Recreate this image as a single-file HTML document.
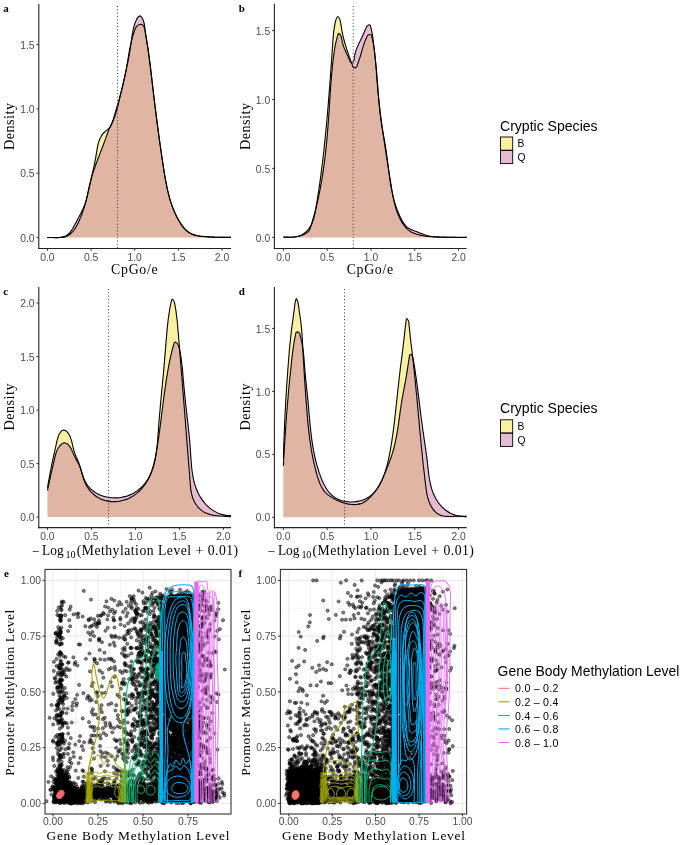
<!DOCTYPE html>
<html><head><meta charset="utf-8"><style>html,body{margin:0;padding:0;background:#fff;width:685px;height:845px;overflow:hidden}</style></head>
<body><div style="position:relative;width:685px;height:845px">
<svg width="685" height="845" viewBox="0 0 685 845" style="position:absolute;left:0;top:0;will-change:transform">
<rect width="685" height="845" fill="#fff"/>
<path d="M47.4 237.6C48.4 237.6 49.5 237.5 50.5 237.5C51.5 237.5 52.6 237.5 53.6 237.5C54.7 237.6 55.8 237.6 56.8 237.6C57.9 237.6 59.0 237.6 60.1 237.5C61.1 237.5 62.1 237.4 63.2 237.2C64.2 237.0 65.3 236.8 66.3 236.4C67.3 236.0 68.2 235.5 69.1 234.9C70.0 234.4 70.8 233.7 71.5 232.9C72.3 232.2 73.0 231.3 73.7 230.5C74.3 229.7 74.8 228.8 75.4 228.0C76.0 227.1 76.5 226.2 77.0 225.2C77.5 224.3 77.9 223.4 78.4 222.4C78.8 221.5 79.3 220.5 79.7 219.5C80.1 218.6 80.5 217.6 80.9 216.7C81.3 215.7 81.7 214.8 82.0 213.8C82.4 212.8 82.7 211.8 83.0 210.9C83.4 209.9 83.7 208.9 84.0 208.0C84.3 207.0 84.6 206.0 84.9 205.0C85.2 204.0 85.4 203.1 85.7 202.1C86.0 201.1 86.2 200.1 86.5 199.1C86.7 198.1 87.0 197.2 87.2 196.2C87.4 195.2 87.7 194.2 87.9 193.2C88.1 192.2 88.4 191.2 88.6 190.2C88.8 189.2 89.0 188.3 89.2 187.3C89.5 186.3 89.7 185.3 89.9 184.3C90.1 183.3 90.3 182.3 90.6 181.3C90.8 180.3 91.0 179.3 91.2 178.3C91.5 177.3 91.7 176.4 91.9 175.4C92.2 174.4 92.4 173.4 92.6 172.4C92.8 171.4 93.1 170.4 93.3 169.4C93.5 168.4 93.7 167.4 94.0 166.4C94.2 165.4 94.4 164.4 94.6 163.4C94.8 162.4 95.0 161.4 95.2 160.4C95.4 159.3 95.6 158.3 95.8 157.3C95.9 156.3 96.1 155.3 96.3 154.2C96.4 153.2 96.6 152.2 96.8 151.1C96.9 150.1 97.1 149.1 97.3 148.1C97.5 147.0 97.6 146.0 97.9 145.0C98.1 144.0 98.4 143.1 98.7 142.1C99.0 141.1 99.3 140.2 99.7 139.3C100.1 138.3 100.6 137.3 101.1 136.4C101.6 135.5 102.2 134.7 102.8 133.9C103.4 133.1 104.1 132.3 104.9 131.7C105.6 131.0 106.6 130.5 107.4 129.8C108.2 129.2 109.0 128.5 109.7 127.7C110.3 126.9 110.8 125.9 111.3 125.0C111.8 124.0 112.1 123.0 112.5 122.0C112.8 121.0 113.1 120.0 113.4 119.0C113.7 118.1 114.0 117.1 114.2 116.1C114.5 115.1 114.8 114.1 115.1 113.2C115.4 112.2 115.7 111.2 116.0 110.2C116.3 109.2 116.6 108.2 116.9 107.2C117.1 106.3 117.4 105.3 117.7 104.3C118.0 103.3 118.3 102.3 118.6 101.3C118.8 100.3 119.1 99.3 119.4 98.3C119.6 97.3 119.9 96.3 120.2 95.3C120.4 94.3 120.7 93.3 121.0 92.3C121.2 91.3 121.5 90.3 121.7 89.3C122.0 88.3 122.2 87.4 122.5 86.4C122.7 85.4 123.0 84.4 123.2 83.4C123.4 82.4 123.7 81.4 123.9 80.4C124.1 79.4 124.3 78.4 124.6 77.4C124.8 76.4 125.0 75.4 125.2 74.4C125.4 73.4 125.6 72.4 125.8 71.4C126.0 70.4 126.2 69.4 126.4 68.4C126.6 67.4 126.7 66.4 126.9 65.5C127.1 64.5 127.2 63.5 127.4 62.5C127.6 61.5 127.7 60.5 127.9 59.5C128.1 58.5 128.2 57.5 128.4 56.5C128.6 55.5 128.7 54.6 128.9 53.6C129.1 52.6 129.3 51.6 129.4 50.6C129.6 49.6 129.8 48.6 130.0 47.6C130.2 46.6 130.4 45.6 130.6 44.6C130.9 43.5 131.1 42.5 131.3 41.5C131.6 40.5 131.8 39.5 132.1 38.5C132.4 37.4 132.7 36.4 133.0 35.4C133.3 34.4 133.6 33.3 134.0 32.3C134.3 31.3 134.6 30.4 135.0 29.4C135.4 28.5 135.8 27.5 136.5 26.7C137.1 25.9 137.9 25.0 138.9 24.7C139.7 24.3 141.0 24.1 141.9 24.4C142.7 24.8 143.5 25.9 144.0 26.8C144.5 27.6 144.5 28.7 144.8 29.7C145.0 30.7 145.2 31.8 145.4 32.8C145.6 33.9 145.7 34.9 145.9 35.9C146.1 37.0 146.3 38.0 146.5 39.0C146.6 40.0 146.8 41.1 147.0 42.1C147.1 43.1 147.3 44.1 147.5 45.2C147.6 46.2 147.8 47.2 147.9 48.2C148.1 49.2 148.2 50.3 148.4 51.3C148.5 52.3 148.7 53.3 148.8 54.3C149.0 55.4 149.1 56.4 149.2 57.4C149.4 58.4 149.5 59.4 149.6 60.4C149.8 61.5 149.9 62.5 150.0 63.5C150.1 64.5 150.3 65.5 150.4 66.5C150.5 67.5 150.6 68.5 150.8 69.6C150.9 70.6 151.0 71.6 151.1 72.6C151.2 73.6 151.3 74.6 151.5 75.6C151.6 76.6 151.7 77.7 151.8 78.7C151.9 79.7 152.0 80.7 152.1 81.7C152.3 82.7 152.4 83.7 152.5 84.7C152.6 85.7 152.7 86.7 152.8 87.8C152.9 88.8 153.1 89.8 153.2 90.8C153.3 91.8 153.4 92.8 153.5 93.8C153.6 94.8 153.8 95.8 153.9 96.8C154.0 97.9 154.1 98.9 154.2 99.9C154.4 100.9 154.5 101.9 154.6 102.9C154.7 103.9 154.9 104.9 155.0 105.9C155.1 107.0 155.2 108.0 155.4 109.0C155.5 110.0 155.6 111.0 155.7 112.0C155.9 113.0 156.0 114.0 156.1 115.1C156.2 116.1 156.4 117.1 156.5 118.1C156.6 119.1 156.8 120.1 156.9 121.1C157.0 122.1 157.2 123.2 157.3 124.2C157.4 125.2 157.6 126.2 157.7 127.2C157.8 128.2 158.0 129.2 158.1 130.2C158.3 131.3 158.4 132.3 158.5 133.3C158.7 134.3 158.8 135.3 158.9 136.3C159.1 137.3 159.2 138.4 159.4 139.4C159.5 140.4 159.7 141.4 159.8 142.4C159.9 143.4 160.1 144.4 160.2 145.4C160.4 146.5 160.5 147.5 160.7 148.5C160.8 149.5 161.0 150.5 161.1 151.5C161.3 152.6 161.4 153.6 161.5 154.6C161.7 155.6 161.8 156.6 162.0 157.6C162.1 158.6 162.3 159.7 162.5 160.7C162.6 161.7 162.8 162.7 162.9 163.7C163.1 164.7 163.2 165.7 163.4 166.8C163.5 167.8 163.7 168.8 163.8 169.8C164.0 170.8 164.2 171.8 164.3 172.8C164.5 173.9 164.6 174.9 164.8 175.9C165.0 176.9 165.2 177.9 165.3 178.9C165.5 179.9 165.7 180.9 165.9 181.9C166.1 183.0 166.3 184.0 166.5 185.0C166.7 186.0 166.9 187.0 167.1 188.0C167.3 189.0 167.5 190.0 167.8 191.0C168.0 191.9 168.2 192.9 168.5 193.9C168.7 194.9 169.0 195.9 169.3 196.9C169.5 197.9 169.8 198.8 170.1 199.8C170.4 200.8 170.7 201.8 171.0 202.7C171.3 203.7 171.7 204.7 172.0 205.6C172.3 206.6 172.7 207.5 173.1 208.5C173.4 209.4 173.8 210.4 174.2 211.3C174.6 212.2 175.0 213.2 175.5 214.1C175.9 215.0 176.3 216.0 176.8 216.9C177.3 217.8 177.8 218.7 178.3 219.6C178.8 220.5 179.3 221.4 179.8 222.3C180.4 223.2 180.9 224.0 181.5 224.9C182.1 225.7 182.7 226.5 183.4 227.3C184.0 228.1 184.7 228.8 185.4 229.5C186.2 230.3 187.0 231.0 187.9 231.7C188.7 232.3 189.6 232.9 190.6 233.4C191.5 233.9 192.4 234.3 193.3 234.7C194.3 235.0 195.3 235.3 196.3 235.5C197.4 235.8 198.4 235.9 199.5 236.1C200.6 236.2 201.6 236.3 202.7 236.4C203.8 236.5 204.8 236.6 205.9 236.7C206.9 236.8 207.9 236.8 208.9 236.9C210.0 237.0 211.1 237.0 212.2 237.1C213.2 237.1 214.3 237.2 215.4 237.2C216.4 237.3 217.5 237.3 218.6 237.3C219.6 237.4 220.7 237.4 221.8 237.4C222.8 237.4 223.8 237.4 224.9 237.4C225.9 237.4 227.0 237.4 228.0 237.4C229.0 237.4 230.0 237.4 231.0 237.4 L231.00 237.60 L47.40 237.60 Z" fill="#F0E442" fill-opacity="0.5" stroke="none"/>
<path d="M47.4 237.6C48.5 237.6 49.5 237.5 50.6 237.5C51.6 237.5 52.7 237.6 53.8 237.6C54.8 237.6 55.8 237.7 56.8 237.6C57.8 237.6 58.8 237.6 59.8 237.5C60.9 237.4 62.0 237.2 63.0 236.9C63.9 236.7 64.9 236.3 65.8 235.9C66.7 235.4 67.6 234.7 68.4 234.0C69.1 233.3 69.8 232.6 70.4 231.8C71.1 231.0 71.7 230.1 72.2 229.2C72.8 228.3 73.4 227.4 73.9 226.4C74.4 225.6 74.8 224.7 75.3 223.8C75.8 222.9 76.3 221.9 76.8 220.9C77.3 220.0 77.8 219.0 78.3 218.1C78.8 217.2 79.3 216.3 79.8 215.3C80.3 214.4 80.8 213.5 81.2 212.6C81.7 211.6 82.1 210.7 82.6 209.8C83.0 208.9 83.4 207.9 83.8 207.0C84.2 206.0 84.6 205.1 85.0 204.1C85.3 203.2 85.6 202.2 85.9 201.2C86.2 200.2 86.5 199.2 86.8 198.2C87.0 197.2 87.2 196.1 87.5 195.1C87.7 194.0 87.9 193.0 88.1 192.0C88.3 190.9 88.5 189.9 88.8 188.8C89.0 187.8 89.2 186.8 89.4 185.7C89.7 184.7 89.9 183.7 90.2 182.7C90.4 181.7 90.7 180.6 91.0 179.6C91.2 178.6 91.5 177.6 91.8 176.6C92.1 175.6 92.4 174.7 92.7 173.7C93.0 172.7 93.4 171.7 93.7 170.7C94.0 169.7 94.4 168.7 94.7 167.8C95.0 166.8 95.4 165.8 95.7 164.8C96.1 163.9 96.5 162.9 96.8 161.9C97.2 160.9 97.6 160.0 97.9 159.0C98.3 158.0 98.7 157.0 99.1 156.0C99.4 155.1 99.8 154.1 100.2 153.1C100.6 152.1 100.9 151.2 101.3 150.2C101.7 149.2 102.1 148.2 102.4 147.2C102.8 146.3 103.2 145.3 103.5 144.3C103.9 143.3 104.3 142.3 104.6 141.3C105.0 140.4 105.3 139.4 105.7 138.4C106.0 137.4 106.4 136.4 106.7 135.4C107.1 134.5 107.4 133.5 107.8 132.5C108.2 131.5 108.5 130.5 108.9 129.6C109.3 128.6 109.7 127.7 110.2 126.7C110.6 125.8 111.1 124.8 111.5 123.9C111.9 122.9 112.4 122.0 112.8 121.0C113.3 120.1 113.7 119.1 114.1 118.1C114.5 117.2 114.8 116.2 115.2 115.2C115.5 114.2 115.8 113.2 116.1 112.2C116.4 111.2 116.7 110.2 117.0 109.2C117.3 108.2 117.5 107.2 117.8 106.2C118.1 105.2 118.3 104.1 118.6 103.1C118.8 102.1 119.0 101.1 119.3 100.1C119.5 99.0 119.8 98.0 120.0 97.0C120.3 96.0 120.5 95.0 120.7 93.9C121.0 92.9 121.2 91.9 121.5 90.9C121.7 89.9 121.9 88.9 122.2 87.8C122.4 86.8 122.7 85.8 122.9 84.8C123.1 83.8 123.4 82.7 123.6 81.7C123.8 80.7 124.1 79.7 124.3 78.7C124.5 77.7 124.8 76.6 125.0 75.6C125.2 74.6 125.4 73.6 125.7 72.6C125.9 71.5 126.1 70.5 126.3 69.5C126.5 68.5 126.7 67.5 127.0 66.4C127.2 65.4 127.4 64.4 127.6 63.4C127.8 62.3 128.0 61.3 128.2 60.3C128.4 59.3 128.6 58.2 128.8 57.2C129.0 56.2 129.1 55.2 129.3 54.1C129.5 53.1 129.7 52.1 129.9 51.0C130.0 50.0 130.2 49.0 130.4 48.0C130.5 46.9 130.7 45.9 130.8 44.9C131.0 43.8 131.1 42.8 131.3 41.8C131.4 40.7 131.5 39.7 131.7 38.6C131.8 37.6 132.0 36.6 132.1 35.5C132.3 34.5 132.5 33.4 132.7 32.4C132.8 31.4 133.0 30.3 133.3 29.3C133.5 28.3 133.8 27.2 134.1 26.2C134.4 25.2 134.7 24.1 135.0 23.1C135.4 22.1 135.7 21.2 136.2 20.3C136.6 19.4 136.9 18.3 137.5 17.6C138.2 16.8 139.2 15.8 140.0 15.9C140.8 16.0 141.6 17.3 142.2 18.2C142.8 19.1 143.1 20.1 143.5 21.0C143.8 22.0 144.0 23.0 144.3 24.0C144.5 25.0 144.6 25.9 144.7 27.0C144.9 28.0 145.0 29.1 145.1 30.2C145.2 31.3 145.4 32.3 145.5 33.4C145.7 34.4 145.8 35.4 146.0 36.5C146.1 37.5 146.3 38.5 146.5 39.5C146.6 40.5 146.8 41.6 146.9 42.6C147.1 43.6 147.3 44.6 147.4 45.6C147.6 46.7 147.7 47.7 147.9 48.7C148.0 49.7 148.2 50.8 148.3 51.8C148.5 52.8 148.6 53.9 148.8 54.9C148.9 55.9 149.0 57.0 149.2 58.0C149.3 59.0 149.5 60.1 149.6 61.1C149.7 62.1 149.9 63.2 150.0 64.2C150.1 65.3 150.3 66.3 150.4 67.3C150.5 68.4 150.6 69.4 150.8 70.5C150.9 71.5 151.0 72.5 151.1 73.6C151.3 74.6 151.4 75.7 151.5 76.7C151.6 77.7 151.8 78.8 151.9 79.8C152.0 80.9 152.1 81.9 152.3 83.0C152.4 84.0 152.5 85.0 152.6 86.1C152.8 87.1 152.9 88.2 153.0 89.2C153.1 90.3 153.3 91.3 153.4 92.3C153.5 93.4 153.6 94.4 153.8 95.5C153.9 96.5 154.0 97.5 154.1 98.6C154.3 99.6 154.4 100.7 154.5 101.7C154.6 102.7 154.8 103.8 154.9 104.8C155.0 105.8 155.1 106.9 155.3 107.9C155.4 109.0 155.5 110.0 155.7 111.0C155.8 112.1 155.9 113.1 156.1 114.1C156.2 115.2 156.3 116.2 156.4 117.2C156.6 118.3 156.7 119.3 156.8 120.3C157.0 121.4 157.1 122.4 157.2 123.4C157.4 124.5 157.5 125.5 157.7 126.5C157.8 127.6 157.9 128.6 158.1 129.6C158.2 130.7 158.3 131.7 158.5 132.8C158.6 133.8 158.8 134.8 158.9 135.9C159.0 136.9 159.2 137.9 159.3 139.0C159.5 140.0 159.6 141.0 159.7 142.1C159.9 143.1 160.0 144.1 160.2 145.2C160.3 146.2 160.5 147.2 160.6 148.3C160.8 149.3 160.9 150.3 161.1 151.4C161.2 152.4 161.4 153.4 161.5 154.5C161.7 155.5 161.8 156.5 162.0 157.6C162.1 158.6 162.3 159.7 162.4 160.7C162.6 161.7 162.7 162.8 162.9 163.8C163.0 164.8 163.2 165.9 163.4 166.9C163.5 168.0 163.7 169.0 163.8 170.0C164.0 171.1 164.2 172.1 164.3 173.1C164.5 174.2 164.7 175.2 164.9 176.3C165.0 177.3 165.2 178.3 165.4 179.4C165.6 180.4 165.8 181.4 166.0 182.5C166.2 183.5 166.4 184.5 166.6 185.6C166.8 186.6 167.0 187.6 167.2 188.6C167.4 189.7 167.7 190.7 167.9 191.7C168.2 192.7 168.4 193.7 168.7 194.7C168.9 195.7 169.2 196.8 169.5 197.8C169.8 198.8 170.1 199.8 170.4 200.8C170.7 201.8 171.0 202.7 171.4 203.7C171.7 204.7 172.0 205.7 172.4 206.7C172.8 207.7 173.1 208.6 173.5 209.6C173.9 210.6 174.3 211.5 174.7 212.5C175.2 213.4 175.6 214.4 176.1 215.3C176.5 216.3 177.0 217.2 177.5 218.2C178.0 219.1 178.5 220.0 179.0 220.9C179.5 221.8 180.1 222.7 180.7 223.6C181.3 224.5 181.9 225.4 182.5 226.2C183.1 227.0 183.8 227.8 184.5 228.6C185.2 229.3 185.9 230.0 186.7 230.7C187.5 231.4 188.3 232.0 189.1 232.5C190.0 233.1 190.9 233.6 191.8 234.0C192.7 234.5 193.7 234.8 194.8 235.1C195.8 235.4 196.9 235.6 197.9 235.8C198.9 236.0 199.9 236.1 200.9 236.3C201.9 236.4 202.9 236.5 203.9 236.6C205.0 236.6 206.1 236.7 207.1 236.8C208.2 236.9 209.2 236.9 210.2 237.0C211.2 237.1 212.3 237.1 213.3 237.1C214.3 237.2 215.3 237.2 216.3 237.3C217.3 237.3 218.3 237.3 219.3 237.3C220.3 237.4 221.3 237.4 222.4 237.4C223.4 237.4 224.4 237.4 225.5 237.4C226.6 237.4 227.8 237.4 228.8 237.4C229.6 237.4 230.3 237.4 231.0 237.4 L231.00 237.60 L47.40 237.60 Z" fill="#CC79A7" fill-opacity="0.5" stroke="none"/>
<path d="M47.4 237.6C48.4 237.6 49.5 237.5 50.5 237.5C51.5 237.5 52.6 237.5 53.6 237.5C54.7 237.6 55.8 237.6 56.8 237.6C57.9 237.6 59.0 237.6 60.1 237.5C61.1 237.5 62.1 237.4 63.2 237.2C64.2 237.0 65.3 236.8 66.3 236.4C67.3 236.0 68.2 235.5 69.1 234.9C70.0 234.4 70.8 233.7 71.5 232.9C72.3 232.2 73.0 231.3 73.7 230.5C74.3 229.7 74.8 228.8 75.4 228.0C76.0 227.1 76.5 226.2 77.0 225.2C77.5 224.3 77.9 223.4 78.4 222.4C78.8 221.5 79.3 220.5 79.7 219.5C80.1 218.6 80.5 217.6 80.9 216.7C81.3 215.7 81.7 214.8 82.0 213.8C82.4 212.8 82.7 211.8 83.0 210.9C83.4 209.9 83.7 208.9 84.0 208.0C84.3 207.0 84.6 206.0 84.9 205.0C85.2 204.0 85.4 203.1 85.7 202.1C86.0 201.1 86.2 200.1 86.5 199.1C86.7 198.1 87.0 197.2 87.2 196.2C87.4 195.2 87.7 194.2 87.9 193.2C88.1 192.2 88.4 191.2 88.6 190.2C88.8 189.2 89.0 188.3 89.2 187.3C89.5 186.3 89.7 185.3 89.9 184.3C90.1 183.3 90.3 182.3 90.6 181.3C90.8 180.3 91.0 179.3 91.2 178.3C91.5 177.3 91.7 176.4 91.9 175.4C92.2 174.4 92.4 173.4 92.6 172.4C92.8 171.4 93.1 170.4 93.3 169.4C93.5 168.4 93.7 167.4 94.0 166.4C94.2 165.4 94.4 164.4 94.6 163.4C94.8 162.4 95.0 161.4 95.2 160.4C95.4 159.3 95.6 158.3 95.8 157.3C95.9 156.3 96.1 155.3 96.3 154.2C96.4 153.2 96.6 152.2 96.8 151.1C96.9 150.1 97.1 149.1 97.3 148.1C97.5 147.0 97.6 146.0 97.9 145.0C98.1 144.0 98.4 143.1 98.7 142.1C99.0 141.1 99.3 140.2 99.7 139.3C100.1 138.3 100.6 137.3 101.1 136.4C101.6 135.5 102.2 134.7 102.8 133.9C103.4 133.1 104.1 132.3 104.9 131.7C105.6 131.0 106.6 130.5 107.4 129.8C108.2 129.2 109.0 128.5 109.7 127.7C110.3 126.9 110.8 125.9 111.3 125.0C111.8 124.0 112.1 123.0 112.5 122.0C112.8 121.0 113.1 120.0 113.4 119.0C113.7 118.1 114.0 117.1 114.2 116.1C114.5 115.1 114.8 114.1 115.1 113.2C115.4 112.2 115.7 111.2 116.0 110.2C116.3 109.2 116.6 108.2 116.9 107.2C117.1 106.3 117.4 105.3 117.7 104.3C118.0 103.3 118.3 102.3 118.6 101.3C118.8 100.3 119.1 99.3 119.4 98.3C119.6 97.3 119.9 96.3 120.2 95.3C120.4 94.3 120.7 93.3 121.0 92.3C121.2 91.3 121.5 90.3 121.7 89.3C122.0 88.3 122.2 87.4 122.5 86.4C122.7 85.4 123.0 84.4 123.2 83.4C123.4 82.4 123.7 81.4 123.9 80.4C124.1 79.4 124.3 78.4 124.6 77.4C124.8 76.4 125.0 75.4 125.2 74.4C125.4 73.4 125.6 72.4 125.8 71.4C126.0 70.4 126.2 69.4 126.4 68.4C126.6 67.4 126.7 66.4 126.9 65.5C127.1 64.5 127.2 63.5 127.4 62.5C127.6 61.5 127.7 60.5 127.9 59.5C128.1 58.5 128.2 57.5 128.4 56.5C128.6 55.5 128.7 54.6 128.9 53.6C129.1 52.6 129.3 51.6 129.4 50.6C129.6 49.6 129.8 48.6 130.0 47.6C130.2 46.6 130.4 45.6 130.6 44.6C130.9 43.5 131.1 42.5 131.3 41.5C131.6 40.5 131.8 39.5 132.1 38.5C132.4 37.4 132.7 36.4 133.0 35.4C133.3 34.4 133.6 33.3 134.0 32.3C134.3 31.3 134.6 30.4 135.0 29.4C135.4 28.5 135.8 27.5 136.5 26.7C137.1 25.9 137.9 25.0 138.9 24.7C139.7 24.3 141.0 24.1 141.9 24.4C142.7 24.8 143.5 25.9 144.0 26.8C144.5 27.6 144.5 28.7 144.8 29.7C145.0 30.7 145.2 31.8 145.4 32.8C145.6 33.9 145.7 34.9 145.9 35.9C146.1 37.0 146.3 38.0 146.5 39.0C146.6 40.0 146.8 41.1 147.0 42.1C147.1 43.1 147.3 44.1 147.5 45.2C147.6 46.2 147.8 47.2 147.9 48.2C148.1 49.2 148.2 50.3 148.4 51.3C148.5 52.3 148.7 53.3 148.8 54.3C149.0 55.4 149.1 56.4 149.2 57.4C149.4 58.4 149.5 59.4 149.6 60.4C149.8 61.5 149.9 62.5 150.0 63.5C150.1 64.5 150.3 65.5 150.4 66.5C150.5 67.5 150.6 68.5 150.8 69.6C150.9 70.6 151.0 71.6 151.1 72.6C151.2 73.6 151.3 74.6 151.5 75.6C151.6 76.6 151.7 77.7 151.8 78.7C151.9 79.7 152.0 80.7 152.1 81.7C152.3 82.7 152.4 83.7 152.5 84.7C152.6 85.7 152.7 86.7 152.8 87.8C152.9 88.8 153.1 89.8 153.2 90.8C153.3 91.8 153.4 92.8 153.5 93.8C153.6 94.8 153.8 95.8 153.9 96.8C154.0 97.9 154.1 98.9 154.2 99.9C154.4 100.9 154.5 101.9 154.6 102.9C154.7 103.9 154.9 104.9 155.0 105.9C155.1 107.0 155.2 108.0 155.4 109.0C155.5 110.0 155.6 111.0 155.7 112.0C155.9 113.0 156.0 114.0 156.1 115.1C156.2 116.1 156.4 117.1 156.5 118.1C156.6 119.1 156.8 120.1 156.9 121.1C157.0 122.1 157.2 123.2 157.3 124.2C157.4 125.2 157.6 126.2 157.7 127.2C157.8 128.2 158.0 129.2 158.1 130.2C158.3 131.3 158.4 132.3 158.5 133.3C158.7 134.3 158.8 135.3 158.9 136.3C159.1 137.3 159.2 138.4 159.4 139.4C159.5 140.4 159.7 141.4 159.8 142.4C159.9 143.4 160.1 144.4 160.2 145.4C160.4 146.5 160.5 147.5 160.7 148.5C160.8 149.5 161.0 150.5 161.1 151.5C161.3 152.6 161.4 153.6 161.5 154.6C161.7 155.6 161.8 156.6 162.0 157.6C162.1 158.6 162.3 159.7 162.5 160.7C162.6 161.7 162.8 162.7 162.9 163.7C163.1 164.7 163.2 165.7 163.4 166.8C163.5 167.8 163.7 168.8 163.8 169.8C164.0 170.8 164.2 171.8 164.3 172.8C164.5 173.9 164.6 174.9 164.8 175.9C165.0 176.9 165.2 177.9 165.3 178.9C165.5 179.9 165.7 180.9 165.9 181.9C166.1 183.0 166.3 184.0 166.5 185.0C166.7 186.0 166.9 187.0 167.1 188.0C167.3 189.0 167.5 190.0 167.8 191.0C168.0 191.9 168.2 192.9 168.5 193.9C168.7 194.9 169.0 195.9 169.3 196.9C169.5 197.9 169.8 198.8 170.1 199.8C170.4 200.8 170.7 201.8 171.0 202.7C171.3 203.7 171.7 204.7 172.0 205.6C172.3 206.6 172.7 207.5 173.1 208.5C173.4 209.4 173.8 210.4 174.2 211.3C174.6 212.2 175.0 213.2 175.5 214.1C175.9 215.0 176.3 216.0 176.8 216.9C177.3 217.8 177.8 218.7 178.3 219.6C178.8 220.5 179.3 221.4 179.8 222.3C180.4 223.2 180.9 224.0 181.5 224.9C182.1 225.7 182.7 226.5 183.4 227.3C184.0 228.1 184.7 228.8 185.4 229.5C186.2 230.3 187.0 231.0 187.9 231.7C188.7 232.3 189.6 232.9 190.6 233.4C191.5 233.9 192.4 234.3 193.3 234.7C194.3 235.0 195.3 235.3 196.3 235.5C197.4 235.8 198.4 235.9 199.5 236.1C200.6 236.2 201.6 236.3 202.7 236.4C203.8 236.5 204.8 236.6 205.9 236.7C206.9 236.8 207.9 236.8 208.9 236.9C210.0 237.0 211.1 237.0 212.2 237.1C213.2 237.1 214.3 237.2 215.4 237.2C216.4 237.3 217.5 237.3 218.6 237.3C219.6 237.4 220.7 237.4 221.8 237.4C222.8 237.4 223.8 237.4 224.9 237.4C225.9 237.4 227.0 237.4 228.0 237.4C229.0 237.4 230.0 237.4 231.0 237.4" fill="none" stroke="#000" stroke-width="1.1"/>
<path d="M47.4 237.6C48.5 237.6 49.5 237.5 50.6 237.5C51.6 237.5 52.7 237.6 53.8 237.6C54.8 237.6 55.8 237.7 56.8 237.6C57.8 237.6 58.8 237.6 59.8 237.5C60.9 237.4 62.0 237.2 63.0 236.9C63.9 236.7 64.9 236.3 65.8 235.9C66.7 235.4 67.6 234.7 68.4 234.0C69.1 233.3 69.8 232.6 70.4 231.8C71.1 231.0 71.7 230.1 72.2 229.2C72.8 228.3 73.4 227.4 73.9 226.4C74.4 225.6 74.8 224.7 75.3 223.8C75.8 222.9 76.3 221.9 76.8 220.9C77.3 220.0 77.8 219.0 78.3 218.1C78.8 217.2 79.3 216.3 79.8 215.3C80.3 214.4 80.8 213.5 81.2 212.6C81.7 211.6 82.1 210.7 82.6 209.8C83.0 208.9 83.4 207.9 83.8 207.0C84.2 206.0 84.6 205.1 85.0 204.1C85.3 203.2 85.6 202.2 85.9 201.2C86.2 200.2 86.5 199.2 86.8 198.2C87.0 197.2 87.2 196.1 87.5 195.1C87.7 194.0 87.9 193.0 88.1 192.0C88.3 190.9 88.5 189.9 88.8 188.8C89.0 187.8 89.2 186.8 89.4 185.7C89.7 184.7 89.9 183.7 90.2 182.7C90.4 181.7 90.7 180.6 91.0 179.6C91.2 178.6 91.5 177.6 91.8 176.6C92.1 175.6 92.4 174.7 92.7 173.7C93.0 172.7 93.4 171.7 93.7 170.7C94.0 169.7 94.4 168.7 94.7 167.8C95.0 166.8 95.4 165.8 95.7 164.8C96.1 163.9 96.5 162.9 96.8 161.9C97.2 160.9 97.6 160.0 97.9 159.0C98.3 158.0 98.7 157.0 99.1 156.0C99.4 155.1 99.8 154.1 100.2 153.1C100.6 152.1 100.9 151.2 101.3 150.2C101.7 149.2 102.1 148.2 102.4 147.2C102.8 146.3 103.2 145.3 103.5 144.3C103.9 143.3 104.3 142.3 104.6 141.3C105.0 140.4 105.3 139.4 105.7 138.4C106.0 137.4 106.4 136.4 106.7 135.4C107.1 134.5 107.4 133.5 107.8 132.5C108.2 131.5 108.5 130.5 108.9 129.6C109.3 128.6 109.7 127.7 110.2 126.7C110.6 125.8 111.1 124.8 111.5 123.9C111.9 122.9 112.4 122.0 112.8 121.0C113.3 120.1 113.7 119.1 114.1 118.1C114.5 117.2 114.8 116.2 115.2 115.2C115.5 114.2 115.8 113.2 116.1 112.2C116.4 111.2 116.7 110.2 117.0 109.2C117.3 108.2 117.5 107.2 117.8 106.2C118.1 105.2 118.3 104.1 118.6 103.1C118.8 102.1 119.0 101.1 119.3 100.1C119.5 99.0 119.8 98.0 120.0 97.0C120.3 96.0 120.5 95.0 120.7 93.9C121.0 92.9 121.2 91.9 121.5 90.9C121.7 89.9 121.9 88.9 122.2 87.8C122.4 86.8 122.7 85.8 122.9 84.8C123.1 83.8 123.4 82.7 123.6 81.7C123.8 80.7 124.1 79.7 124.3 78.7C124.5 77.7 124.8 76.6 125.0 75.6C125.2 74.6 125.4 73.6 125.7 72.6C125.9 71.5 126.1 70.5 126.3 69.5C126.5 68.5 126.7 67.5 127.0 66.4C127.2 65.4 127.4 64.4 127.6 63.4C127.8 62.3 128.0 61.3 128.2 60.3C128.4 59.3 128.6 58.2 128.8 57.2C129.0 56.2 129.1 55.2 129.3 54.1C129.5 53.1 129.7 52.1 129.9 51.0C130.0 50.0 130.2 49.0 130.4 48.0C130.5 46.9 130.7 45.9 130.8 44.9C131.0 43.8 131.1 42.8 131.3 41.8C131.4 40.7 131.5 39.7 131.7 38.6C131.8 37.6 132.0 36.6 132.1 35.5C132.3 34.5 132.5 33.4 132.7 32.4C132.8 31.4 133.0 30.3 133.3 29.3C133.5 28.3 133.8 27.2 134.1 26.2C134.4 25.2 134.7 24.1 135.0 23.1C135.4 22.1 135.7 21.2 136.2 20.3C136.6 19.4 136.9 18.3 137.5 17.6C138.2 16.8 139.2 15.8 140.0 15.9C140.8 16.0 141.6 17.3 142.2 18.2C142.8 19.1 143.1 20.1 143.5 21.0C143.8 22.0 144.0 23.0 144.3 24.0C144.5 25.0 144.6 25.9 144.7 27.0C144.9 28.0 145.0 29.1 145.1 30.2C145.2 31.3 145.4 32.3 145.5 33.4C145.7 34.4 145.8 35.4 146.0 36.5C146.1 37.5 146.3 38.5 146.5 39.5C146.6 40.5 146.8 41.6 146.9 42.6C147.1 43.6 147.3 44.6 147.4 45.6C147.6 46.7 147.7 47.7 147.9 48.7C148.0 49.7 148.2 50.8 148.3 51.8C148.5 52.8 148.6 53.9 148.8 54.9C148.9 55.9 149.0 57.0 149.2 58.0C149.3 59.0 149.5 60.1 149.6 61.1C149.7 62.1 149.9 63.2 150.0 64.2C150.1 65.3 150.3 66.3 150.4 67.3C150.5 68.4 150.6 69.4 150.8 70.5C150.9 71.5 151.0 72.5 151.1 73.6C151.3 74.6 151.4 75.7 151.5 76.7C151.6 77.7 151.8 78.8 151.9 79.8C152.0 80.9 152.1 81.9 152.3 83.0C152.4 84.0 152.5 85.0 152.6 86.1C152.8 87.1 152.9 88.2 153.0 89.2C153.1 90.3 153.3 91.3 153.4 92.3C153.5 93.4 153.6 94.4 153.8 95.5C153.9 96.5 154.0 97.5 154.1 98.6C154.3 99.6 154.4 100.7 154.5 101.7C154.6 102.7 154.8 103.8 154.9 104.8C155.0 105.8 155.1 106.9 155.3 107.9C155.4 109.0 155.5 110.0 155.7 111.0C155.8 112.1 155.9 113.1 156.1 114.1C156.2 115.2 156.3 116.2 156.4 117.2C156.6 118.3 156.7 119.3 156.8 120.3C157.0 121.4 157.1 122.4 157.2 123.4C157.4 124.5 157.5 125.5 157.7 126.5C157.8 127.6 157.9 128.6 158.1 129.6C158.2 130.7 158.3 131.7 158.5 132.8C158.6 133.8 158.8 134.8 158.9 135.9C159.0 136.9 159.2 137.9 159.3 139.0C159.5 140.0 159.6 141.0 159.7 142.1C159.9 143.1 160.0 144.1 160.2 145.2C160.3 146.2 160.5 147.2 160.6 148.3C160.8 149.3 160.9 150.3 161.1 151.4C161.2 152.4 161.4 153.4 161.5 154.5C161.7 155.5 161.8 156.5 162.0 157.6C162.1 158.6 162.3 159.7 162.4 160.7C162.6 161.7 162.7 162.8 162.9 163.8C163.0 164.8 163.2 165.9 163.4 166.9C163.5 168.0 163.7 169.0 163.8 170.0C164.0 171.1 164.2 172.1 164.3 173.1C164.5 174.2 164.7 175.2 164.9 176.3C165.0 177.3 165.2 178.3 165.4 179.4C165.6 180.4 165.8 181.4 166.0 182.5C166.2 183.5 166.4 184.5 166.6 185.6C166.8 186.6 167.0 187.6 167.2 188.6C167.4 189.7 167.7 190.7 167.9 191.7C168.2 192.7 168.4 193.7 168.7 194.7C168.9 195.7 169.2 196.8 169.5 197.8C169.8 198.8 170.1 199.8 170.4 200.8C170.7 201.8 171.0 202.7 171.4 203.7C171.7 204.7 172.0 205.7 172.4 206.7C172.8 207.7 173.1 208.6 173.5 209.6C173.9 210.6 174.3 211.5 174.7 212.5C175.2 213.4 175.6 214.4 176.1 215.3C176.5 216.3 177.0 217.2 177.5 218.2C178.0 219.1 178.5 220.0 179.0 220.9C179.5 221.8 180.1 222.7 180.7 223.6C181.3 224.5 181.9 225.4 182.5 226.2C183.1 227.0 183.8 227.8 184.5 228.6C185.2 229.3 185.9 230.0 186.7 230.7C187.5 231.4 188.3 232.0 189.1 232.5C190.0 233.1 190.9 233.6 191.8 234.0C192.7 234.5 193.7 234.8 194.8 235.1C195.8 235.4 196.9 235.6 197.9 235.8C198.9 236.0 199.9 236.1 200.9 236.3C201.9 236.4 202.9 236.5 203.9 236.6C205.0 236.6 206.1 236.7 207.1 236.8C208.2 236.9 209.2 236.9 210.2 237.0C211.2 237.1 212.3 237.1 213.3 237.1C214.3 237.2 215.3 237.2 216.3 237.3C217.3 237.3 218.3 237.3 219.3 237.3C220.3 237.4 221.3 237.4 222.4 237.4C223.4 237.4 224.4 237.4 225.5 237.4C226.6 237.4 227.8 237.4 228.8 237.4C229.6 237.4 230.3 237.4 231.0 237.4" fill="none" stroke="#000" stroke-width="1.1"/>
<line x1="117.50" y1="6.00" x2="117.50" y2="248.50" stroke="#222" stroke-width="0.9" stroke-dasharray="1 2.35"/>
<line x1="38.80" y1="4.00" x2="38.80" y2="249.05" stroke="#222" stroke-width="1.1"/>
<line x1="38.25" y1="248.50" x2="231.00" y2="248.50" stroke="#222" stroke-width="1.1"/>
<line x1="36.50" y1="237.60" x2="38.80" y2="237.60" stroke="#333333" stroke-width="1"/>
<text x="34.60" y="241.70" font-family="Liberation Sans, sans-serif" font-size="10.3" fill="#4D4D4D" text-anchor="end">0.0</text>
<line x1="36.50" y1="173.25" x2="38.80" y2="173.25" stroke="#333333" stroke-width="1"/>
<text x="34.60" y="177.35" font-family="Liberation Sans, sans-serif" font-size="10.3" fill="#4D4D4D" text-anchor="end">0.5</text>
<line x1="36.50" y1="108.90" x2="38.80" y2="108.90" stroke="#333333" stroke-width="1"/>
<text x="34.60" y="113.00" font-family="Liberation Sans, sans-serif" font-size="10.3" fill="#4D4D4D" text-anchor="end">1.0</text>
<line x1="36.50" y1="44.55" x2="38.80" y2="44.55" stroke="#333333" stroke-width="1"/>
<text x="34.60" y="48.65" font-family="Liberation Sans, sans-serif" font-size="10.3" fill="#4D4D4D" text-anchor="end">1.5</text>
<line x1="47.40" y1="248.50" x2="47.40" y2="250.80" stroke="#333333" stroke-width="1"/>
<text x="47.40" y="260.70" font-family="Liberation Sans, sans-serif" font-size="10.3" fill="#4D4D4D" text-anchor="middle">0.0</text>
<line x1="91.05" y1="248.50" x2="91.05" y2="250.80" stroke="#333333" stroke-width="1"/>
<text x="91.05" y="260.70" font-family="Liberation Sans, sans-serif" font-size="10.3" fill="#4D4D4D" text-anchor="middle">0.5</text>
<line x1="134.70" y1="248.50" x2="134.70" y2="250.80" stroke="#333333" stroke-width="1"/>
<text x="134.70" y="260.70" font-family="Liberation Sans, sans-serif" font-size="10.3" fill="#4D4D4D" text-anchor="middle">1.0</text>
<line x1="178.35" y1="248.50" x2="178.35" y2="250.80" stroke="#333333" stroke-width="1"/>
<text x="178.35" y="260.70" font-family="Liberation Sans, sans-serif" font-size="10.3" fill="#4D4D4D" text-anchor="middle">1.5</text>
<line x1="222.00" y1="248.50" x2="222.00" y2="250.80" stroke="#333333" stroke-width="1"/>
<text x="222.00" y="260.70" font-family="Liberation Sans, sans-serif" font-size="10.3" fill="#4D4D4D" text-anchor="middle">2.0</text>
<text x="3.3" y="11.5" font-family="Liberation Serif, serif" font-size="11" font-weight="bold">a</text>
<path d="M283.4 237.0C284.5 237.0 285.6 237.1 286.6 237.1C287.6 237.1 288.6 237.2 289.7 237.2C290.7 237.2 291.7 237.2 292.7 237.1C293.8 237.0 294.8 237.0 295.8 236.8C296.8 236.6 297.8 236.4 298.8 236.1C299.7 235.9 300.7 235.5 301.6 235.1C302.4 234.6 303.3 234.1 304.1 233.5C304.9 232.9 305.7 232.2 306.4 231.5C307.2 230.8 307.8 230.1 308.5 229.3C309.1 228.4 309.8 227.5 310.3 226.6C310.9 225.7 311.4 224.7 311.8 223.7C312.3 222.7 312.6 221.7 313.0 220.7C313.4 219.7 313.7 218.6 314.0 217.6C314.2 216.6 314.4 215.6 314.7 214.7C314.9 213.7 315.1 212.7 315.3 211.7C315.5 210.7 315.6 209.7 315.8 208.7C316.0 207.7 316.1 206.7 316.3 205.7C316.5 204.7 316.7 203.7 316.8 202.7C317.0 201.7 317.1 200.7 317.3 199.7C317.5 198.7 317.6 197.7 317.8 196.7C317.9 195.7 318.1 194.7 318.2 193.7C318.4 192.7 318.6 191.7 318.7 190.7C318.9 189.7 319.0 188.7 319.1 187.7C319.3 186.7 319.4 185.7 319.6 184.7C319.7 183.6 319.9 182.6 320.0 181.6C320.1 180.6 320.3 179.6 320.4 178.6C320.6 177.6 320.7 176.6 320.8 175.6C321.0 174.6 321.1 173.6 321.2 172.6C321.4 171.6 321.5 170.6 321.6 169.6C321.7 168.6 321.9 167.6 322.0 166.6C322.1 165.6 322.2 164.6 322.4 163.6C322.5 162.6 322.6 161.6 322.7 160.6C322.8 159.6 323.0 158.6 323.1 157.6C323.2 156.6 323.3 155.6 323.4 154.6C323.5 153.6 323.6 152.6 323.8 151.6C323.9 150.6 324.0 149.6 324.1 148.6C324.2 147.6 324.3 146.6 324.4 145.6C324.5 144.6 324.6 143.6 324.7 142.6C324.8 141.6 324.9 140.6 325.0 139.6C325.1 138.6 325.2 137.6 325.3 136.6C325.4 135.6 325.5 134.6 325.6 133.6C325.7 132.6 325.8 131.6 325.9 130.6C326.0 129.6 326.1 128.6 326.2 127.6C326.3 126.6 326.4 125.6 326.5 124.6C326.6 123.6 326.7 122.6 326.8 121.6C326.9 120.6 326.9 119.6 327.0 118.6C327.1 117.6 327.2 116.6 327.3 115.6C327.4 114.6 327.5 113.5 327.6 112.5C327.6 111.5 327.7 110.5 327.8 109.5C327.9 108.5 328.0 107.5 328.1 106.5C328.1 105.5 328.2 104.5 328.3 103.5C328.4 102.5 328.5 101.5 328.5 100.5C328.6 99.5 328.7 98.5 328.8 97.5C328.9 96.5 328.9 95.5 329.0 94.5C329.1 93.5 329.2 92.5 329.2 91.5C329.3 90.5 329.4 89.5 329.5 88.5C329.6 87.5 329.6 86.5 329.7 85.5C329.8 84.5 329.9 83.5 329.9 82.5C330.0 81.5 330.1 80.5 330.2 79.5C330.2 78.5 330.3 77.5 330.4 76.5C330.4 75.5 330.5 74.5 330.6 73.5C330.7 72.5 330.7 71.5 330.8 70.5C330.9 69.5 331.0 68.5 331.0 67.5C331.1 66.5 331.2 65.5 331.2 64.5C331.3 63.5 331.4 62.5 331.5 61.5C331.5 60.5 331.6 59.5 331.7 58.5C331.7 57.5 331.8 56.5 331.9 55.5C331.9 54.5 332.0 53.5 332.1 52.5C332.2 51.5 332.2 50.5 332.3 49.5C332.4 48.5 332.4 47.5 332.5 46.5C332.6 45.4 332.7 44.4 332.7 43.4C332.8 42.4 332.9 41.4 332.9 40.4C333.0 39.4 333.1 38.4 333.2 37.4C333.2 36.4 333.3 35.4 333.4 34.4C333.5 33.4 333.6 32.4 333.7 31.4C333.9 30.4 334.0 29.4 334.2 28.3C334.3 27.3 334.5 26.3 334.7 25.3C334.9 24.2 335.1 23.2 335.3 22.2C335.6 21.1 335.7 20.0 336.2 19.0C336.6 18.1 337.3 16.5 337.9 16.5C338.5 16.5 339.3 18.3 339.7 19.3C340.1 20.2 340.3 21.2 340.5 22.2C340.7 23.3 340.9 24.3 341.1 25.3C341.3 26.4 341.4 27.5 341.6 28.6C341.8 29.6 341.9 30.7 342.1 31.8C342.3 32.8 342.6 33.9 342.8 35.0C343.0 36.0 343.3 37.1 343.5 38.2C343.8 39.2 344.1 40.3 344.4 41.3C344.6 42.3 344.9 43.3 345.2 44.2C345.5 45.2 345.8 46.1 346.1 47.1C346.4 48.1 346.7 49.0 347.0 50.0C347.3 51.0 347.6 51.9 348.0 52.9C348.3 53.8 348.6 54.8 349.0 55.8C349.3 56.7 349.6 57.7 350.0 58.7C350.3 59.6 350.7 60.6 351.0 61.5C351.4 62.5 351.7 63.5 352.1 64.4C352.5 65.3 352.6 66.7 353.3 67.2C354.0 67.7 355.6 67.8 356.3 67.3C357.0 66.9 357.2 65.3 357.6 64.3C358.0 63.3 358.3 62.3 358.7 61.3C359.0 60.3 359.3 59.4 359.6 58.4C359.9 57.4 360.3 56.3 360.6 55.3C360.9 54.3 361.2 53.2 361.5 52.2C361.8 51.2 362.1 50.1 362.4 49.1C362.7 48.1 363.0 47.2 363.3 46.2C363.6 45.3 363.9 44.3 364.2 43.3C364.5 42.3 364.9 41.3 365.3 40.4C365.7 39.4 366.1 38.5 366.6 37.5C367.0 36.6 367.3 35.3 368.1 34.9C368.9 34.5 370.5 34.4 371.2 34.9C371.8 35.4 371.8 36.8 372.1 37.8C372.3 38.8 372.6 39.9 372.8 40.9C373.1 41.9 373.2 42.9 373.4 43.9C373.6 45.0 373.8 46.1 374.0 47.1C374.1 48.2 374.3 49.3 374.4 50.4C374.5 51.5 374.7 52.6 374.8 53.7C374.9 54.7 375.0 55.7 375.1 56.7C375.2 57.7 375.3 58.7 375.4 59.7C375.5 60.7 375.6 61.7 375.7 62.7C375.8 63.7 375.8 64.7 375.9 65.7C376.0 66.7 376.1 67.7 376.1 68.7C376.2 69.7 376.3 70.7 376.4 71.7C376.4 72.7 376.5 73.7 376.6 74.7C376.6 75.7 376.7 76.7 376.8 77.7C376.9 78.7 376.9 79.7 377.0 80.8C377.1 81.8 377.2 82.8 377.3 83.8C377.4 84.8 377.4 85.8 377.5 86.8C377.6 87.8 377.7 88.8 377.8 89.8C377.9 90.8 378.0 91.8 378.1 92.8C378.2 93.8 378.3 94.8 378.4 95.8C378.5 96.8 378.6 97.8 378.7 98.8C378.8 99.8 378.9 100.8 379.0 101.8C379.1 102.8 379.2 103.8 379.4 104.8C379.5 105.8 379.6 106.8 379.7 107.8C379.8 108.8 379.9 109.8 380.1 110.8C380.2 111.8 380.3 112.8 380.4 113.8C380.5 114.8 380.7 115.8 380.8 116.8C380.9 117.8 381.1 118.8 381.2 119.8C381.3 120.8 381.4 121.8 381.6 122.8C381.7 123.8 381.8 124.8 382.0 125.8C382.1 126.8 382.3 127.8 382.4 128.8C382.5 129.8 382.7 130.8 382.8 131.8C383.0 132.7 383.1 133.7 383.2 134.7C383.4 135.7 383.5 136.7 383.7 137.7C383.8 138.7 384.0 139.7 384.1 140.7C384.3 141.7 384.4 142.7 384.6 143.7C384.7 144.7 384.9 145.7 385.0 146.7C385.2 147.7 385.3 148.7 385.5 149.7C385.6 150.7 385.8 151.6 385.9 152.6C386.1 153.6 386.2 154.6 386.4 155.6C386.5 156.6 386.7 157.6 386.8 158.6C387.0 159.6 387.2 160.6 387.3 161.6C387.5 162.6 387.6 163.6 387.8 164.6C388.0 165.6 388.1 166.6 388.3 167.5C388.4 168.5 388.6 169.5 388.7 170.5C388.9 171.5 389.1 172.5 389.2 173.5C389.4 174.5 389.6 175.5 389.7 176.5C389.9 177.5 390.0 178.5 390.2 179.5C390.4 180.5 390.5 181.5 390.7 182.5C390.8 183.5 391.0 184.4 391.2 185.4C391.3 186.4 391.5 187.4 391.6 188.4C391.8 189.4 392.0 190.4 392.1 191.4C392.3 192.4 392.5 193.4 392.7 194.4C392.8 195.4 393.0 196.4 393.2 197.3C393.4 198.3 393.6 199.3 393.8 200.3C394.0 201.3 394.3 202.2 394.5 203.2C394.7 204.2 395.0 205.2 395.3 206.1C395.5 207.1 395.8 208.1 396.1 209.0C396.4 210.0 396.7 210.9 397.1 211.9C397.4 212.8 397.8 213.8 398.2 214.7C398.6 215.6 399.0 216.6 399.4 217.5C399.8 218.4 400.3 219.3 400.8 220.2C401.3 221.1 401.8 222.0 402.3 222.9C402.9 223.8 403.5 224.7 404.1 225.5C404.7 226.3 405.3 227.1 406.0 227.8C406.8 228.6 407.6 229.4 408.4 230.1C409.3 230.7 410.2 231.3 411.1 231.9C412.1 232.4 413.1 232.9 414.1 233.3C415.0 233.7 415.9 234.0 416.9 234.3C417.9 234.6 418.9 234.9 419.9 235.1C420.9 235.3 421.9 235.5 422.9 235.7C423.9 235.9 424.9 236.0 425.9 236.1C426.9 236.3 427.9 236.4 428.9 236.5C429.9 236.6 430.9 236.6 431.9 236.7C433.0 236.8 434.1 236.9 435.2 236.9C436.3 237.0 437.4 237.0 438.5 237.1C439.5 237.1 440.5 237.1 441.5 237.2C442.5 237.2 443.5 237.2 444.5 237.2C445.5 237.3 446.5 237.3 447.6 237.3C448.6 237.3 449.6 237.3 450.6 237.3C451.6 237.4 452.6 237.4 453.6 237.4C454.6 237.4 455.6 237.4 456.7 237.4C457.7 237.4 458.7 237.4 459.7 237.4C460.7 237.4 461.7 237.4 462.7 237.4C463.7 237.4 465.0 237.4 465.7 237.4C466.1 237.4 466.3 237.4 466.6 237.4 L466.60 237.40 L283.40 237.40 Z" fill="#F0E442" fill-opacity="0.5" stroke="none"/>
<path d="M283.4 237.0C284.5 237.1 285.6 237.2 286.7 237.2C287.7 237.3 288.7 237.3 289.8 237.3C290.8 237.3 291.8 237.3 292.8 237.2C293.9 237.1 294.9 237.0 295.9 236.8C296.9 236.6 298.0 236.4 299.0 236.2C300.0 235.9 300.9 235.6 301.9 235.3C302.8 235.0 303.8 234.6 304.7 234.1C305.7 233.6 306.7 233.1 307.5 232.4C308.3 231.7 308.9 230.9 309.4 230.0C310.0 229.1 310.2 228.1 310.6 227.1C310.9 226.1 311.2 225.1 311.5 224.1C311.8 223.1 312.1 222.1 312.4 221.1C312.7 220.1 313.0 219.1 313.3 218.0C313.6 217.0 313.9 216.0 314.2 215.0C314.4 214.0 314.7 213.0 315.0 212.0C315.2 210.9 315.5 209.9 315.8 208.9C316.0 207.9 316.3 206.9 316.5 205.8C316.8 204.8 317.0 203.8 317.2 202.8C317.5 201.7 317.7 200.7 317.9 199.7C318.2 198.7 318.4 197.6 318.6 196.6C318.8 195.6 319.0 194.5 319.2 193.5C319.5 192.5 319.7 191.4 319.9 190.4C320.1 189.4 320.3 188.3 320.5 187.3C320.6 186.3 320.8 185.2 321.0 184.2C321.2 183.2 321.4 182.1 321.6 181.1C321.7 180.0 321.9 179.0 322.1 178.0C322.3 176.9 322.4 175.9 322.6 174.8C322.7 173.8 322.9 172.8 323.1 171.7C323.2 170.7 323.4 169.6 323.5 168.6C323.7 167.5 323.8 166.5 324.0 165.4C324.1 164.4 324.2 163.3 324.4 162.3C324.5 161.3 324.6 160.2 324.8 159.2C324.9 158.1 325.0 157.1 325.2 156.0C325.3 155.0 325.4 153.9 325.5 152.9C325.6 151.8 325.7 150.8 325.9 149.7C326.0 148.6 326.1 147.6 326.2 146.5C326.3 145.5 326.4 144.4 326.5 143.4C326.6 142.3 326.7 141.3 326.8 140.2C326.9 139.2 327.0 138.1 327.1 137.1C327.2 136.0 327.3 135.0 327.4 133.9C327.5 132.8 327.6 131.8 327.6 130.7C327.7 129.7 327.8 128.6 327.9 127.6C328.0 126.5 328.1 125.5 328.1 124.4C328.2 123.3 328.3 122.3 328.4 121.2C328.5 120.2 328.5 119.1 328.6 118.1C328.7 117.0 328.7 116.0 328.8 114.9C328.9 113.9 329.0 112.8 329.0 111.7C329.1 110.7 329.2 109.6 329.2 108.6C329.3 107.5 329.4 106.5 329.4 105.4C329.5 104.4 329.6 103.3 329.6 102.2C329.7 101.2 329.8 100.1 329.8 99.1C329.9 98.0 330.0 97.0 330.1 95.9C330.1 94.9 330.2 93.8 330.3 92.8C330.3 91.7 330.4 90.7 330.5 89.6C330.6 88.6 330.6 87.5 330.7 86.5C330.8 85.4 330.9 84.4 330.9 83.3C331.0 82.3 331.1 81.2 331.2 80.2C331.3 79.1 331.4 78.1 331.4 77.0C331.5 76.0 331.6 74.9 331.7 73.9C331.8 72.8 331.9 71.8 332.0 70.7C332.1 69.7 332.2 68.6 332.3 67.6C332.4 66.6 332.5 65.5 332.6 64.5C332.7 63.4 332.9 62.4 333.0 61.3C333.1 60.3 333.2 59.3 333.3 58.2C333.5 57.2 333.6 56.1 333.7 55.1C333.9 54.1 334.0 53.0 334.2 52.0C334.3 50.9 334.5 49.9 334.7 48.9C334.8 47.8 335.0 46.8 335.2 45.7C335.4 44.7 335.6 43.6 335.9 42.5C336.1 41.5 336.4 40.4 336.6 39.4C336.9 38.3 337.1 37.4 337.4 36.4C337.8 35.5 338.1 33.8 338.6 33.6C339.2 33.5 340.4 34.8 340.9 35.7C341.4 36.5 341.5 37.8 341.7 38.9C342.0 39.9 342.2 40.9 342.4 42.0C342.6 43.0 342.9 44.1 343.2 45.1C343.5 46.1 343.9 47.1 344.2 48.1C344.6 49.0 345.1 50.0 345.5 51.0C345.9 52.0 346.4 52.9 346.8 53.9C347.3 54.9 347.8 55.9 348.2 56.8C348.6 57.8 349.0 58.8 349.4 59.7C349.9 60.6 350.3 62.2 351.0 62.4C351.7 62.6 353.2 61.7 353.8 61.0C354.3 60.3 354.1 59.0 354.3 58.0C354.5 57.0 354.6 56.0 354.8 55.0C355.0 53.9 355.3 52.9 355.6 51.8C355.9 50.8 356.2 49.8 356.6 48.9C356.9 47.9 357.3 47.0 357.8 46.0C358.2 45.1 358.6 44.1 359.0 43.2C359.5 42.3 360.0 41.4 360.4 40.4C360.9 39.5 361.3 38.5 361.8 37.6C362.3 36.6 362.7 35.6 363.2 34.6C363.6 33.7 363.9 32.8 364.4 31.8C364.8 30.9 365.2 29.8 365.7 28.8C366.1 27.9 366.4 26.8 367.1 26.1C367.8 25.5 369.2 24.6 369.9 24.9C370.5 25.2 370.7 27.0 371.0 28.0C371.3 29.0 371.5 30.1 371.7 31.1C371.9 32.1 372.1 33.1 372.3 34.1C372.5 35.1 372.6 36.2 372.8 37.2C372.9 38.3 373.0 39.3 373.2 40.3C373.3 41.3 373.4 42.4 373.5 43.4C373.7 44.4 373.8 45.4 373.9 46.5C374.0 47.5 374.1 48.5 374.2 49.6C374.4 50.6 374.5 51.6 374.6 52.7C374.7 53.7 374.8 54.8 374.9 55.8C375.1 56.9 375.2 57.9 375.3 59.0C375.4 60.0 375.5 61.1 375.6 62.1C375.7 63.2 375.8 64.2 375.9 65.3C376.0 66.4 376.2 67.4 376.3 68.5C376.4 69.5 376.5 70.6 376.6 71.6C376.7 72.7 376.8 73.8 376.8 74.8C376.9 75.9 377.0 76.9 377.1 78.0C377.2 79.1 377.3 80.1 377.4 81.2C377.5 82.2 377.5 83.3 377.6 84.3C377.7 85.4 377.8 86.5 377.9 87.5C377.9 88.6 378.0 89.6 378.1 90.7C378.2 91.7 378.2 92.8 378.3 93.8C378.4 94.9 378.5 95.9 378.6 97.0C378.6 98.0 378.7 99.1 378.8 100.1C378.9 101.2 379.0 102.2 379.1 103.3C379.2 104.3 379.2 105.4 379.3 106.4C379.4 107.5 379.5 108.5 379.7 109.5C379.8 110.6 379.9 111.6 380.0 112.7C380.1 113.7 380.2 114.8 380.4 115.8C380.5 116.8 380.6 117.9 380.8 118.9C380.9 120.0 381.1 121.0 381.2 122.1C381.4 123.1 381.5 124.1 381.7 125.2C381.9 126.2 382.1 127.2 382.2 128.3C382.4 129.3 382.6 130.4 382.8 131.4C383.0 132.4 383.2 133.5 383.4 134.5C383.5 135.6 383.7 136.6 383.9 137.6C384.1 138.7 384.3 139.7 384.5 140.8C384.7 141.8 384.8 142.9 385.0 143.9C385.2 144.9 385.4 146.0 385.6 147.0C385.7 148.1 385.9 149.1 386.1 150.2C386.2 151.2 386.4 152.3 386.5 153.3C386.7 154.4 386.8 155.4 386.9 156.5C387.1 157.5 387.2 158.6 387.4 159.6C387.5 160.7 387.6 161.7 387.7 162.8C387.9 163.8 388.0 164.9 388.1 165.9C388.3 167.0 388.4 168.0 388.5 169.1C388.6 170.1 388.8 171.2 388.9 172.2C389.0 173.3 389.2 174.3 389.3 175.4C389.5 176.4 389.6 177.5 389.7 178.5C389.9 179.6 390.0 180.6 390.2 181.6C390.4 182.7 390.5 183.7 390.7 184.8C390.9 185.8 391.1 186.8 391.3 187.9C391.4 188.9 391.6 189.9 391.9 190.9C392.1 192.0 392.3 193.0 392.5 194.0C392.7 195.0 393.0 196.1 393.2 197.1C393.5 198.1 393.8 199.1 394.0 200.1C394.3 201.1 394.6 202.1 394.9 203.1C395.2 204.1 395.5 205.1 395.9 206.1C396.2 207.1 396.6 208.1 396.9 209.1C397.3 210.1 397.7 211.1 398.1 212.1C398.5 213.1 398.9 214.1 399.4 215.1C399.8 216.0 400.3 217.0 400.8 218.0C401.3 219.0 401.7 220.0 402.3 220.9C402.8 221.8 403.4 222.8 404.0 223.6C404.6 224.5 405.3 225.3 406.0 226.1C406.7 226.8 407.5 227.5 408.3 228.1C409.2 228.6 410.1 229.1 411.0 229.5C412.0 230.0 413.0 230.3 414.0 230.7C415.0 231.0 416.0 231.4 417.0 231.7C418.0 232.1 419.0 232.5 420.0 232.9C421.0 233.3 422.0 233.7 422.9 234.1C423.9 234.5 424.9 234.9 425.9 235.2C426.9 235.5 427.9 235.8 428.9 236.0C430.0 236.2 431.0 236.3 432.0 236.5C433.1 236.6 434.1 236.7 435.2 236.7C436.3 236.8 437.3 236.9 438.4 236.9C439.5 236.9 440.5 237.0 441.6 237.0C442.6 237.1 443.7 237.1 444.8 237.1C445.8 237.2 446.9 237.2 447.9 237.2C449.0 237.3 450.0 237.3 451.1 237.3C452.1 237.4 453.2 237.4 454.2 237.4C455.3 237.4 456.3 237.4 457.4 237.5C458.4 237.5 459.5 237.5 460.5 237.5C461.6 237.5 462.7 237.5 463.7 237.5C464.7 237.4 465.6 237.4 466.6 237.4 L466.60 237.40 L283.40 237.40 Z" fill="#CC79A7" fill-opacity="0.5" stroke="none"/>
<path d="M283.4 237.0C284.5 237.0 285.6 237.1 286.6 237.1C287.6 237.1 288.6 237.2 289.7 237.2C290.7 237.2 291.7 237.2 292.7 237.1C293.8 237.0 294.8 237.0 295.8 236.8C296.8 236.6 297.8 236.4 298.8 236.1C299.7 235.9 300.7 235.5 301.6 235.1C302.4 234.6 303.3 234.1 304.1 233.5C304.9 232.9 305.7 232.2 306.4 231.5C307.2 230.8 307.8 230.1 308.5 229.3C309.1 228.4 309.8 227.5 310.3 226.6C310.9 225.7 311.4 224.7 311.8 223.7C312.3 222.7 312.6 221.7 313.0 220.7C313.4 219.7 313.7 218.6 314.0 217.6C314.2 216.6 314.4 215.6 314.7 214.7C314.9 213.7 315.1 212.7 315.3 211.7C315.5 210.7 315.6 209.7 315.8 208.7C316.0 207.7 316.1 206.7 316.3 205.7C316.5 204.7 316.7 203.7 316.8 202.7C317.0 201.7 317.1 200.7 317.3 199.7C317.5 198.7 317.6 197.7 317.8 196.7C317.9 195.7 318.1 194.7 318.2 193.7C318.4 192.7 318.6 191.7 318.7 190.7C318.9 189.7 319.0 188.7 319.1 187.7C319.3 186.7 319.4 185.7 319.6 184.7C319.7 183.6 319.9 182.6 320.0 181.6C320.1 180.6 320.3 179.6 320.4 178.6C320.6 177.6 320.7 176.6 320.8 175.6C321.0 174.6 321.1 173.6 321.2 172.6C321.4 171.6 321.5 170.6 321.6 169.6C321.7 168.6 321.9 167.6 322.0 166.6C322.1 165.6 322.2 164.6 322.4 163.6C322.5 162.6 322.6 161.6 322.7 160.6C322.8 159.6 323.0 158.6 323.1 157.6C323.2 156.6 323.3 155.6 323.4 154.6C323.5 153.6 323.6 152.6 323.8 151.6C323.9 150.6 324.0 149.6 324.1 148.6C324.2 147.6 324.3 146.6 324.4 145.6C324.5 144.6 324.6 143.6 324.7 142.6C324.8 141.6 324.9 140.6 325.0 139.6C325.1 138.6 325.2 137.6 325.3 136.6C325.4 135.6 325.5 134.6 325.6 133.6C325.7 132.6 325.8 131.6 325.9 130.6C326.0 129.6 326.1 128.6 326.2 127.6C326.3 126.6 326.4 125.6 326.5 124.6C326.6 123.6 326.7 122.6 326.8 121.6C326.9 120.6 326.9 119.6 327.0 118.6C327.1 117.6 327.2 116.6 327.3 115.6C327.4 114.6 327.5 113.5 327.6 112.5C327.6 111.5 327.7 110.5 327.8 109.5C327.9 108.5 328.0 107.5 328.1 106.5C328.1 105.5 328.2 104.5 328.3 103.5C328.4 102.5 328.5 101.5 328.5 100.5C328.6 99.5 328.7 98.5 328.8 97.5C328.9 96.5 328.9 95.5 329.0 94.5C329.1 93.5 329.2 92.5 329.2 91.5C329.3 90.5 329.4 89.5 329.5 88.5C329.6 87.5 329.6 86.5 329.7 85.5C329.8 84.5 329.9 83.5 329.9 82.5C330.0 81.5 330.1 80.5 330.2 79.5C330.2 78.5 330.3 77.5 330.4 76.5C330.4 75.5 330.5 74.5 330.6 73.5C330.7 72.5 330.7 71.5 330.8 70.5C330.9 69.5 331.0 68.5 331.0 67.5C331.1 66.5 331.2 65.5 331.2 64.5C331.3 63.5 331.4 62.5 331.5 61.5C331.5 60.5 331.6 59.5 331.7 58.5C331.7 57.5 331.8 56.5 331.9 55.5C331.9 54.5 332.0 53.5 332.1 52.5C332.2 51.5 332.2 50.5 332.3 49.5C332.4 48.5 332.4 47.5 332.5 46.5C332.6 45.4 332.7 44.4 332.7 43.4C332.8 42.4 332.9 41.4 332.9 40.4C333.0 39.4 333.1 38.4 333.2 37.4C333.2 36.4 333.3 35.4 333.4 34.4C333.5 33.4 333.6 32.4 333.7 31.4C333.9 30.4 334.0 29.4 334.2 28.3C334.3 27.3 334.5 26.3 334.7 25.3C334.9 24.2 335.1 23.2 335.3 22.2C335.6 21.1 335.7 20.0 336.2 19.0C336.6 18.1 337.3 16.5 337.9 16.5C338.5 16.5 339.3 18.3 339.7 19.3C340.1 20.2 340.3 21.2 340.5 22.2C340.7 23.3 340.9 24.3 341.1 25.3C341.3 26.4 341.4 27.5 341.6 28.6C341.8 29.6 341.9 30.7 342.1 31.8C342.3 32.8 342.6 33.9 342.8 35.0C343.0 36.0 343.3 37.1 343.5 38.2C343.8 39.2 344.1 40.3 344.4 41.3C344.6 42.3 344.9 43.3 345.2 44.2C345.5 45.2 345.8 46.1 346.1 47.1C346.4 48.1 346.7 49.0 347.0 50.0C347.3 51.0 347.6 51.9 348.0 52.9C348.3 53.8 348.6 54.8 349.0 55.8C349.3 56.7 349.6 57.7 350.0 58.7C350.3 59.6 350.7 60.6 351.0 61.5C351.4 62.5 351.7 63.5 352.1 64.4C352.5 65.3 352.6 66.7 353.3 67.2C354.0 67.7 355.6 67.8 356.3 67.3C357.0 66.9 357.2 65.3 357.6 64.3C358.0 63.3 358.3 62.3 358.7 61.3C359.0 60.3 359.3 59.4 359.6 58.4C359.9 57.4 360.3 56.3 360.6 55.3C360.9 54.3 361.2 53.2 361.5 52.2C361.8 51.2 362.1 50.1 362.4 49.1C362.7 48.1 363.0 47.2 363.3 46.2C363.6 45.3 363.9 44.3 364.2 43.3C364.5 42.3 364.9 41.3 365.3 40.4C365.7 39.4 366.1 38.5 366.6 37.5C367.0 36.6 367.3 35.3 368.1 34.9C368.9 34.5 370.5 34.4 371.2 34.9C371.8 35.4 371.8 36.8 372.1 37.8C372.3 38.8 372.6 39.9 372.8 40.9C373.1 41.9 373.2 42.9 373.4 43.9C373.6 45.0 373.8 46.1 374.0 47.1C374.1 48.2 374.3 49.3 374.4 50.4C374.5 51.5 374.7 52.6 374.8 53.7C374.9 54.7 375.0 55.7 375.1 56.7C375.2 57.7 375.3 58.7 375.4 59.7C375.5 60.7 375.6 61.7 375.7 62.7C375.8 63.7 375.8 64.7 375.9 65.7C376.0 66.7 376.1 67.7 376.1 68.7C376.2 69.7 376.3 70.7 376.4 71.7C376.4 72.7 376.5 73.7 376.6 74.7C376.6 75.7 376.7 76.7 376.8 77.7C376.9 78.7 376.9 79.7 377.0 80.8C377.1 81.8 377.2 82.8 377.3 83.8C377.4 84.8 377.4 85.8 377.5 86.8C377.6 87.8 377.7 88.8 377.8 89.8C377.9 90.8 378.0 91.8 378.1 92.8C378.2 93.8 378.3 94.8 378.4 95.8C378.5 96.8 378.6 97.8 378.7 98.8C378.8 99.8 378.9 100.8 379.0 101.8C379.1 102.8 379.2 103.8 379.4 104.8C379.5 105.8 379.6 106.8 379.7 107.8C379.8 108.8 379.9 109.8 380.1 110.8C380.2 111.8 380.3 112.8 380.4 113.8C380.5 114.8 380.7 115.8 380.8 116.8C380.9 117.8 381.1 118.8 381.2 119.8C381.3 120.8 381.4 121.8 381.6 122.8C381.7 123.8 381.8 124.8 382.0 125.8C382.1 126.8 382.3 127.8 382.4 128.8C382.5 129.8 382.7 130.8 382.8 131.8C383.0 132.7 383.1 133.7 383.2 134.7C383.4 135.7 383.5 136.7 383.7 137.7C383.8 138.7 384.0 139.7 384.1 140.7C384.3 141.7 384.4 142.7 384.6 143.7C384.7 144.7 384.9 145.7 385.0 146.7C385.2 147.7 385.3 148.7 385.5 149.7C385.6 150.7 385.8 151.6 385.9 152.6C386.1 153.6 386.2 154.6 386.4 155.6C386.5 156.6 386.7 157.6 386.8 158.6C387.0 159.6 387.2 160.6 387.3 161.6C387.5 162.6 387.6 163.6 387.8 164.6C388.0 165.6 388.1 166.6 388.3 167.5C388.4 168.5 388.6 169.5 388.7 170.5C388.9 171.5 389.1 172.5 389.2 173.5C389.4 174.5 389.6 175.5 389.7 176.5C389.9 177.5 390.0 178.5 390.2 179.5C390.4 180.5 390.5 181.5 390.7 182.5C390.8 183.5 391.0 184.4 391.2 185.4C391.3 186.4 391.5 187.4 391.6 188.4C391.8 189.4 392.0 190.4 392.1 191.4C392.3 192.4 392.5 193.4 392.7 194.4C392.8 195.4 393.0 196.4 393.2 197.3C393.4 198.3 393.6 199.3 393.8 200.3C394.0 201.3 394.3 202.2 394.5 203.2C394.7 204.2 395.0 205.2 395.3 206.1C395.5 207.1 395.8 208.1 396.1 209.0C396.4 210.0 396.7 210.9 397.1 211.9C397.4 212.8 397.8 213.8 398.2 214.7C398.6 215.6 399.0 216.6 399.4 217.5C399.8 218.4 400.3 219.3 400.8 220.2C401.3 221.1 401.8 222.0 402.3 222.9C402.9 223.8 403.5 224.7 404.1 225.5C404.7 226.3 405.3 227.1 406.0 227.8C406.8 228.6 407.6 229.4 408.4 230.1C409.3 230.7 410.2 231.3 411.1 231.9C412.1 232.4 413.1 232.9 414.1 233.3C415.0 233.7 415.9 234.0 416.9 234.3C417.9 234.6 418.9 234.9 419.9 235.1C420.9 235.3 421.9 235.5 422.9 235.7C423.9 235.9 424.9 236.0 425.9 236.1C426.9 236.3 427.9 236.4 428.9 236.5C429.9 236.6 430.9 236.6 431.9 236.7C433.0 236.8 434.1 236.9 435.2 236.9C436.3 237.0 437.4 237.0 438.5 237.1C439.5 237.1 440.5 237.1 441.5 237.2C442.5 237.2 443.5 237.2 444.5 237.2C445.5 237.3 446.5 237.3 447.6 237.3C448.6 237.3 449.6 237.3 450.6 237.3C451.6 237.4 452.6 237.4 453.6 237.4C454.6 237.4 455.6 237.4 456.7 237.4C457.7 237.4 458.7 237.4 459.7 237.4C460.7 237.4 461.7 237.4 462.7 237.4C463.7 237.4 465.0 237.4 465.7 237.4C466.1 237.4 466.3 237.4 466.6 237.4" fill="none" stroke="#000" stroke-width="1.1"/>
<path d="M283.4 237.0C284.5 237.1 285.6 237.2 286.7 237.2C287.7 237.3 288.7 237.3 289.8 237.3C290.8 237.3 291.8 237.3 292.8 237.2C293.9 237.1 294.9 237.0 295.9 236.8C296.9 236.6 298.0 236.4 299.0 236.2C300.0 235.9 300.9 235.6 301.9 235.3C302.8 235.0 303.8 234.6 304.7 234.1C305.7 233.6 306.7 233.1 307.5 232.4C308.3 231.7 308.9 230.9 309.4 230.0C310.0 229.1 310.2 228.1 310.6 227.1C310.9 226.1 311.2 225.1 311.5 224.1C311.8 223.1 312.1 222.1 312.4 221.1C312.7 220.1 313.0 219.1 313.3 218.0C313.6 217.0 313.9 216.0 314.2 215.0C314.4 214.0 314.7 213.0 315.0 212.0C315.2 210.9 315.5 209.9 315.8 208.9C316.0 207.9 316.3 206.9 316.5 205.8C316.8 204.8 317.0 203.8 317.2 202.8C317.5 201.7 317.7 200.7 317.9 199.7C318.2 198.7 318.4 197.6 318.6 196.6C318.8 195.6 319.0 194.5 319.2 193.5C319.5 192.5 319.7 191.4 319.9 190.4C320.1 189.4 320.3 188.3 320.5 187.3C320.6 186.3 320.8 185.2 321.0 184.2C321.2 183.2 321.4 182.1 321.6 181.1C321.7 180.0 321.9 179.0 322.1 178.0C322.3 176.9 322.4 175.9 322.6 174.8C322.7 173.8 322.9 172.8 323.1 171.7C323.2 170.7 323.4 169.6 323.5 168.6C323.7 167.5 323.8 166.5 324.0 165.4C324.1 164.4 324.2 163.3 324.4 162.3C324.5 161.3 324.6 160.2 324.8 159.2C324.9 158.1 325.0 157.1 325.2 156.0C325.3 155.0 325.4 153.9 325.5 152.9C325.6 151.8 325.7 150.8 325.9 149.7C326.0 148.6 326.1 147.6 326.2 146.5C326.3 145.5 326.4 144.4 326.5 143.4C326.6 142.3 326.7 141.3 326.8 140.2C326.9 139.2 327.0 138.1 327.1 137.1C327.2 136.0 327.3 135.0 327.4 133.9C327.5 132.8 327.6 131.8 327.6 130.7C327.7 129.7 327.8 128.6 327.9 127.6C328.0 126.5 328.1 125.5 328.1 124.4C328.2 123.3 328.3 122.3 328.4 121.2C328.5 120.2 328.5 119.1 328.6 118.1C328.7 117.0 328.7 116.0 328.8 114.9C328.9 113.9 329.0 112.8 329.0 111.7C329.1 110.7 329.2 109.6 329.2 108.6C329.3 107.5 329.4 106.5 329.4 105.4C329.5 104.4 329.6 103.3 329.6 102.2C329.7 101.2 329.8 100.1 329.8 99.1C329.9 98.0 330.0 97.0 330.1 95.9C330.1 94.9 330.2 93.8 330.3 92.8C330.3 91.7 330.4 90.7 330.5 89.6C330.6 88.6 330.6 87.5 330.7 86.5C330.8 85.4 330.9 84.4 330.9 83.3C331.0 82.3 331.1 81.2 331.2 80.2C331.3 79.1 331.4 78.1 331.4 77.0C331.5 76.0 331.6 74.9 331.7 73.9C331.8 72.8 331.9 71.8 332.0 70.7C332.1 69.7 332.2 68.6 332.3 67.6C332.4 66.6 332.5 65.5 332.6 64.5C332.7 63.4 332.9 62.4 333.0 61.3C333.1 60.3 333.2 59.3 333.3 58.2C333.5 57.2 333.6 56.1 333.7 55.1C333.9 54.1 334.0 53.0 334.2 52.0C334.3 50.9 334.5 49.9 334.7 48.9C334.8 47.8 335.0 46.8 335.2 45.7C335.4 44.7 335.6 43.6 335.9 42.5C336.1 41.5 336.4 40.4 336.6 39.4C336.9 38.3 337.1 37.4 337.4 36.4C337.8 35.5 338.1 33.8 338.6 33.6C339.2 33.5 340.4 34.8 340.9 35.7C341.4 36.5 341.5 37.8 341.7 38.9C342.0 39.9 342.2 40.9 342.4 42.0C342.6 43.0 342.9 44.1 343.2 45.1C343.5 46.1 343.9 47.1 344.2 48.1C344.6 49.0 345.1 50.0 345.5 51.0C345.9 52.0 346.4 52.9 346.8 53.9C347.3 54.9 347.8 55.9 348.2 56.8C348.6 57.8 349.0 58.8 349.4 59.7C349.9 60.6 350.3 62.2 351.0 62.4C351.7 62.6 353.2 61.7 353.8 61.0C354.3 60.3 354.1 59.0 354.3 58.0C354.5 57.0 354.6 56.0 354.8 55.0C355.0 53.9 355.3 52.9 355.6 51.8C355.9 50.8 356.2 49.8 356.6 48.9C356.9 47.9 357.3 47.0 357.8 46.0C358.2 45.1 358.6 44.1 359.0 43.2C359.5 42.3 360.0 41.4 360.4 40.4C360.9 39.5 361.3 38.5 361.8 37.6C362.3 36.6 362.7 35.6 363.2 34.6C363.6 33.7 363.9 32.8 364.4 31.8C364.8 30.9 365.2 29.8 365.7 28.8C366.1 27.9 366.4 26.8 367.1 26.1C367.8 25.5 369.2 24.6 369.9 24.9C370.5 25.2 370.7 27.0 371.0 28.0C371.3 29.0 371.5 30.1 371.7 31.1C371.9 32.1 372.1 33.1 372.3 34.1C372.5 35.1 372.6 36.2 372.8 37.2C372.9 38.3 373.0 39.3 373.2 40.3C373.3 41.3 373.4 42.4 373.5 43.4C373.7 44.4 373.8 45.4 373.9 46.5C374.0 47.5 374.1 48.5 374.2 49.6C374.4 50.6 374.5 51.6 374.6 52.7C374.7 53.7 374.8 54.8 374.9 55.8C375.1 56.9 375.2 57.9 375.3 59.0C375.4 60.0 375.5 61.1 375.6 62.1C375.7 63.2 375.8 64.2 375.9 65.3C376.0 66.4 376.2 67.4 376.3 68.5C376.4 69.5 376.5 70.6 376.6 71.6C376.7 72.7 376.8 73.8 376.8 74.8C376.9 75.9 377.0 76.9 377.1 78.0C377.2 79.1 377.3 80.1 377.4 81.2C377.5 82.2 377.5 83.3 377.6 84.3C377.7 85.4 377.8 86.5 377.9 87.5C377.9 88.6 378.0 89.6 378.1 90.7C378.2 91.7 378.2 92.8 378.3 93.8C378.4 94.9 378.5 95.9 378.6 97.0C378.6 98.0 378.7 99.1 378.8 100.1C378.9 101.2 379.0 102.2 379.1 103.3C379.2 104.3 379.2 105.4 379.3 106.4C379.4 107.5 379.5 108.5 379.7 109.5C379.8 110.6 379.9 111.6 380.0 112.7C380.1 113.7 380.2 114.8 380.4 115.8C380.5 116.8 380.6 117.9 380.8 118.9C380.9 120.0 381.1 121.0 381.2 122.1C381.4 123.1 381.5 124.1 381.7 125.2C381.9 126.2 382.1 127.2 382.2 128.3C382.4 129.3 382.6 130.4 382.8 131.4C383.0 132.4 383.2 133.5 383.4 134.5C383.5 135.6 383.7 136.6 383.9 137.6C384.1 138.7 384.3 139.7 384.5 140.8C384.7 141.8 384.8 142.9 385.0 143.9C385.2 144.9 385.4 146.0 385.6 147.0C385.7 148.1 385.9 149.1 386.1 150.2C386.2 151.2 386.4 152.3 386.5 153.3C386.7 154.4 386.8 155.4 386.9 156.5C387.1 157.5 387.2 158.6 387.4 159.6C387.5 160.7 387.6 161.7 387.7 162.8C387.9 163.8 388.0 164.9 388.1 165.9C388.3 167.0 388.4 168.0 388.5 169.1C388.6 170.1 388.8 171.2 388.9 172.2C389.0 173.3 389.2 174.3 389.3 175.4C389.5 176.4 389.6 177.5 389.7 178.5C389.9 179.6 390.0 180.6 390.2 181.6C390.4 182.7 390.5 183.7 390.7 184.8C390.9 185.8 391.1 186.8 391.3 187.9C391.4 188.9 391.6 189.9 391.9 190.9C392.1 192.0 392.3 193.0 392.5 194.0C392.7 195.0 393.0 196.1 393.2 197.1C393.5 198.1 393.8 199.1 394.0 200.1C394.3 201.1 394.6 202.1 394.9 203.1C395.2 204.1 395.5 205.1 395.9 206.1C396.2 207.1 396.6 208.1 396.9 209.1C397.3 210.1 397.7 211.1 398.1 212.1C398.5 213.1 398.9 214.1 399.4 215.1C399.8 216.0 400.3 217.0 400.8 218.0C401.3 219.0 401.7 220.0 402.3 220.9C402.8 221.8 403.4 222.8 404.0 223.6C404.6 224.5 405.3 225.3 406.0 226.1C406.7 226.8 407.5 227.5 408.3 228.1C409.2 228.6 410.1 229.1 411.0 229.5C412.0 230.0 413.0 230.3 414.0 230.7C415.0 231.0 416.0 231.4 417.0 231.7C418.0 232.1 419.0 232.5 420.0 232.9C421.0 233.3 422.0 233.7 422.9 234.1C423.9 234.5 424.9 234.9 425.9 235.2C426.9 235.5 427.9 235.8 428.9 236.0C430.0 236.2 431.0 236.3 432.0 236.5C433.1 236.6 434.1 236.7 435.2 236.7C436.3 236.8 437.3 236.9 438.4 236.9C439.5 236.9 440.5 237.0 441.6 237.0C442.6 237.1 443.7 237.1 444.8 237.1C445.8 237.2 446.9 237.2 447.9 237.2C449.0 237.3 450.0 237.3 451.1 237.3C452.1 237.4 453.2 237.4 454.2 237.4C455.3 237.4 456.3 237.4 457.4 237.5C458.4 237.5 459.5 237.5 460.5 237.5C461.6 237.5 462.7 237.5 463.7 237.5C464.7 237.4 465.6 237.4 466.6 237.4" fill="none" stroke="#000" stroke-width="1.1"/>
<line x1="353.20" y1="6.00" x2="353.20" y2="248.50" stroke="#222" stroke-width="0.9" stroke-dasharray="1 2.35"/>
<line x1="274.40" y1="4.00" x2="274.40" y2="249.05" stroke="#222" stroke-width="1.1"/>
<line x1="273.85" y1="248.50" x2="466.60" y2="248.50" stroke="#222" stroke-width="1.1"/>
<line x1="272.10" y1="237.40" x2="274.40" y2="237.40" stroke="#333333" stroke-width="1"/>
<text x="270.20" y="241.50" font-family="Liberation Sans, sans-serif" font-size="10.3" fill="#4D4D4D" text-anchor="end">0.0</text>
<line x1="272.10" y1="168.40" x2="274.40" y2="168.40" stroke="#333333" stroke-width="1"/>
<text x="270.20" y="172.50" font-family="Liberation Sans, sans-serif" font-size="10.3" fill="#4D4D4D" text-anchor="end">0.5</text>
<line x1="272.10" y1="99.40" x2="274.40" y2="99.40" stroke="#333333" stroke-width="1"/>
<text x="270.20" y="103.50" font-family="Liberation Sans, sans-serif" font-size="10.3" fill="#4D4D4D" text-anchor="end">1.0</text>
<line x1="272.10" y1="30.40" x2="274.40" y2="30.40" stroke="#333333" stroke-width="1"/>
<text x="270.20" y="34.50" font-family="Liberation Sans, sans-serif" font-size="10.3" fill="#4D4D4D" text-anchor="end">1.5</text>
<line x1="283.40" y1="248.50" x2="283.40" y2="250.80" stroke="#333333" stroke-width="1"/>
<text x="283.40" y="260.70" font-family="Liberation Sans, sans-serif" font-size="10.3" fill="#4D4D4D" text-anchor="middle">0.0</text>
<line x1="327.20" y1="248.50" x2="327.20" y2="250.80" stroke="#333333" stroke-width="1"/>
<text x="327.20" y="260.70" font-family="Liberation Sans, sans-serif" font-size="10.3" fill="#4D4D4D" text-anchor="middle">0.5</text>
<line x1="371.00" y1="248.50" x2="371.00" y2="250.80" stroke="#333333" stroke-width="1"/>
<text x="371.00" y="260.70" font-family="Liberation Sans, sans-serif" font-size="10.3" fill="#4D4D4D" text-anchor="middle">1.0</text>
<line x1="414.80" y1="248.50" x2="414.80" y2="250.80" stroke="#333333" stroke-width="1"/>
<text x="414.80" y="260.70" font-family="Liberation Sans, sans-serif" font-size="10.3" fill="#4D4D4D" text-anchor="middle">1.5</text>
<line x1="458.60" y1="248.50" x2="458.60" y2="250.80" stroke="#333333" stroke-width="1"/>
<text x="458.60" y="260.70" font-family="Liberation Sans, sans-serif" font-size="10.3" fill="#4D4D4D" text-anchor="middle">2.0</text>
<text x="238.8" y="11.5" font-family="Liberation Serif, serif" font-size="11" font-weight="bold">b</text>
<path d="M47.5 487.6C47.7 486.5 47.9 485.5 48.1 484.4C48.2 483.3 48.4 482.3 48.6 481.3C48.8 480.2 49.0 479.2 49.2 478.1C49.4 477.1 49.6 476.1 49.7 475.1C49.9 474.1 50.1 473.0 50.3 472.0C50.5 471.0 50.7 470.0 50.9 469.0C51.1 468.0 51.3 467.0 51.5 466.0C51.7 465.0 51.9 464.0 52.1 463.0C52.4 462.0 52.6 461.0 52.8 459.9C53.0 458.9 53.2 457.9 53.4 456.9C53.6 455.9 53.9 454.9 54.1 453.9C54.3 452.8 54.5 451.8 54.8 450.8C55.0 449.7 55.2 448.7 55.5 447.7C55.7 446.6 56.0 445.5 56.2 444.5C56.4 443.4 56.7 442.3 56.9 441.3C57.2 440.3 57.4 439.3 57.7 438.4C58.0 437.3 58.3 436.2 58.7 435.3C59.1 434.3 59.6 433.3 60.3 432.5C60.9 431.7 61.7 430.6 62.7 430.3C63.6 430.0 64.9 430.3 65.8 430.7C66.7 431.2 67.3 432.1 68.0 432.9C68.6 433.8 69.1 434.7 69.6 435.6C70.1 436.6 70.5 437.6 70.8 438.6C71.2 439.6 71.5 440.6 71.8 441.7C72.0 442.7 72.3 443.8 72.5 444.9C72.8 445.9 73.0 447.0 73.3 448.1C73.5 449.1 73.8 450.2 74.1 451.2C74.4 452.2 74.7 453.2 75.1 454.1C75.4 455.1 75.9 456.0 76.3 457.0C76.7 457.9 77.1 458.8 77.5 459.7C77.9 460.7 78.3 461.6 78.7 462.6C79.0 463.6 79.4 464.5 79.7 465.5C80.0 466.5 80.3 467.6 80.6 468.6C80.9 469.6 81.1 470.7 81.4 471.7C81.7 472.7 82.0 473.8 82.3 474.8C82.6 475.9 82.9 476.9 83.2 477.9C83.5 478.9 83.9 479.9 84.3 480.9C84.7 481.9 85.1 482.9 85.5 483.8C86.0 484.8 86.5 485.7 87.0 486.6C87.6 487.5 88.2 488.4 88.8 489.2C89.4 490.0 90.0 490.8 90.7 491.6C91.4 492.3 92.2 493.1 92.9 493.8C93.7 494.4 94.5 495.1 95.3 495.7C96.1 496.3 97.0 496.9 97.9 497.4C98.7 497.9 99.7 498.4 100.6 498.9C101.5 499.3 102.5 499.7 103.5 500.0C104.4 500.4 105.4 500.7 106.5 500.9C107.5 501.1 108.5 501.3 109.6 501.4C110.6 501.6 111.7 501.6 112.8 501.7C113.9 501.7 114.9 501.7 116.0 501.6C117.1 501.5 118.2 501.4 119.3 501.2C120.3 501.0 121.4 500.8 122.5 500.5C123.5 500.3 124.6 500.0 125.6 499.6C126.6 499.3 127.6 498.9 128.6 498.4C129.5 498.0 130.5 497.5 131.4 497.0C132.3 496.5 133.2 496.0 134.0 495.4C134.9 494.8 135.7 494.2 136.5 493.6C137.4 492.9 138.1 492.2 138.9 491.5C139.6 490.8 140.4 490.1 141.1 489.3C141.8 488.6 142.5 487.8 143.1 487.0C143.8 486.2 144.4 485.3 145.0 484.5C145.6 483.6 146.1 482.8 146.7 481.9C147.2 481.0 147.8 480.1 148.3 479.1C148.8 478.2 149.2 477.3 149.7 476.3C150.1 475.4 150.6 474.4 151.0 473.5C151.4 472.5 151.7 471.5 152.1 470.5C152.5 469.6 152.8 468.6 153.1 467.6C153.4 466.6 153.7 465.6 154.0 464.6C154.2 463.5 154.5 462.5 154.7 461.5C154.9 460.5 155.2 459.5 155.4 458.4C155.6 457.4 155.7 456.4 155.9 455.3C156.1 454.3 156.2 453.3 156.4 452.2C156.5 451.2 156.7 450.1 156.8 449.1C156.9 448.0 157.0 447.0 157.1 445.9C157.2 444.9 157.3 443.8 157.4 442.8C157.5 441.7 157.6 440.7 157.7 439.6C157.8 438.5 157.8 437.5 157.9 436.4C158.0 435.4 158.1 434.3 158.1 433.3C158.2 432.2 158.3 431.2 158.4 430.1C158.4 429.1 158.5 428.0 158.6 426.9C158.7 425.9 158.8 424.9 158.8 423.8C158.9 422.8 159.0 421.7 159.1 420.7C159.2 419.6 159.3 418.6 159.3 417.5C159.4 416.5 159.5 415.5 159.6 414.4C159.7 413.4 159.8 412.3 159.9 411.3C160.0 410.2 160.1 409.2 160.2 408.2C160.3 407.1 160.3 406.1 160.4 405.1C160.5 404.0 160.6 403.0 160.7 401.9C160.8 400.9 160.9 399.9 161.0 398.8C161.1 397.8 161.2 396.8 161.3 395.7C161.4 394.7 161.5 393.6 161.6 392.6C161.7 391.6 161.8 390.5 161.9 389.5C162.0 388.5 162.1 387.4 162.2 386.4C162.3 385.3 162.4 384.3 162.5 383.3C162.6 382.2 162.7 381.2 162.8 380.1C162.9 379.1 163.0 378.0 163.1 377.0C163.2 376.0 163.3 374.9 163.4 373.9C163.5 372.8 163.6 371.8 163.7 370.7C163.8 369.7 163.8 368.6 163.9 367.6C164.0 366.5 164.1 365.5 164.2 364.4C164.3 363.3 164.4 362.3 164.5 361.2C164.6 360.2 164.7 359.1 164.7 358.1C164.8 357.0 164.9 355.9 165.0 354.9C165.1 353.8 165.2 352.8 165.3 351.7C165.3 350.6 165.4 349.6 165.5 348.5C165.6 347.5 165.7 346.4 165.8 345.4C165.9 344.3 165.9 343.3 166.0 342.2C166.1 341.2 166.2 340.1 166.3 339.1C166.4 338.0 166.5 337.0 166.6 336.0C166.6 335.0 166.7 333.9 166.8 332.9C166.9 331.9 167.0 330.9 167.1 329.9C167.2 328.8 167.3 327.9 167.4 326.8C167.5 325.8 167.6 324.7 167.7 323.6C167.9 322.5 168.0 321.4 168.1 320.3C168.2 319.3 168.3 318.4 168.5 317.4C168.6 316.3 168.8 315.3 168.9 314.3C169.1 313.3 169.2 312.3 169.4 311.3C169.6 310.2 169.7 309.1 169.9 308.1C170.1 307.1 170.3 306.0 170.5 305.0C170.8 304.0 171.0 303.0 171.2 302.0C171.5 301.0 171.8 299.2 172.3 299.1C172.7 299.0 173.7 300.6 174.1 301.4C174.6 302.3 174.6 303.4 174.8 304.4C175.0 305.4 175.2 306.4 175.4 307.5C175.6 308.6 175.7 309.7 175.9 310.7C176.1 311.8 176.2 312.7 176.3 313.8C176.5 314.8 176.6 315.9 176.7 316.9C176.8 317.9 176.9 318.9 177.1 319.9C177.2 321.0 177.3 322.1 177.4 323.2C177.5 324.3 177.6 325.4 177.7 326.4C177.8 327.5 177.8 328.4 177.9 329.5C178.0 330.5 178.1 331.5 178.2 332.5C178.3 333.5 178.4 334.5 178.5 335.6C178.6 336.6 178.6 337.6 178.7 338.7C178.8 339.7 178.9 340.7 179.0 341.8C179.1 342.8 179.2 343.9 179.3 344.9C179.3 346.0 179.4 347.0 179.5 348.1C179.6 349.1 179.7 350.2 179.8 351.2C179.9 352.3 179.9 353.3 180.0 354.4C180.1 355.5 180.2 356.5 180.3 357.6C180.4 358.6 180.4 359.7 180.5 360.7C180.6 361.8 180.7 362.9 180.8 363.9C180.9 365.0 181.0 366.0 181.0 367.1C181.1 368.1 181.2 369.2 181.3 370.2C181.4 371.3 181.5 372.3 181.5 373.4C181.6 374.4 181.7 375.5 181.8 376.5C181.9 377.6 182.0 378.6 182.0 379.7C182.1 380.7 182.2 381.8 182.3 382.8C182.4 383.9 182.4 384.9 182.5 386.0C182.6 387.0 182.7 388.1 182.8 389.1C182.9 390.1 182.9 391.2 183.0 392.2C183.1 393.3 183.2 394.3 183.3 395.4C183.4 396.4 183.4 397.5 183.5 398.5C183.6 399.5 183.7 400.6 183.8 401.6C183.9 402.7 183.9 403.7 184.0 404.8C184.1 405.8 184.2 406.9 184.3 407.9C184.3 408.9 184.4 410.0 184.5 411.0C184.6 412.1 184.7 413.1 184.8 414.1C184.8 415.2 184.9 416.2 185.0 417.3C185.1 418.3 185.2 419.4 185.3 420.4C185.3 421.4 185.4 422.5 185.5 423.5C185.6 424.6 185.7 425.6 185.7 426.6C185.8 427.7 185.9 428.7 186.0 429.8C186.1 430.8 186.2 431.8 186.2 432.9C186.3 433.9 186.4 435.0 186.5 436.0C186.6 437.0 186.7 438.1 186.7 439.1C186.8 440.2 186.9 441.2 187.0 442.2C187.1 443.3 187.2 444.3 187.2 445.4C187.3 446.4 187.4 447.5 187.5 448.5C187.6 449.5 187.7 450.6 187.7 451.6C187.8 452.7 187.9 453.7 188.0 454.7C188.1 455.8 188.2 456.8 188.2 457.9C188.3 458.9 188.4 460.0 188.5 461.0C188.6 462.1 188.7 463.1 188.7 464.2C188.8 465.2 188.9 466.3 189.0 467.3C189.1 468.4 189.2 469.4 189.2 470.5C189.3 471.5 189.4 472.6 189.5 473.6C189.6 474.7 189.6 475.7 189.7 476.8C189.8 477.9 189.9 478.9 190.0 480.0C190.0 481.1 190.1 482.1 190.2 483.2C190.3 484.3 190.4 485.4 190.5 486.4C190.6 487.5 190.7 488.5 190.8 489.6C191.0 490.6 191.1 491.7 191.4 492.7C191.6 493.7 191.8 494.8 192.1 495.8C192.3 496.8 192.7 497.8 193.0 498.7C193.4 499.7 193.8 500.7 194.3 501.6C194.7 502.5 195.3 503.4 195.9 504.3C196.4 505.2 197.1 506.0 197.8 506.8C198.5 507.6 199.2 508.4 200.0 509.1C200.8 509.8 201.7 510.5 202.5 511.1C203.4 511.7 204.3 512.2 205.2 512.7C206.2 513.1 207.1 513.5 208.1 513.9C209.1 514.2 210.1 514.5 211.1 514.8C212.2 515.0 213.2 515.2 214.3 515.4C215.3 515.5 216.4 515.7 217.5 515.8C218.5 515.9 219.6 516.0 220.7 516.0C221.7 516.1 222.8 516.2 223.9 516.3C224.9 516.3 226.0 516.4 227.0 516.4C228.1 516.5 229.4 516.6 230.1 516.7C230.5 516.7 230.7 516.8 231.0 516.8 L231.00 517.10 L47.50 517.10 Z" fill="#F0E442" fill-opacity="0.5" stroke="none"/>
<path d="M47.5 490.3C47.7 489.3 47.9 488.3 48.1 487.3C48.3 486.3 48.5 485.4 48.8 484.4C49.0 483.4 49.2 482.4 49.4 481.4C49.6 480.4 49.9 479.4 50.1 478.4C50.3 477.4 50.5 476.4 50.7 475.4C51.0 474.3 51.2 473.3 51.4 472.3C51.6 471.3 51.9 470.3 52.1 469.3C52.3 468.3 52.6 467.3 52.8 466.3C53.0 465.3 53.2 464.3 53.5 463.4C53.7 462.4 53.9 461.4 54.2 460.4C54.4 459.4 54.6 458.4 54.9 457.4C55.1 456.5 55.3 455.5 55.6 454.5C55.9 453.6 56.2 452.6 56.5 451.7C56.9 450.7 57.3 449.7 57.8 448.8C58.3 447.9 58.8 447.1 59.5 446.3C60.1 445.5 60.8 444.5 61.7 444.0C62.6 443.4 63.7 442.7 64.7 442.7C65.6 442.8 66.7 443.4 67.5 444.0C68.3 444.6 68.9 445.5 69.6 446.3C70.2 447.1 70.7 448.0 71.2 448.9C71.7 449.9 72.2 450.9 72.6 451.8C73.1 452.8 73.4 453.7 73.8 454.7C74.3 455.6 74.7 456.6 75.2 457.6C75.6 458.5 76.2 459.4 76.7 460.4C77.2 461.3 77.8 462.2 78.2 463.2C78.7 464.1 79.1 464.9 79.5 465.9C80.0 466.8 80.3 467.8 80.7 468.8C81.0 469.8 81.3 470.8 81.7 471.8C82.0 472.8 82.3 473.8 82.7 474.8C83.0 475.9 83.3 476.9 83.7 477.9C84.1 478.8 84.5 479.8 84.9 480.8C85.4 481.7 85.9 482.6 86.4 483.5C86.9 484.3 87.5 485.2 88.1 486.0C88.8 486.8 89.5 487.6 90.2 488.4C91.0 489.1 91.8 489.9 92.6 490.5C93.5 491.2 94.4 491.9 95.3 492.4C96.1 493.0 97.0 493.5 97.9 493.9C98.8 494.4 99.7 494.8 100.6 495.2C101.6 495.6 102.5 495.9 103.5 496.2C104.5 496.5 105.5 496.8 106.5 497.0C107.5 497.2 108.5 497.4 109.5 497.5C110.5 497.7 111.5 497.8 112.6 497.8C113.6 497.9 114.6 497.9 115.7 497.9C116.7 497.9 117.8 497.8 118.8 497.7C119.8 497.6 120.9 497.5 121.9 497.3C122.9 497.1 123.9 496.9 124.9 496.6C125.9 496.4 126.9 496.1 127.9 495.7C128.8 495.4 129.8 495.0 130.7 494.5C131.7 494.1 132.6 493.7 133.5 493.2C134.4 492.7 135.2 492.1 136.1 491.6C137.0 491.0 137.8 490.4 138.6 489.7C139.4 489.1 140.2 488.4 140.9 487.8C141.7 487.1 142.4 486.3 143.1 485.6C143.7 484.9 144.4 484.1 145.0 483.3C145.7 482.5 146.2 481.7 146.8 480.8C147.4 480.0 147.9 479.1 148.4 478.3C148.9 477.4 149.3 476.5 149.8 475.6C150.2 474.7 150.6 473.7 151.0 472.8C151.4 471.9 151.7 470.9 152.0 470.0C152.4 469.0 152.7 468.0 153.0 467.0C153.3 466.0 153.6 465.0 153.8 464.0C154.1 463.0 154.3 462.0 154.6 461.0C154.8 460.0 155.0 459.0 155.2 458.0C155.4 457.0 155.6 455.9 155.8 454.9C156.0 453.9 156.2 452.9 156.4 451.8C156.5 450.8 156.7 449.8 156.9 448.8C157.1 447.8 157.2 446.8 157.4 445.8C157.6 444.7 157.7 443.7 157.9 442.7C158.0 441.7 158.2 440.7 158.3 439.7C158.5 438.7 158.6 437.7 158.8 436.7C158.9 435.7 159.1 434.7 159.2 433.7C159.3 432.6 159.5 431.6 159.6 430.6C159.7 429.6 159.9 428.6 160.0 427.6C160.1 426.6 160.3 425.6 160.4 424.6C160.5 423.6 160.7 422.6 160.8 421.6C160.9 420.6 161.0 419.6 161.2 418.6C161.3 417.6 161.4 416.6 161.5 415.6C161.7 414.6 161.8 413.6 161.9 412.6C162.0 411.6 162.2 410.6 162.3 409.6C162.4 408.6 162.5 407.5 162.7 406.5C162.8 405.5 162.9 404.5 163.0 403.5C163.2 402.5 163.3 401.5 163.4 400.5C163.6 399.4 163.7 398.4 163.8 397.4C164.0 396.4 164.1 395.4 164.2 394.3C164.4 393.3 164.5 392.3 164.7 391.3C164.8 390.2 165.0 389.2 165.1 388.2C165.3 387.1 165.4 386.1 165.6 385.1C165.7 384.0 165.9 383.0 166.0 382.0C166.2 380.9 166.3 379.9 166.5 378.9C166.7 377.9 166.8 376.8 167.0 375.8C167.2 374.8 167.3 373.8 167.5 372.8C167.7 371.8 167.8 370.8 168.0 369.8C168.2 368.8 168.4 367.7 168.6 366.7C168.8 365.7 169.0 364.7 169.2 363.7C169.4 362.7 169.5 361.7 169.7 360.7C170.0 359.7 170.2 358.6 170.4 357.6C170.6 356.6 170.8 355.7 171.1 354.7C171.3 353.6 171.6 352.6 171.8 351.5C172.1 350.4 172.4 349.3 172.7 348.3C172.9 347.2 173.2 346.2 173.5 345.2C173.9 344.2 174.0 342.5 174.7 342.2C175.4 342.0 176.8 342.8 177.4 343.5C178.1 344.3 178.3 345.5 178.7 346.6C179.0 347.6 179.3 348.6 179.6 349.6C179.8 350.6 180.0 351.6 180.2 352.7C180.4 353.7 180.6 354.7 180.7 355.7C180.9 356.7 181.0 357.7 181.2 358.7C181.3 359.8 181.5 360.8 181.6 361.8C181.7 362.8 181.8 363.8 181.9 364.9C182.1 365.9 182.2 366.9 182.3 367.9C182.4 368.9 182.5 370.0 182.6 371.0C182.7 372.0 182.8 373.0 182.9 374.0C183.0 375.1 183.0 376.1 183.1 377.1C183.2 378.1 183.3 379.1 183.4 380.2C183.5 381.2 183.6 382.2 183.7 383.2C183.7 384.2 183.8 385.3 183.9 386.3C184.0 387.3 184.1 388.3 184.2 389.3C184.3 390.3 184.4 391.4 184.5 392.4C184.6 393.4 184.7 394.4 184.8 395.4C184.9 396.4 185.0 397.4 185.1 398.4C185.2 399.5 185.3 400.5 185.4 401.5C185.5 402.5 185.6 403.5 185.7 404.5C185.8 405.5 186.0 406.5 186.1 407.5C186.2 408.5 186.3 409.5 186.4 410.6C186.5 411.6 186.6 412.6 186.8 413.6C186.9 414.6 187.0 415.6 187.1 416.6C187.2 417.6 187.3 418.6 187.4 419.6C187.6 420.6 187.7 421.7 187.8 422.7C187.9 423.7 188.0 424.7 188.1 425.7C188.2 426.7 188.3 427.7 188.4 428.7C188.6 429.7 188.7 430.8 188.8 431.8C188.9 432.8 189.0 433.8 189.1 434.8C189.2 435.8 189.3 436.9 189.4 437.9C189.5 438.9 189.6 439.9 189.7 440.9C189.7 442.0 189.8 443.0 189.9 444.0C190.0 445.0 190.1 446.1 190.2 447.1C190.2 448.1 190.3 449.2 190.4 450.2C190.5 451.2 190.5 452.2 190.6 453.3C190.7 454.3 190.7 455.4 190.8 456.4C190.9 457.4 191.0 458.5 191.0 459.5C191.1 460.5 191.2 461.6 191.3 462.6C191.3 463.6 191.4 464.7 191.5 465.7C191.6 466.7 191.7 467.7 191.8 468.8C192.0 469.8 192.1 470.8 192.2 471.8C192.4 472.8 192.5 473.8 192.7 474.9C192.8 475.9 193.0 476.9 193.2 477.9C193.4 478.8 193.6 479.8 193.9 480.8C194.1 481.8 194.4 482.8 194.6 483.7C194.9 484.7 195.2 485.7 195.5 486.6C195.9 487.6 196.2 488.5 196.6 489.5C196.9 490.4 197.3 491.3 197.8 492.2C198.2 493.1 198.7 494.1 199.1 494.9C199.6 495.8 200.1 496.7 200.7 497.6C201.2 498.4 201.8 499.3 202.4 500.1C203.0 500.9 203.6 501.8 204.3 502.5C204.9 503.3 205.6 504.1 206.3 504.8C207.0 505.5 207.8 506.3 208.5 506.9C209.3 507.6 210.0 508.3 210.8 508.9C211.6 509.5 212.5 510.1 213.3 510.6C214.2 511.1 215.1 511.7 216.0 512.1C216.8 512.6 217.8 513.0 218.7 513.4C219.7 513.8 220.6 514.1 221.6 514.4C222.6 514.7 223.6 514.9 224.6 515.1C225.6 515.3 226.7 515.4 227.7 515.5C228.8 515.6 229.9 515.6 231.0 515.6 L231.00 517.10 L47.50 517.10 Z" fill="#CC79A7" fill-opacity="0.5" stroke="none"/>
<path d="M47.5 487.6C47.7 486.5 47.9 485.5 48.1 484.4C48.2 483.3 48.4 482.3 48.6 481.3C48.8 480.2 49.0 479.2 49.2 478.1C49.4 477.1 49.6 476.1 49.7 475.1C49.9 474.1 50.1 473.0 50.3 472.0C50.5 471.0 50.7 470.0 50.9 469.0C51.1 468.0 51.3 467.0 51.5 466.0C51.7 465.0 51.9 464.0 52.1 463.0C52.4 462.0 52.6 461.0 52.8 459.9C53.0 458.9 53.2 457.9 53.4 456.9C53.6 455.9 53.9 454.9 54.1 453.9C54.3 452.8 54.5 451.8 54.8 450.8C55.0 449.7 55.2 448.7 55.5 447.7C55.7 446.6 56.0 445.5 56.2 444.5C56.4 443.4 56.7 442.3 56.9 441.3C57.2 440.3 57.4 439.3 57.7 438.4C58.0 437.3 58.3 436.2 58.7 435.3C59.1 434.3 59.6 433.3 60.3 432.5C60.9 431.7 61.7 430.6 62.7 430.3C63.6 430.0 64.9 430.3 65.8 430.7C66.7 431.2 67.3 432.1 68.0 432.9C68.6 433.8 69.1 434.7 69.6 435.6C70.1 436.6 70.5 437.6 70.8 438.6C71.2 439.6 71.5 440.6 71.8 441.7C72.0 442.7 72.3 443.8 72.5 444.9C72.8 445.9 73.0 447.0 73.3 448.1C73.5 449.1 73.8 450.2 74.1 451.2C74.4 452.2 74.7 453.2 75.1 454.1C75.4 455.1 75.9 456.0 76.3 457.0C76.7 457.9 77.1 458.8 77.5 459.7C77.9 460.7 78.3 461.6 78.7 462.6C79.0 463.6 79.4 464.5 79.7 465.5C80.0 466.5 80.3 467.6 80.6 468.6C80.9 469.6 81.1 470.7 81.4 471.7C81.7 472.7 82.0 473.8 82.3 474.8C82.6 475.9 82.9 476.9 83.2 477.9C83.5 478.9 83.9 479.9 84.3 480.9C84.7 481.9 85.1 482.9 85.5 483.8C86.0 484.8 86.5 485.7 87.0 486.6C87.6 487.5 88.2 488.4 88.8 489.2C89.4 490.0 90.0 490.8 90.7 491.6C91.4 492.3 92.2 493.1 92.9 493.8C93.7 494.4 94.5 495.1 95.3 495.7C96.1 496.3 97.0 496.9 97.9 497.4C98.7 497.9 99.7 498.4 100.6 498.9C101.5 499.3 102.5 499.7 103.5 500.0C104.4 500.4 105.4 500.7 106.5 500.9C107.5 501.1 108.5 501.3 109.6 501.4C110.6 501.6 111.7 501.6 112.8 501.7C113.9 501.7 114.9 501.7 116.0 501.6C117.1 501.5 118.2 501.4 119.3 501.2C120.3 501.0 121.4 500.8 122.5 500.5C123.5 500.3 124.6 500.0 125.6 499.6C126.6 499.3 127.6 498.9 128.6 498.4C129.5 498.0 130.5 497.5 131.4 497.0C132.3 496.5 133.2 496.0 134.0 495.4C134.9 494.8 135.7 494.2 136.5 493.6C137.4 492.9 138.1 492.2 138.9 491.5C139.6 490.8 140.4 490.1 141.1 489.3C141.8 488.6 142.5 487.8 143.1 487.0C143.8 486.2 144.4 485.3 145.0 484.5C145.6 483.6 146.1 482.8 146.7 481.9C147.2 481.0 147.8 480.1 148.3 479.1C148.8 478.2 149.2 477.3 149.7 476.3C150.1 475.4 150.6 474.4 151.0 473.5C151.4 472.5 151.7 471.5 152.1 470.5C152.5 469.6 152.8 468.6 153.1 467.6C153.4 466.6 153.7 465.6 154.0 464.6C154.2 463.5 154.5 462.5 154.7 461.5C154.9 460.5 155.2 459.5 155.4 458.4C155.6 457.4 155.7 456.4 155.9 455.3C156.1 454.3 156.2 453.3 156.4 452.2C156.5 451.2 156.7 450.1 156.8 449.1C156.9 448.0 157.0 447.0 157.1 445.9C157.2 444.9 157.3 443.8 157.4 442.8C157.5 441.7 157.6 440.7 157.7 439.6C157.8 438.5 157.8 437.5 157.9 436.4C158.0 435.4 158.1 434.3 158.1 433.3C158.2 432.2 158.3 431.2 158.4 430.1C158.4 429.1 158.5 428.0 158.6 426.9C158.7 425.9 158.8 424.9 158.8 423.8C158.9 422.8 159.0 421.7 159.1 420.7C159.2 419.6 159.3 418.6 159.3 417.5C159.4 416.5 159.5 415.5 159.6 414.4C159.7 413.4 159.8 412.3 159.9 411.3C160.0 410.2 160.1 409.2 160.2 408.2C160.3 407.1 160.3 406.1 160.4 405.1C160.5 404.0 160.6 403.0 160.7 401.9C160.8 400.9 160.9 399.9 161.0 398.8C161.1 397.8 161.2 396.8 161.3 395.7C161.4 394.7 161.5 393.6 161.6 392.6C161.7 391.6 161.8 390.5 161.9 389.5C162.0 388.5 162.1 387.4 162.2 386.4C162.3 385.3 162.4 384.3 162.5 383.3C162.6 382.2 162.7 381.2 162.8 380.1C162.9 379.1 163.0 378.0 163.1 377.0C163.2 376.0 163.3 374.9 163.4 373.9C163.5 372.8 163.6 371.8 163.7 370.7C163.8 369.7 163.8 368.6 163.9 367.6C164.0 366.5 164.1 365.5 164.2 364.4C164.3 363.3 164.4 362.3 164.5 361.2C164.6 360.2 164.7 359.1 164.7 358.1C164.8 357.0 164.9 355.9 165.0 354.9C165.1 353.8 165.2 352.8 165.3 351.7C165.3 350.6 165.4 349.6 165.5 348.5C165.6 347.5 165.7 346.4 165.8 345.4C165.9 344.3 165.9 343.3 166.0 342.2C166.1 341.2 166.2 340.1 166.3 339.1C166.4 338.0 166.5 337.0 166.6 336.0C166.6 335.0 166.7 333.9 166.8 332.9C166.9 331.9 167.0 330.9 167.1 329.9C167.2 328.8 167.3 327.9 167.4 326.8C167.5 325.8 167.6 324.7 167.7 323.6C167.9 322.5 168.0 321.4 168.1 320.3C168.2 319.3 168.3 318.4 168.5 317.4C168.6 316.3 168.8 315.3 168.9 314.3C169.1 313.3 169.2 312.3 169.4 311.3C169.6 310.2 169.7 309.1 169.9 308.1C170.1 307.1 170.3 306.0 170.5 305.0C170.8 304.0 171.0 303.0 171.2 302.0C171.5 301.0 171.8 299.2 172.3 299.1C172.7 299.0 173.7 300.6 174.1 301.4C174.6 302.3 174.6 303.4 174.8 304.4C175.0 305.4 175.2 306.4 175.4 307.5C175.6 308.6 175.7 309.7 175.9 310.7C176.1 311.8 176.2 312.7 176.3 313.8C176.5 314.8 176.6 315.9 176.7 316.9C176.8 317.9 176.9 318.9 177.1 319.9C177.2 321.0 177.3 322.1 177.4 323.2C177.5 324.3 177.6 325.4 177.7 326.4C177.8 327.5 177.8 328.4 177.9 329.5C178.0 330.5 178.1 331.5 178.2 332.5C178.3 333.5 178.4 334.5 178.5 335.6C178.6 336.6 178.6 337.6 178.7 338.7C178.8 339.7 178.9 340.7 179.0 341.8C179.1 342.8 179.2 343.9 179.3 344.9C179.3 346.0 179.4 347.0 179.5 348.1C179.6 349.1 179.7 350.2 179.8 351.2C179.9 352.3 179.9 353.3 180.0 354.4C180.1 355.5 180.2 356.5 180.3 357.6C180.4 358.6 180.4 359.7 180.5 360.7C180.6 361.8 180.7 362.9 180.8 363.9C180.9 365.0 181.0 366.0 181.0 367.1C181.1 368.1 181.2 369.2 181.3 370.2C181.4 371.3 181.5 372.3 181.5 373.4C181.6 374.4 181.7 375.5 181.8 376.5C181.9 377.6 182.0 378.6 182.0 379.7C182.1 380.7 182.2 381.8 182.3 382.8C182.4 383.9 182.4 384.9 182.5 386.0C182.6 387.0 182.7 388.1 182.8 389.1C182.9 390.1 182.9 391.2 183.0 392.2C183.1 393.3 183.2 394.3 183.3 395.4C183.4 396.4 183.4 397.5 183.5 398.5C183.6 399.5 183.7 400.6 183.8 401.6C183.9 402.7 183.9 403.7 184.0 404.8C184.1 405.8 184.2 406.9 184.3 407.9C184.3 408.9 184.4 410.0 184.5 411.0C184.6 412.1 184.7 413.1 184.8 414.1C184.8 415.2 184.9 416.2 185.0 417.3C185.1 418.3 185.2 419.4 185.3 420.4C185.3 421.4 185.4 422.5 185.5 423.5C185.6 424.6 185.7 425.6 185.7 426.6C185.8 427.7 185.9 428.7 186.0 429.8C186.1 430.8 186.2 431.8 186.2 432.9C186.3 433.9 186.4 435.0 186.5 436.0C186.6 437.0 186.7 438.1 186.7 439.1C186.8 440.2 186.9 441.2 187.0 442.2C187.1 443.3 187.2 444.3 187.2 445.4C187.3 446.4 187.4 447.5 187.5 448.5C187.6 449.5 187.7 450.6 187.7 451.6C187.8 452.7 187.9 453.7 188.0 454.7C188.1 455.8 188.2 456.8 188.2 457.9C188.3 458.9 188.4 460.0 188.5 461.0C188.6 462.1 188.7 463.1 188.7 464.2C188.8 465.2 188.9 466.3 189.0 467.3C189.1 468.4 189.2 469.4 189.2 470.5C189.3 471.5 189.4 472.6 189.5 473.6C189.6 474.7 189.6 475.7 189.7 476.8C189.8 477.9 189.9 478.9 190.0 480.0C190.0 481.1 190.1 482.1 190.2 483.2C190.3 484.3 190.4 485.4 190.5 486.4C190.6 487.5 190.7 488.5 190.8 489.6C191.0 490.6 191.1 491.7 191.4 492.7C191.6 493.7 191.8 494.8 192.1 495.8C192.3 496.8 192.7 497.8 193.0 498.7C193.4 499.7 193.8 500.7 194.3 501.6C194.7 502.5 195.3 503.4 195.9 504.3C196.4 505.2 197.1 506.0 197.8 506.8C198.5 507.6 199.2 508.4 200.0 509.1C200.8 509.8 201.7 510.5 202.5 511.1C203.4 511.7 204.3 512.2 205.2 512.7C206.2 513.1 207.1 513.5 208.1 513.9C209.1 514.2 210.1 514.5 211.1 514.8C212.2 515.0 213.2 515.2 214.3 515.4C215.3 515.5 216.4 515.7 217.5 515.8C218.5 515.9 219.6 516.0 220.7 516.0C221.7 516.1 222.8 516.2 223.9 516.3C224.9 516.3 226.0 516.4 227.0 516.4C228.1 516.5 229.4 516.6 230.1 516.7C230.5 516.7 230.7 516.8 231.0 516.8" fill="none" stroke="#000" stroke-width="1.1"/>
<path d="M47.5 490.3C47.7 489.3 47.9 488.3 48.1 487.3C48.3 486.3 48.5 485.4 48.8 484.4C49.0 483.4 49.2 482.4 49.4 481.4C49.6 480.4 49.9 479.4 50.1 478.4C50.3 477.4 50.5 476.4 50.7 475.4C51.0 474.3 51.2 473.3 51.4 472.3C51.6 471.3 51.9 470.3 52.1 469.3C52.3 468.3 52.6 467.3 52.8 466.3C53.0 465.3 53.2 464.3 53.5 463.4C53.7 462.4 53.9 461.4 54.2 460.4C54.4 459.4 54.6 458.4 54.9 457.4C55.1 456.5 55.3 455.5 55.6 454.5C55.9 453.6 56.2 452.6 56.5 451.7C56.9 450.7 57.3 449.7 57.8 448.8C58.3 447.9 58.8 447.1 59.5 446.3C60.1 445.5 60.8 444.5 61.7 444.0C62.6 443.4 63.7 442.7 64.7 442.7C65.6 442.8 66.7 443.4 67.5 444.0C68.3 444.6 68.9 445.5 69.6 446.3C70.2 447.1 70.7 448.0 71.2 448.9C71.7 449.9 72.2 450.9 72.6 451.8C73.1 452.8 73.4 453.7 73.8 454.7C74.3 455.6 74.7 456.6 75.2 457.6C75.6 458.5 76.2 459.4 76.7 460.4C77.2 461.3 77.8 462.2 78.2 463.2C78.7 464.1 79.1 464.9 79.5 465.9C80.0 466.8 80.3 467.8 80.7 468.8C81.0 469.8 81.3 470.8 81.7 471.8C82.0 472.8 82.3 473.8 82.7 474.8C83.0 475.9 83.3 476.9 83.7 477.9C84.1 478.8 84.5 479.8 84.9 480.8C85.4 481.7 85.9 482.6 86.4 483.5C86.9 484.3 87.5 485.2 88.1 486.0C88.8 486.8 89.5 487.6 90.2 488.4C91.0 489.1 91.8 489.9 92.6 490.5C93.5 491.2 94.4 491.9 95.3 492.4C96.1 493.0 97.0 493.5 97.9 493.9C98.8 494.4 99.7 494.8 100.6 495.2C101.6 495.6 102.5 495.9 103.5 496.2C104.5 496.5 105.5 496.8 106.5 497.0C107.5 497.2 108.5 497.4 109.5 497.5C110.5 497.7 111.5 497.8 112.6 497.8C113.6 497.9 114.6 497.9 115.7 497.9C116.7 497.9 117.8 497.8 118.8 497.7C119.8 497.6 120.9 497.5 121.9 497.3C122.9 497.1 123.9 496.9 124.9 496.6C125.9 496.4 126.9 496.1 127.9 495.7C128.8 495.4 129.8 495.0 130.7 494.5C131.7 494.1 132.6 493.7 133.5 493.2C134.4 492.7 135.2 492.1 136.1 491.6C137.0 491.0 137.8 490.4 138.6 489.7C139.4 489.1 140.2 488.4 140.9 487.8C141.7 487.1 142.4 486.3 143.1 485.6C143.7 484.9 144.4 484.1 145.0 483.3C145.7 482.5 146.2 481.7 146.8 480.8C147.4 480.0 147.9 479.1 148.4 478.3C148.9 477.4 149.3 476.5 149.8 475.6C150.2 474.7 150.6 473.7 151.0 472.8C151.4 471.9 151.7 470.9 152.0 470.0C152.4 469.0 152.7 468.0 153.0 467.0C153.3 466.0 153.6 465.0 153.8 464.0C154.1 463.0 154.3 462.0 154.6 461.0C154.8 460.0 155.0 459.0 155.2 458.0C155.4 457.0 155.6 455.9 155.8 454.9C156.0 453.9 156.2 452.9 156.4 451.8C156.5 450.8 156.7 449.8 156.9 448.8C157.1 447.8 157.2 446.8 157.4 445.8C157.6 444.7 157.7 443.7 157.9 442.7C158.0 441.7 158.2 440.7 158.3 439.7C158.5 438.7 158.6 437.7 158.8 436.7C158.9 435.7 159.1 434.7 159.2 433.7C159.3 432.6 159.5 431.6 159.6 430.6C159.7 429.6 159.9 428.6 160.0 427.6C160.1 426.6 160.3 425.6 160.4 424.6C160.5 423.6 160.7 422.6 160.8 421.6C160.9 420.6 161.0 419.6 161.2 418.6C161.3 417.6 161.4 416.6 161.5 415.6C161.7 414.6 161.8 413.6 161.9 412.6C162.0 411.6 162.2 410.6 162.3 409.6C162.4 408.6 162.5 407.5 162.7 406.5C162.8 405.5 162.9 404.5 163.0 403.5C163.2 402.5 163.3 401.5 163.4 400.5C163.6 399.4 163.7 398.4 163.8 397.4C164.0 396.4 164.1 395.4 164.2 394.3C164.4 393.3 164.5 392.3 164.7 391.3C164.8 390.2 165.0 389.2 165.1 388.2C165.3 387.1 165.4 386.1 165.6 385.1C165.7 384.0 165.9 383.0 166.0 382.0C166.2 380.9 166.3 379.9 166.5 378.9C166.7 377.9 166.8 376.8 167.0 375.8C167.2 374.8 167.3 373.8 167.5 372.8C167.7 371.8 167.8 370.8 168.0 369.8C168.2 368.8 168.4 367.7 168.6 366.7C168.8 365.7 169.0 364.7 169.2 363.7C169.4 362.7 169.5 361.7 169.7 360.7C170.0 359.7 170.2 358.6 170.4 357.6C170.6 356.6 170.8 355.7 171.1 354.7C171.3 353.6 171.6 352.6 171.8 351.5C172.1 350.4 172.4 349.3 172.7 348.3C172.9 347.2 173.2 346.2 173.5 345.2C173.9 344.2 174.0 342.5 174.7 342.2C175.4 342.0 176.8 342.8 177.4 343.5C178.1 344.3 178.3 345.5 178.7 346.6C179.0 347.6 179.3 348.6 179.6 349.6C179.8 350.6 180.0 351.6 180.2 352.7C180.4 353.7 180.6 354.7 180.7 355.7C180.9 356.7 181.0 357.7 181.2 358.7C181.3 359.8 181.5 360.8 181.6 361.8C181.7 362.8 181.8 363.8 181.9 364.9C182.1 365.9 182.2 366.9 182.3 367.9C182.4 368.9 182.5 370.0 182.6 371.0C182.7 372.0 182.8 373.0 182.9 374.0C183.0 375.1 183.0 376.1 183.1 377.1C183.2 378.1 183.3 379.1 183.4 380.2C183.5 381.2 183.6 382.2 183.7 383.2C183.7 384.2 183.8 385.3 183.9 386.3C184.0 387.3 184.1 388.3 184.2 389.3C184.3 390.3 184.4 391.4 184.5 392.4C184.6 393.4 184.7 394.4 184.8 395.4C184.9 396.4 185.0 397.4 185.1 398.4C185.2 399.5 185.3 400.5 185.4 401.5C185.5 402.5 185.6 403.5 185.7 404.5C185.8 405.5 186.0 406.5 186.1 407.5C186.2 408.5 186.3 409.5 186.4 410.6C186.5 411.6 186.6 412.6 186.8 413.6C186.9 414.6 187.0 415.6 187.1 416.6C187.2 417.6 187.3 418.6 187.4 419.6C187.6 420.6 187.7 421.7 187.8 422.7C187.9 423.7 188.0 424.7 188.1 425.7C188.2 426.7 188.3 427.7 188.4 428.7C188.6 429.7 188.7 430.8 188.8 431.8C188.9 432.8 189.0 433.8 189.1 434.8C189.2 435.8 189.3 436.9 189.4 437.9C189.5 438.9 189.6 439.9 189.7 440.9C189.7 442.0 189.8 443.0 189.9 444.0C190.0 445.0 190.1 446.1 190.2 447.1C190.2 448.1 190.3 449.2 190.4 450.2C190.5 451.2 190.5 452.2 190.6 453.3C190.7 454.3 190.7 455.4 190.8 456.4C190.9 457.4 191.0 458.5 191.0 459.5C191.1 460.5 191.2 461.6 191.3 462.6C191.3 463.6 191.4 464.7 191.5 465.7C191.6 466.7 191.7 467.7 191.8 468.8C192.0 469.8 192.1 470.8 192.2 471.8C192.4 472.8 192.5 473.8 192.7 474.9C192.8 475.9 193.0 476.9 193.2 477.9C193.4 478.8 193.6 479.8 193.9 480.8C194.1 481.8 194.4 482.8 194.6 483.7C194.9 484.7 195.2 485.7 195.5 486.6C195.9 487.6 196.2 488.5 196.6 489.5C196.9 490.4 197.3 491.3 197.8 492.2C198.2 493.1 198.7 494.1 199.1 494.9C199.6 495.8 200.1 496.7 200.7 497.6C201.2 498.4 201.8 499.3 202.4 500.1C203.0 500.9 203.6 501.8 204.3 502.5C204.9 503.3 205.6 504.1 206.3 504.8C207.0 505.5 207.8 506.3 208.5 506.9C209.3 507.6 210.0 508.3 210.8 508.9C211.6 509.5 212.5 510.1 213.3 510.6C214.2 511.1 215.1 511.7 216.0 512.1C216.8 512.6 217.8 513.0 218.7 513.4C219.7 513.8 220.6 514.1 221.6 514.4C222.6 514.7 223.6 514.9 224.6 515.1C225.6 515.3 226.7 515.4 227.7 515.5C228.8 515.6 229.9 515.6 231.0 515.6" fill="none" stroke="#000" stroke-width="1.1"/>
<line x1="108.60" y1="289.00" x2="108.60" y2="527.60" stroke="#222" stroke-width="0.9" stroke-dasharray="1 2.35"/>
<line x1="38.80" y1="287.00" x2="38.80" y2="528.15" stroke="#222" stroke-width="1.1"/>
<line x1="38.25" y1="527.60" x2="231.00" y2="527.60" stroke="#222" stroke-width="1.1"/>
<line x1="36.50" y1="517.10" x2="38.80" y2="517.10" stroke="#333333" stroke-width="1"/>
<text x="34.60" y="521.20" font-family="Liberation Sans, sans-serif" font-size="10.3" fill="#4D4D4D" text-anchor="end">0.0</text>
<line x1="36.50" y1="463.60" x2="38.80" y2="463.60" stroke="#333333" stroke-width="1"/>
<text x="34.60" y="467.70" font-family="Liberation Sans, sans-serif" font-size="10.3" fill="#4D4D4D" text-anchor="end">0.5</text>
<line x1="36.50" y1="410.10" x2="38.80" y2="410.10" stroke="#333333" stroke-width="1"/>
<text x="34.60" y="414.20" font-family="Liberation Sans, sans-serif" font-size="10.3" fill="#4D4D4D" text-anchor="end">1.0</text>
<line x1="36.50" y1="356.60" x2="38.80" y2="356.60" stroke="#333333" stroke-width="1"/>
<text x="34.60" y="360.70" font-family="Liberation Sans, sans-serif" font-size="10.3" fill="#4D4D4D" text-anchor="end">1.5</text>
<line x1="36.50" y1="303.10" x2="38.80" y2="303.10" stroke="#333333" stroke-width="1"/>
<text x="34.60" y="307.20" font-family="Liberation Sans, sans-serif" font-size="10.3" fill="#4D4D4D" text-anchor="end">2.0</text>
<line x1="47.40" y1="527.60" x2="47.40" y2="529.90" stroke="#333333" stroke-width="1"/>
<text x="47.40" y="539.80" font-family="Liberation Sans, sans-serif" font-size="10.3" fill="#4D4D4D" text-anchor="middle">0.0</text>
<line x1="91.40" y1="527.60" x2="91.40" y2="529.90" stroke="#333333" stroke-width="1"/>
<text x="91.40" y="539.80" font-family="Liberation Sans, sans-serif" font-size="10.3" fill="#4D4D4D" text-anchor="middle">0.5</text>
<line x1="135.40" y1="527.60" x2="135.40" y2="529.90" stroke="#333333" stroke-width="1"/>
<text x="135.40" y="539.80" font-family="Liberation Sans, sans-serif" font-size="10.3" fill="#4D4D4D" text-anchor="middle">1.0</text>
<line x1="179.40" y1="527.60" x2="179.40" y2="529.90" stroke="#333333" stroke-width="1"/>
<text x="179.40" y="539.80" font-family="Liberation Sans, sans-serif" font-size="10.3" fill="#4D4D4D" text-anchor="middle">1.5</text>
<line x1="223.40" y1="527.60" x2="223.40" y2="529.90" stroke="#333333" stroke-width="1"/>
<text x="223.40" y="539.80" font-family="Liberation Sans, sans-serif" font-size="10.3" fill="#4D4D4D" text-anchor="middle">2.0</text>
<text x="3.3" y="294.5" font-family="Liberation Serif, serif" font-size="11" font-weight="bold">c</text>
<path d="M283.4 458.0C283.4 456.9 283.5 455.8 283.5 454.7C283.5 453.6 283.6 452.4 283.6 451.3C283.6 450.2 283.7 449.1 283.7 448.0C283.7 446.9 283.8 445.8 283.8 444.7C283.8 443.6 283.9 442.5 283.9 441.4C284.0 440.3 284.0 439.2 284.0 438.1C284.1 437.0 284.1 435.9 284.2 434.8C284.2 433.7 284.3 432.6 284.3 431.5C284.3 430.4 284.4 429.3 284.4 428.2C284.5 427.1 284.5 426.0 284.6 424.9C284.6 423.8 284.7 422.7 284.7 421.6C284.8 420.6 284.8 419.5 284.9 418.4C284.9 417.3 285.0 416.2 285.0 415.1C285.1 414.0 285.2 412.9 285.2 411.8C285.3 410.7 285.3 409.6 285.4 408.5C285.4 407.4 285.5 406.3 285.6 405.3C285.6 404.2 285.7 403.1 285.7 402.0C285.8 400.9 285.9 399.8 285.9 398.7C286.0 397.6 286.1 396.5 286.1 395.4C286.2 394.3 286.3 393.2 286.3 392.1C286.4 391.0 286.5 389.9 286.5 388.8C286.6 387.7 286.7 386.6 286.7 385.5C286.8 384.4 286.9 383.3 287.0 382.2C287.0 381.1 287.1 380.0 287.2 378.9C287.3 377.8 287.3 376.7 287.4 375.6C287.5 374.4 287.6 373.3 287.7 372.2C287.7 371.1 287.8 370.0 287.9 368.9C288.0 367.8 288.1 366.6 288.2 365.5C288.2 364.4 288.3 363.3 288.4 362.2C288.5 361.0 288.6 359.9 288.7 358.8C288.8 357.7 288.9 356.6 289.0 355.4C289.1 354.3 289.1 353.2 289.2 352.1C289.3 351.0 289.4 349.9 289.5 348.8C289.6 347.7 289.7 346.6 289.8 345.5C289.9 344.4 290.0 343.3 290.2 342.2C290.3 341.1 290.4 340.1 290.5 339.0C290.6 338.0 290.7 336.9 290.8 335.9C290.9 334.9 291.0 333.8 291.2 332.8C291.3 331.8 291.4 330.8 291.5 329.8C291.7 328.8 291.8 327.8 291.9 326.8C292.0 325.8 292.2 324.8 292.3 323.7C292.5 322.7 292.6 321.6 292.8 320.5C292.9 319.5 293.0 318.5 293.2 317.5C293.3 316.4 293.5 315.3 293.6 314.2C293.7 313.2 293.9 312.2 294.0 311.2C294.1 310.1 294.3 309.1 294.4 308.0C294.5 306.9 294.7 305.9 294.8 304.8C295.0 303.7 295.1 302.6 295.4 301.6C295.6 300.6 295.9 298.7 296.3 298.6C296.7 298.6 297.3 300.4 297.7 301.3C298.0 302.3 298.1 303.4 298.3 304.5C298.4 305.5 298.6 306.5 298.8 307.6C298.9 308.6 299.1 309.7 299.2 310.8C299.4 311.8 299.5 312.7 299.6 313.7C299.8 314.8 300.0 315.9 300.1 316.9C300.3 318.1 300.4 319.2 300.6 320.3C300.7 321.4 300.8 322.4 301.0 323.5C301.1 324.5 301.2 325.5 301.3 326.5C301.4 327.6 301.5 328.6 301.6 329.6C301.7 330.7 301.8 331.7 301.9 332.8C302.0 333.8 302.1 334.9 302.1 336.0C302.2 337.1 302.3 338.2 302.3 339.3C302.4 340.4 302.5 341.5 302.5 342.6C302.6 343.7 302.6 344.8 302.7 345.9C302.8 347.0 302.8 348.1 302.9 349.2C302.9 350.3 303.0 351.4 303.0 352.6C303.1 353.7 303.2 354.8 303.2 355.9C303.3 357.0 303.4 358.1 303.4 359.2C303.5 360.3 303.5 361.4 303.6 362.5C303.7 363.6 303.7 364.7 303.8 365.8C303.9 366.9 303.9 368.1 304.0 369.2C304.1 370.3 304.1 371.4 304.2 372.5C304.3 373.6 304.3 374.7 304.4 375.8C304.5 376.9 304.5 378.0 304.6 379.1C304.7 380.2 304.8 381.3 304.8 382.4C304.9 383.5 305.0 384.6 305.0 385.7C305.1 386.8 305.2 387.9 305.3 389.0C305.3 390.1 305.4 391.2 305.5 392.3C305.6 393.4 305.6 394.4 305.7 395.5C305.8 396.6 305.9 397.7 306.0 398.8C306.0 399.9 306.1 401.0 306.2 402.1C306.3 403.2 306.4 404.3 306.5 405.4C306.5 406.5 306.6 407.6 306.7 408.7C306.8 409.8 306.9 410.9 307.0 412.0C307.1 413.1 307.1 414.2 307.2 415.3C307.3 416.3 307.4 417.4 307.5 418.5C307.6 419.6 307.7 420.7 307.8 421.8C307.9 422.9 308.0 424.0 308.1 425.1C308.2 426.2 308.4 427.3 308.5 428.4C308.6 429.5 308.7 430.5 308.8 431.6C309.0 432.7 309.1 433.8 309.2 434.9C309.4 436.0 309.5 437.1 309.6 438.2C309.8 439.3 309.9 440.4 310.1 441.5C310.2 442.5 310.4 443.6 310.6 444.7C310.7 445.8 310.9 446.9 311.1 448.0C311.3 449.1 311.4 450.2 311.6 451.3C311.8 452.3 312.0 453.4 312.2 454.5C312.4 455.6 312.6 456.7 312.9 457.8C313.1 458.9 313.3 460.0 313.5 461.0C313.8 462.1 314.0 463.2 314.3 464.3C314.5 465.4 314.8 466.5 315.0 467.6C315.3 468.6 315.6 469.7 315.9 470.8C316.1 471.9 316.4 473.0 316.7 474.1C317.0 475.1 317.3 476.2 317.7 477.3C318.0 478.4 318.3 479.5 318.7 480.5C319.1 481.6 319.5 482.6 319.9 483.6C320.3 484.6 320.8 485.6 321.3 486.6C321.8 487.5 322.3 488.5 322.9 489.4C323.5 490.2 324.1 491.1 324.8 491.9C325.5 492.6 326.3 493.4 327.1 494.1C327.9 494.8 328.8 495.4 329.6 496.1C330.5 496.7 331.5 497.3 332.4 497.8C333.4 498.4 334.4 499.0 335.4 499.5C336.3 499.9 337.2 500.4 338.1 500.8C339.0 501.2 340.0 501.6 340.9 501.9C341.9 502.3 342.8 502.6 343.8 502.9C344.8 503.2 345.7 503.5 346.7 503.7C347.8 504.0 348.9 504.2 350.0 504.3C351.1 504.5 352.2 504.6 353.3 504.6C354.4 504.6 355.5 504.6 356.6 504.5C357.6 504.4 358.7 504.2 359.7 503.9C360.7 503.7 361.7 503.3 362.7 502.9C363.6 502.4 364.5 501.9 365.4 501.3C366.3 500.7 367.2 500.0 368.0 499.3C368.9 498.6 369.7 497.8 370.4 497.0C371.2 496.2 372.0 495.3 372.7 494.5C373.4 493.6 374.2 492.8 374.8 491.9C375.5 491.0 376.2 490.1 376.8 489.2C377.5 488.2 378.1 487.3 378.6 486.4C379.2 485.4 379.8 484.5 380.3 483.5C380.8 482.5 381.3 481.5 381.8 480.5C382.3 479.5 382.7 478.5 383.1 477.5C383.5 476.5 383.9 475.5 384.3 474.4C384.7 473.4 385.0 472.4 385.4 471.3C385.7 470.3 386.0 469.2 386.3 468.2C386.6 467.1 386.9 466.1 387.2 465.0C387.5 463.9 387.7 462.9 388.0 461.8C388.2 460.7 388.5 459.6 388.7 458.6C388.9 457.5 389.1 456.4 389.3 455.3C389.6 454.2 389.8 453.2 390.0 452.1C390.2 451.0 390.4 449.9 390.5 448.8C390.7 447.8 390.9 446.7 391.1 445.6C391.3 444.5 391.4 443.5 391.6 442.4C391.8 441.3 392.0 440.2 392.1 439.1C392.3 438.1 392.4 437.0 392.6 435.9C392.7 434.8 392.9 433.7 393.0 432.6C393.2 431.6 393.3 430.5 393.5 429.4C393.6 428.3 393.7 427.2 393.9 426.1C394.0 425.0 394.2 423.9 394.3 422.9C394.4 421.8 394.5 420.7 394.7 419.6C394.8 418.5 394.9 417.4 395.0 416.3C395.2 415.2 395.3 414.1 395.4 413.0C395.5 411.9 395.7 410.8 395.8 409.7C395.9 408.6 396.0 407.4 396.1 406.3C396.3 405.2 396.4 404.1 396.5 403.0C396.6 401.9 396.7 400.7 396.9 399.6C397.0 398.5 397.1 397.4 397.2 396.3C397.3 395.1 397.5 394.0 397.6 392.9C397.7 391.8 397.8 390.6 397.9 389.5C398.1 388.4 398.2 387.3 398.3 386.2C398.4 385.0 398.6 383.9 398.7 382.8C398.8 381.7 398.9 380.7 399.0 379.6C399.2 378.5 399.3 377.4 399.4 376.3C399.5 375.3 399.7 374.2 399.8 373.2C399.9 372.2 400.0 371.1 400.1 370.1C400.3 369.1 400.4 368.1 400.5 367.1C400.7 366.0 400.8 364.9 400.9 363.8C401.1 362.7 401.2 361.6 401.4 360.5C401.5 359.4 401.6 358.3 401.8 357.2C401.9 356.1 402.0 355.1 402.2 354.1C402.3 353.1 402.4 352.0 402.6 350.9C402.7 349.8 402.9 348.6 403.0 347.5C403.1 346.5 403.2 345.4 403.4 344.4C403.5 343.3 403.6 342.1 403.8 341.0C403.9 340.0 404.0 339.0 404.1 337.9C404.2 336.9 404.3 335.8 404.5 334.7C404.6 333.6 404.7 332.5 404.8 331.3C404.9 330.2 405.1 329.1 405.2 328.0C405.3 327.0 405.4 325.9 405.6 324.9C405.7 323.8 405.9 322.7 406.0 321.7C406.2 320.6 406.2 318.6 406.6 318.5C407.0 318.4 408.2 320.2 408.6 321.1C408.9 322.1 408.8 323.2 409.0 324.2C409.1 325.3 409.2 326.2 409.3 327.3C409.4 328.3 409.6 329.4 409.7 330.5C409.8 331.6 409.9 332.7 410.0 333.8C410.1 334.8 410.2 335.9 410.3 336.9C410.4 338.0 410.6 339.2 410.7 340.4C410.8 341.4 410.9 342.5 411.0 343.5C411.2 344.5 411.3 345.5 411.4 346.5C411.5 347.6 411.7 348.7 411.8 349.8C411.9 350.8 412.0 351.9 412.2 352.9C412.3 354.0 412.4 355.1 412.5 356.1C412.7 357.2 412.8 358.2 412.9 359.3C413.0 360.4 413.1 361.4 413.3 362.5C413.4 363.6 413.5 364.6 413.6 365.7C413.7 366.8 413.8 367.8 414.0 368.9C414.1 370.0 414.2 371.1 414.3 372.1C414.4 373.2 414.5 374.3 414.6 375.4C414.7 376.4 414.9 377.5 415.0 378.6C415.1 379.7 415.2 380.8 415.3 381.9C415.4 382.9 415.5 384.0 415.6 385.1C415.7 386.2 415.8 387.3 415.9 388.4C416.0 389.5 416.1 390.6 416.2 391.7C416.3 392.8 416.5 393.8 416.6 394.9C416.7 396.0 416.8 397.1 416.9 398.2C417.0 399.3 417.1 400.4 417.2 401.5C417.3 402.6 417.4 403.7 417.5 404.8C417.6 405.9 417.7 407.0 417.8 408.1C417.9 409.2 418.0 410.3 418.1 411.4C418.2 412.5 418.3 413.6 418.4 414.7C418.5 415.8 418.6 416.9 418.7 418.0C418.8 419.1 418.9 420.2 419.0 421.3C419.1 422.4 419.2 423.5 419.3 424.6C419.4 425.8 419.5 426.9 419.6 428.0C419.7 429.1 419.8 430.2 419.9 431.3C420.0 432.4 420.1 433.5 420.2 434.6C420.3 435.7 420.5 436.8 420.6 437.9C420.7 439.0 420.8 440.1 420.9 441.2C421.0 442.3 421.1 443.4 421.2 444.5C421.3 445.6 421.4 446.7 421.5 447.9C421.6 449.0 421.7 450.1 421.9 451.2C422.0 452.3 422.1 453.4 422.2 454.5C422.3 455.6 422.4 456.7 422.5 457.8C422.6 458.9 422.8 460.0 422.9 461.1C423.0 462.2 423.1 463.3 423.2 464.4C423.4 465.5 423.5 466.6 423.6 467.7C423.7 468.8 423.8 469.9 424.0 471.0C424.1 472.1 424.2 473.1 424.3 474.2C424.5 475.3 424.6 476.4 424.7 477.5C424.8 478.6 425.0 479.7 425.1 480.8C425.2 481.9 425.4 483.0 425.5 484.0C425.6 485.1 425.8 486.2 425.9 487.3C426.1 488.4 426.2 489.5 426.4 490.5C426.5 491.6 426.7 492.7 426.9 493.8C427.1 494.8 427.4 495.9 427.6 496.9C427.9 498.0 428.2 499.0 428.5 500.1C428.9 501.1 429.3 502.1 429.7 503.2C430.1 504.2 430.6 505.2 431.1 506.2C431.7 507.2 432.3 508.1 433.0 509.1C433.6 510.0 434.3 510.9 435.1 511.7C435.9 512.4 436.7 513.2 437.7 513.8C438.6 514.3 439.5 514.8 440.6 515.2C441.6 515.6 442.7 515.8 443.7 516.0C444.9 516.2 446.0 516.3 447.1 516.4C448.2 516.5 449.2 516.5 450.2 516.5C451.3 516.5 452.3 516.4 453.3 516.4C454.4 516.3 455.4 516.3 456.4 516.2C457.5 516.2 458.7 516.2 459.8 516.2C460.9 516.2 461.9 516.2 463.0 516.3C464.1 516.4 465.7 516.8 466.3 516.9C466.4 516.9 466.5 517.0 466.6 517.0 L466.60 517.30 L283.40 517.30 Z" fill="#F0E442" fill-opacity="0.5" stroke="none"/>
<path d="M283.4 466.0C283.5 465.0 283.5 463.9 283.6 462.9C283.6 461.8 283.7 460.8 283.7 459.8C283.8 458.7 283.8 457.7 283.9 456.7C283.9 455.6 284.0 454.6 284.1 453.6C284.1 452.6 284.2 451.5 284.2 450.5C284.3 449.5 284.4 448.5 284.4 447.4C284.5 446.4 284.5 445.4 284.6 444.4C284.7 443.3 284.7 442.3 284.8 441.3C284.8 440.3 284.9 439.3 285.0 438.2C285.0 437.2 285.1 436.2 285.2 435.2C285.2 434.2 285.3 433.1 285.4 432.1C285.4 431.1 285.5 430.1 285.6 429.1C285.6 428.1 285.7 427.0 285.8 426.0C285.8 425.0 285.9 424.0 286.0 423.0C286.1 421.9 286.1 420.9 286.2 419.9C286.3 418.9 286.4 417.8 286.4 416.8C286.5 415.8 286.6 414.8 286.7 413.8C286.8 412.7 286.8 411.7 286.9 410.7C287.0 409.6 287.1 408.6 287.2 407.6C287.3 406.6 287.3 405.5 287.4 404.5C287.5 403.5 287.6 402.4 287.7 401.4C287.8 400.4 287.9 399.3 288.0 398.3C288.1 397.2 288.2 396.2 288.2 395.2C288.3 394.1 288.4 393.1 288.5 392.0C288.6 391.0 288.7 389.9 288.8 388.9C288.9 387.8 289.0 386.8 289.1 385.7C289.2 384.7 289.3 383.7 289.4 382.6C289.5 381.6 289.6 380.6 289.7 379.5C289.8 378.5 289.9 377.5 290.0 376.5C290.1 375.4 290.2 374.4 290.3 373.4C290.4 372.4 290.5 371.4 290.7 370.4C290.8 369.4 290.9 368.2 291.0 367.2C291.1 366.1 291.2 365.0 291.3 364.0C291.4 362.9 291.5 361.9 291.6 360.8C291.7 359.8 291.9 358.7 292.0 357.6C292.1 356.6 292.2 355.5 292.4 354.4C292.5 353.3 292.6 352.3 292.8 351.3C292.9 350.2 293.1 349.1 293.2 348.0C293.4 346.9 293.5 345.9 293.7 344.9C293.9 343.7 294.1 342.6 294.2 341.5C294.4 340.4 294.6 339.4 294.8 338.4C295.0 337.3 295.2 336.2 295.5 335.2C295.7 334.2 295.7 332.6 296.3 332.2C297.0 331.8 298.7 332.3 299.3 332.9C300.0 333.5 300.0 334.9 300.3 336.0C300.6 337.1 300.9 338.3 301.1 339.4C301.4 340.4 301.6 341.4 301.8 342.4C302.0 343.5 302.2 344.6 302.4 345.7C302.6 346.8 302.7 347.8 302.9 348.8C303.1 349.9 303.2 351.0 303.3 352.1C303.5 353.2 303.6 354.2 303.7 355.2C303.8 356.3 303.9 357.4 304.0 358.5C304.1 359.6 304.2 360.7 304.2 361.7C304.3 362.8 304.4 363.9 304.5 364.9C304.6 366.0 304.6 367.1 304.7 368.1C304.8 369.2 304.9 370.3 305.0 371.4C305.1 372.5 305.2 373.7 305.3 374.7C305.4 375.8 305.5 376.8 305.6 377.8C305.7 378.8 305.8 379.8 305.9 380.8C306.0 381.8 306.1 382.9 306.2 383.9C306.3 384.9 306.4 385.9 306.5 387.0C306.6 388.0 306.7 389.0 306.8 390.1C307.0 391.1 307.1 392.1 307.2 393.2C307.3 394.2 307.4 395.3 307.5 396.3C307.6 397.3 307.7 398.4 307.8 399.4C307.9 400.5 308.0 401.5 308.1 402.5C308.2 403.6 308.3 404.6 308.4 405.6C308.5 406.7 308.6 407.7 308.7 408.7C308.7 409.8 308.8 410.8 308.9 411.8C309.0 412.9 309.1 413.9 309.2 414.9C309.3 415.9 309.4 417.0 309.5 418.0C309.6 419.0 309.7 420.0 309.8 421.1C309.9 422.1 309.9 423.1 310.0 424.1C310.1 425.1 310.2 426.2 310.4 427.2C310.5 428.2 310.6 429.2 310.7 430.2C310.8 431.2 310.9 432.3 311.0 433.3C311.1 434.3 311.3 435.3 311.4 436.3C311.5 437.3 311.6 438.3 311.8 439.3C311.9 440.3 312.1 441.4 312.2 442.4C312.4 443.4 312.5 444.4 312.7 445.4C312.8 446.4 313.0 447.4 313.2 448.4C313.4 449.4 313.5 450.4 313.7 451.4C313.9 452.4 314.1 453.4 314.3 454.4C314.5 455.4 314.8 456.4 315.0 457.4C315.2 458.4 315.4 459.4 315.7 460.4C315.9 461.4 316.2 462.4 316.5 463.4C316.7 464.4 317.0 465.4 317.3 466.4C317.6 467.4 317.9 468.4 318.2 469.4C318.5 470.4 318.8 471.4 319.1 472.4C319.5 473.4 319.8 474.4 320.2 475.4C320.6 476.4 320.9 477.4 321.3 478.4C321.7 479.4 322.1 480.4 322.5 481.3C323.0 482.3 323.4 483.3 323.9 484.2C324.4 485.1 324.8 486.1 325.4 486.9C325.9 487.8 326.4 488.7 327.0 489.6C327.6 490.4 328.2 491.2 328.8 492.0C329.5 492.8 330.2 493.7 331.0 494.4C331.8 495.2 332.6 495.9 333.5 496.6C334.4 497.2 335.4 497.8 336.3 498.4C337.2 498.9 338.1 499.3 339.0 499.7C339.9 500.1 340.9 500.4 341.9 500.7C342.8 501.0 343.9 501.2 344.9 501.4C345.9 501.6 346.9 501.7 348.0 501.8C349.0 501.9 350.1 502.0 351.1 502.0C352.2 502.0 353.2 501.9 354.3 501.8C355.3 501.7 356.4 501.6 357.4 501.4C358.5 501.2 359.5 501.0 360.5 500.7C361.5 500.4 362.5 500.1 363.5 499.7C364.4 499.3 365.4 498.9 366.3 498.4C367.2 498.0 368.1 497.4 369.0 496.9C369.8 496.3 370.7 495.7 371.4 495.1C372.2 494.4 372.9 493.7 373.6 493.0C374.3 492.3 375.0 491.5 375.6 490.7C376.3 489.9 376.9 489.1 377.5 488.2C378.0 487.4 378.6 486.5 379.1 485.6C379.6 484.7 380.1 483.8 380.6 482.8C381.1 481.9 381.5 480.9 382.0 480.0C382.4 479.0 382.9 478.0 383.3 477.1C383.7 476.1 384.1 475.1 384.5 474.1C384.9 473.2 385.3 472.2 385.7 471.2C386.1 470.3 386.4 469.3 386.8 468.3C387.2 467.4 387.6 466.5 388.0 465.5C388.3 464.6 388.7 463.7 389.1 462.7C389.5 461.7 389.9 460.7 390.2 459.6C390.6 458.6 391.0 457.5 391.4 456.5C391.7 455.5 392.0 454.6 392.3 453.7C392.6 452.7 392.9 451.7 393.2 450.7C393.5 449.7 393.7 448.8 394.0 447.8C394.2 446.7 394.5 445.7 394.7 444.7C395.0 443.7 395.2 442.7 395.4 441.7C395.6 440.6 395.8 439.6 396.0 438.6C396.2 437.5 396.4 436.5 396.6 435.4C396.8 434.4 397.0 433.3 397.2 432.3C397.4 431.2 397.5 430.2 397.7 429.1C397.9 428.1 398.0 427.0 398.2 426.0C398.3 424.9 398.5 423.9 398.6 422.8C398.8 421.8 398.9 420.8 399.1 419.7C399.2 418.7 399.4 417.7 399.5 416.6C399.7 415.6 399.8 414.6 399.9 413.6C400.1 412.6 400.2 411.6 400.3 410.5C400.5 409.5 400.7 408.3 400.8 407.3C401.0 406.2 401.1 405.1 401.3 404.0C401.5 403.0 401.6 401.9 401.8 400.9C402.0 399.9 402.1 398.9 402.3 397.9C402.5 396.8 402.7 395.9 402.9 394.9C403.0 393.9 403.2 392.9 403.4 391.8C403.6 390.8 403.8 389.8 404.0 388.8C404.2 387.7 404.4 386.7 404.6 385.6C404.8 384.6 405.0 383.6 405.2 382.6C405.4 381.6 405.6 380.5 405.8 379.5C405.9 378.5 406.1 377.5 406.3 376.5C406.5 375.4 406.6 374.4 406.8 373.3C407.0 372.2 407.2 371.0 407.3 369.9C407.5 368.9 407.6 367.8 407.8 366.8C408.0 365.7 408.1 364.6 408.3 363.6C408.4 362.5 408.6 361.5 408.8 360.5C408.9 359.4 409.1 358.4 409.3 357.3C409.5 356.3 409.5 354.6 410.1 354.4C410.6 354.2 412.0 355.5 412.5 356.3C413.0 357.1 412.9 358.3 413.2 359.3C413.4 360.3 413.5 361.2 413.7 362.3C413.9 363.3 414.1 364.4 414.3 365.4C414.4 366.5 414.6 367.6 414.8 368.6C414.9 369.7 415.1 370.6 415.3 371.7C415.4 372.7 415.6 373.9 415.7 374.9C415.9 376.0 416.0 377.0 416.2 378.0C416.3 379.1 416.5 380.2 416.6 381.3C416.8 382.3 416.9 383.3 417.1 384.3C417.2 385.4 417.3 386.5 417.5 387.6C417.6 388.6 417.7 389.6 417.9 390.7C418.0 391.7 418.1 392.7 418.2 393.7C418.4 394.7 418.5 395.7 418.6 396.8C418.7 397.8 418.8 398.8 419.0 399.8C419.1 400.9 419.2 401.9 419.4 403.0C419.5 404.0 419.6 405.1 419.8 406.2C419.9 407.2 420.0 408.2 420.1 409.2C420.3 410.2 420.4 411.2 420.5 412.2C420.6 413.2 420.8 414.2 420.9 415.3C421.0 416.3 421.2 417.3 421.3 418.4C421.5 419.4 421.6 420.5 421.7 421.5C421.9 422.6 422.0 423.6 422.2 424.7C422.3 425.7 422.4 426.7 422.6 427.8C422.7 428.8 422.9 429.9 423.0 430.9C423.2 432.0 423.3 433.0 423.5 434.0C423.6 435.1 423.8 436.1 423.9 437.1C424.0 438.2 424.2 439.2 424.3 440.2C424.5 441.2 424.6 442.2 424.8 443.3C424.9 444.3 425.1 445.3 425.2 446.3C425.4 447.3 425.5 448.3 425.7 449.3C425.8 450.3 425.9 451.3 426.1 452.4C426.2 453.4 426.4 454.4 426.5 455.4C426.6 456.4 426.8 457.4 426.9 458.4C427.0 459.4 427.2 460.5 427.3 461.5C427.4 462.5 427.5 463.5 427.6 464.5C427.8 465.6 427.9 466.6 428.0 467.6C428.1 468.6 428.2 469.7 428.3 470.7C428.5 471.7 428.6 472.8 428.7 473.8C428.9 474.8 429.0 475.9 429.1 476.9C429.3 477.9 429.5 478.9 429.6 479.9C429.8 481.0 430.0 482.0 430.2 483.0C430.4 484.0 430.7 485.0 430.9 486.0C431.2 487.0 431.4 488.0 431.7 489.0C432.0 489.9 432.4 490.9 432.7 491.9C433.1 492.8 433.5 493.8 433.9 494.7C434.3 495.7 434.7 496.6 435.2 497.5C435.7 498.4 436.2 499.3 436.8 500.2C437.3 501.1 437.9 501.9 438.5 502.8C439.1 503.6 439.8 504.4 440.4 505.2C441.1 506.0 441.8 506.7 442.5 507.5C443.3 508.2 444.0 508.9 444.8 509.5C445.6 510.2 446.4 510.8 447.2 511.3C448.1 511.9 448.9 512.4 449.8 512.9C450.7 513.4 451.6 513.8 452.5 514.2C453.5 514.6 454.4 515.0 455.4 515.2C456.4 515.5 457.4 515.8 458.4 515.9C459.4 516.1 460.5 516.2 461.5 516.3C462.6 516.3 463.8 516.3 464.8 516.2C465.5 516.2 466.0 516.1 466.6 516.0 L466.60 517.30 L283.40 517.30 Z" fill="#CC79A7" fill-opacity="0.5" stroke="none"/>
<path d="M283.4 458.0C283.4 456.9 283.5 455.8 283.5 454.7C283.5 453.6 283.6 452.4 283.6 451.3C283.6 450.2 283.7 449.1 283.7 448.0C283.7 446.9 283.8 445.8 283.8 444.7C283.8 443.6 283.9 442.5 283.9 441.4C284.0 440.3 284.0 439.2 284.0 438.1C284.1 437.0 284.1 435.9 284.2 434.8C284.2 433.7 284.3 432.6 284.3 431.5C284.3 430.4 284.4 429.3 284.4 428.2C284.5 427.1 284.5 426.0 284.6 424.9C284.6 423.8 284.7 422.7 284.7 421.6C284.8 420.6 284.8 419.5 284.9 418.4C284.9 417.3 285.0 416.2 285.0 415.1C285.1 414.0 285.2 412.9 285.2 411.8C285.3 410.7 285.3 409.6 285.4 408.5C285.4 407.4 285.5 406.3 285.6 405.3C285.6 404.2 285.7 403.1 285.7 402.0C285.8 400.9 285.9 399.8 285.9 398.7C286.0 397.6 286.1 396.5 286.1 395.4C286.2 394.3 286.3 393.2 286.3 392.1C286.4 391.0 286.5 389.9 286.5 388.8C286.6 387.7 286.7 386.6 286.7 385.5C286.8 384.4 286.9 383.3 287.0 382.2C287.0 381.1 287.1 380.0 287.2 378.9C287.3 377.8 287.3 376.7 287.4 375.6C287.5 374.4 287.6 373.3 287.7 372.2C287.7 371.1 287.8 370.0 287.9 368.9C288.0 367.8 288.1 366.6 288.2 365.5C288.2 364.4 288.3 363.3 288.4 362.2C288.5 361.0 288.6 359.9 288.7 358.8C288.8 357.7 288.9 356.6 289.0 355.4C289.1 354.3 289.1 353.2 289.2 352.1C289.3 351.0 289.4 349.9 289.5 348.8C289.6 347.7 289.7 346.6 289.8 345.5C289.9 344.4 290.0 343.3 290.2 342.2C290.3 341.1 290.4 340.1 290.5 339.0C290.6 338.0 290.7 336.9 290.8 335.9C290.9 334.9 291.0 333.8 291.2 332.8C291.3 331.8 291.4 330.8 291.5 329.8C291.7 328.8 291.8 327.8 291.9 326.8C292.0 325.8 292.2 324.8 292.3 323.7C292.5 322.7 292.6 321.6 292.8 320.5C292.9 319.5 293.0 318.5 293.2 317.5C293.3 316.4 293.5 315.3 293.6 314.2C293.7 313.2 293.9 312.2 294.0 311.2C294.1 310.1 294.3 309.1 294.4 308.0C294.5 306.9 294.7 305.9 294.8 304.8C295.0 303.7 295.1 302.6 295.4 301.6C295.6 300.6 295.9 298.7 296.3 298.6C296.7 298.6 297.3 300.4 297.7 301.3C298.0 302.3 298.1 303.4 298.3 304.5C298.4 305.5 298.6 306.5 298.8 307.6C298.9 308.6 299.1 309.7 299.2 310.8C299.4 311.8 299.5 312.7 299.6 313.7C299.8 314.8 300.0 315.9 300.1 316.9C300.3 318.1 300.4 319.2 300.6 320.3C300.7 321.4 300.8 322.4 301.0 323.5C301.1 324.5 301.2 325.5 301.3 326.5C301.4 327.6 301.5 328.6 301.6 329.6C301.7 330.7 301.8 331.7 301.9 332.8C302.0 333.8 302.1 334.9 302.1 336.0C302.2 337.1 302.3 338.2 302.3 339.3C302.4 340.4 302.5 341.5 302.5 342.6C302.6 343.7 302.6 344.8 302.7 345.9C302.8 347.0 302.8 348.1 302.9 349.2C302.9 350.3 303.0 351.4 303.0 352.6C303.1 353.7 303.2 354.8 303.2 355.9C303.3 357.0 303.4 358.1 303.4 359.2C303.5 360.3 303.5 361.4 303.6 362.5C303.7 363.6 303.7 364.7 303.8 365.8C303.9 366.9 303.9 368.1 304.0 369.2C304.1 370.3 304.1 371.4 304.2 372.5C304.3 373.6 304.3 374.7 304.4 375.8C304.5 376.9 304.5 378.0 304.6 379.1C304.7 380.2 304.8 381.3 304.8 382.4C304.9 383.5 305.0 384.6 305.0 385.7C305.1 386.8 305.2 387.9 305.3 389.0C305.3 390.1 305.4 391.2 305.5 392.3C305.6 393.4 305.6 394.4 305.7 395.5C305.8 396.6 305.9 397.7 306.0 398.8C306.0 399.9 306.1 401.0 306.2 402.1C306.3 403.2 306.4 404.3 306.5 405.4C306.5 406.5 306.6 407.6 306.7 408.7C306.8 409.8 306.9 410.9 307.0 412.0C307.1 413.1 307.1 414.2 307.2 415.3C307.3 416.3 307.4 417.4 307.5 418.5C307.6 419.6 307.7 420.7 307.8 421.8C307.9 422.9 308.0 424.0 308.1 425.1C308.2 426.2 308.4 427.3 308.5 428.4C308.6 429.5 308.7 430.5 308.8 431.6C309.0 432.7 309.1 433.8 309.2 434.9C309.4 436.0 309.5 437.1 309.6 438.2C309.8 439.3 309.9 440.4 310.1 441.5C310.2 442.5 310.4 443.6 310.6 444.7C310.7 445.8 310.9 446.9 311.1 448.0C311.3 449.1 311.4 450.2 311.6 451.3C311.8 452.3 312.0 453.4 312.2 454.5C312.4 455.6 312.6 456.7 312.9 457.8C313.1 458.9 313.3 460.0 313.5 461.0C313.8 462.1 314.0 463.2 314.3 464.3C314.5 465.4 314.8 466.5 315.0 467.6C315.3 468.6 315.6 469.7 315.9 470.8C316.1 471.9 316.4 473.0 316.7 474.1C317.0 475.1 317.3 476.2 317.7 477.3C318.0 478.4 318.3 479.5 318.7 480.5C319.1 481.6 319.5 482.6 319.9 483.6C320.3 484.6 320.8 485.6 321.3 486.6C321.8 487.5 322.3 488.5 322.9 489.4C323.5 490.2 324.1 491.1 324.8 491.9C325.5 492.6 326.3 493.4 327.1 494.1C327.9 494.8 328.8 495.4 329.6 496.1C330.5 496.7 331.5 497.3 332.4 497.8C333.4 498.4 334.4 499.0 335.4 499.5C336.3 499.9 337.2 500.4 338.1 500.8C339.0 501.2 340.0 501.6 340.9 501.9C341.9 502.3 342.8 502.6 343.8 502.9C344.8 503.2 345.7 503.5 346.7 503.7C347.8 504.0 348.9 504.2 350.0 504.3C351.1 504.5 352.2 504.6 353.3 504.6C354.4 504.6 355.5 504.6 356.6 504.5C357.6 504.4 358.7 504.2 359.7 503.9C360.7 503.7 361.7 503.3 362.7 502.9C363.6 502.4 364.5 501.9 365.4 501.3C366.3 500.7 367.2 500.0 368.0 499.3C368.9 498.6 369.7 497.8 370.4 497.0C371.2 496.2 372.0 495.3 372.7 494.5C373.4 493.6 374.2 492.8 374.8 491.9C375.5 491.0 376.2 490.1 376.8 489.2C377.5 488.2 378.1 487.3 378.6 486.4C379.2 485.4 379.8 484.5 380.3 483.5C380.8 482.5 381.3 481.5 381.8 480.5C382.3 479.5 382.7 478.5 383.1 477.5C383.5 476.5 383.9 475.5 384.3 474.4C384.7 473.4 385.0 472.4 385.4 471.3C385.7 470.3 386.0 469.2 386.3 468.2C386.6 467.1 386.9 466.1 387.2 465.0C387.5 463.9 387.7 462.9 388.0 461.8C388.2 460.7 388.5 459.6 388.7 458.6C388.9 457.5 389.1 456.4 389.3 455.3C389.6 454.2 389.8 453.2 390.0 452.1C390.2 451.0 390.4 449.9 390.5 448.8C390.7 447.8 390.9 446.7 391.1 445.6C391.3 444.5 391.4 443.5 391.6 442.4C391.8 441.3 392.0 440.2 392.1 439.1C392.3 438.1 392.4 437.0 392.6 435.9C392.7 434.8 392.9 433.7 393.0 432.6C393.2 431.6 393.3 430.5 393.5 429.4C393.6 428.3 393.7 427.2 393.9 426.1C394.0 425.0 394.2 423.9 394.3 422.9C394.4 421.8 394.5 420.7 394.7 419.6C394.8 418.5 394.9 417.4 395.0 416.3C395.2 415.2 395.3 414.1 395.4 413.0C395.5 411.9 395.7 410.8 395.8 409.7C395.9 408.6 396.0 407.4 396.1 406.3C396.3 405.2 396.4 404.1 396.5 403.0C396.6 401.9 396.7 400.7 396.9 399.6C397.0 398.5 397.1 397.4 397.2 396.3C397.3 395.1 397.5 394.0 397.6 392.9C397.7 391.8 397.8 390.6 397.9 389.5C398.1 388.4 398.2 387.3 398.3 386.2C398.4 385.0 398.6 383.9 398.7 382.8C398.8 381.7 398.9 380.7 399.0 379.6C399.2 378.5 399.3 377.4 399.4 376.3C399.5 375.3 399.7 374.2 399.8 373.2C399.9 372.2 400.0 371.1 400.1 370.1C400.3 369.1 400.4 368.1 400.5 367.1C400.7 366.0 400.8 364.9 400.9 363.8C401.1 362.7 401.2 361.6 401.4 360.5C401.5 359.4 401.6 358.3 401.8 357.2C401.9 356.1 402.0 355.1 402.2 354.1C402.3 353.1 402.4 352.0 402.6 350.9C402.7 349.8 402.9 348.6 403.0 347.5C403.1 346.5 403.2 345.4 403.4 344.4C403.5 343.3 403.6 342.1 403.8 341.0C403.9 340.0 404.0 339.0 404.1 337.9C404.2 336.9 404.3 335.8 404.5 334.7C404.6 333.6 404.7 332.5 404.8 331.3C404.9 330.2 405.1 329.1 405.2 328.0C405.3 327.0 405.4 325.9 405.6 324.9C405.7 323.8 405.9 322.7 406.0 321.7C406.2 320.6 406.2 318.6 406.6 318.5C407.0 318.4 408.2 320.2 408.6 321.1C408.9 322.1 408.8 323.2 409.0 324.2C409.1 325.3 409.2 326.2 409.3 327.3C409.4 328.3 409.6 329.4 409.7 330.5C409.8 331.6 409.9 332.7 410.0 333.8C410.1 334.8 410.2 335.9 410.3 336.9C410.4 338.0 410.6 339.2 410.7 340.4C410.8 341.4 410.9 342.5 411.0 343.5C411.2 344.5 411.3 345.5 411.4 346.5C411.5 347.6 411.7 348.7 411.8 349.8C411.9 350.8 412.0 351.9 412.2 352.9C412.3 354.0 412.4 355.1 412.5 356.1C412.7 357.2 412.8 358.2 412.9 359.3C413.0 360.4 413.1 361.4 413.3 362.5C413.4 363.6 413.5 364.6 413.6 365.7C413.7 366.8 413.8 367.8 414.0 368.9C414.1 370.0 414.2 371.1 414.3 372.1C414.4 373.2 414.5 374.3 414.6 375.4C414.7 376.4 414.9 377.5 415.0 378.6C415.1 379.7 415.2 380.8 415.3 381.9C415.4 382.9 415.5 384.0 415.6 385.1C415.7 386.2 415.8 387.3 415.9 388.4C416.0 389.5 416.1 390.6 416.2 391.7C416.3 392.8 416.5 393.8 416.6 394.9C416.7 396.0 416.8 397.1 416.9 398.2C417.0 399.3 417.1 400.4 417.2 401.5C417.3 402.6 417.4 403.7 417.5 404.8C417.6 405.9 417.7 407.0 417.8 408.1C417.9 409.2 418.0 410.3 418.1 411.4C418.2 412.5 418.3 413.6 418.4 414.7C418.5 415.8 418.6 416.9 418.7 418.0C418.8 419.1 418.9 420.2 419.0 421.3C419.1 422.4 419.2 423.5 419.3 424.6C419.4 425.8 419.5 426.9 419.6 428.0C419.7 429.1 419.8 430.2 419.9 431.3C420.0 432.4 420.1 433.5 420.2 434.6C420.3 435.7 420.5 436.8 420.6 437.9C420.7 439.0 420.8 440.1 420.9 441.2C421.0 442.3 421.1 443.4 421.2 444.5C421.3 445.6 421.4 446.7 421.5 447.9C421.6 449.0 421.7 450.1 421.9 451.2C422.0 452.3 422.1 453.4 422.2 454.5C422.3 455.6 422.4 456.7 422.5 457.8C422.6 458.9 422.8 460.0 422.9 461.1C423.0 462.2 423.1 463.3 423.2 464.4C423.4 465.5 423.5 466.6 423.6 467.7C423.7 468.8 423.8 469.9 424.0 471.0C424.1 472.1 424.2 473.1 424.3 474.2C424.5 475.3 424.6 476.4 424.7 477.5C424.8 478.6 425.0 479.7 425.1 480.8C425.2 481.9 425.4 483.0 425.5 484.0C425.6 485.1 425.8 486.2 425.9 487.3C426.1 488.4 426.2 489.5 426.4 490.5C426.5 491.6 426.7 492.7 426.9 493.8C427.1 494.8 427.4 495.9 427.6 496.9C427.9 498.0 428.2 499.0 428.5 500.1C428.9 501.1 429.3 502.1 429.7 503.2C430.1 504.2 430.6 505.2 431.1 506.2C431.7 507.2 432.3 508.1 433.0 509.1C433.6 510.0 434.3 510.9 435.1 511.7C435.9 512.4 436.7 513.2 437.7 513.8C438.6 514.3 439.5 514.8 440.6 515.2C441.6 515.6 442.7 515.8 443.7 516.0C444.9 516.2 446.0 516.3 447.1 516.4C448.2 516.5 449.2 516.5 450.2 516.5C451.3 516.5 452.3 516.4 453.3 516.4C454.4 516.3 455.4 516.3 456.4 516.2C457.5 516.2 458.7 516.2 459.8 516.2C460.9 516.2 461.9 516.2 463.0 516.3C464.1 516.4 465.7 516.8 466.3 516.9C466.4 516.9 466.5 517.0 466.6 517.0" fill="none" stroke="#000" stroke-width="1.1"/>
<path d="M283.4 466.0C283.5 465.0 283.5 463.9 283.6 462.9C283.6 461.8 283.7 460.8 283.7 459.8C283.8 458.7 283.8 457.7 283.9 456.7C283.9 455.6 284.0 454.6 284.1 453.6C284.1 452.6 284.2 451.5 284.2 450.5C284.3 449.5 284.4 448.5 284.4 447.4C284.5 446.4 284.5 445.4 284.6 444.4C284.7 443.3 284.7 442.3 284.8 441.3C284.8 440.3 284.9 439.3 285.0 438.2C285.0 437.2 285.1 436.2 285.2 435.2C285.2 434.2 285.3 433.1 285.4 432.1C285.4 431.1 285.5 430.1 285.6 429.1C285.6 428.1 285.7 427.0 285.8 426.0C285.8 425.0 285.9 424.0 286.0 423.0C286.1 421.9 286.1 420.9 286.2 419.9C286.3 418.9 286.4 417.8 286.4 416.8C286.5 415.8 286.6 414.8 286.7 413.8C286.8 412.7 286.8 411.7 286.9 410.7C287.0 409.6 287.1 408.6 287.2 407.6C287.3 406.6 287.3 405.5 287.4 404.5C287.5 403.5 287.6 402.4 287.7 401.4C287.8 400.4 287.9 399.3 288.0 398.3C288.1 397.2 288.2 396.2 288.2 395.2C288.3 394.1 288.4 393.1 288.5 392.0C288.6 391.0 288.7 389.9 288.8 388.9C288.9 387.8 289.0 386.8 289.1 385.7C289.2 384.7 289.3 383.7 289.4 382.6C289.5 381.6 289.6 380.6 289.7 379.5C289.8 378.5 289.9 377.5 290.0 376.5C290.1 375.4 290.2 374.4 290.3 373.4C290.4 372.4 290.5 371.4 290.7 370.4C290.8 369.4 290.9 368.2 291.0 367.2C291.1 366.1 291.2 365.0 291.3 364.0C291.4 362.9 291.5 361.9 291.6 360.8C291.7 359.8 291.9 358.7 292.0 357.6C292.1 356.6 292.2 355.5 292.4 354.4C292.5 353.3 292.6 352.3 292.8 351.3C292.9 350.2 293.1 349.1 293.2 348.0C293.4 346.9 293.5 345.9 293.7 344.9C293.9 343.7 294.1 342.6 294.2 341.5C294.4 340.4 294.6 339.4 294.8 338.4C295.0 337.3 295.2 336.2 295.5 335.2C295.7 334.2 295.7 332.6 296.3 332.2C297.0 331.8 298.7 332.3 299.3 332.9C300.0 333.5 300.0 334.9 300.3 336.0C300.6 337.1 300.9 338.3 301.1 339.4C301.4 340.4 301.6 341.4 301.8 342.4C302.0 343.5 302.2 344.6 302.4 345.7C302.6 346.8 302.7 347.8 302.9 348.8C303.1 349.9 303.2 351.0 303.3 352.1C303.5 353.2 303.6 354.2 303.7 355.2C303.8 356.3 303.9 357.4 304.0 358.5C304.1 359.6 304.2 360.7 304.2 361.7C304.3 362.8 304.4 363.9 304.5 364.9C304.6 366.0 304.6 367.1 304.7 368.1C304.8 369.2 304.9 370.3 305.0 371.4C305.1 372.5 305.2 373.7 305.3 374.7C305.4 375.8 305.5 376.8 305.6 377.8C305.7 378.8 305.8 379.8 305.9 380.8C306.0 381.8 306.1 382.9 306.2 383.9C306.3 384.9 306.4 385.9 306.5 387.0C306.6 388.0 306.7 389.0 306.8 390.1C307.0 391.1 307.1 392.1 307.2 393.2C307.3 394.2 307.4 395.3 307.5 396.3C307.6 397.3 307.7 398.4 307.8 399.4C307.9 400.5 308.0 401.5 308.1 402.5C308.2 403.6 308.3 404.6 308.4 405.6C308.5 406.7 308.6 407.7 308.7 408.7C308.7 409.8 308.8 410.8 308.9 411.8C309.0 412.9 309.1 413.9 309.2 414.9C309.3 415.9 309.4 417.0 309.5 418.0C309.6 419.0 309.7 420.0 309.8 421.1C309.9 422.1 309.9 423.1 310.0 424.1C310.1 425.1 310.2 426.2 310.4 427.2C310.5 428.2 310.6 429.2 310.7 430.2C310.8 431.2 310.9 432.3 311.0 433.3C311.1 434.3 311.3 435.3 311.4 436.3C311.5 437.3 311.6 438.3 311.8 439.3C311.9 440.3 312.1 441.4 312.2 442.4C312.4 443.4 312.5 444.4 312.7 445.4C312.8 446.4 313.0 447.4 313.2 448.4C313.4 449.4 313.5 450.4 313.7 451.4C313.9 452.4 314.1 453.4 314.3 454.4C314.5 455.4 314.8 456.4 315.0 457.4C315.2 458.4 315.4 459.4 315.7 460.4C315.9 461.4 316.2 462.4 316.5 463.4C316.7 464.4 317.0 465.4 317.3 466.4C317.6 467.4 317.9 468.4 318.2 469.4C318.5 470.4 318.8 471.4 319.1 472.4C319.5 473.4 319.8 474.4 320.2 475.4C320.6 476.4 320.9 477.4 321.3 478.4C321.7 479.4 322.1 480.4 322.5 481.3C323.0 482.3 323.4 483.3 323.9 484.2C324.4 485.1 324.8 486.1 325.4 486.9C325.9 487.8 326.4 488.7 327.0 489.6C327.6 490.4 328.2 491.2 328.8 492.0C329.5 492.8 330.2 493.7 331.0 494.4C331.8 495.2 332.6 495.9 333.5 496.6C334.4 497.2 335.4 497.8 336.3 498.4C337.2 498.9 338.1 499.3 339.0 499.7C339.9 500.1 340.9 500.4 341.9 500.7C342.8 501.0 343.9 501.2 344.9 501.4C345.9 501.6 346.9 501.7 348.0 501.8C349.0 501.9 350.1 502.0 351.1 502.0C352.2 502.0 353.2 501.9 354.3 501.8C355.3 501.7 356.4 501.6 357.4 501.4C358.5 501.2 359.5 501.0 360.5 500.7C361.5 500.4 362.5 500.1 363.5 499.7C364.4 499.3 365.4 498.9 366.3 498.4C367.2 498.0 368.1 497.4 369.0 496.9C369.8 496.3 370.7 495.7 371.4 495.1C372.2 494.4 372.9 493.7 373.6 493.0C374.3 492.3 375.0 491.5 375.6 490.7C376.3 489.9 376.9 489.1 377.5 488.2C378.0 487.4 378.6 486.5 379.1 485.6C379.6 484.7 380.1 483.8 380.6 482.8C381.1 481.9 381.5 480.9 382.0 480.0C382.4 479.0 382.9 478.0 383.3 477.1C383.7 476.1 384.1 475.1 384.5 474.1C384.9 473.2 385.3 472.2 385.7 471.2C386.1 470.3 386.4 469.3 386.8 468.3C387.2 467.4 387.6 466.5 388.0 465.5C388.3 464.6 388.7 463.7 389.1 462.7C389.5 461.7 389.9 460.7 390.2 459.6C390.6 458.6 391.0 457.5 391.4 456.5C391.7 455.5 392.0 454.6 392.3 453.7C392.6 452.7 392.9 451.7 393.2 450.7C393.5 449.7 393.7 448.8 394.0 447.8C394.2 446.7 394.5 445.7 394.7 444.7C395.0 443.7 395.2 442.7 395.4 441.7C395.6 440.6 395.8 439.6 396.0 438.6C396.2 437.5 396.4 436.5 396.6 435.4C396.8 434.4 397.0 433.3 397.2 432.3C397.4 431.2 397.5 430.2 397.7 429.1C397.9 428.1 398.0 427.0 398.2 426.0C398.3 424.9 398.5 423.9 398.6 422.8C398.8 421.8 398.9 420.8 399.1 419.7C399.2 418.7 399.4 417.7 399.5 416.6C399.7 415.6 399.8 414.6 399.9 413.6C400.1 412.6 400.2 411.6 400.3 410.5C400.5 409.5 400.7 408.3 400.8 407.3C401.0 406.2 401.1 405.1 401.3 404.0C401.5 403.0 401.6 401.9 401.8 400.9C402.0 399.9 402.1 398.9 402.3 397.9C402.5 396.8 402.7 395.9 402.9 394.9C403.0 393.9 403.2 392.9 403.4 391.8C403.6 390.8 403.8 389.8 404.0 388.8C404.2 387.7 404.4 386.7 404.6 385.6C404.8 384.6 405.0 383.6 405.2 382.6C405.4 381.6 405.6 380.5 405.8 379.5C405.9 378.5 406.1 377.5 406.3 376.5C406.5 375.4 406.6 374.4 406.8 373.3C407.0 372.2 407.2 371.0 407.3 369.9C407.5 368.9 407.6 367.8 407.8 366.8C408.0 365.7 408.1 364.6 408.3 363.6C408.4 362.5 408.6 361.5 408.8 360.5C408.9 359.4 409.1 358.4 409.3 357.3C409.5 356.3 409.5 354.6 410.1 354.4C410.6 354.2 412.0 355.5 412.5 356.3C413.0 357.1 412.9 358.3 413.2 359.3C413.4 360.3 413.5 361.2 413.7 362.3C413.9 363.3 414.1 364.4 414.3 365.4C414.4 366.5 414.6 367.6 414.8 368.6C414.9 369.7 415.1 370.6 415.3 371.7C415.4 372.7 415.6 373.9 415.7 374.9C415.9 376.0 416.0 377.0 416.2 378.0C416.3 379.1 416.5 380.2 416.6 381.3C416.8 382.3 416.9 383.3 417.1 384.3C417.2 385.4 417.3 386.5 417.5 387.6C417.6 388.6 417.7 389.6 417.9 390.7C418.0 391.7 418.1 392.7 418.2 393.7C418.4 394.7 418.5 395.7 418.6 396.8C418.7 397.8 418.8 398.8 419.0 399.8C419.1 400.9 419.2 401.9 419.4 403.0C419.5 404.0 419.6 405.1 419.8 406.2C419.9 407.2 420.0 408.2 420.1 409.2C420.3 410.2 420.4 411.2 420.5 412.2C420.6 413.2 420.8 414.2 420.9 415.3C421.0 416.3 421.2 417.3 421.3 418.4C421.5 419.4 421.6 420.5 421.7 421.5C421.9 422.6 422.0 423.6 422.2 424.7C422.3 425.7 422.4 426.7 422.6 427.8C422.7 428.8 422.9 429.9 423.0 430.9C423.2 432.0 423.3 433.0 423.5 434.0C423.6 435.1 423.8 436.1 423.9 437.1C424.0 438.2 424.2 439.2 424.3 440.2C424.5 441.2 424.6 442.2 424.8 443.3C424.9 444.3 425.1 445.3 425.2 446.3C425.4 447.3 425.5 448.3 425.7 449.3C425.8 450.3 425.9 451.3 426.1 452.4C426.2 453.4 426.4 454.4 426.5 455.4C426.6 456.4 426.8 457.4 426.9 458.4C427.0 459.4 427.2 460.5 427.3 461.5C427.4 462.5 427.5 463.5 427.6 464.5C427.8 465.6 427.9 466.6 428.0 467.6C428.1 468.6 428.2 469.7 428.3 470.7C428.5 471.7 428.6 472.8 428.7 473.8C428.9 474.8 429.0 475.9 429.1 476.9C429.3 477.9 429.5 478.9 429.6 479.9C429.8 481.0 430.0 482.0 430.2 483.0C430.4 484.0 430.7 485.0 430.9 486.0C431.2 487.0 431.4 488.0 431.7 489.0C432.0 489.9 432.4 490.9 432.7 491.9C433.1 492.8 433.5 493.8 433.9 494.7C434.3 495.7 434.7 496.6 435.2 497.5C435.7 498.4 436.2 499.3 436.8 500.2C437.3 501.1 437.9 501.9 438.5 502.8C439.1 503.6 439.8 504.4 440.4 505.2C441.1 506.0 441.8 506.7 442.5 507.5C443.3 508.2 444.0 508.9 444.8 509.5C445.6 510.2 446.4 510.8 447.2 511.3C448.1 511.9 448.9 512.4 449.8 512.9C450.7 513.4 451.6 513.8 452.5 514.2C453.5 514.6 454.4 515.0 455.4 515.2C456.4 515.5 457.4 515.8 458.4 515.9C459.4 516.1 460.5 516.2 461.5 516.3C462.6 516.3 463.8 516.3 464.8 516.2C465.5 516.2 466.0 516.1 466.6 516.0" fill="none" stroke="#000" stroke-width="1.1"/>
<line x1="344.50" y1="289.00" x2="344.50" y2="527.60" stroke="#222" stroke-width="0.9" stroke-dasharray="1 2.35"/>
<line x1="274.40" y1="287.00" x2="274.40" y2="528.15" stroke="#222" stroke-width="1.1"/>
<line x1="273.85" y1="527.60" x2="466.60" y2="527.60" stroke="#222" stroke-width="1.1"/>
<line x1="272.10" y1="517.30" x2="274.40" y2="517.30" stroke="#333333" stroke-width="1"/>
<text x="270.20" y="521.40" font-family="Liberation Sans, sans-serif" font-size="10.3" fill="#4D4D4D" text-anchor="end">0.0</text>
<line x1="272.10" y1="454.35" x2="274.40" y2="454.35" stroke="#333333" stroke-width="1"/>
<text x="270.20" y="458.45" font-family="Liberation Sans, sans-serif" font-size="10.3" fill="#4D4D4D" text-anchor="end">0.5</text>
<line x1="272.10" y1="391.40" x2="274.40" y2="391.40" stroke="#333333" stroke-width="1"/>
<text x="270.20" y="395.50" font-family="Liberation Sans, sans-serif" font-size="10.3" fill="#4D4D4D" text-anchor="end">1.0</text>
<line x1="272.10" y1="328.45" x2="274.40" y2="328.45" stroke="#333333" stroke-width="1"/>
<text x="270.20" y="332.55" font-family="Liberation Sans, sans-serif" font-size="10.3" fill="#4D4D4D" text-anchor="end">1.5</text>
<line x1="283.40" y1="527.60" x2="283.40" y2="529.90" stroke="#333333" stroke-width="1"/>
<text x="283.40" y="539.80" font-family="Liberation Sans, sans-serif" font-size="10.3" fill="#4D4D4D" text-anchor="middle">0.0</text>
<line x1="327.20" y1="527.60" x2="327.20" y2="529.90" stroke="#333333" stroke-width="1"/>
<text x="327.20" y="539.80" font-family="Liberation Sans, sans-serif" font-size="10.3" fill="#4D4D4D" text-anchor="middle">0.5</text>
<line x1="371.00" y1="527.60" x2="371.00" y2="529.90" stroke="#333333" stroke-width="1"/>
<text x="371.00" y="539.80" font-family="Liberation Sans, sans-serif" font-size="10.3" fill="#4D4D4D" text-anchor="middle">1.0</text>
<line x1="414.80" y1="527.60" x2="414.80" y2="529.90" stroke="#333333" stroke-width="1"/>
<text x="414.80" y="539.80" font-family="Liberation Sans, sans-serif" font-size="10.3" fill="#4D4D4D" text-anchor="middle">1.5</text>
<line x1="458.60" y1="527.60" x2="458.60" y2="529.90" stroke="#333333" stroke-width="1"/>
<text x="458.60" y="539.80" font-family="Liberation Sans, sans-serif" font-size="10.3" fill="#4D4D4D" text-anchor="middle">2.0</text>
<text x="238.8" y="294.5" font-family="Liberation Serif, serif" font-size="11" font-weight="bold">d</text>
<text transform="translate(14.30 126.50) rotate(-90)" font-family="Liberation Serif, serif" font-size="14.2" text-anchor="middle" textLength="47.0" lengthAdjust="spacing">Density</text>
<text transform="translate(249.90 126.50) rotate(-90)" font-family="Liberation Serif, serif" font-size="14.2" text-anchor="middle" textLength="47.0" lengthAdjust="spacing">Density</text>
<text transform="translate(14.30 407.00) rotate(-90)" font-family="Liberation Serif, serif" font-size="14.2" text-anchor="middle" textLength="47.0" lengthAdjust="spacing">Density</text>
<text transform="translate(249.90 407.00) rotate(-90)" font-family="Liberation Serif, serif" font-size="14.2" text-anchor="middle" textLength="47.0" lengthAdjust="spacing">Density</text>
<text x="134.35" y="274.30" font-family="Liberation Serif, serif" font-size="13.8" text-anchor="middle" textLength="46.5" lengthAdjust="spacing">CpGo/e</text>
<text x="369.90" y="274.30" font-family="Liberation Serif, serif" font-size="13.8" text-anchor="middle" textLength="46.5" lengthAdjust="spacing">CpGo/e</text>
<g font-family="Liberation Serif, serif" font-size="13.7"><text x="32.00" y="555.50" textLength="7.4" lengthAdjust="spacingAndGlyphs">−</text><text x="42.10" y="554.90" textLength="21.6" lengthAdjust="spacingAndGlyphs">Log</text><text x="65.60" y="557.50" font-size="10.2" textLength="9.9" lengthAdjust="spacing">10</text><text x="76.70" y="554.90" textLength="161.4" lengthAdjust="spacing">(Methylation Level + 0.01)</text></g>
<g font-family="Liberation Serif, serif" font-size="13.7"><text x="267.80" y="555.50" textLength="7.4" lengthAdjust="spacingAndGlyphs">−</text><text x="277.90" y="554.90" textLength="21.6" lengthAdjust="spacingAndGlyphs">Log</text><text x="301.40" y="557.50" font-size="10.2" textLength="9.9" lengthAdjust="spacing">10</text><text x="312.50" y="554.90" textLength="161.4" lengthAdjust="spacing">(Methylation Level + 0.01)</text></g>
<text x="500" y="130.60" font-family="Liberation Sans, sans-serif" font-size="13.9" textLength="97.6" lengthAdjust="spacingAndGlyphs">Cryptic Species</text>
<rect x="500.5" y="137.00" width="12.2" height="13.2" fill="#F0E442" fill-opacity="0.5" stroke="#000" stroke-width="0.9"/>
<rect x="500.5" y="150.40" width="12.2" height="13.2" fill="#CC79A7" fill-opacity="0.5" stroke="#000" stroke-width="0.9"/>
<text x="517.6" y="147.20" font-family="Liberation Sans, sans-serif" font-size="10.3">B</text>
<text x="517.6" y="160.80" font-family="Liberation Sans, sans-serif" font-size="10.3">Q</text>
<text x="500" y="413.40" font-family="Liberation Sans, sans-serif" font-size="13.9" textLength="97.6" lengthAdjust="spacingAndGlyphs">Cryptic Species</text>
<rect x="500.5" y="419.80" width="12.2" height="13.2" fill="#F0E442" fill-opacity="0.5" stroke="#000" stroke-width="0.9"/>
<rect x="500.5" y="433.20" width="12.2" height="13.2" fill="#CC79A7" fill-opacity="0.5" stroke="#000" stroke-width="0.9"/>
<text x="517.6" y="430.00" font-family="Liberation Sans, sans-serif" font-size="10.3">B</text>
<text x="517.6" y="443.60" font-family="Liberation Sans, sans-serif" font-size="10.3">Q</text>
<text x="497.6" y="676" font-family="Liberation Sans, sans-serif" font-size="13.9" textLength="181.8" lengthAdjust="spacingAndGlyphs">Gene Body Methylation Level</text>
<line x1="498.3" y1="688.30" x2="509.6" y2="688.30" stroke="#F8766D" stroke-width="1.1"/>
<text x="515.1" y="692.40" font-family="Liberation Sans, sans-serif" font-size="10.6" textLength="43.2" lengthAdjust="spacing">0.0 – 0.2</text>
<line x1="498.3" y1="701.85" x2="509.6" y2="701.85" stroke="#A3A500" stroke-width="1.1"/>
<text x="515.1" y="705.95" font-family="Liberation Sans, sans-serif" font-size="10.6" textLength="43.2" lengthAdjust="spacing">0.2 – 0.4</text>
<line x1="498.3" y1="715.40" x2="509.6" y2="715.40" stroke="#00BF7D" stroke-width="1.1"/>
<text x="515.1" y="719.50" font-family="Liberation Sans, sans-serif" font-size="10.6" textLength="43.2" lengthAdjust="spacing">0.4 – 0.6</text>
<line x1="498.3" y1="728.95" x2="509.6" y2="728.95" stroke="#00B0F6" stroke-width="1.1"/>
<text x="515.1" y="733.05" font-family="Liberation Sans, sans-serif" font-size="10.6" textLength="43.2" lengthAdjust="spacing">0.6 – 0.8</text>
<line x1="498.3" y1="742.50" x2="509.6" y2="742.50" stroke="#E76BF3" stroke-width="1.1"/>
<text x="515.1" y="746.60" font-family="Liberation Sans, sans-serif" font-size="10.6" textLength="43.2" lengthAdjust="spacing">0.8 – 1.0</text>
<line x1="45.00" y1="775.52" x2="231.00" y2="775.52" stroke="#EBEBEB" stroke-width="0.55"/>
<line x1="45.00" y1="719.77" x2="231.00" y2="719.77" stroke="#EBEBEB" stroke-width="0.55"/>
<line x1="45.00" y1="664.02" x2="231.00" y2="664.02" stroke="#EBEBEB" stroke-width="0.55"/>
<line x1="45.00" y1="608.27" x2="231.00" y2="608.27" stroke="#EBEBEB" stroke-width="0.55"/>
<line x1="75.50" y1="569.40" x2="75.50" y2="814.00" stroke="#EBEBEB" stroke-width="0.55"/>
<line x1="120.50" y1="569.40" x2="120.50" y2="814.00" stroke="#EBEBEB" stroke-width="0.55"/>
<line x1="165.50" y1="569.40" x2="165.50" y2="814.00" stroke="#EBEBEB" stroke-width="0.55"/>
<line x1="210.50" y1="569.40" x2="210.50" y2="814.00" stroke="#EBEBEB" stroke-width="0.55"/>
<line x1="45.00" y1="803.40" x2="231.00" y2="803.40" stroke="#EBEBEB" stroke-width="1.1"/>
<line x1="45.00" y1="747.65" x2="231.00" y2="747.65" stroke="#EBEBEB" stroke-width="1.1"/>
<line x1="45.00" y1="691.90" x2="231.00" y2="691.90" stroke="#EBEBEB" stroke-width="1.1"/>
<line x1="45.00" y1="636.15" x2="231.00" y2="636.15" stroke="#EBEBEB" stroke-width="1.1"/>
<line x1="45.00" y1="580.40" x2="231.00" y2="580.40" stroke="#EBEBEB" stroke-width="1.1"/>
<line x1="53.00" y1="569.40" x2="53.00" y2="814.00" stroke="#EBEBEB" stroke-width="1.1"/>
<line x1="98.00" y1="569.40" x2="98.00" y2="814.00" stroke="#EBEBEB" stroke-width="1.1"/>
<line x1="143.00" y1="569.40" x2="143.00" y2="814.00" stroke="#EBEBEB" stroke-width="1.1"/>
<line x1="188.00" y1="569.40" x2="188.00" y2="814.00" stroke="#EBEBEB" stroke-width="1.1"/>
<line x1="280.40" y1="775.52" x2="466.60" y2="775.52" stroke="#EBEBEB" stroke-width="0.55"/>
<line x1="280.40" y1="719.77" x2="466.60" y2="719.77" stroke="#EBEBEB" stroke-width="0.55"/>
<line x1="280.40" y1="664.02" x2="466.60" y2="664.02" stroke="#EBEBEB" stroke-width="0.55"/>
<line x1="280.40" y1="608.27" x2="466.60" y2="608.27" stroke="#EBEBEB" stroke-width="0.55"/>
<line x1="310.50" y1="569.40" x2="310.50" y2="814.00" stroke="#EBEBEB" stroke-width="0.55"/>
<line x1="353.90" y1="569.40" x2="353.90" y2="814.00" stroke="#EBEBEB" stroke-width="0.55"/>
<line x1="397.30" y1="569.40" x2="397.30" y2="814.00" stroke="#EBEBEB" stroke-width="0.55"/>
<line x1="440.70" y1="569.40" x2="440.70" y2="814.00" stroke="#EBEBEB" stroke-width="0.55"/>
<line x1="280.40" y1="803.40" x2="466.60" y2="803.40" stroke="#EBEBEB" stroke-width="1.1"/>
<line x1="280.40" y1="747.65" x2="466.60" y2="747.65" stroke="#EBEBEB" stroke-width="1.1"/>
<line x1="280.40" y1="691.90" x2="466.60" y2="691.90" stroke="#EBEBEB" stroke-width="1.1"/>
<line x1="280.40" y1="636.15" x2="466.60" y2="636.15" stroke="#EBEBEB" stroke-width="1.1"/>
<line x1="280.40" y1="580.40" x2="466.60" y2="580.40" stroke="#EBEBEB" stroke-width="1.1"/>
<line x1="288.80" y1="569.40" x2="288.80" y2="814.00" stroke="#EBEBEB" stroke-width="1.1"/>
<line x1="332.20" y1="569.40" x2="332.20" y2="814.00" stroke="#EBEBEB" stroke-width="1.1"/>
<line x1="375.60" y1="569.40" x2="375.60" y2="814.00" stroke="#EBEBEB" stroke-width="1.1"/>
<line x1="419.00" y1="569.40" x2="419.00" y2="814.00" stroke="#EBEBEB" stroke-width="1.1"/>
<line x1="462.40" y1="569.40" x2="462.40" y2="814.00" stroke="#EBEBEB" stroke-width="1.1"/>
<clipPath id="ce"><rect x="45" y="569.4" width="186" height="244.6"/></clipPath><clipPath id="cf"><rect x="280.4" y="569.4" width="186.2" height="244.6"/></clipPath>
<g clip-path="url(#ce)">
<path d="M160.8 712 L160.8 625 C161 608 164 597 171 594.5 L190 594 C194 595 196 598 196 605 L196 712 C190 716 186 722 180 722 C174 722 168 716 160.8 712 Z M160.8 803 L160.8 772 C168 768 174 762 180 762 C186 762 190 768 196 772 L196 803 Z" fill="#000"/>
<defs><marker id="pt" markerUnits="userSpaceOnUse" markerWidth="5" markerHeight="5" refX="2.5" refY="2.5" overflow="visible"><circle cx="2.5" cy="2.5" r="1.62" fill="#000" fill-opacity="0.5" stroke="#000" stroke-opacity="0.55" stroke-width="0.75"/></marker></defs>
<path d="M142.3 790.7L193.4 777.3L172.2 784.1L102.3 785.5L192.7 741.6L105.0 787.5L171.7 779.9L210.6 788.1L170.3 752.9L163.5 761.1L132.4 741.8L181.0 763.7L63.7 778.0L112.0 789.6L151.6 731.0L166.4 742.2L188.6 773.3L151.2 634.4L97.8 790.9L87.9 791.3L164.8 741.8L58.7 607.4L73.2 793.0L187.4 796.7L178.4 757.4L59.2 615.5L130.9 788.1L195.3 718.5L173.7 635.5L68.7 799.3L145.5 790.0L157.0 702.1L98.7 792.8L182.9 732.2L180.7 788.0L202.5 637.1L193.5 717.2L200.4 710.5L147.7 650.6L60.4 797.6L189.6 777.4L198.2 787.1L94.6 659.5L60.7 631.5L204.4 779.2L192.2 778.7L191.3 724.8L200.7 610.1L175.5 773.6L75.4 793.2L169.6 755.1L195.6 765.0L169.8 656.0L185.8 616.7L184.8 723.8L191.1 613.6L175.3 610.2L128.3 791.4L133.1 791.6L158.6 714.7L155.9 645.5L160.3 790.9L155.1 658.7L161.7 740.2L82.9 794.8L99.5 796.1L58.7 703.1L60.7 715.7L171.7 710.2L56.4 800.3L137.2 794.9L185.3 765.9L89.0 722.1L172.8 605.1L98.8 639.1L180.2 766.9L194.8 792.6L149.0 802.8L183.1 683.0L147.3 644.3L157.1 642.9L77.9 799.0L64.2 782.2L192.1 743.0L188.7 750.7L201.9 783.9L95.7 796.5L149.2 598.4L158.2 658.5L54.9 779.7L195.4 710.2L178.7 747.7L148.9 637.7L190.4 666.9L142.3 729.7L171.0 802.1L66.6 784.3L58.6 790.6L215.6 785.1L72.0 796.6L171.3 739.0L161.1 780.6L149.7 791.4L172.0 613.1L167.6 789.8L62.5 778.1L156.3 630.1L169.6 591.2L157.9 782.7L60.2 775.3L156.4 686.4L146.5 746.4L69.5 799.8L92.0 794.4L139.8 793.3L141.8 643.6L133.6 793.6L193.0 696.4L82.7 616.5L155.2 764.1L178.6 759.4L128.9 775.9L176.3 729.1L78.7 796.7L120.9 743.9L140.4 733.6L100.7 738.4L188.3 767.4L147.4 659.5L162.9 793.8L177.0 686.3L150.7 789.2L103.5 796.7L179.0 799.3L159.1 625.5L56.8 795.7L165.4 765.7L136.3 688.9L211.7 795.3L153.1 729.8L166.8 801.6L156.7 635.7L147.0 769.6L153.4 760.0L122.9 648.9L178.2 796.2L99.1 789.5L73.2 800.4L154.0 709.7L171.8 741.7L205.6 778.9L108.7 793.8L163.1 731.7L182.1 799.0L116.2 768.8L193.9 737.8L192.6 758.4L145.3 791.4L172.0 724.9L182.8 727.7L66.5 787.7L98.1 728.5L102.8 787.7L84.7 792.6L169.9 645.5L61.8 777.3L185.8 729.3L159.4 743.1L135.7 610.3L140.2 720.6L172.9 603.6L58.7 783.7L177.4 796.2L152.2 602.3L178.9 793.8L143.0 740.8L177.4 724.6L64.0 799.0L208.9 753.6L193.4 620.2L149.9 710.6L150.8 757.8L121.6 789.6L145.3 798.5L166.2 798.6L65.3 784.6L104.9 795.3L137.5 777.3L169.5 782.6L187.5 792.6L165.3 769.5L100.2 782.3L194.0 614.7L164.7 766.5L197.2 798.6L56.8 801.4L145.8 619.5L57.3 687.5L59.2 789.6L190.4 718.2L139.5 753.0L59.5 774.3L184.5 777.6L59.0 780.2L153.7 665.4L160.6 724.5L161.7 740.5L92.8 709.3L61.9 788.6L151.6 605.3L92.0 771.5L213.3 799.4L164.6 762.5L157.1 700.5L171.3 775.4L61.0 606.7L146.9 794.0L60.5 621.0L165.3 738.4L113.9 786.8L145.9 642.2L188.3 758.7L131.3 796.9L157.0 787.9L158.5 785.3L58.9 800.6L87.1 797.0L180.2 777.1L180.9 635.2L190.6 617.0L162.5 795.9L178.3 743.7L167.1 724.2L194.1 773.9L192.8 601.5L204.5 692.9L135.5 785.8L119.5 696.9L160.6 795.6L67.9 727.6L199.9 596.3L170.6 604.7L149.8 614.0L161.3 792.1L115.0 793.6L216.2 652.0L171.9 675.3L187.1 713.4L102.5 779.7L185.7 592.5L70.4 784.7L151.7 652.7L154.4 797.6L153.6 794.5L208.3 637.8L122.1 790.3L109.6 789.2L193.1 793.9L177.3 731.1L190.4 790.3L77.8 795.8L186.9 733.0L105.8 752.5L162.3 656.4L140.3 622.4L178.2 762.2L63.9 795.5L59.2 791.1L125.2 797.9L173.7 674.5L148.8 658.2L111.3 703.3L60.0 789.7L112.0 793.1L168.7 604.5L178.8 765.2L205.0 659.9L80.1 801.2L112.4 732.3L190.1 624.4L181.7 752.3L138.7 738.2L159.7 669.6L142.1 789.5L61.3 799.6L127.4 793.1L56.4 801.4L186.1 755.0L181.9 750.5L139.1 792.4L178.1 662.1L157.9 685.3L137.7 791.5L178.5 784.7L170.6 675.7L176.7 713.4L161.3 727.9L97.7 792.7L145.1 708.1L156.3 664.4L152.1 711.3L164.8 734.7L164.6 681.0L171.8 771.1L174.0 713.9L66.4 676.6L160.2 661.3L174.9 599.4L176.6 727.9L198.4 676.2L80.8 794.8L102.2 795.5L185.6 766.1L62.0 776.3L58.1 793.2L166.0 623.9L196.5 797.7L169.4 696.3L154.1 792.0L176.7 755.7L143.3 723.6L202.0 798.8L139.4 652.4L195.3 786.0L162.3 709.2L176.7 742.0L69.6 761.7L96.0 793.8L137.6 722.7L59.5 644.6L124.6 732.0L197.1 716.2L175.0 729.9L153.8 726.5L182.2 760.9L86.0 792.2L194.2 717.4L159.2 790.9L101.2 781.2L124.9 792.1L198.6 652.3L112.1 609.7L202.8 623.6L67.4 796.8L174.7 728.7L207.6 740.5L145.1 783.8L167.9 673.6L69.1 789.9L197.0 642.2L157.8 760.0L63.0 723.3L169.8 710.8L60.4 636.7L184.2 711.7L136.3 613.2L65.3 793.6L171.9 721.9L161.7 685.3L143.4 628.3L177.3 752.7L81.3 801.9L168.0 752.7L180.8 676.2L60.3 781.6L58.1 772.1L62.5 794.4L64.6 778.7L60.5 644.4L156.0 793.6L137.3 697.5L185.9 751.3L60.2 796.9L88.8 796.8L142.1 785.5L143.3 686.0L143.7 794.1L65.4 788.8L57.0 705.7L170.7 793.8L172.5 656.1L108.7 798.8L58.2 723.7L124.8 647.7L141.9 732.5L171.3 796.5L204.2 594.0L142.7 653.7L63.6 786.2L219.3 789.0L185.6 736.6L160.2 695.4L164.7 743.1L171.4 637.2L176.6 771.7L202.3 792.6L74.3 796.3L194.1 780.0L130.1 799.8L159.1 698.0L188.5 633.6L148.7 646.9L105.9 795.8L153.8 689.6L189.0 769.2L162.3 779.4L175.1 753.2L155.0 602.2L197.8 686.3L135.8 792.9L67.8 794.4L58.1 701.0L119.2 792.9L99.4 623.3L67.2 779.8L63.9 775.5L190.6 711.9L189.3 773.7L106.7 793.6L207.0 658.6L79.1 684.9L58.0 796.1L199.9 755.8L174.6 795.0L150.7 754.4L189.6 689.8L56.4 794.0L169.3 674.1L189.5 751.6L60.0 774.7L58.8 775.6L64.1 670.0L167.4 621.3L180.1 721.9L195.5 702.4L116.3 793.6L168.7 663.0L190.9 669.2L73.9 802.1L206.4 673.6L155.4 669.4L65.0 783.9L164.3 785.2L171.0 701.4L206.1 779.4L160.6 749.2L163.7 725.5L149.3 757.5L151.4 723.2L163.9 698.5L59.6 633.8L62.1 605.2L191.8 759.4L162.7 729.4L173.3 743.3L141.4 677.2L172.5 740.9L56.8 794.6L175.2 693.5L169.9 748.1L152.4 792.1L84.4 797.5L147.2 801.9L173.9 703.2L139.9 791.7L160.6 781.1L165.1 776.1L137.3 631.5L142.6 795.4L159.7 752.4L57.8 797.9L127.6 787.8L161.4 610.9L183.8 630.2L62.5 738.2L185.2 737.0L174.5 631.5L154.1 788.3L70.5 798.2L90.1 793.1L154.1 660.6L153.3 787.2L186.1 732.0L151.1 664.6L181.4 648.4L183.6 640.6L127.2 784.8L60.7 787.8L157.3 675.6L140.1 714.8L60.8 784.5L188.6 752.9L108.7 795.4L163.0 604.1L136.5 793.2L201.1 731.5L168.5 770.4L193.4 797.1L163.0 702.3L61.9 787.6L157.6 628.3L184.4 724.8L95.4 792.7L209.9 758.6L122.9 723.3L161.7 758.0L175.3 644.5L145.7 608.3L177.0 618.7L99.1 789.5L61.4 778.3L169.8 772.7L114.4 782.3L188.9 746.3L144.7 744.0L188.7 688.2L95.9 796.5L154.5 763.1L183.5 624.4L60.5 766.3L177.8 723.6L198.9 782.9L195.2 792.9L115.4 710.5L153.8 768.3L79.3 800.0L190.1 698.0L53.4 781.8L166.3 715.9L201.4 656.7L182.6 673.7L170.9 700.5L181.4 745.4L145.1 669.8L161.0 778.7L201.3 796.1L62.1 789.3L60.8 769.3L159.6 627.9L134.3 782.9L122.8 791.2L162.3 737.1L73.0 789.6L66.7 789.8L145.1 659.9L128.3 785.9L166.5 619.9L180.8 776.4L149.5 794.0L97.0 663.3L164.2 758.3L205.0 606.2L165.8 772.1L167.9 727.0L61.4 686.5L163.2 660.1L167.8 773.1L103.7 792.2L157.9 632.6L65.7 779.6L160.8 706.0L178.1 749.7L188.0 612.4L147.2 796.4L163.8 689.3L194.5 796.8L179.4 658.3L150.1 690.8L152.5 777.3L141.8 791.5L170.7 701.7L162.6 746.8L175.6 777.0L172.7 795.2L180.7 713.7L146.1 771.9L100.2 791.5L76.7 795.7L200.2 743.8L206.0 747.4L142.3 667.8L185.5 708.6L74.2 795.9L127.2 787.3L194.8 710.8L219.9 629.1L171.5 651.1L140.4 751.0L182.7 761.0L175.7 774.6L132.6 724.7L195.3 769.1L171.6 626.2L59.2 795.8L155.6 801.6L164.6 722.9L79.3 795.4L195.6 771.0L81.9 746.2L203.6 617.5L183.1 615.7L192.4 644.2L174.8 749.5L75.4 800.6L160.5 676.0L183.6 728.8L69.5 786.7L131.9 799.9L191.0 736.6L145.0 767.7L133.6 596.2L178.2 725.9L65.7 789.7L137.7 662.5L156.1 643.0L194.7 715.5L127.3 743.7L163.3 766.8L187.5 705.1L192.2 729.8L57.4 785.7L90.9 801.5L107.9 793.3L172.7 642.8L133.8 797.5L167.5 719.8L71.1 792.7L166.7 676.2L176.2 760.6L159.8 751.3L174.2 632.7L197.1 796.3L184.0 720.2L170.6 696.0L139.8 615.1L198.8 799.9L189.7 617.9L175.1 740.4L62.3 800.0L136.6 612.6L158.5 748.8L200.0 796.6L62.8 787.7L171.0 632.3L129.5 792.7L191.5 791.3L65.9 791.4L186.3 708.9L164.6 692.7L165.5 797.9L160.3 739.5L181.3 672.5L150.9 800.1L170.6 723.6L117.4 694.8L50.4 790.0L167.3 763.9L154.6 785.1L198.6 665.7L194.6 740.0L164.4 676.7L70.6 782.9L161.4 754.2L67.2 772.1L71.7 722.5L90.9 793.2L210.2 737.9L70.9 798.0L75.5 801.9L151.5 633.8L57.8 705.6L163.3 727.3L208.2 790.5L55.4 790.0L58.2 797.6L160.4 680.9L213.8 781.0L185.5 710.9L202.3 690.8L175.4 660.0L168.2 616.5L53.8 670.9L189.4 710.1L62.7 754.5L69.3 620.2L184.6 798.3L146.3 630.3L114.2 620.3L198.3 774.4L147.0 745.0L181.9 754.6L90.5 634.6L64.6 774.2L176.2 738.3L186.6 712.3L152.8 693.6L170.2 800.1L165.5 760.4L130.8 790.8L107.7 794.7L102.3 791.8L89.5 793.6L144.3 627.5L76.2 800.3L176.1 771.1L125.3 639.7L178.1 765.6L175.1 745.6L173.0 688.4L59.9 801.9L88.9 793.7L163.6 796.6L175.8 678.5L64.8 687.9L177.0 707.7L178.4 726.6L199.9 649.7L83.5 798.0L162.1 744.0L191.9 746.1L60.9 794.6L117.0 794.2L213.7 799.1L181.3 608.1L188.8 717.0L195.8 723.5L193.2 755.1L58.5 666.1L88.3 792.5L179.9 768.6L196.4 790.6L182.4 735.6L137.3 721.7L181.8 730.9L70.6 796.9L59.2 734.9L154.4 772.4L185.2 751.6L191.3 802.7L199.9 702.4L120.7 792.4L131.5 803.0L181.3 732.3L128.1 623.4L208.9 630.0L211.3 793.8L146.2 791.2L99.6 788.6L60.5 741.6L66.1 787.8L61.3 799.8L149.8 728.4L212.3 793.9L157.8 781.3L193.9 757.8L140.6 629.3L157.9 788.5L187.3 776.2L101.7 793.0L112.2 792.9L135.1 802.5L123.3 755.4L154.5 784.1L66.0 792.6L184.6 733.0L139.0 791.6L164.5 686.1L193.4 603.1L64.0 789.2L147.8 679.8L53.8 778.2L179.9 758.2L64.1 797.7L107.9 792.4L191.0 741.5L193.4 755.1L163.2 673.0L163.2 729.0L154.9 663.4L124.4 739.0L187.4 647.2L145.3 623.6L58.6 630.5L175.3 714.1L224.8 669.5L188.9 761.4L64.1 786.4L190.4 773.2L103.7 794.2L166.5 709.5L204.7 681.5L159.7 793.9L141.7 664.0L98.5 780.8L160.0 768.7L79.7 794.7L62.8 638.2L190.8 736.3L58.3 704.7L207.4 727.5L192.0 621.2L179.2 688.4L179.5 592.9L167.5 755.5L117.0 791.1L112.0 792.7L116.5 795.3L151.9 795.7L185.2 714.7L125.2 771.7L155.9 658.7L196.1 626.0L212.0 770.4L162.4 765.1L147.0 795.1L215.9 616.4L168.7 663.2L192.0 679.2L172.8 729.7L188.3 771.3L123.2 798.9L58.6 798.6L158.2 793.8L141.2 793.0L155.9 794.3L192.0 685.2L166.4 764.9L164.4 696.3L117.2 774.8L158.8 795.5L145.7 786.9L73.8 784.0L155.1 628.9L65.3 775.5L193.8 756.6L65.0 779.9L98.1 792.0L195.9 734.3L63.1 704.1L184.9 721.1L197.4 779.0L166.8 610.3L202.4 591.7L194.7 600.4L182.6 722.0L161.8 773.1L123.1 789.4L183.0 744.2L129.7 791.3L183.5 779.4L173.5 800.8L68.0 753.9L85.0 798.1L153.3 625.1L178.6 784.4L182.1 738.2L144.9 692.5L156.5 653.7L190.8 598.9L141.4 791.1L122.0 793.2L158.9 801.2L204.5 798.4L194.9 765.8L204.0 717.6L59.2 799.3L153.2 746.2L194.9 664.8L210.9 793.8L213.5 801.0L198.6 661.9L161.3 610.6L135.0 611.0L174.0 691.7L151.0 760.4L175.3 761.1L152.2 676.2L81.2 798.7L189.8 725.7L165.9 711.6L195.4 743.7L73.4 657.3L57.2 637.6L173.7 746.3L199.3 716.7L150.4 633.3L193.0 753.3L59.9 755.2L166.0 691.2L59.5 802.1L207.2 686.5L161.1 722.7L159.7 622.9L191.3 775.9L181.1 770.5L125.4 781.5L116.1 798.7L127.6 714.7L161.9 738.8L60.1 788.6L66.8 778.5L94.7 786.5L203.4 681.3L151.0 747.6L117.2 786.4L182.3 669.7L57.7 785.2L186.8 652.5L173.2 727.8L194.3 729.1L101.5 799.6L175.2 766.5L56.4 787.8L69.3 793.2L160.1 792.6L144.1 708.4L82.7 718.4L204.6 780.3L140.4 668.1L122.8 682.6L202.6 699.1L162.7 722.2L136.5 796.4L194.6 788.8L83.2 790.9L72.5 794.2L166.4 711.7L50.8 789.3L61.6 685.2L97.0 796.5L198.5 781.9L140.1 644.5L156.2 633.9L184.0 783.9L58.2 742.3L60.7 639.5L157.9 694.9L138.4 790.4L210.4 664.5L140.9 744.9L60.8 632.7L166.0 752.0L167.8 733.4L180.8 761.5L164.2 795.4L135.9 757.8L166.7 742.9L165.9 721.5L194.9 637.6L58.3 790.5L163.6 725.8L170.1 723.1L148.0 608.1L60.8 777.0L199.7 738.6L149.1 798.7L158.9 704.1L100.4 659.3L163.0 638.4L151.4 788.3L201.1 681.1L157.9 784.5L158.2 664.6L172.8 730.5L140.7 794.2L193.7 785.2L202.4 745.2L138.9 653.5L166.0 705.6L163.6 722.3L156.4 688.4L155.1 711.5L135.9 685.8L58.4 787.3L70.5 800.7L145.8 656.3L67.8 793.9L174.9 778.7L65.6 801.9L71.8 793.8L114.0 661.3L72.8 793.4L191.9 734.9L209.8 790.0L91.9 769.3L160.1 780.8L194.5 775.3L95.7 796.7L200.4 671.4L110.4 792.3L206.3 692.2L184.8 706.1L195.2 631.1L163.7 648.9L218.2 783.8L120.1 793.2L198.7 790.4L161.2 621.3L101.0 784.2L121.3 790.7L59.8 722.0L105.6 798.5L149.6 761.4L193.5 714.5L146.4 762.1L133.6 796.7L98.8 622.6L174.0 765.6L107.2 789.3L126.0 731.8L97.1 796.1L152.1 708.8L167.2 732.3L144.8 796.9L195.4 757.4L121.1 795.9L121.6 711.0L73.2 800.8L156.0 600.5L175.6 739.6L157.4 629.0L125.6 608.9L171.8 711.9L161.7 795.8L212.8 699.3L181.7 749.2L152.5 658.5L163.8 758.7L59.6 715.4L182.3 746.7L160.7 792.4L60.2 756.8L60.3 699.3L169.4 743.3L189.0 766.0L64.8 776.8L80.7 801.9L61.3 790.1L181.9 794.2L78.2 802.3L64.4 799.7L65.0 775.2L124.2 794.5L208.1 791.7L116.7 793.4L158.5 725.8L95.3 797.8L145.4 607.9L115.6 793.1L167.6 799.4L149.7 788.6L202.2 768.1L193.8 650.1L59.6 796.5L68.2 793.6L185.0 678.5L147.7 796.3L176.1 744.5L200.7 707.6L123.7 679.1L193.0 721.0L178.0 732.2L167.1 785.6L175.1 776.4L156.0 795.6L176.8 779.6L178.9 781.5L94.1 619.3L169.4 681.9L123.4 771.4L169.0 690.5L189.5 736.3L81.5 787.8L61.0 765.5L138.6 590.6L60.5 672.8L156.5 793.2L200.3 647.1L187.5 722.9L152.7 734.9L208.5 802.1L128.7 630.3L202.2 725.9L139.0 775.7L168.9 747.0L90.1 799.9L117.9 794.9L173.3 730.2L132.1 679.2L140.6 790.9L59.9 668.5L112.5 787.2L136.8 632.0L185.1 616.4L183.6 797.5L185.2 779.9L178.4 725.4L161.5 717.2L75.5 801.5L159.7 745.2L178.5 639.0L161.2 686.0L160.7 791.2L64.0 801.0L184.1 737.3L171.1 742.3L148.7 717.4L75.2 796.7L185.6 746.6L174.8 670.2L129.1 793.2L188.8 777.8L72.9 795.8L147.9 793.5L161.1 724.2L165.7 743.4L63.8 722.3L183.3 725.0L111.0 793.4L160.2 801.1L49.6 717.8L60.5 803.0L184.6 657.9L204.3 644.1L157.2 675.2L126.9 776.9L196.8 714.5L160.4 769.4L95.9 799.3L134.1 795.1L168.5 728.6L183.9 760.4L135.5 753.7L60.8 620.7L131.3 791.7L143.5 793.1L200.1 731.8L62.1 673.0L59.6 771.6L177.0 716.5L162.8 726.9L60.9 772.1L187.0 713.7L208.9 652.7L130.2 797.1L140.8 632.7L138.5 748.9L186.6 652.6L134.3 622.2L57.2 800.9L91.2 798.1L155.7 765.8L58.4 779.9L61.2 783.0L173.8 724.7L57.1 735.0L174.6 794.3L197.4 764.4L181.9 685.9L218.5 694.5L136.0 689.5L67.4 778.2L176.4 787.1L153.5 673.1L192.4 739.4L177.3 784.5L78.5 803.3L58.1 654.3L170.3 709.8L116.0 797.9L56.5 666.1L157.6 699.5L124.6 797.0L198.3 725.4L191.9 597.3L59.7 728.7L156.1 707.4L147.8 668.2L197.7 616.4L149.5 704.0L129.3 795.1L57.4 614.9L142.9 764.2L178.6 627.6L135.1 674.6L162.1 688.8L116.3 741.0L177.9 779.6L194.1 772.3L170.9 762.4L199.7 802.6L127.5 703.0L80.3 791.5L60.7 637.7L60.5 660.4L155.0 791.4L196.0 793.6L61.5 654.0L189.8 746.5L140.4 797.6L126.9 798.9L103.2 792.4L151.5 771.4L96.0 789.8L148.6 600.4L143.2 785.1L184.0 723.0L112.6 792.2L166.5 658.6L167.2 725.1L154.1 681.8L97.7 789.6L141.8 784.5L188.2 763.5L161.2 791.8L69.7 786.4L165.5 719.9L153.0 795.2L140.9 636.5L167.7 611.9L129.1 793.8L169.7 775.3L114.3 600.5L183.6 758.9L195.0 729.9L59.3 702.6L176.2 751.6L63.9 783.1L101.3 786.1L182.3 794.6L114.5 739.4L184.1 727.1L60.5 802.3L60.1 795.7L152.8 684.2L124.6 759.5L74.5 793.0L75.4 796.0L181.5 743.4L184.7 669.2L190.0 779.6L144.6 799.4L119.0 791.2L161.8 740.4L60.0 773.2L198.7 605.2L181.1 799.8L194.2 709.4L154.0 614.6L173.0 645.8L170.9 764.6L107.6 792.7L67.6 793.4L157.0 791.4L127.7 772.9L210.2 793.5L79.9 799.9L122.2 800.1L130.6 647.9L158.2 670.9L190.0 728.6L181.2 677.1L194.3 724.3L76.9 796.9L167.2 626.4L176.7 785.0L155.5 597.5L193.0 700.5L151.5 747.7L81.0 802.9L83.4 796.2L57.1 779.0L103.4 789.7L71.5 789.0L201.3 767.6L194.4 714.8L59.5 679.7L174.4 648.0L114.7 645.7L141.7 787.2L142.4 793.9L179.0 726.4L211.9 792.9L196.4 741.6L190.7 731.0L197.0 735.7L153.2 636.9L62.3 798.9L194.5 748.1L176.6 626.7L206.1 676.8L170.8 775.5L134.9 726.9L182.2 802.9L155.5 729.2L153.2 621.9L159.7 787.5L181.2 740.6L166.0 725.3L129.5 666.9L59.4 772.9L147.3 801.3L72.0 795.5L207.1 769.5L184.8 744.0L158.2 800.3L126.5 703.7L163.6 718.8L74.6 796.6L179.4 607.5L72.8 787.9L193.0 721.0L75.8 770.6L69.3 798.4L153.2 706.7L199.6 631.0L194.2 753.1L174.1 747.6L201.6 766.6L178.4 780.1L204.2 797.3L158.6 666.9L199.9 715.7L96.6 795.3L131.6 790.0L179.2 794.3L128.5 733.7L104.1 797.3L94.5 791.6L140.8 735.5L189.8 693.3L80.3 793.3L167.1 611.6L186.1 676.5L107.4 795.0L62.1 794.3L158.3 720.7L183.0 676.1L172.0 751.5L160.3 623.4L187.0 764.5L164.9 798.2L155.6 793.5L200.7 767.9L184.4 793.1L166.6 740.9L62.4 713.1L163.5 753.3L68.7 787.4L113.7 642.6L195.6 760.8L68.2 797.6L104.4 652.6L141.7 781.2L194.9 710.0L155.6 631.6L195.9 728.0L198.2 784.4L61.6 602.4L194.7 746.5L169.8 743.6L186.7 678.4L109.9 644.7L159.7 782.1L162.2 741.7L191.9 619.1L66.4 693.2L146.5 773.2L65.7 795.6L213.1 769.7L181.0 738.5L156.5 776.1L115.4 637.0L94.8 794.3L107.6 796.9L143.4 761.4L152.4 592.8L146.9 599.0L184.4 719.8L57.3 705.2L62.6 800.0L175.7 769.4L195.4 701.7L68.0 795.8L105.2 793.3L132.4 796.8L69.1 792.2L212.5 713.0L172.9 704.0L89.3 796.6L193.7 790.5L147.0 673.1L197.0 613.5L205.6 767.8L189.6 757.6L116.2 747.8L151.7 780.3L66.5 791.8L109.1 789.7L207.4 792.4L138.4 694.3L154.9 787.6L136.7 780.8L181.5 743.3L193.1 735.5L193.5 656.5L183.3 777.4L63.3 777.2L172.0 661.7L195.5 758.0L183.9 681.5L202.1 798.2L170.6 759.4L63.5 778.2L81.1 801.0L179.8 690.3L164.7 790.2L185.5 768.3L173.2 604.9L197.6 780.8L177.9 682.6L193.9 773.8L146.3 661.9L144.3 719.7L222.6 792.4L70.6 784.0L159.7 683.4L170.9 710.1L164.0 666.1L167.0 721.1L87.7 793.9L76.9 794.7L186.0 711.5L172.2 760.0L183.7 701.5L163.5 646.8L170.8 694.1L88.2 632.5L129.2 695.9L161.3 754.6L190.9 595.7L141.5 797.8L216.5 800.9L177.8 776.7L105.1 796.2L155.4 641.3L134.9 709.4L98.0 789.5L177.3 784.6L182.4 743.4L216.5 796.4L87.0 784.6L175.1 742.9L73.0 798.4L203.5 690.0L151.8 599.0L172.9 741.0L153.5 730.0L71.9 797.7L166.8 731.8L133.3 725.0L174.7 724.7L158.7 728.3L58.6 789.4L180.9 788.6L82.2 792.1L174.0 745.9L158.0 642.4L185.9 737.1L153.8 704.4L162.5 599.3L87.0 698.4L152.9 718.7L173.0 622.7L196.6 779.9L188.7 656.8L161.1 727.8L204.4 591.6L164.3 720.2L154.4 732.0L152.2 670.1L177.1 782.2L178.5 747.8L183.8 718.9L66.1 779.8L140.8 700.2L188.4 735.1L135.5 781.6L194.4 705.0L178.6 735.6L203.3 598.4L192.5 732.3L150.6 718.1L80.2 790.2L64.9 800.9L136.3 798.0L150.7 652.6L157.7 787.0L176.2 606.5L188.0 800.0L170.0 742.3L173.7 757.6L188.3 711.3L113.2 797.3L122.4 803.3L160.3 722.0L186.0 710.2L60.6 715.2L60.6 782.1L181.5 733.5L179.8 712.4L114.1 613.3L74.7 787.5L96.9 788.5L160.0 665.4L140.3 788.7L142.3 788.6L118.5 792.3L64.0 776.6L191.0 758.2L165.1 638.5L87.1 795.6L139.4 779.6L63.3 787.7L154.9 696.4L103.6 733.1L63.0 796.2L149.4 792.0L206.4 693.7L141.6 733.0L159.5 792.8L157.8 673.7L129.1 679.0L184.7 744.5L154.2 783.6L179.6 736.5L154.4 718.6L126.4 709.9L76.3 705.6L106.9 793.3L61.8 788.4L136.5 795.5L189.4 685.1L60.3 734.8L72.9 803.2L58.0 691.8L164.6 792.9L117.3 793.4L165.9 719.9L92.9 743.2L94.9 793.8L141.5 754.0L203.5 605.6L60.9 794.0L136.4 744.9L182.1 603.3L93.4 794.0L182.7 725.9L118.6 770.5L176.7 685.2L72.2 801.0L154.0 793.0L121.6 791.5L136.4 790.5L161.5 697.2L70.8 738.0L128.7 794.9L185.4 762.8L163.1 781.6L173.6 689.8L206.2 770.2L183.2 783.0L164.7 778.6L160.8 759.6L147.7 793.8L156.5 796.4L55.8 797.7L143.3 764.8L65.5 657.2L134.7 746.2L66.3 794.2L60.6 734.6L90.6 792.6L61.3 692.4L189.3 795.6L193.4 736.5L157.4 597.2L149.7 587.7L180.4 749.9L204.0 663.0L183.7 611.2L158.5 723.6L99.7 670.6L184.2 693.6L166.9 711.9L128.8 786.4L179.8 667.7L155.5 632.3L82.6 781.7L145.7 684.5L190.2 740.6L144.2 700.0L149.1 796.9L77.6 788.9L131.4 795.6L135.7 721.5L194.0 752.6L127.6 631.2L145.6 796.7L114.1 799.3L154.0 790.5L61.1 786.2L126.9 792.2L168.9 793.4L195.4 753.1L141.9 797.8L149.3 790.6L145.6 655.6L164.0 794.6L178.3 597.2L75.4 788.5L123.1 611.9L144.3 792.0L162.4 759.8L78.7 793.8L68.3 786.5L62.2 726.8L161.9 789.1L144.8 800.2L168.2 672.9L151.5 772.0L59.6 803.0L73.3 794.0L158.6 793.9L152.4 771.3L177.3 615.9L67.5 767.2L165.6 616.7L96.6 735.4L100.3 791.6L132.4 598.2L170.7 738.8L171.4 709.7L131.2 797.1L159.3 776.9L139.3 739.7L155.2 655.5L180.5 746.4L69.0 797.1L170.6 793.6L160.5 746.5L187.9 599.8L183.8 740.2L133.4 796.4L147.2 761.0L195.7 607.9L185.7 768.8L173.0 620.8L148.3 676.1L77.1 797.2L177.5 731.6L160.8 672.1L163.1 718.9L146.6 763.8L139.6 773.9L56.9 719.4L158.5 685.5L150.0 774.6L182.9 712.6L213.9 791.0L210.1 790.9L162.4 795.4L181.3 720.4L94.3 727.1L167.8 745.2L192.3 702.6L153.7 734.4L139.0 786.7L161.9 797.4L159.9 788.0L62.7 723.5L186.0 764.1L65.3 789.0L169.5 653.1L153.7 789.7L159.3 789.4L60.9 653.0L176.2 703.4L152.2 661.8L57.4 790.6L136.1 604.2L188.7 761.6L185.8 759.3L192.6 782.4L161.1 761.7L205.5 600.2L172.7 767.4L196.5 610.5L59.2 721.3L186.2 703.9L93.9 796.8L69.3 784.9L176.1 727.5L107.3 794.9L184.7 648.6L60.3 799.3L165.7 790.2L119.5 797.7L152.3 706.8L67.5 793.2L168.6 716.1L153.9 786.2L109.5 795.3L174.5 623.5L190.8 732.5L163.3 692.1L165.2 613.0L140.3 795.0L136.3 677.7L75.8 790.8L125.1 665.2L61.8 794.2L106.5 601.4L102.2 672.8L125.5 793.4L60.4 785.1L193.8 643.3L184.7 749.0L165.2 644.2L171.9 776.4L191.0 766.8L143.0 787.3L67.9 788.4L170.1 715.7L116.8 797.5L185.6 597.9L56.2 641.1L153.0 751.9L189.8 734.4L172.6 726.2L193.6 768.1L87.4 793.8L150.0 694.3L164.5 754.2L162.8 791.5L162.5 802.7L62.0 719.2L132.9 677.6L164.9 799.8L169.1 748.6L66.1 780.5L152.2 774.0L188.1 770.2L133.5 709.7L184.2 754.3L154.2 795.7L66.7 793.0L126.7 711.3L140.4 794.9L177.8 798.3L185.5 770.4L62.7 734.1L123.1 781.9L160.4 794.8L166.4 684.3L111.2 794.3L132.5 794.4L172.0 769.9L94.4 730.5L166.0 737.3L166.8 705.0L163.9 780.2L102.1 788.3L127.8 757.7L172.5 754.8L182.5 758.4L198.2 663.5L129.1 703.2L148.3 790.1L107.8 760.8L156.1 742.1L166.2 752.1L67.5 793.1L59.4 721.2L190.9 602.5L156.2 785.5L168.8 670.4L131.2 670.0L182.1 627.1L143.5 797.2L56.3 778.5L148.7 755.7L99.8 796.8L172.5 773.3L60.8 697.1L162.4 772.7L188.4 733.6L70.4 794.7L205.3 763.3L161.4 652.5L111.8 788.2L133.5 758.0L196.6 798.7L58.4 788.1L164.0 757.5L164.3 797.3L55.3 798.6L150.3 751.6L176.8 778.1L177.7 739.8L182.2 770.8L58.8 759.2L140.1 802.8L201.1 802.7L59.6 779.6L54.8 788.9L57.7 771.4L70.7 793.8L154.1 757.1L165.0 597.3L176.1 781.2L124.6 626.0L131.8 795.9L57.1 793.9L183.0 727.3L204.3 800.6L154.2 790.0L141.3 715.4L145.2 690.7L180.2 750.8L152.6 743.3L198.0 786.1L142.6 719.9L73.7 787.5L206.7 794.5L113.1 789.9L66.6 788.3L104.0 613.9L207.0 707.7L169.4 711.9L166.5 764.0L97.6 796.5L100.9 794.8L125.9 656.8L60.9 799.1L161.1 793.4L172.9 636.4L163.6 675.9L161.1 718.4L188.8 633.7L167.5 781.0L159.4 788.2L200.2 774.6L149.3 764.3L169.2 787.7L171.1 671.1L161.9 772.8L175.1 732.7L150.4 800.5L160.3 718.4L127.5 775.4L170.7 726.8L154.7 784.3L110.8 793.9L58.3 704.6L159.1 749.3L200.2 643.9L202.0 746.5L168.0 697.7L83.9 776.6L112.1 787.4L117.1 785.6L173.3 718.6L81.3 793.0L74.3 793.8L61.0 679.6L162.3 597.6L185.3 604.3L59.9 790.9L111.4 790.0L160.1 625.0L59.4 635.9L107.8 765.3L190.7 780.6L107.7 786.8L155.0 753.7L186.6 614.9L221.6 788.4L160.1 673.3L66.9 793.0L169.5 687.3L101.5 705.2L156.9 669.9L178.8 786.8L115.3 635.8L156.8 664.0L64.0 776.3L167.7 789.9L160.2 646.3L198.0 634.7L83.4 693.2L190.8 701.3L157.7 617.0L206.8 699.9L190.5 767.8L125.2 683.1L57.3 800.8L186.4 764.7L63.0 798.3L111.8 792.2L193.4 693.7L71.9 792.0L157.5 794.3L120.1 671.1L130.6 678.9L98.4 786.6L159.9 721.3L174.6 739.7L189.0 713.1L188.8 706.3L72.6 792.4L161.3 702.0L158.2 603.8L149.3 675.6L109.7 723.2L97.9 615.9L165.0 758.2L65.8 780.8L187.0 747.6L161.5 603.0L204.2 768.3L168.4 793.5L201.1 632.6L198.9 788.2L154.8 666.9L188.9 732.3L91.7 712.0L141.2 787.5L76.8 792.7L174.0 612.8L163.0 737.2L211.4 779.0L204.5 705.1L147.0 740.4L193.5 711.9L53.0 786.8L172.1 647.0L200.2 764.0L173.4 613.5L170.8 770.9L203.4 665.8L171.8 786.6L158.8 684.4L87.9 793.0L197.6 625.0L155.4 748.6L136.9 797.0L120.3 619.5L115.5 790.3L177.1 715.2L114.1 790.9L140.3 787.1L60.8 698.3L202.9 795.9L80.9 802.8L165.9 747.0L163.0 735.0L190.8 671.8L192.3 634.1L171.1 771.6L181.8 790.5L69.2 791.5L174.4 721.1L144.4 669.6L161.5 613.8L196.0 728.1L186.8 743.8L190.7 657.3L156.7 779.0L162.0 788.3L138.5 788.9L117.1 792.5L151.1 656.9L185.8 705.8L136.9 608.1L65.0 778.1L151.1 797.3L165.5 650.2L191.6 728.6L60.6 720.9L160.4 626.5L137.6 713.0L191.2 761.6L53.1 741.7L124.5 670.7L149.2 765.3L221.8 781.9L60.2 680.6L68.7 800.1L178.1 676.8L91.7 790.2L88.9 620.2L63.8 779.3L91.6 793.5L178.7 792.2L151.1 673.6L182.6 791.2L198.0 735.7L141.5 783.8L181.9 717.5L167.5 714.1L111.7 659.7L172.3 681.4L150.2 750.8L197.5 711.9L165.6 612.0L175.5 767.4L218.8 639.3L69.8 781.7L173.2 735.7L196.9 641.2L179.9 631.6L164.9 798.7L60.8 643.4L162.7 795.4L91.5 794.6L167.5 734.7L215.5 798.0L73.9 799.9L150.7 708.5L193.8 636.9L208.6 792.7L133.8 678.4L56.2 797.5L99.9 735.3L142.8 744.5L120.4 617.9L176.9 769.1L145.4 757.4L190.2 720.5L142.4 654.1L80.2 796.9L179.7 713.8L147.1 740.7L193.8 626.2L125.3 792.5L162.7 654.2L165.1 712.1L200.8 664.5L126.4 750.0L163.8 741.1L163.7 791.7L59.2 708.8L184.0 741.6L186.4 711.8L134.3 800.7L147.2 799.5L178.8 722.7L114.4 798.4L162.3 647.9L58.0 744.2L175.2 783.2L179.6 731.9L157.3 662.0L121.0 786.9L156.3 621.1L65.4 776.1L184.3 733.9L160.7 651.3L153.1 794.6L141.7 615.2L92.0 794.9L163.5 768.1L83.3 771.1L201.0 729.4L180.6 733.0L193.2 648.4L60.3 800.3L155.8 792.8L159.9 677.9L86.3 787.9L174.1 722.4L110.6 682.0L63.8 708.5L175.7 789.4L147.8 686.0L174.0 631.8L157.5 718.5L148.9 795.1L92.5 784.8L184.1 605.8L197.7 792.3L148.3 789.6L151.6 795.0L174.5 764.2L165.1 680.1L157.2 622.8L62.5 725.2L157.3 631.5L168.0 797.0L211.6 799.2L152.1 693.5L155.2 659.6L188.3 714.3L87.6 792.2L182.4 779.1L151.3 757.1L121.7 791.9L186.2 681.1L195.0 735.4L141.3 646.8L214.6 792.3L217.5 749.7L120.1 794.0L190.5 756.2L84.9 802.2L157.4 783.6L58.3 741.8L178.7 779.2L87.1 793.2L182.8 600.2L188.5 749.9L69.2 784.0L134.0 775.4L189.9 725.6L174.3 733.8L79.5 798.9L184.0 772.5L106.3 735.1L107.7 793.3L211.9 610.0L175.7 647.2L170.8 701.2L165.3 727.9L168.3 630.0L166.4 646.0L169.4 639.5L62.8 778.2L183.9 604.2L86.8 787.8L171.7 725.8L184.1 605.7L172.7 632.8L59.0 798.2L121.3 797.9L190.3 777.7L88.3 792.4L166.5 715.9L189.7 793.4L182.0 623.7L148.5 708.9L187.3 733.4L180.1 799.0L199.1 659.9L200.1 626.1L151.7 627.3L145.0 680.8L131.8 648.0L167.9 799.0L144.4 794.4L88.5 799.1L165.9 765.1L59.6 797.2L164.2 734.1L215.4 785.6L206.7 725.7L190.8 796.8L57.2 774.6L173.0 717.3L65.5 793.2L176.3 734.2L186.6 726.4L158.6 755.9L60.6 772.6L142.1 724.5L149.8 801.1L170.3 799.8L190.7 729.0L89.9 793.0L171.7 595.0L165.8 699.0L153.6 610.9L61.8 776.6L60.4 653.8L88.4 794.1L149.3 760.8L127.6 789.7L156.9 712.9L60.9 799.5L172.4 681.7L159.4 617.7L157.4 784.0L120.7 794.1L57.4 800.9L153.0 793.4L161.5 607.8L83.7 789.9L82.3 793.1L188.4 711.9L186.0 744.9L119.1 795.7L185.8 718.3L140.5 721.3L204.9 679.8L159.4 609.1L55.5 633.6L133.9 793.3L150.2 791.5L62.5 779.3L146.1 671.1L203.3 718.5L129.2 796.9L161.1 796.9L162.2 617.2L162.2 802.4L192.2 630.0L156.6 768.4L185.2 612.8L148.5 790.5L176.3 782.1L60.7 795.0L154.9 680.8L140.7 773.6L167.9 793.7L163.6 679.6L186.8 740.5L171.1 683.6L140.4 725.3L55.8 790.9L60.0 652.0L134.5 799.2L51.5 705.0L138.4 784.1L195.1 730.6L201.0 789.1L100.6 708.9L73.5 793.6L155.2 694.5L71.0 791.1L73.7 800.2L174.4 622.4L216.5 693.4L179.4 681.3L156.8 774.6L68.7 790.3L195.0 778.6L103.4 798.3L145.3 673.2L93.9 794.5L180.8 762.4L112.4 791.4L78.5 613.6L179.1 780.2L123.4 794.3L71.7 803.2L171.5 802.1L57.0 714.9L58.7 796.5L143.7 726.5L156.4 792.8L177.6 665.0L184.1 723.9L162.1 718.1L192.7 708.7L196.4 764.6L62.9 674.3L109.3 789.4L127.2 791.6L199.5 645.2L170.2 750.1L191.1 722.8L160.4 790.7L180.8 715.8L60.0 789.7L121.9 753.4L127.2 745.3L158.0 764.6L59.6 781.0L164.4 729.5L153.2 721.8L81.1 791.8L187.2 744.4L62.6 784.8L156.5 793.5L180.4 671.8L181.7 683.8L65.1 740.7L78.1 617.1L170.4 662.9L166.5 767.3L68.3 769.5L158.8 644.4L72.4 792.1L133.0 782.9L156.1 678.5L154.0 793.6L59.2 790.0L96.0 785.0L172.0 691.6L197.6 731.9L65.2 615.2L103.6 796.9L61.4 668.2L173.5 639.5L148.4 799.2L133.8 795.6L132.5 683.6L63.3 787.2L101.8 712.2L184.6 751.0L208.2 787.7L161.4 598.3L157.7 743.6L101.5 756.8L214.7 636.5L57.4 790.4L182.8 760.4L147.8 734.5L126.9 793.4L173.1 794.1L181.4 651.5L79.4 801.9L205.1 794.1L102.1 793.4L188.2 700.7L191.6 608.0L58.9 776.0L191.7 723.2L194.6 795.9L148.5 793.6L164.5 599.6L202.7 655.6L111.0 658.7L185.7 792.0L216.2 789.6L153.0 795.4L136.6 797.7L200.0 798.8L123.0 637.8L143.9 643.1L173.0 665.8L158.2 782.9L166.4 717.2L163.6 765.1L212.9 791.1L162.7 764.5L212.7 795.5L190.8 696.8L56.2 802.2L180.4 619.8L199.8 771.7L63.6 796.2L196.8 648.6L122.0 653.4L147.6 650.2L138.6 654.4L54.7 794.0L99.0 620.4L184.3 785.9L222.3 784.1L146.4 751.2L62.1 793.3L167.9 609.9L181.9 686.2L134.0 719.1L168.1 737.2L182.9 746.3L114.7 795.7L207.0 618.4L132.1 618.7L66.3 793.4L202.5 757.8L137.4 755.7L106.3 794.6L185.0 769.2L125.7 793.3L134.6 786.6L218.3 602.9L147.6 651.7L195.2 706.7L193.8 773.3L169.5 714.1L155.8 648.6L64.0 797.0L139.2 788.0L162.0 763.9L126.9 792.3L144.8 740.3L185.2 690.2L174.1 742.2L149.7 742.4L136.9 661.2L64.1 802.8L53.3 693.9L134.8 619.1L187.3 751.6L199.6 721.6L145.8 608.1L191.6 694.3L187.7 685.3L127.8 792.8L85.9 792.8L191.5 760.7L124.3 684.6L69.8 791.5L178.5 720.2L178.4 701.0L118.4 803.3L58.0 768.2L188.7 777.9L154.4 682.2L103.0 782.8L196.0 793.4L141.0 793.5L152.2 701.5L97.7 785.0L201.9 788.0L176.0 769.0L161.4 727.8L103.7 778.3L65.9 797.7L166.4 737.0L198.0 711.2L73.1 702.5L197.5 705.3L174.6 783.3L61.1 617.6L69.9 794.3L159.2 794.5L143.8 603.3L82.1 795.0L179.8 779.2L156.8 598.6L158.4 620.0L175.8 679.6L88.5 619.5L197.8 621.7L68.3 799.9L168.7 602.7L156.1 798.3L87.8 786.0L151.5 755.5L183.2 739.0L179.9 708.0L179.5 734.6L57.1 770.2L178.2 712.0L59.8 699.6L121.7 777.2L61.5 783.3L61.1 802.3L152.0 763.1L95.4 789.3L177.9 608.1L184.3 771.5L59.5 636.4L167.8 699.6L198.8 615.7L211.5 801.0L146.4 682.5L183.7 702.6L188.2 729.4L212.2 697.5L127.2 783.9L165.3 788.8L139.6 798.4L96.9 627.0L192.5 712.9L192.4 746.1L168.6 735.9L177.4 722.0L149.9 793.3L114.5 627.5L99.0 640.6L165.5 633.0L57.4 674.8L60.2 758.4L91.4 626.1L171.9 633.3L127.1 792.0L71.5 763.3L72.1 706.1L61.0 786.2L103.7 792.8L176.6 755.5L162.3 802.2L177.0 666.6L184.6 800.9L167.4 749.5L173.8 721.1L157.3 711.2L141.1 738.3L201.2 603.6L159.2 745.5L174.2 634.1L203.8 783.5L171.5 702.1L208.2 665.3L140.3 652.3L133.0 694.7L197.0 760.4L196.2 718.6L177.9 763.8L175.5 680.6L187.1 787.1L70.6 606.7L143.2 731.8L75.2 800.0L158.5 758.3L127.0 787.8L175.9 641.1L96.2 702.0L154.7 744.3L124.2 792.0L155.2 794.7L101.3 615.4L57.5 788.5L75.1 797.4L153.9 760.4L189.9 731.3L167.0 743.7L181.4 684.8L163.8 760.0L68.2 801.4L59.2 788.8L195.1 722.7L177.0 722.1L176.0 789.4L161.7 682.7L78.7 800.6L67.5 792.5L147.0 703.5L181.8 715.5L207.1 791.9L151.3 779.2L173.1 751.3L171.7 784.2L80.2 801.3L206.4 787.7L187.6 756.3L202.9 782.7L175.8 728.4L157.8 642.8L69.5 793.1L67.4 797.7L69.1 798.2L135.0 792.2L164.7 792.0L162.1 701.2L149.7 698.3L156.0 660.3L150.3 776.2L159.8 740.9L92.9 792.1L208.8 796.4L191.7 725.5L60.2 713.5L163.6 751.3L185.7 715.1L76.7 802.3L154.8 756.8L155.8 628.3L188.8 616.8L99.7 785.9L98.9 786.1L164.4 763.6L172.9 746.5L170.9 713.5L139.4 647.5L84.7 794.7L190.0 726.5L189.3 617.5L120.0 721.9L203.6 791.8L67.1 783.5L130.9 796.5L184.6 698.5L144.0 801.3L160.0 601.1L157.4 776.0L163.7 683.2L177.1 756.0L136.7 779.0L158.2 794.2L175.1 742.9L157.7 760.0L70.9 788.3L126.0 790.2L168.8 788.5L53.7 788.6L196.1 615.4L176.8 622.5L160.2 697.8L152.3 646.4L130.2 793.1L190.2 803.2L181.1 738.6L134.8 730.1L166.3 627.7L70.8 803.3L159.5 635.9L130.7 735.0L165.5 769.7L169.5 772.7L94.0 797.1L195.9 623.4L144.4 797.1L86.2 792.5L94.5 794.5L179.4 737.3L151.1 736.3L158.4 792.9L179.6 781.3L131.0 734.1L168.9 739.8L148.7 631.8L61.5 798.2L149.0 794.5L58.4 801.9L183.6 802.7L164.7 640.3L129.5 794.0L100.8 791.8L164.7 785.2L185.4 716.1L191.4 721.4L203.8 746.2L105.3 778.3L131.2 672.3L161.5 656.2L178.1 793.3L166.4 773.0L174.9 732.2L176.0 740.9L171.2 728.7L128.1 655.3L167.3 603.6L200.3 650.9L188.4 771.5L80.1 801.9L186.5 737.7L141.1 743.6L95.4 793.7L188.3 789.7L150.0 795.2L126.7 601.8L165.1 671.8L172.4 666.3L111.2 790.6L185.7 750.2L135.5 797.6L119.4 794.2L207.4 707.9L115.0 669.7L157.7 659.1L95.8 787.8L65.4 800.8L143.7 788.0L176.7 736.9L205.4 761.0L77.0 799.7L120.0 792.8L171.2 749.9L73.3 752.3L155.3 780.7L210.8 721.3L68.5 786.9L75.3 790.6L142.8 782.5L185.9 736.1L104.3 789.7L178.6 607.1L56.0 710.5L198.7 675.1L151.3 792.6L194.9 784.4L155.2 775.4L61.2 794.6L197.8 801.4L210.4 796.0L186.5 715.3L59.5 777.0L194.6 794.5L185.3 613.2L189.9 709.5L170.0 633.2L194.4 597.7L203.1 616.8L191.0 794.8L158.0 727.0L120.7 802.1L164.6 720.9L159.0 794.1L159.2 732.4L161.4 764.7L202.9 789.6L105.5 630.8L181.5 756.9L192.7 764.7L190.6 748.4L155.5 788.4L55.5 783.3L124.6 663.0L184.4 736.4L62.4 734.4L173.4 716.6L153.4 660.3L195.9 613.2L93.2 625.1L97.8 623.8L185.9 737.5L114.4 780.9L124.5 760.7L165.5 768.0L140.4 789.9L76.2 800.4L57.1 742.5L179.6 731.1L186.5 739.7L218.0 795.0L200.4 792.6L188.5 780.2L141.7 778.3L171.8 616.4L147.3 692.0L166.0 800.9L138.7 636.9L195.2 776.3L203.2 793.1L64.4 696.0L136.6 799.4L194.0 774.6L54.5 718.2L150.8 784.4L138.8 674.6L149.8 646.7L178.4 729.3L79.3 801.1L157.6 750.0L191.2 802.7L190.9 634.5L129.8 596.1L178.1 795.9L163.3 795.5L84.2 794.2L159.3 708.7L153.7 704.0L165.5 647.5L130.8 790.9L139.0 761.3L162.4 729.4L131.3 600.1L206.8 741.0L132.5 676.1L187.0 728.0L59.8 656.0L144.3 701.5L186.7 755.1L202.4 623.9L209.6 629.0L57.8 753.7L142.4 592.6L187.1 683.8L176.8 686.0L189.5 661.7L164.7 754.5L157.7 694.8L118.0 795.6L159.7 648.8L61.4 782.8L100.5 751.1L68.7 801.5L144.4 795.4L163.7 749.6L148.9 744.5L92.8 682.8L203.6 623.7L149.2 767.6L172.5 722.5L136.7 800.0L173.0 741.0L60.5 770.6L156.2 801.1L70.8 798.3L198.6 790.7L180.6 678.5L184.5 618.9L181.8 763.7L103.1 795.4L190.3 764.1L121.1 771.4L191.2 791.5L113.6 620.2L59.7 795.9L194.0 595.5L121.2 775.0L185.4 661.8L206.7 790.9L147.9 792.2L189.0 701.1L140.5 649.5L181.9 798.4L158.4 635.6L167.0 737.8L58.6 779.3L123.0 758.2L156.9 682.9L160.9 711.0L59.6 634.2L161.0 634.9L182.3 699.7L120.6 786.0L183.7 695.8L117.3 793.0L212.9 798.9L154.1 708.6L182.0 742.9L162.0 772.1L204.2 622.4L163.3 686.7L152.7 666.8L157.5 797.1L59.0 791.7L186.3 631.8L168.6 605.6L160.8 719.4L111.0 789.9L60.4 797.3L142.4 695.8L202.1 786.5L196.0 714.7L153.6 617.6L187.7 753.9L151.0 715.6L132.8 723.8L179.7 741.5L78.1 798.6L160.8 755.9L74.0 789.0L174.1 662.4L96.9 795.5L166.4 780.2L146.3 793.7L179.7 596.3L60.6 786.2L95.1 777.9L101.6 793.5L143.5 611.0L191.1 729.5L64.8 799.3L60.2 798.8L157.5 646.4L182.4 651.9L67.7 791.3L171.7 653.8L62.7 801.8L162.0 749.8L71.8 794.5L185.5 791.1L140.2 662.2L173.3 703.8L189.9 742.3L144.1 784.6L151.2 682.4L189.7 708.2L173.0 649.4L146.9 734.7L167.2 768.6L95.5 622.7L150.6 686.4L69.3 798.3L142.4 779.8L62.2 741.1L191.5 698.3L152.0 702.7L148.4 796.1L145.7 707.6L161.5 795.2L126.4 616.2L75.7 795.2L59.9 791.3L80.1 793.2L181.3 710.8L71.8 797.8L155.1 752.7L152.5 795.8L79.4 798.1L128.4 802.7L167.4 786.5L102.2 779.5L170.1 728.1L128.2 711.0L178.9 803.1L159.5 634.3L188.9 715.0L148.1 765.8L180.6 610.3L124.3 656.0L156.5 747.5L165.7 783.4L148.0 725.0L150.1 684.1L136.8 707.6L167.5 735.9L180.7 784.9L67.8 799.4L144.2 772.6L187.9 659.0L197.6 755.1L174.9 692.5L170.4 604.2L139.9 792.7L205.2 789.4L165.6 790.9L53.9 802.4L66.9 799.6L61.7 764.7L141.2 778.6L57.4 793.6L197.5 636.9L200.5 796.8L83.3 793.4L196.8 753.1L78.3 777.9L171.3 780.1L84.6 791.4L157.0 758.8L137.0 749.8L109.3 793.9L76.7 795.2L207.6 609.5L57.8 796.3L75.5 793.8L152.8 763.9L162.3 606.9L210.8 665.3L137.5 764.0L190.9 697.2L165.4 745.1L104.8 717.7L216.5 793.1L182.9 711.1L131.4 791.6L192.3 766.4L126.0 794.2L207.6 689.2L197.0 665.9L162.4 758.0L109.0 789.3L165.3 714.7L134.5 787.3L178.4 752.3L195.8 745.4L161.4 718.7L142.2 638.9L184.1 669.9L141.1 782.2L158.4 792.4L158.2 598.3L72.4 798.7L53.2 724.4L107.3 619.5L102.0 642.2L133.2 791.9L208.5 660.4L184.7 737.1L174.8 723.5L124.8 741.8L64.2 794.1L58.2 795.1L108.0 753.7L60.4 787.2L167.6 683.3L94.9 792.4L69.6 609.6L196.2 631.0L133.3 792.7L160.8 798.1L179.3 714.9L117.8 715.2L120.3 793.5L184.2 786.8L187.9 696.5L212.4 777.1L164.5 701.4L184.9 795.0L195.4 760.5L152.6 716.1L185.3 766.1L72.5 792.8L76.9 794.6L85.3 626.2L193.0 744.0L189.1 780.4L144.4 795.8L91.3 792.7L167.0 730.8L102.9 728.2L197.8 640.6L130.4 793.1L190.5 786.6L164.8 768.5L163.9 751.2L87.5 790.9L154.7 661.0L189.5 606.8L58.3 776.1L194.7 727.5L60.6 774.6L188.3 710.8L150.7 696.6L161.0 784.1L163.3 774.8L182.9 689.2L105.1 757.2L157.9 604.9L68.0 801.0L131.2 637.4L71.4 800.5L58.7 686.8L192.6 699.7L193.5 693.9L61.7 761.7L201.6 649.2L98.5 794.0L164.4 764.0L107.0 797.6L119.1 637.7L103.1 613.0L162.8 758.3L122.5 798.5L147.6 802.0L156.6 727.0L178.0 638.8L173.6 796.8L124.7 694.4L143.1 769.1L165.5 642.5L147.4 722.1L187.0 771.5L178.8 779.3L66.4 789.9L172.4 738.0L62.1 701.0L93.7 735.5L62.3 799.9L61.5 609.9L55.4 802.2L178.7 712.5L92.3 787.8L166.6 631.4L156.0 791.5L169.6 729.0L180.1 589.8L177.2 795.2L159.8 701.2L105.9 794.8L173.6 767.3L142.3 777.3L186.4 719.4L114.2 795.3L120.6 624.5L192.4 712.6L173.5 737.8L130.6 803.1L180.1 743.2L144.0 799.0L198.6 782.7L217.2 630.9L76.4 800.3L103.3 795.0L181.3 762.5L169.9 754.2L137.5 792.4L141.6 670.5L158.1 626.3L151.6 746.6L53.5 801.4L153.3 784.0L200.5 645.3L160.7 766.6L207.0 636.0L183.1 711.1L73.2 793.3L128.1 753.3L185.5 712.7L156.6 710.1L194.2 797.4L214.9 779.0L60.8 797.2L179.2 797.8L172.7 787.1L64.8 792.8L169.0 760.3L131.1 792.1L154.7 695.1L188.3 715.5L183.9 762.6L152.5 654.7L175.0 615.2L157.5 603.0L131.3 793.7L161.8 746.8L116.4 778.7L165.6 793.7L101.5 786.2L176.2 706.3L164.9 798.0L160.9 710.5L63.8 696.0L95.5 793.1L179.5 711.1L149.4 791.1L172.1 747.2L98.0 718.1L170.3 799.8L169.2 771.2L145.1 693.3L139.3 682.7L151.4 799.3L183.0 771.5L161.4 782.7L176.9 747.9L178.2 758.5L177.0 779.3L169.5 648.5L170.4 594.0L132.9 791.8L132.4 682.1L134.5 789.7L67.9 794.9L154.6 696.7L189.0 645.3L138.5 796.4L126.0 793.7L53.9 661.8L148.6 723.2L108.6 786.9L177.5 767.6L199.5 679.1L198.3 735.7L157.4 627.1L70.3 787.2L147.8 795.0L61.9 789.0L187.4 676.7L113.0 794.4L169.6 788.4L200.2 772.1L62.1 791.1L205.9 800.8L160.2 792.1L62.1 734.9L193.7 763.7L73.6 797.7L185.1 646.6L190.2 781.9L116.5 799.5L173.2 719.5L204.2 688.9L174.9 788.4L61.9 777.0L148.5 636.8L193.7 688.7L188.4 725.8L58.3 750.8L146.1 730.5L166.9 756.0L195.8 759.5L182.1 684.0L58.8 788.0L128.9 633.2L152.5 763.7L177.9 760.6L162.3 707.9L196.3 686.1L89.5 653.5L144.9 680.2L166.8 708.0L64.0 798.6L188.3 750.6L109.0 788.2L193.2 733.9L153.6 790.6L146.3 791.7L201.6 639.3L59.9 793.1L170.0 704.4L55.8 798.5L158.2 723.2L179.5 722.3L170.4 630.0L56.8 747.9L162.1 658.7L165.7 743.0L116.2 705.2L216.3 614.3L110.2 792.8L69.3 743.8L160.1 593.7L130.6 620.8L118.9 750.8L117.4 793.6L212.3 794.8L157.7 765.1L91.6 768.4L59.8 767.9L61.4 742.1L184.1 754.2L176.9 723.0L200.5 779.8L193.9 752.7L166.9 757.5L97.4 794.8L69.7 791.8L203.4 799.1L137.5 692.5L119.2 784.9L64.4 788.5L148.8 709.8L108.9 793.7L198.6 771.4L123.8 753.6L146.7 660.4L62.2 784.2L114.4 676.9L59.5 787.3L175.9 738.2L164.5 736.8L195.5 748.4L62.6 797.7L175.8 653.5L160.4 752.7L195.6 705.4L151.7 762.2L205.7 769.8L195.3 657.0L158.1 794.2L212.5 785.3L152.9 774.0L156.2 743.9L147.1 794.6L146.7 791.0L174.6 726.0L58.6 797.2L90.8 741.1L166.5 589.1L200.0 790.0L158.3 793.4L64.8 779.0L78.1 792.5L162.4 793.0L183.6 742.4L186.4 631.1L142.7 697.0L96.2 798.2L164.7 644.4L91.7 798.3L155.3 792.4L69.4 796.7L157.8 791.8L61.5 748.0L110.3 790.3L174.6 774.9L166.1 793.7L82.2 800.6L174.8 757.1L179.9 769.5L172.0 655.1L192.6 678.4L95.0 795.1L160.7 782.1L194.5 746.8L151.1 793.5L52.9 740.5L92.2 797.1L194.7 695.9L185.7 800.4L56.9 791.2L157.4 727.4L161.9 723.3L150.7 737.6L186.7 747.4L142.7 792.7L210.4 702.5L90.4 726.5L110.4 725.5L191.7 671.6L184.0 774.9L195.7 734.6L175.8 707.6L175.7 774.1L70.0 793.7L159.9 739.2L171.6 655.7L174.3 792.7L186.7 687.8L178.1 706.8L167.7 656.1L129.6 792.7L158.0 695.7L86.3 790.3L182.1 735.4L176.9 733.2L147.8 793.2L164.0 705.6L133.7 786.1L117.8 801.6L160.5 718.4L182.5 792.0L142.3 795.6L119.3 793.8L201.5 676.1L117.0 794.0L162.3 767.9L143.3 793.2L151.7 798.1L188.3 702.5L94.9 795.2L191.2 733.3L199.1 635.9L202.0 626.8L162.9 718.7L163.4 796.0L161.4 625.7L58.0 800.6L214.6 651.2L78.6 791.3L73.7 794.9L157.6 795.6L184.1 652.9L162.3 739.8L197.6 668.1L70.9 800.2L205.4 660.5L151.6 770.5L156.1 754.0L165.4 798.2L165.2 793.4L173.2 745.5L205.6 609.6L199.5 647.7L161.0 729.5L120.9 792.8L192.4 734.7L200.7 774.6L161.9 643.7L208.2 718.1L148.5 768.3L63.2 692.4L62.1 601.5L190.8 745.4L143.9 704.9L143.6 735.1L155.1 788.3L99.7 795.2L138.3 782.8L74.1 802.8L67.7 786.9L182.0 712.3L157.8 674.4L178.0 743.8L144.5 680.9L140.1 685.5L213.0 793.4L174.5 797.9L208.4 773.7L68.0 662.8L85.5 797.1L152.0 802.0L174.0 733.2L56.4 783.4L126.8 665.5L174.1 750.1L149.1 698.3L146.5 715.3L188.5 609.8L151.0 791.8L197.5 609.8L176.6 661.5L124.9 756.7L155.1 598.8L177.2 643.3L113.6 767.0L128.9 793.8L184.8 737.7L156.0 640.7L105.4 794.1L167.1 765.9L181.0 717.1L173.9 733.2L180.0 756.4L145.4 770.6L200.4 669.4L178.9 717.9L62.1 664.6L182.7 769.7L89.5 697.3L184.5 754.8L163.8 719.1L124.1 794.0L177.4 769.7L175.1 703.3L59.6 784.1L51.4 794.5L206.1 606.3L146.4 639.1L116.8 790.1L57.6 635.3L179.0 752.5L169.7 759.6L213.7 775.4L55.1 677.8L154.3 773.1L57.4 720.9L194.3 720.9L190.5 776.7L198.9 751.3L93.1 714.6L59.0 668.1L93.1 789.0L62.2 736.8L82.5 785.4L153.0 770.2L84.9 796.4L122.3 682.4L82.3 794.7L190.4 749.7L66.7 792.4L174.3 701.5L182.2 678.8L68.7 662.3L175.5 634.7L144.2 779.0L61.8 799.0L60.0 797.0L160.9 778.8L155.8 794.0L198.6 600.2L121.0 790.2L90.8 618.4L120.8 791.9L178.6 760.3L175.4 616.7L145.3 607.6L200.2 783.6L176.4 770.2L109.1 794.9L69.7 788.7L59.6 796.3L183.4 758.0L180.9 738.9L191.9 722.8L146.0 640.0L162.2 721.1L171.2 662.5L174.1 691.5L163.7 741.3L188.3 795.8L61.6 711.8L79.7 792.3L176.8 721.6L101.6 792.1L188.5 676.8L66.7 798.2L150.9 783.4L194.8 755.6L159.3 688.3L60.8 684.9L181.7 780.4L130.9 603.2L65.5 778.4L155.9 780.7L87.8 802.5L177.0 794.5L132.2 679.5L170.4 718.4L178.9 761.2L148.7 783.9L140.4 794.0L184.7 693.1L212.9 801.9L166.9 743.7L62.6 671.8L175.5 665.1L143.6 677.5L124.7 728.8L179.2 752.8L139.8 790.3L97.6 796.3L157.9 644.5L186.7 757.3L90.9 798.9L97.7 696.1L189.9 785.5L205.5 793.8L175.0 629.0L186.4 768.5L175.4 760.7L59.2 779.5L67.6 670.0L166.6 645.6L192.3 781.0L83.7 590.9L158.0 663.9L150.8 727.0L61.6 781.4L155.5 714.2L174.0 774.8L77.5 802.4L60.1 801.0L161.3 792.0L65.2 791.1L165.9 769.6L123.3 788.8L64.4 773.2L191.7 709.6L125.9 699.3L69.6 794.4L137.0 789.4L58.6 785.5L102.9 790.9L173.8 615.9L165.6 727.8L184.0 649.3L176.5 599.3L182.1 790.2L157.4 635.4L162.5 686.9L131.7 606.7L163.5 727.1L166.0 737.4L69.5 790.1L175.2 757.7L151.7 653.9L71.1 790.2L161.9 767.0L159.1 767.9L160.2 741.1L60.9 740.2L123.1 711.4L133.9 599.9L170.5 761.4L179.8 771.5L188.6 720.8L135.8 756.0L138.3 696.9L192.3 737.6L133.8 696.9L158.1 718.8L162.2 662.8L186.3 596.6L184.6 716.1L76.0 797.4L212.5 777.8L83.2 750.0L168.0 597.0L178.6 662.1L177.2 762.0L172.4 771.0L177.1 727.3L71.6 793.6L167.6 749.4L71.6 798.6L63.7 656.3L65.3 797.2L175.4 747.4L185.9 791.9L65.8 776.4L136.1 700.3L132.9 757.2L180.7 615.3L60.1 792.6L159.7 739.8L122.7 795.1L181.5 771.2L165.6 734.3L177.2 716.0L161.6 708.9L60.2 629.2L162.6 682.2L186.0 625.5L100.7 615.6L126.1 775.7L119.8 792.7L67.7 708.5L145.0 796.2L90.1 794.3L194.8 712.6L169.1 678.4L185.4 710.0L162.6 777.2L180.5 801.1L90.5 739.6L104.2 792.8L190.5 605.4L93.7 792.5L133.3 669.4L159.8 700.6L159.4 710.9L183.7 787.6L195.7 734.6L128.4 745.1L161.6 759.7L182.1 662.3L72.4 795.9L60.9 775.8L172.1 761.9L133.7 790.6L146.5 747.7L65.0 774.9L207.3 636.3L163.8 658.5L177.4 752.4L69.7 797.9L92.0 786.4L143.8 746.1L106.7 801.5L165.2 740.0L166.3 791.1L150.7 690.4L181.9 779.8L59.3 796.5L143.4 601.2L200.6 754.5L68.3 788.6L137.9 792.4L121.6 793.2L152.2 774.9L168.5 797.2L134.9 681.9L137.6 788.4L59.9 682.8L123.2 795.9L197.6 664.7L189.7 692.3L59.0 780.4L125.2 663.7L151.8 734.3L137.5 676.6L197.0 687.5L146.6 793.9L81.4 801.4L167.3 780.5L70.9 803.3L85.3 793.0L120.9 791.0L214.5 620.5L179.6 725.4L147.0 669.4L52.5 786.4L87.0 796.4L121.8 790.4L186.8 713.9L140.7 662.3L151.9 647.4L71.1 784.4L141.1 655.7L193.8 746.0L60.5 801.0L146.0 638.6L194.4 601.0L58.2 761.0L69.4 777.1L130.3 711.3L158.5 786.8L150.0 788.5L181.6 789.5L157.7 757.5L201.9 619.1L99.0 791.5L184.4 786.1L176.0 788.5L186.2 769.8L134.1 759.2L142.5 621.9L58.6 779.3L95.7 714.4L167.9 793.0L178.7 760.1L199.5 726.6L152.4 738.8L185.7 736.4L160.6 595.5L152.4 684.2L127.6 797.4L91.0 599.6L195.7 723.0L68.6 794.7L179.2 739.4L191.3 739.8L166.3 749.3L199.0 605.7L56.5 658.9L160.4 680.1L58.2 786.3L143.5 792.1L148.2 755.7L197.7 680.7L150.9 793.7L177.3 731.6L124.6 799.0L202.7 624.3L205.9 748.4L83.4 781.7L185.4 742.9L162.3 724.6L200.6 716.4L167.5 739.9L159.5 795.2L178.8 750.3L63.7 601.9L64.6 674.6L191.1 636.9L179.4 637.3L148.0 625.6L167.7 709.8L180.7 758.6L69.1 784.3L148.7 716.0L155.2 684.4L158.2 794.6L66.5 785.9L179.9 605.6L180.9 801.2L63.6 774.7L69.4 790.0L158.1 715.3L119.8 794.0L71.6 788.4L64.1 777.6L195.7 732.2L64.4 780.1L169.8 751.1L173.5 755.1L152.8 636.8L169.3 801.1L74.7 795.1L184.6 745.5L60.0 664.3L169.6 745.1L113.4 791.0L195.6 738.9L161.9 793.1L172.3 633.1L141.7 720.5L212.6 778.0L132.2 790.7L156.4 620.8L178.3 658.6L101.8 686.4L171.5 617.4L131.2 731.4L160.3 621.4L169.1 640.8L174.4 745.2L195.2 753.0L206.9 601.7L78.1 794.7L161.1 713.4L157.7 689.3L168.1 617.0L206.0 775.7L191.7 761.5L70.2 767.0L93.3 779.2L71.8 797.2L87.3 782.5L71.8 794.8L200.9 744.2L209.3 789.0L114.0 786.8L188.8 784.3L108.4 791.1L66.3 787.1L192.0 737.8L145.1 636.0L58.3 770.0L148.3 793.2L60.6 722.1L187.0 770.5L59.7 795.7L57.9 796.3L148.2 792.2L63.6 794.5L157.8 681.3L166.3 686.8L183.7 762.9L135.3 708.5L153.9 799.6L110.0 611.4L71.6 800.7L193.4 608.5L78.3 792.1L60.0 716.1L194.2 793.0L163.7 756.6L176.9 716.0L172.1 679.0L186.6 674.7L58.1 672.7L163.3 741.4L203.8 657.1L195.4 762.6L105.3 795.6L131.5 661.5L94.5 795.4L184.9 692.0L173.7 703.6L196.1 658.4L55.6 795.6L171.2 796.9L182.3 752.8L69.6 791.0L69.4 795.8L63.4 782.2L165.8 716.2L186.8 698.8L202.7 788.5L170.1 705.3L192.6 743.5L121.3 604.3L152.1 691.3L180.1 664.2L97.8 794.7L113.9 797.4L123.1 793.5L91.9 792.8L119.8 739.9L194.0 706.3L182.2 746.7L61.6 787.9L205.7 766.8L165.8 783.9L162.5 791.2L178.2 716.6L100.3 799.4L134.8 795.9L188.5 788.1L66.5 777.8L169.7 609.3L62.8 801.1L167.3 755.3L176.1 686.6L72.3 792.5L193.5 615.4L187.7 796.2L112.0 795.3L169.5 701.6L185.0 658.2L192.5 728.3L160.3 640.1L174.0 606.4L196.6 622.0L157.3 770.9L187.1 765.1L140.3 716.0L145.1 687.5L210.0 787.1L187.8 627.3L111.3 635.6L112.9 791.8L135.5 619.9L60.8 800.6L139.9 792.7L184.9 794.2L143.3 722.2L178.7 759.9L104.5 794.8L176.4 773.2L62.8 774.6L66.5 787.4L61.0 770.2L161.8 609.5L119.3 786.9L82.6 787.4L108.4 658.9L150.1 623.0L191.4 597.7L147.3 794.5L169.2 715.9L163.6 788.2L64.4 785.6L82.9 803.4L188.5 775.2L189.7 780.8L131.8 694.1L78.8 644.4L87.7 792.7L179.6 781.3L182.1 802.1L163.1 754.1L162.9 741.4L157.9 794.3L186.4 789.8L202.4 764.3L150.7 778.0L138.8 788.5L136.7 640.4L153.0 767.0L189.7 747.1L102.4 753.2L71.0 793.0L72.6 792.0L180.6 794.1L176.8 620.7L171.3 774.0L75.0 791.8L152.6 793.5L200.5 795.5L160.0 658.1L147.4 790.6L153.1 603.6L197.4 712.5L188.3 746.8L160.6 713.3L62.3 790.6L65.4 776.1L134.0 685.0L103.4 677.7L189.7 592.9L184.9 779.9L168.0 742.4L169.5 758.2L77.2 796.4L209.9 662.0L176.3 730.5L116.0 800.1L190.4 766.5L59.3 755.1L151.6 794.3L127.9 791.2L76.8 793.9L80.4 757.9L150.5 697.0L194.9 610.7L71.3 786.0L78.6 763.1L118.6 794.8L201.8 748.1L91.9 783.8L191.3 727.2L96.8 797.8L89.0 795.2L150.5 643.7L56.8 792.6L74.1 788.2L170.9 744.7L141.1 653.3L80.5 792.9L184.6 641.1L117.2 789.2L168.1 783.2L60.5 798.4L155.1 755.2L140.2 755.7L209.7 729.6L192.5 720.4L171.1 730.5L190.7 716.2L150.3 731.4L179.3 716.6L136.5 617.6L60.9 788.0L145.8 598.0L195.5 729.1L165.0 740.1L63.2 802.0L136.6 791.5L60.2 744.2L100.7 765.9L151.9 794.6L188.5 738.5L166.5 641.2L62.7 690.0L188.5 779.6L176.7 795.1L188.1 658.1L201.9 655.3L152.4 801.2L190.6 790.3L152.5 695.5L159.9 794.6L90.2 790.0L66.2 782.3L183.5 759.6L139.5 661.2L155.9 709.1L114.3 801.6L178.1 656.9L161.8 653.0L201.7 793.7L137.4 659.4L91.5 796.2L192.7 795.4L167.8 799.7L93.6 752.4L64.7 781.8L176.8 707.1L155.9 652.2L163.3 760.1L111.0 668.0L209.5 792.1L208.2 724.7L62.2 784.0L189.8 791.9L176.2 744.0L159.8 780.4L167.0 777.9L89.8 700.5L159.7 616.6L194.3 787.2L77.8 789.0L189.6 779.2L186.4 756.8L161.1 793.8L94.5 793.1L195.0 597.5L190.9 792.8L60.2 669.0L131.6 608.3L92.8 793.8L152.0 690.1L163.1 679.6L127.1 792.4L178.6 719.2L126.1 793.7L157.6 792.8L167.7 725.3L165.0 734.8L67.3 795.0L65.2 781.0L54.9 678.6L152.8 767.4L157.9 689.7L146.3 699.7L192.7 734.5L159.3 794.9L179.2 740.6L210.3 796.6L129.6 771.5L116.7 740.7L182.4 734.5L141.7 755.0L61.2 790.3L169.7 683.5L187.4 760.6L171.3 788.6L194.7 676.7L179.2 733.5L198.1 787.9L111.5 796.2L135.9 784.0L115.2 795.6L99.5 639.0L142.4 785.7L202.8 793.6L126.7 762.0L186.2 730.5L73.8 801.8L192.5 745.9L199.5 793.2L161.4 782.9L163.5 796.0L93.7 797.7L164.9 708.3L196.6 787.9L73.5 788.9L164.2 731.3L210.3 762.3L171.4 591.7L158.7 635.9L160.6 699.2L139.5 751.1L59.7 616.3L186.1 791.1L111.7 787.9L173.9 611.7L159.7 709.6L193.9 786.8L156.3 764.2L76.9 703.3L64.3 797.3L100.7 780.8L162.3 769.4L105.3 722.7L183.5 750.6L178.5 735.8L165.9 643.8L173.1 695.4L64.5 775.4L74.9 798.9L131.8 792.6L111.5 756.2L72.8 790.3L132.2 739.8L169.0 762.8L193.7 707.0L104.9 771.3L198.2 652.0L194.5 748.1L73.2 787.1L178.4 761.6L177.5 799.0L54.0 799.0L195.6 751.8L70.4 798.2L194.0 777.6L56.4 715.9L185.5 745.7L59.4 775.7L164.6 789.1L142.2 635.7L210.2 784.3L165.2 618.3L137.6 681.2L143.3 779.3L92.7 748.2L154.2 615.9L68.0 782.3L206.3 793.2L75.5 793.2L69.1 790.1L179.7 650.8L175.7 611.6L210.1 696.3L141.8 743.4L195.3 735.1L139.9 641.4L135.8 792.3L80.0 736.1L170.6 735.2L148.1 776.0L163.4 719.9L60.8 664.4L169.9 642.4L191.1 688.8L164.7 727.3L203.1 733.3L149.2 754.9L121.6 781.4L186.6 623.3L188.3 685.6L108.8 669.3L93.6 796.8L176.5 733.3L55.7 787.3L183.6 772.8L166.3 737.1L157.0 752.1L149.2 676.6L193.2 791.5L64.8 780.6L63.9 743.6L174.4 787.4L152.1 796.4L196.8 706.9L184.5 696.3L112.5 793.7L178.8 706.1L183.1 755.7L178.5 711.9L182.5 802.6L73.6 789.5L107.0 792.9L174.4 660.3L132.0 695.5L162.2 771.0L195.2 743.6L153.1 694.1L176.4 766.8L94.7 661.5L61.9 775.8L126.6 789.6L135.1 792.4L206.7 605.9L161.9 734.8L169.5 675.2L111.4 598.8L196.1 751.4L130.7 802.1L156.9 796.6L197.9 665.0L69.5 800.3L188.7 697.3L210.2 798.0L160.8 662.1L180.7 787.1L140.3 789.7L114.8 666.9L124.1 720.4L193.3 734.7L164.1 803.3L69.2 803.2L124.7 636.1L165.2 794.3L180.8 719.7L189.0 786.3L185.2 727.5L207.5 779.5L224.1 795.7L158.8 678.7L57.2 794.8L169.4 628.9L56.3 681.5L202.2 600.3L213.8 792.4L188.3 790.8L185.4 662.9L207.2 791.5L89.6 794.9L197.5 800.2L163.7 610.6L177.1 718.2L144.0 785.3L162.9 691.4L58.9 772.4L194.7 609.1L152.0 737.8L175.5 711.3L132.4 769.7L210.1 676.4L97.2 797.8L173.8 612.5L70.4 791.5L165.9 741.5L185.4 777.0L208.1 790.9L133.4 792.2L180.1 758.4L181.3 733.1L60.7 673.6L126.9 750.8L136.7 613.4L148.4 698.1L182.3 769.5L149.0 794.0L134.6 785.8L60.1 755.7L94.1 789.4L176.5 671.1L177.5 700.2L57.8 800.1L155.0 795.6L73.7 788.9L146.3 733.3L206.9 781.7L119.3 789.8L206.9 725.1L96.7 793.3L128.4 740.2L169.2 763.3L187.3 714.3L192.7 594.6L105.8 725.8L142.0 784.5L64.6 796.5L128.6 793.2L199.9 793.9L85.9 658.8L161.5 730.6L138.1 798.7L62.7 781.2L148.6 718.5L195.0 778.1L151.2 659.4L160.5 628.8L166.5 794.8L205.2 678.2L159.4 597.6L138.6 634.3L178.5 643.4L182.9 766.2L79.0 799.8L154.8 638.6L157.6 770.6L177.2 711.0L203.7 786.5L102.9 719.2L224.2 793.6L102.2 791.1L163.1 716.6L171.4 624.7L179.1 600.8L109.5 789.3L141.0 706.4L74.7 791.1L108.4 704.5L140.7 711.4L65.4 789.6L155.4 696.9L174.3 800.5L148.3 669.1L140.4 653.8L185.0 765.5L52.9 757.4L183.8 786.9L128.9 787.8L66.8 698.0L151.5 748.1L166.5 723.7L64.4 795.7L179.6 759.1L58.0 794.2L182.2 775.4L166.7 778.1L177.8 778.3L152.6 796.6L174.6 663.6L143.1 640.0L110.9 790.0L184.4 735.6L103.6 790.0L60.3 633.0L121.0 795.6L163.1 637.7L81.4 798.1L61.9 789.2L153.6 782.6L213.9 791.6L160.6 674.3L161.1 755.8L171.0 750.1L207.7 642.6L160.8 792.0L97.1 785.4L137.8 634.3L152.1 749.2L62.1 702.4L84.1 742.2L183.1 644.7L189.2 698.0L197.0 792.0L153.0 764.3L167.3 608.2L164.9 758.4L178.6 696.5L178.4 716.0L145.4 723.2L166.1 725.4L61.4 687.1L75.4 662.2L193.9 720.6L95.3 792.1L164.8 793.1L168.4 724.7L115.2 759.5L183.5 792.8L178.3 795.0L67.7 783.8L61.4 790.8L153.0 651.2L211.1 606.3L175.2 771.0L138.4 794.6L122.9 788.5L70.0 792.5L160.6 794.5L135.5 628.9L127.3 643.8L154.6 616.9L149.7 688.1L156.8 720.3L146.0 738.2L146.8 678.2L195.4 676.2L156.4 703.9L90.0 671.4L84.1 794.0L166.1 682.8L167.9 742.2L177.3 767.1L183.8 617.0L214.5 733.4L137.1 725.4L69.8 784.1L66.0 782.2L133.9 669.1L180.0 707.5L54.2 796.6L188.9 731.7L54.8 792.4L105.6 801.2L56.2 642.9L77.5 792.3L170.9 654.3L53.9 797.2L182.9 796.2L74.7 794.2L79.2 741.1L135.0 798.9L74.3 794.1L192.5 669.9L194.9 681.8L163.1 667.5L72.5 796.5L168.5 722.0L171.7 746.3L144.4 784.4L168.9 713.4L191.6 749.1L180.7 739.4L170.9 750.0L60.6 631.5L160.1 762.5L140.7 693.5L167.1 786.9L193.6 662.3L195.8 795.4L176.8 661.4L122.3 672.9L72.6 802.2L77.4 797.9L161.8 790.0L77.0 786.9L190.4 771.7L91.2 792.4L154.6 696.5L71.9 799.6L187.0 741.0L195.8 756.9L148.9 796.4L138.2 693.4L178.9 668.9L178.6 734.6L155.5 769.9L81.5 787.3L177.5 761.5L60.2 619.5L68.3 802.0L164.0 791.3L120.7 802.6L169.5 799.6L65.7 780.4L179.0 699.4L125.8 802.0L165.9 799.4L113.3 617.6L188.3 703.1L64.5 790.8L174.1 689.9L122.2 802.1L191.8 737.7L189.7 739.9L70.4 789.3L183.9 772.2L170.9 741.6L61.9 771.0L172.7 779.0L132.6 794.4L169.9 754.7L151.7 802.1L67.1 786.3L193.3 676.1L166.7 797.6L92.7 797.6L173.7 742.7L180.6 728.1L190.8 742.6L174.7 657.4L179.3 723.1L120.9 688.6L192.0 732.8L187.4 678.3L71.9 797.5L139.2 793.4L142.3 792.0L175.2 796.7L198.0 677.6L156.5 661.8L216.8 702.0L74.2 798.3L55.5 736.9L180.0 752.1L190.7 803.0L142.1 721.8L158.4 644.2L58.6 790.3L185.0 755.4L137.0 763.9L92.6 790.6L66.1 786.7L186.9 735.5L176.7 642.7L154.7 671.1L175.5 726.9L93.6 792.0L184.3 757.1L188.2 749.0L191.1 668.2L59.5 796.8L97.8 793.9L161.5 766.0L157.4 621.0L163.0 723.6L198.4 800.6L62.3 796.4L108.8 778.5L59.2 796.6L159.8 777.6L64.4 785.6L162.3 754.0L153.4 795.6L146.3 791.4L162.4 626.3L59.5 635.6L83.7 786.1L172.9 774.9L54.3 787.0L59.2 739.3L181.1 732.0L158.2 699.9L96.0 793.6L137.2 789.7L121.6 794.4L166.5 752.6L176.8 715.3L139.7 745.6L177.3 732.1L97.0 692.3L201.5 785.1L209.2 611.0L92.0 773.1L185.4 784.2L183.5 751.4L55.6 783.0L146.5 672.7L193.3 636.4L59.4 788.3L178.1 670.6L185.9 714.2L150.6 625.2L102.0 693.3L143.9 652.7L143.2 738.0L182.5 799.3L177.4 649.4L199.7 784.9L160.3 744.0L199.8 607.2L195.9 711.4L68.1 631.0L194.3 666.4L80.9 801.4L175.4 726.1L174.7 670.9L163.8 730.9L205.1 610.9L188.8 715.8L135.5 610.4L181.4 611.7L58.1 801.6L210.4 666.4L174.3 737.3L87.3 786.5L175.5 795.3L95.0 796.0L55.4 795.4L166.2 710.6L75.3 744.6L208.4 674.5L60.0 687.9L150.5 786.3L158.1 795.5L64.8 793.4L117.1 792.1L158.8 781.7L181.0 641.7L75.7 793.9L197.4 735.2L165.2 614.2L159.6 635.0L163.9 785.8L184.9 669.3L137.9 656.3L193.0 801.9L183.1 797.2L76.0 784.1L176.7 760.6L181.6 660.6L162.8 798.4L143.3 780.7L136.2 703.7L157.1 669.7L187.3 744.4L182.8 646.8L193.4 695.2L156.3 767.0L130.7 780.4L89.4 742.4L136.3 751.8L135.9 792.9L133.0 787.8L84.2 787.8L78.9 796.7L111.1 786.9L165.1 734.5L142.9 783.5L131.9 705.7L184.8 752.1L190.2 746.1L163.0 755.5L134.3 602.2L155.5 783.0L187.9 619.9L58.4 772.9L189.1 765.3L149.9 629.7L81.1 790.9L59.2 692.3L195.3 691.8L177.4 723.9L137.4 791.6L192.0 666.1L166.3 616.9L181.8 765.6L175.8 783.1L153.4 785.8L193.7 662.6L170.1 712.3L56.1 793.5L122.1 791.7L202.9 793.4L176.7 683.1L194.0 782.2L187.5 692.0L117.6 791.6L68.3 774.7L185.2 706.1L151.3 789.6L66.8 723.5L149.3 793.4L189.3 767.0L173.9 634.7L177.6 787.0L208.4 665.6L184.3 714.2L102.6 792.5L195.2 714.7L187.1 745.5L153.8 784.1L153.3 627.4L164.3 779.6L70.3 803.0L166.4 716.9L123.8 789.7L132.5 796.5L54.0 788.1L170.5 789.4L151.0 795.0L211.2 674.2L127.3 794.0L114.7 791.6L72.5 793.5L110.9 727.3L141.6 670.3L203.5 674.3L172.1 589.5L68.2 733.6L194.8 600.6L160.1 758.9L187.1 758.2L83.5 790.2L126.9 786.2L182.4 609.3L126.3 792.6L178.5 780.8L152.5 757.5L54.4 797.2L115.2 611.5L192.5 765.9L167.1 740.2L159.4 734.6L60.1 767.1L177.4 669.8L188.8 668.5L192.0 617.4L89.6 791.0L166.2 709.2L127.4 791.0L64.8 799.8L56.6 640.7L127.3 800.0L178.1 602.0L124.3 793.5L188.7 797.0L174.1 791.0L194.0 632.1L169.6 737.6L162.6 718.0L161.6 615.9L183.4 602.0L62.4 781.1L179.4 705.1L162.8 756.8L131.1 788.1L178.5 758.0L208.6 608.2L163.1 650.8L130.9 735.7L161.9 697.4L127.6 734.3L150.4 798.0L151.4 595.3L193.5 730.5L189.8 600.4L66.4 802.8L187.8 728.2L130.4 782.6L58.3 791.5L149.0 793.3L54.3 796.2L63.8 769.8L184.3 746.4L188.4 736.3L170.4 800.8L176.0 705.7L76.5 793.0L76.3 792.3L66.5 713.1L59.4 781.1L161.7 761.1L66.4 770.9L80.5 795.4L64.6 781.3L127.7 789.4L177.3 783.9L168.8 791.3L142.6 684.2L58.6 771.6L105.7 792.5L184.3 798.3L150.3 743.5L194.5 801.9L170.8 631.6L143.4 735.6L65.9 774.0L193.9 774.5L208.7 631.5L185.5 763.0L155.4 768.5L137.7 613.6L173.0 743.3L173.7 730.0L198.1 702.4L65.1 792.8L99.7 650.0L101.3 791.5L198.2 644.0L59.4 775.3L60.9 777.8L148.3 759.2L59.5 781.5L197.6 746.4L61.4 627.6L58.8 682.3L118.5 790.5L60.6 691.0L140.0 717.2L162.4 629.1L178.3 749.3L102.0 789.7L106.4 788.4L53.2 789.8L173.9 727.3L160.7 624.7L169.6 726.4L182.5 730.3L198.9 791.5L56.3 743.2L180.6 618.9L160.8 793.0L177.2 682.6L92.9 800.0L122.0 683.8L182.5 753.8L145.9 794.1L163.2 773.1L99.0 794.1L157.2 702.6L200.1 674.2L202.7 781.2L155.5 656.8L190.3 773.0L162.0 649.9L166.7 688.0L178.7 701.8L75.8 791.4L192.4 763.4L108.2 790.9L65.4 722.7L186.8 726.1L86.1 793.4L88.8 773.8L160.3 662.1L156.1 754.6L196.0 731.7L58.2 789.3L181.3 752.2L166.1 715.6L56.0 771.5L180.8 793.0L101.0 794.1L95.5 795.0L62.3 680.2L194.3 626.7L84.1 797.7L208.0 775.5L57.3 688.8L146.0 763.3L46.5 801.2L182.7 796.0L198.6 791.9L70.2 626.3L140.0 656.3L103.5 792.8L70.4 784.5L91.3 795.2L201.1 627.5L154.4 728.7L114.8 791.2L96.7 795.2L195.3 718.8L170.0 718.4L185.3 687.0L139.3 685.6L196.7 680.1L66.4 801.2L154.8 795.3L189.9 753.3L68.0 785.0L140.8 630.3L153.1 785.1L74.9 796.5L58.3 627.2L141.2 629.8L185.4 741.2L145.5 731.6L69.2 786.6L189.6 621.0L64.3 775.4L172.7 644.3L141.8 799.2L157.7 720.4L63.4 781.7L133.6 791.5L162.0 757.6L162.1 732.3L60.0 793.5L116.6 770.1L180.8 744.7L162.6 606.1L166.0 759.5L171.9 752.3L61.7 775.4L60.2 749.9L61.1 609.7L125.0 801.9L64.4 795.5L56.1 633.2L77.6 793.9L132.1 751.1L183.0 796.1L135.5 747.1L105.1 793.8L138.5 801.7L194.0 755.4L161.0 749.9L142.2 723.5L149.7 747.3L109.4 784.7L199.6 662.2L120.4 796.7L164.1 765.6L145.9 761.7L75.0 789.5L89.7 785.0L185.1 752.4L147.8 628.8L187.1 765.7L167.3 751.9L151.0 730.9L175.2 732.7L161.3 769.0L148.7 784.9L140.5 742.7L69.1 777.1L59.2 764.7L61.2 757.2L150.9 692.9L66.9 800.2L150.0 791.4L100.1 746.0L168.1 687.6L58.5 785.0L167.5 639.4L172.6 799.3L143.5 624.9L196.4 711.2L142.1 791.4L193.2 729.4L183.6 626.2L80.2 644.6L191.3 740.5L75.7 797.2L155.4 755.7L132.3 741.7L157.7 652.6L193.7 775.5L71.5 791.0L177.9 707.7L144.3 687.0L64.3 696.0L130.9 665.8L159.4 774.0L195.9 600.3L191.6 774.5L186.1 751.6L57.6 715.9L193.7 762.8L149.7 767.8L200.2 782.9L134.2 709.8L70.6 794.2L204.4 689.6L59.4 695.7L81.1 795.3L148.1 754.4L142.0 795.5L100.2 787.1L85.1 784.0L166.8 715.5L167.4 715.0L95.0 802.1L61.5 785.3L155.9 798.7L99.0 793.7L135.4 790.0L169.5 752.1L111.4 790.4L189.4 716.0L144.4 762.1L163.4 783.9L151.2 800.5L189.3 759.6L188.4 684.7L183.7 592.7L90.1 794.4L197.7 765.8L89.8 627.0L133.0 789.8L63.9 802.7L146.0 626.2L148.3 678.6L142.3 691.4L189.1 739.3L150.5 794.2L156.2 705.1L66.6 773.9L60.8 792.8L193.9 711.9L138.0 726.0L58.8 799.7L174.5 718.7L186.0 641.0L173.7 636.4L194.4 769.8L179.4 766.1L153.9 791.2L60.6 680.9L124.3 786.8L167.0 703.4L191.4 700.1L178.7 745.2L181.9 603.3L191.5 607.8L173.0 758.9L201.7 617.8L201.3 675.8L124.1 792.3L203.4 722.6L61.2 719.7L193.7 700.7L169.0 615.5L103.0 790.2L156.6 783.9L67.9 799.1L133.8 673.4L199.3 721.9L159.0 786.7L66.1 780.3L56.1 795.3L68.4 783.6L159.8 769.3L190.6 721.8L165.9 725.4L165.5 788.4L110.4 794.3L179.4 679.3L206.5 769.0L56.9 783.8L62.3 737.5L180.4 730.6L171.5 753.0L162.7 791.3L199.3 738.0L182.0 763.0L203.5 594.0L160.6 672.3L192.2 670.4L189.0 698.2L162.3 768.3L146.0 659.8L198.9 594.6L84.4 796.4L74.7 793.9L156.4 779.1L193.7 795.3L74.9 795.5L151.8 660.2L144.4 732.9L108.6 790.5L155.8 770.8L73.4 800.1L153.5 640.3L198.1 687.3L176.8 756.0L189.0 754.0L163.6 746.1L121.7 792.4L181.9 786.7L161.3 793.1L158.4 798.8L206.8 787.6L127.2 633.8L78.7 801.2L194.9 706.7L195.5 796.7L94.6 793.0L185.2 724.1L187.7 757.8L81.8 794.2L145.6 724.7L142.5 650.2L155.0 723.7L190.6 711.3L60.5 774.8L73.7 794.7L161.8 634.7L159.9 751.9L176.9 773.8L94.5 791.5L167.7 744.0L148.4 718.5L94.0 636.0L180.1 643.1L173.8 691.8L55.5 788.0L147.5 779.2L79.4 799.9L177.3 734.3L131.1 800.3L170.1 760.0L182.2 792.4L67.3 797.5L56.9 642.3L174.7 799.0L149.3 700.2L84.1 801.0L55.5 682.8L167.1 692.3L136.8 614.7L63.3 793.3L179.7 795.8L149.4 661.5L167.6 741.5L136.4 648.1L56.4 787.8L192.6 750.4L180.7 759.8L143.8 693.2L210.3 677.7L172.2 657.0L160.1 659.8L207.1 659.1L132.6 794.5L183.0 615.5L164.4 676.5L186.1 748.8L113.6 783.7L177.8 792.7L169.7 776.2L173.8 654.4L184.1 710.0L168.2 774.8L174.1 727.8L185.0 798.2L154.4 791.5L150.0 661.6L163.6 796.0L194.0 749.7L185.2 741.3L174.5 713.0L161.7 769.0L195.8 614.7L157.1 776.1L190.9 649.4L160.9 694.2L131.3 796.9L57.9 778.9L141.1 795.5L181.4 770.9L73.6 782.5L162.7 596.6L189.5 746.3L136.3 764.4L180.4 608.5L206.8 794.1L161.5 718.7L148.5 641.6L83.1 802.0L184.6 767.4L169.4 793.2L64.0 753.7L59.2 796.5L146.8 675.5L66.5 781.0L117.4 756.1L207.1 751.6L182.2 754.3L166.0 764.6L183.2 762.0L153.7 729.8L112.0 686.4L124.4 639.2L91.9 700.0L177.4 795.0L204.4 798.7L85.8 792.4L114.1 728.1L142.9 802.4L173.8 673.1L184.6 667.1L140.9 709.4L197.6 791.7L172.7 649.6L175.6 749.3L183.9 762.2L91.1 798.3L91.4 735.6L74.1 799.1L117.8 605.2L62.9 795.3L184.7 725.3L173.5 723.9L154.8 718.7L170.2 762.8L165.3 745.3L128.2 712.6L148.1 749.4L78.6 794.1L145.0 796.8L166.1 771.3L62.3 712.3L160.0 783.7L180.9 776.4L178.5 774.1L153.7 797.0L177.2 707.4L188.4 618.3L186.5 794.8L56.0 789.6L58.3 634.5L156.8 625.4L60.3 765.7L63.2 796.6L176.0 746.4L212.7 794.5L159.1 618.0L190.7 659.7L216.6 612.8L113.2 786.9L127.7 722.6L61.4 771.3L159.2 798.3L55.9 780.1L130.7 793.9L58.2 798.2L180.0 726.4L139.6 673.2L180.8 708.6L142.6 671.8L193.4 604.6L75.1 797.4L136.4 796.8L137.3 791.1L169.6 691.1L61.8 675.0L109.4 800.6L169.0 769.9L155.4 591.4L210.7 792.6L161.5 746.7L62.3 738.6L132.5 668.7L157.4 771.1L60.3 796.6L146.2 755.9L135.1 784.2L213.0 653.4L105.6 793.2L130.4 799.2L177.8 677.9L172.4 651.6L64.4 785.8L194.4 713.8L105.1 606.5L170.2 737.5L113.6 791.6L56.5 704.9L177.6 781.8L59.0 788.5L185.0 763.3L154.9 723.9L76.0 797.0L186.3 766.0L159.9 792.9L167.5 747.0L165.2 733.8L194.4 801.5L158.4 684.6L194.2 759.1L177.0 683.1L63.5 757.1L189.0 766.4L155.4 681.6L61.9 643.7L189.2 687.7L61.0 775.9L83.8 794.0L68.9 748.5L168.1 723.5L139.7 716.5L208.7 799.1L87.2 795.6L158.7 776.9L177.3 595.1L186.2 761.0L147.2 793.8L129.8 794.9L60.6 675.7L84.0 788.0L60.4 783.6L182.4 622.3L126.1 742.7L141.0 693.4L160.9 678.9L89.5 792.6L119.4 602.0L88.1 695.9L151.8 787.8L113.2 800.2L160.6 673.1L163.9 619.3L150.8 634.1L182.5 792.3L92.9 791.2L161.2 788.4L175.4 645.9L180.6 729.5L60.0 652.7L179.8 717.6L177.2 650.6L57.7 786.3L152.2 792.3L140.6 668.6L77.2 694.8L57.2 800.0L174.5 749.3L143.8 792.1L175.3 715.7L63.2 741.9L161.1 793.6L195.3 735.1L162.5 620.3L174.9 607.3L70.9 790.3L212.6 778.9L150.4 799.8L182.5 800.2L196.8 782.8L122.6 789.2L193.9 607.3L152.0 629.6L57.2 610.8L171.7 676.4L143.2 610.8L162.2 688.0L159.5 713.0L189.6 650.9L161.5 630.1L147.1 611.9L174.8 774.6L55.1 799.9L179.9 732.5L159.1 789.5L154.5 764.5L167.9 773.6L128.1 748.5L160.3 794.3L134.0 749.0L96.5 624.6L192.8 777.8L203.8 611.7L167.5 696.2L143.4 660.8L185.9 778.1L160.6 789.1L134.5 621.7L182.2 794.0L86.7 793.2L146.1 792.7L148.2 651.2L138.0 800.5L202.1 727.1L124.6 655.0L152.9 598.3L162.8 664.1L218.6 778.4L75.8 798.5L174.2 755.0L91.7 794.2L62.5 699.7L102.9 793.8L196.5 705.6L70.1 785.5L132.3 775.2L168.5 704.3L164.8 760.6L174.3 737.0L172.6 647.8L167.3 751.5L160.0 687.4L131.4 629.9L73.8 756.7L195.9 770.8L109.1 793.7L182.3 729.7L194.9 734.1L150.2 762.6L76.9 613.9L164.8 798.3L142.8 785.6L170.2 642.6L65.4 749.4L152.1 796.3L100.3 793.4L71.1 795.7L139.6 761.9L134.5 618.0L175.6 648.5L180.7 607.3L72.3 710.1L163.8 790.6L169.1 737.7L141.2 631.1L157.0 720.8L131.9 698.2L67.1 783.1L182.5 798.4L157.1 698.8L74.7 798.9L187.9 756.3L136.6 647.9L167.0 740.7L195.0 766.4L48.4 781.9L159.0 747.6L188.3 764.7L190.5 797.0L168.6 665.7L185.7 741.1L164.3 747.2L158.6 785.0L157.4 792.7L182.1 673.3L207.3 789.4L147.1 707.9L130.2 795.4L141.7 647.1L140.5 798.4L105.8 791.3L154.4 793.4L188.3 737.7L165.7 733.3L179.0 605.0L131.8 794.1L181.6 737.9L170.1 778.8L132.5 780.0L61.2 615.2L161.9 682.4L160.0 660.8L51.1 776.3L161.6 689.3L143.0 724.5L166.8 668.8L69.8 669.9L194.4 769.2L202.9 596.3L128.7 605.8L196.1 696.3L62.0 698.0L169.8 711.1L76.9 797.3L171.9 798.3L92.9 792.6L193.6 798.4L165.9 733.3L203.4 794.2L137.0 797.9L215.0 798.2L157.5 738.6L186.3 771.2L124.7 650.2L194.9 646.7L181.8 782.6L66.5 668.0L78.3 791.4L178.9 711.4L205.3 616.8L160.4 658.3L128.1 796.2L61.1 789.5L190.1 761.8L60.9 790.4L117.6 726.4L166.0 716.8L147.7 788.2L148.7 786.1L195.1 727.5L175.1 692.9L156.8 634.9L200.2 785.5L194.6 740.6L118.8 794.8L155.5 696.6L218.0 788.9L71.0 799.9L196.3 720.5L137.3 648.5L214.5 796.5L154.7 644.6L189.3 787.5L206.5 733.4L184.4 781.7L62.2 781.5L94.3 788.2L155.0 753.3L114.1 773.1L208.0 794.9L56.5 797.6L80.5 802.8L94.5 658.9L161.2 703.7L173.2 662.1L151.7 791.8L96.2 692.8L205.0 731.6L117.1 787.8L123.9 792.5L158.7 791.1L77.1 796.5L105.7 795.2L66.3 776.9L102.8 797.4L62.2 794.2L64.0 671.5L192.0 780.4L173.2 760.5L126.4 714.8L128.3 793.0L64.7 783.3L61.6 679.5L127.0 797.7L196.9 704.6L97.4 794.7L164.2 802.6L159.7 608.2L61.0 765.0L105.4 692.8L79.9 791.1L153.1 626.3L107.4 794.8L72.4 796.9L170.3 617.5L187.7 755.1L145.4 755.2L183.8 674.4L187.0 703.1L172.5 755.2L71.6 802.9L156.8 626.9L165.3 653.2L169.7 714.2L56.9 780.9L217.6 791.5L134.5 628.3L61.0 776.6L170.0 721.3L57.7 744.7L162.5 632.7L165.8 741.2L190.2 708.3L59.1 745.1L91.2 790.1L162.4 772.2L198.0 798.3L163.5 598.0L152.1 677.7L118.0 718.9L69.3 783.4L146.2 693.9L163.2 595.3L183.3 774.9L219.7 797.6L171.9 663.0L178.7 765.3L139.5 765.4L173.3 719.9L187.6 706.0L201.6 791.3L180.5 754.4L187.2 591.1L61.4 776.0L147.9 721.8L196.7 729.4L149.3 742.9L150.0 632.5L198.2 748.1L78.1 796.3L180.1 794.2L85.9 792.6L59.5 799.3L186.2 795.2L163.7 695.8L184.6 796.7L75.4 699.0L139.1 796.6L193.9 723.0L193.3 761.6L177.5 709.0L126.7 791.8L175.8 727.5L67.0 798.4L175.3 709.6L127.4 792.4L104.7 659.8L68.6 797.3L165.6 764.6L179.9 761.6L191.4 705.1L125.8 700.8L89.8 797.2L210.2 624.2L79.5 802.2L97.0 793.0L176.9 677.7L57.3 785.8L158.6 758.8L185.3 719.1L81.6 800.8L199.2 725.7L70.2 758.7L111.6 791.6L206.8 753.1L130.7 647.7L183.4 618.3L169.8 758.1L92.1 792.0L110.2 802.0L163.6 786.5L191.3 713.6L208.8 797.8L58.5 800.6L70.3 802.7L171.5 723.1L202.6 795.2L179.7 730.4L155.0 795.7L68.5 791.3L152.8 639.6L90.2 639.9L112.6 795.8L69.3 793.1L167.7 757.1L163.6 759.5L157.4 692.7L122.0 796.1L191.0 604.8L68.1 747.7L181.1 790.3L155.1 744.3L191.8 609.1L177.2 611.4L186.0 602.1L132.3 725.9L64.6 784.8L186.3 752.8L112.2 637.1L127.6 790.7L143.4 790.4L210.8 608.0L80.4 795.9L162.4 723.7L76.3 798.6L199.2 720.0L180.1 727.7L84.4 793.5L177.4 791.7L176.9 796.4L63.6 699.6L74.6 664.1L130.3 794.3L184.9 738.3L178.4 709.9L206.7 751.8L72.9 793.2L139.8 702.7L157.9 756.8L60.9 661.9L81.0 798.4L66.0 796.2L60.0 667.3L192.2 740.3L142.3 710.2L170.0 619.5L177.6 712.7L154.8 794.6L151.2 716.2L60.5 793.8L154.3 705.3L117.0 790.1L153.5 626.5L195.4 714.9L155.4 765.6L178.5 776.8L180.9 762.0L113.2 792.0L199.3 647.8L64.9 785.0L177.5 737.7L176.8 788.2L153.1 648.4L181.8 762.2L92.5 727.2L172.3 735.0L170.7 598.1L65.3 792.4L170.9 799.3L181.9 593.8L68.5 784.5L173.2 790.4L159.6 733.7L181.5 749.0L122.4 789.4L92.6 794.1L209.7 795.5L120.1 727.4L138.4 609.0L153.8 665.9L146.0 731.8L118.3 771.4L177.1 719.0L180.1 734.3L177.5 752.4L65.0 781.7L151.9 789.6L165.6 660.2L62.2 770.7L112.0 790.1L58.2 782.3L76.5 797.0L61.5 785.1L169.2 715.0L64.8 782.9L82.3 792.0L203.7 599.8L192.2 777.2L169.5 766.7L187.7 640.5L60.5 781.6L146.0 603.0L171.9 754.5L193.1 759.5L196.6 609.6L180.5 720.0L82.5 770.3L134.2 737.0L217.3 793.0L186.5 616.7L154.6 607.5L131.9 739.8L192.9 739.1L185.1 789.5L62.3 664.3L183.8 717.9L162.9 764.9L156.1 759.8L167.5 756.4L126.7 671.3L71.1 800.5L182.8 744.9L154.4 797.2L214.7 784.3L184.9 721.1L215.6 796.6L146.4 678.7L138.2 791.8L152.2 674.6L94.2 794.2L188.7 626.8L123.6 699.1L194.5 732.3L153.8 716.1L57.6 708.7L206.0 633.3L223.0 620.2L182.1 633.0L157.6 792.7L165.8 754.9L107.2 795.2L166.1 656.8L192.2 688.0L150.9 713.2L166.1 712.9L62.7 798.2L182.5 766.0L191.1 739.2L165.1 710.9L176.7 724.7L53.1 760.0L187.1 756.3L55.8 798.1L76.1 803.2L79.6 792.8L167.4 612.9L57.5 687.1L194.2 766.0L72.7 797.8L160.7 703.8L167.2 734.2L180.8 678.1L190.8 747.5L176.7 611.4L140.3 696.8L63.3 801.7L193.8 745.7L60.4 781.1L160.1 737.9L163.3 645.0L179.0 621.4L76.3 792.0L107.8 627.8L75.0 795.7L183.2 797.5L193.1 682.9L54.2 801.1L182.8 756.5L63.5 777.8L188.7 762.0L92.3 631.9L81.7 789.2L173.6 607.3L218.2 609.2L187.8 775.6L160.4 692.5L62.3 775.1L163.5 721.5L77.4 665.5L149.7 675.4L142.0 767.7L180.5 781.6L160.7 789.3L147.9 775.6L209.7 802.5L189.1 799.0L172.0 700.3L176.4 803.1L173.6 776.6L194.7 765.8L182.7 639.4L71.2 803.1L201.9 641.5L54.3 765.9L188.7 751.2L181.5 769.8L173.7 714.1L60.1 774.3L186.3 768.9L77.5 791.0L59.1 781.4L202.4 751.4L59.6 722.5L170.4 758.4L93.6 792.9L112.3 787.7L92.5 794.4L182.7 771.2L193.8 729.9L161.8 616.5L182.3 602.9L168.4 796.1L151.2 791.5L161.0 797.7L189.4 744.5L160.2 724.0L77.9 792.3L180.3 751.8L198.9 670.6L118.5 802.0L71.6 787.0L105.9 795.7L166.9 729.6L185.8 673.0L144.7 786.4L80.7 797.9L95.6 793.8L108.1 615.4L163.8 687.2L146.2 708.8L204.7 788.7L196.6 671.3L68.4 790.7L129.6 781.3L177.8 773.8L192.3 674.5L162.3 794.4L179.1 694.7L197.1 600.2L115.1 788.3L188.7 714.1L120.5 749.5L174.8 794.0L188.5 709.5L118.4 751.8L116.2 800.6L58.5 737.9L158.6 674.7L168.0 712.7L133.5 793.2L217.6 797.2L60.4 683.7L194.5 626.8L150.8 728.0L107.3 783.1L69.0 790.4L107.5 794.1L131.6 598.7L167.8 794.8L168.7 740.9L61.4 615.9L173.6 667.1L94.0 758.6L147.5 788.4L73.6 614.4L71.0 792.4L97.4 792.6L132.1 774.0L182.4 708.0L131.5 653.4L195.5 736.0L176.6 777.0L184.8 717.1L180.1 723.1L162.0 785.7L170.2 764.8L59.5 799.5L208.9 614.7L59.5 798.3L105.4 794.2L127.6 613.0L169.7 596.7L203.4 646.1L147.5 797.7L128.5 791.1L187.4 739.8L91.9 685.9L69.8 798.2L147.8 678.0L161.0 604.0L169.3 754.1L155.0 798.3L152.8 756.1L181.6 792.3L165.4 774.6L167.9 733.4L170.3 715.0L144.2 747.5L185.9 715.5L70.9 798.2L171.5 674.1L187.7 758.7L167.2 768.9L163.1 689.9L168.7 796.7L108.2 607.6L177.1 703.5L55.9 633.0L64.1 797.7L178.3 760.8L146.2 711.6L201.2 722.1L158.0 791.6L201.6 773.6L199.3 727.8L129.7 797.0L63.5 799.6L61.0 794.2L162.9 767.7L65.6 780.1L161.5 747.0L152.1 799.8L196.0 744.5L128.9 708.3L195.4 652.2L149.4 705.1L208.7 749.9L60.4 619.7L195.1 725.2L150.4 611.2L194.6 759.8L110.7 796.1L163.2 787.0L184.4 743.4L183.7 712.2L153.4 746.8L171.0 785.3L206.3 789.9L65.1 784.6" fill="none" stroke="none" marker-start="url(#pt)" marker-mid="url(#pt)" marker-end="url(#pt)"/>
<ellipse cx="60.4" cy="794.4" rx="3.2" ry="4.7" transform="rotate(32 60.4 794.4)" fill="#F8766D"/>
<ellipse cx="60.4" cy="794.4" rx="3.2" ry="4.7" transform="rotate(32 60.4 794.4)" fill="none" stroke="#E0605A" stroke-width="0.8"/>
<ellipse cx="60.7" cy="794.0" rx="1.7" ry="2.7" transform="rotate(32 60.7 794)" fill="none" stroke="#E0605A" stroke-width="0.7"/>
<path d="M86.7 802.5C86.9 797.7 87.1 792.7 87.4 788.0C87.7 783.5 88.1 779.2 88.5 775.0C88.9 771.2 88.9 767.9 89.6 764.0C90.4 759.4 92.1 754.0 93.3 749.0C94.5 744.0 96.0 739.0 97.0 734.0C98.0 729.2 99.0 724.4 99.2 719.6C99.4 714.7 99.0 709.1 98.4 704.8C97.9 701.5 97.1 699.1 96.3 696.0C95.4 692.6 93.8 689.1 93.1 685.4C92.3 681.4 91.8 676.4 92.0 672.6C92.2 669.5 93.1 664.1 93.7 664.1C94.5 664.1 95.3 672.3 96.3 676.9C97.5 682.2 98.8 690.2 100.6 693.9C101.6 695.9 102.8 698.3 103.8 698.2C105.3 698.0 106.6 691.1 108.0 687.5C109.4 684.0 110.6 679.0 112.3 676.9C113.3 675.7 114.6 674.4 115.5 674.7C117.0 675.2 117.9 681.3 118.7 685.4C119.8 690.8 120.2 697.4 120.8 704.6C121.6 713.9 122.3 725.9 122.9 736.5C123.5 747.2 124.1 757.7 124.4 768.5C124.8 779.7 124.8 791.2 125.0 802.5" fill="none" stroke="#A3A500" stroke-width="1.10" stroke-opacity="1.00" stroke-linejoin="round"/>
<path d="M87.5 802.5C87.7 796.7 87.8 790.9 88.0 785.0C88.2 779.0 87.5 771.7 88.8 767.0C89.7 763.7 91.1 761.0 93.0 759.0C94.7 757.2 97.5 754.5 99.2 755.0C101.2 755.5 102.2 764.0 103.6 764.0C104.8 764.0 105.7 759.8 107.0 758.0C108.2 756.3 109.8 753.5 111.0 753.6C112.1 753.7 113.1 756.3 114.0 758.0C115.1 760.1 115.5 763.8 116.9 765.5C118.0 766.8 120.0 766.7 121.0 768.0C122.2 769.6 122.4 771.9 122.8 775.0C123.6 781.1 123.1 793.3 123.2 802.5" fill="none" stroke="#A3A500" stroke-width="1.00" stroke-opacity="1.00" stroke-linejoin="round"/>
<path d="M88.8 802.5C88.7 800.0 88.5 798.1 88.5 795.0C88.6 790.0 87.9 779.2 89.7 775.5C90.6 773.6 92.0 772.4 93.5 772.0C95.2 771.5 97.5 773.4 99.5 773.3C101.5 773.2 103.5 771.5 105.5 771.5C107.5 771.5 109.3 772.8 111.5 773.0C114.1 773.2 118.5 771.3 120.3 772.3C121.6 773.0 121.8 774.4 122.3 776.5C123.4 781.4 122.4 793.8 122.5 802.5" fill="none" stroke="#A3A500" stroke-width="0.90" stroke-opacity="1.00" stroke-linejoin="round"/>
<path d="M89.4 802.5C89.3 800.0 89.0 798.0 89.1 795.0C89.2 790.7 88.7 782.2 90.3 779.0C91.2 777.2 92.6 775.9 94.1 775.5C95.8 775.0 98.1 776.9 100.1 776.8C102.1 776.7 104.1 775.0 106.1 775.0C108.1 775.0 110.0 776.3 112.1 776.5C114.4 776.7 117.9 774.9 119.4 775.8C120.6 776.5 120.9 778.0 121.4 780.0C122.4 784.5 121.5 795.0 121.6 802.5" fill="none" stroke="#A3A500" stroke-width="0.90" stroke-opacity="1.00" stroke-linejoin="round"/>
<path d="M90.0 802.5C89.9 800.0 89.6 797.8 89.7 795.0C89.8 791.4 89.5 785.2 90.9 782.5C91.8 780.7 93.2 779.4 94.7 779.0C96.4 778.5 98.7 780.4 100.7 780.3C102.7 780.2 104.7 778.5 106.7 778.5C108.7 778.5 110.7 779.9 112.7 780.0C114.6 780.1 117.2 778.6 118.5 779.3C119.7 779.9 120.0 781.5 120.5 783.5C121.4 787.5 120.6 796.2 120.7 802.5" fill="none" stroke="#A3A500" stroke-width="0.90" stroke-opacity="1.00" stroke-linejoin="round"/>
<path d="M90.6 802.5C90.5 800.0 90.2 797.6 90.3 795.0C90.4 792.1 90.4 788.2 91.5 786.0C92.4 784.4 93.8 782.9 95.3 782.5C97.0 782.0 99.3 783.9 101.3 783.8C103.3 783.7 105.3 782.0 107.3 782.0C109.3 782.0 111.5 783.4 113.3 783.5C114.8 783.6 116.6 782.3 117.6 782.8C118.7 783.4 119.2 785.1 119.6 787.0C120.4 790.5 119.7 797.3 119.8 802.5" fill="none" stroke="#A3A500" stroke-width="0.90" stroke-opacity="1.00" stroke-linejoin="round"/>
<path d="M91.2 802.5C91.1 800.0 90.7 797.3 90.9 795.0C91.1 793.0 91.2 791.0 92.1 789.5C92.9 788.0 94.4 786.4 95.9 786.0C97.6 785.5 99.9 787.4 101.9 787.3C103.9 787.2 105.9 785.5 107.9 785.5C109.9 785.5 112.3 787.0 113.9 787.0C115.0 787.0 115.9 785.9 116.7 786.3C117.7 786.8 118.3 788.7 118.7 790.5C119.4 793.4 118.8 798.5 118.9 802.5" fill="none" stroke="#A3A500" stroke-width="0.90" stroke-opacity="1.00" stroke-linejoin="round"/>
<path d="M90.0 799.5C92.7 799.8 95.2 800.4 98.0 800.5C101.1 800.6 104.7 800.2 108.0 800.2C111.3 800.2 115.5 801.0 118.0 800.8C119.5 800.7 120.3 800.3 121.5 800.0" fill="none" stroke="#A3A500" stroke-width="0.90" stroke-opacity="1.00" stroke-linejoin="round"/>
<path d="M117.8 786.5C118.5 786.5 119.3 787.2 119.8 787.8C120.3 788.6 120.6 789.8 120.8 790.9C121.0 792.0 121.0 793.2 120.8 794.2C120.6 795.1 120.2 796.1 119.6 796.6C119.1 797.1 118.4 797.5 117.8 797.5C117.2 797.5 116.5 797.1 116.0 796.6C115.4 796.1 115.0 795.1 114.8 794.2C114.6 793.2 114.6 792.0 114.8 790.9C115.0 789.8 115.3 788.6 115.8 787.8C116.3 787.2 117.2 786.5 117.8 786.5Z" fill="none" stroke="#A3A500" stroke-width="0.90" stroke-opacity="1.00" stroke-linejoin="round"/>
<rect x="86.4" y="777.0" width="6.2" height="25.6" fill="#A3A500" fill-opacity="0.38"/>
<path d="M85.9 772.0C85.9 773.3 85.9 774.5 86.0 775.8C86.2 777.1 86.5 778.4 86.6 779.6C86.7 780.9 86.5 782.2 86.4 783.4C86.3 784.7 85.9 786.0 85.9 787.2C85.9 788.5 86.2 789.8 86.2 791.1C86.3 792.3 86.3 793.6 86.3 794.9C86.2 796.1 85.9 797.4 86.0 798.7C86.0 800.0 86.3 801.2 86.5 802.5" fill="none" stroke="#A3A500" stroke-width="0.70" stroke-opacity="1.00" stroke-linejoin="round"/>
<path d="M87.1 772.0C87.2 773.3 87.3 774.5 87.4 775.8C87.5 777.1 87.5 778.4 87.5 779.6C87.5 780.9 87.4 782.2 87.4 783.4C87.4 784.7 87.5 786.0 87.6 787.2C87.6 788.5 87.7 789.8 87.7 791.1C87.8 792.3 88.0 793.6 88.0 794.9C87.9 796.2 87.3 797.4 87.3 798.7C87.2 800.0 87.5 801.2 87.6 802.5" fill="none" stroke="#A3A500" stroke-width="0.70" stroke-opacity="1.00" stroke-linejoin="round"/>
<path d="M88.9 772.0C88.8 773.3 88.6 774.5 88.5 775.8C88.4 777.1 88.1 778.4 88.2 779.6C88.3 780.9 89.1 782.2 89.2 783.4C89.2 784.7 88.6 786.0 88.5 787.2C88.4 788.5 88.4 789.8 88.5 791.1C88.6 792.3 89.0 793.6 89.1 794.9C89.1 796.1 88.9 797.4 88.8 798.7C88.7 800.0 88.7 801.2 88.7 802.5" fill="none" stroke="#A3A500" stroke-width="0.70" stroke-opacity="1.00" stroke-linejoin="round"/>
<path d="M90.2 772.0C89.9 773.3 89.4 774.5 89.4 775.8C89.4 777.1 90.1 778.4 90.1 779.6C90.2 780.9 89.9 782.2 89.8 783.4C89.7 784.7 89.4 786.0 89.5 787.2C89.5 788.5 89.9 789.8 90.1 791.1C90.2 792.3 90.4 793.6 90.3 794.9C90.3 796.2 89.7 797.4 89.6 798.7C89.6 800.0 89.9 801.2 90.0 802.5" fill="none" stroke="#A3A500" stroke-width="0.70" stroke-opacity="1.00" stroke-linejoin="round"/>
<path d="M90.9 772.0C91.0 773.3 91.3 774.5 91.3 775.8C91.4 777.1 91.4 778.4 91.3 779.6C91.2 780.9 90.8 782.2 90.8 783.4C90.8 784.7 91.4 786.0 91.4 787.2C91.5 788.5 91.3 789.8 91.3 791.1C91.2 792.3 91.3 793.6 91.3 794.9C91.3 796.1 91.5 797.4 91.4 798.7C91.4 800.0 91.2 801.2 91.0 802.5" fill="none" stroke="#A3A500" stroke-width="0.70" stroke-opacity="1.00" stroke-linejoin="round"/>
<path d="M92.6 772.0C92.6 773.3 92.8 774.5 92.7 775.8C92.6 777.1 91.9 778.4 91.9 779.6C91.9 780.9 92.6 782.2 92.6 783.4C92.7 784.7 92.3 786.0 92.2 787.2C92.1 788.5 92.3 789.8 92.3 791.1C92.2 792.3 91.9 793.6 91.9 794.9C92.0 796.1 92.5 797.4 92.5 798.7C92.5 800.0 92.2 801.2 92.1 802.5" fill="none" stroke="#A3A500" stroke-width="0.70" stroke-opacity="1.00" stroke-linejoin="round"/>
<path d="M125.3 802.5C125.3 791.7 125.3 781.4 125.3 770.0C125.3 757.4 125.3 741.5 125.3 730.0C125.3 721.3 124.9 714.7 125.3 707.2C125.7 700.0 126.3 692.3 127.5 685.9C128.5 680.4 130.4 675.6 131.7 671.0C132.8 667.1 133.4 662.4 134.9 660.3C135.8 659.1 137.0 658.5 138.1 658.2C139.1 658.0 140.1 658.9 141.0 658.5C142.3 657.9 143.6 656.2 144.5 653.9C146.2 649.5 145.9 640.0 146.6 632.6C147.4 624.5 147.7 613.1 148.8 607.0C149.4 603.5 149.8 600.5 151.0 599.0C151.8 598.0 152.9 597.6 154.0 597.5C155.1 597.4 156.6 597.6 157.5 598.5C158.7 599.7 159.0 601.9 159.5 605.0C160.6 612.0 160.1 626.8 160.3 640.0C160.5 657.3 160.4 680.0 160.5 700.0" fill="none" stroke="#00BF7D" stroke-width="1.10" stroke-opacity="1.00" stroke-linejoin="round"/>
<path d="M128.8 802.5C129.0 798.3 129.0 794.3 129.5 790.0C130.0 785.2 130.8 779.9 132.0 775.0C133.3 770.0 135.8 765.8 137.0 760.4C138.4 754.0 138.7 746.2 139.2 739.1C139.7 732.0 139.9 724.9 140.2 717.8C140.6 710.7 140.6 703.6 141.3 696.5C142.0 689.4 143.4 682.3 144.5 675.2C145.6 668.1 146.8 661.0 147.7 653.9C148.6 646.8 148.5 638.1 149.8 632.6C150.6 629.0 151.5 624.9 153.0 624.0C153.9 623.5 155.4 623.8 156.2 624.5C157.5 625.6 157.9 628.7 158.5 632.0C159.6 638.3 159.3 648.9 159.6 660.0C160.0 676.2 159.9 700.0 160.0 720.0" fill="none" stroke="#00BF7D" stroke-width="1.00" stroke-opacity="1.00" stroke-linejoin="round"/>
<path d="M132.0 802.5C132.3 798.3 132.1 794.1 133.0 790.0C133.9 785.9 135.9 781.5 137.5 778.0C138.9 775.0 140.7 772.8 142.0 770.0C143.4 767.0 144.8 764.6 145.6 760.4C147.1 752.9 146.3 739.1 146.6 728.5C147.0 717.8 147.1 706.1 147.7 696.5C148.2 688.7 148.9 682.3 149.8 675.2C150.7 668.1 151.6 659.3 153.0 653.9C153.9 650.4 155.2 645.5 156.2 645.4C157.0 645.4 157.9 647.7 158.5 650.0C159.9 655.5 159.1 668.3 159.3 680.0C159.6 696.6 159.5 720.0 159.6 740.0" fill="none" stroke="#00BF7D" stroke-width="1.00" stroke-opacity="1.00" stroke-linejoin="round"/>
<path d="M155.2 675 C154.8 666 156.5 662 158 662.5 C159.5 664 159.6 672 159.2 679.5 C157.5 680.5 155.6 679 155.2 675Z" fill="#00BF7D" fill-opacity="0.8"/>
<path d="M130.0 802.5C130.1 789.0 128.8 769.9 130.3 762.0C130.9 758.6 131.6 756.5 133.0 755.0C134.1 753.8 135.7 752.8 137.0 753.0C138.7 753.3 140.4 758.0 142.0 758.0C143.6 758.0 145.0 753.0 146.5 753.0C147.9 753.0 149.2 757.0 150.5 757.0C151.9 757.0 153.1 752.6 154.5 752.5C155.8 752.4 157.3 753.8 158.3 756.0C161.2 762.5 158.6 787.0 158.8 802.5" fill="none" stroke="#00BF7D" stroke-width="0.90" stroke-opacity="1.00" stroke-linejoin="round"/>
<path d="M131.8 802.5C131.9 791.0 130.8 775.1 132.1 768.0C132.7 764.7 133.4 762.5 134.8 761.0C135.9 759.8 137.7 758.7 138.8 759.0C140.1 759.4 140.8 763.9 142.0 764.0C143.3 764.1 145.0 759.0 146.5 759.0C147.9 759.0 149.2 763.0 150.5 763.0C151.9 763.0 153.1 758.6 154.5 758.5C155.8 758.4 157.4 759.9 158.3 762.0C161.0 768.0 158.6 789.0 158.8 802.5" fill="none" stroke="#00BF7D" stroke-width="0.90" stroke-opacity="1.00" stroke-linejoin="round"/>
<path d="M133.6 802.5C133.7 793.0 132.7 780.2 133.9 774.0C134.5 770.8 135.2 768.5 136.6 767.0C137.7 765.8 139.7 764.6 140.6 765.0C141.6 765.4 141.1 769.8 142.0 770.0C143.0 770.2 145.0 765.0 146.5 765.0C147.9 765.0 149.2 769.0 150.5 769.0C151.9 769.0 153.1 764.6 154.5 764.5C155.8 764.4 157.4 765.9 158.3 768.0C160.7 773.4 158.6 791.0 158.8 802.5" fill="none" stroke="#00BF7D" stroke-width="0.90" stroke-opacity="1.00" stroke-linejoin="round"/>
<path d="M135.4 802.5C135.5 795.0 134.7 785.3 135.7 780.0C136.3 776.9 137.0 774.5 138.4 773.0C139.5 771.8 141.8 770.6 142.4 771.0C143.1 771.4 141.5 775.8 142.0 776.0C142.6 776.3 145.0 771.0 146.5 771.0C147.9 771.0 149.2 775.0 150.5 775.0C151.9 775.0 153.1 770.6 154.5 770.5C155.8 770.4 157.4 772.0 158.3 774.0C160.4 778.8 158.6 793.0 158.8 802.5" fill="none" stroke="#00BF7D" stroke-width="0.90" stroke-opacity="1.00" stroke-linejoin="round"/>
<path d="M137.2 802.5C137.3 797.0 136.7 790.3 137.5 786.0C138.1 783.1 138.8 780.5 140.2 779.0C141.3 777.8 143.8 776.6 144.2 777.0C144.6 777.4 141.7 781.8 142.0 782.0C142.3 782.2 145.0 777.0 146.5 777.0C147.9 777.0 149.2 781.0 150.5 781.0C151.9 781.0 153.1 776.6 154.5 776.5C155.8 776.4 157.4 778.0 158.3 780.0C160.1 784.1 158.6 795.0 158.8 802.5" fill="none" stroke="#00BF7D" stroke-width="0.90" stroke-opacity="1.00" stroke-linejoin="round"/>
<path d="M141.1 785.2C141.8 785.2 142.7 785.7 143.2 786.2C143.7 786.8 144.1 787.8 144.3 788.6C144.5 789.4 144.5 790.4 144.3 791.2C144.1 791.9 143.6 792.6 143.0 793.0C142.5 793.4 141.7 793.7 141.1 793.7C140.5 793.7 139.7 793.4 139.2 793.0C138.6 792.6 138.1 791.9 137.9 791.2C137.7 790.4 137.7 789.4 137.9 788.6C138.1 787.8 138.5 786.8 139.0 786.2C139.5 785.7 140.4 785.2 141.1 785.2Z" fill="none" stroke="#00BF7D" stroke-width="0.90" stroke-opacity="1.00" stroke-linejoin="round"/>
<path d="M150.6 785.2C151.5 785.2 152.7 785.7 153.4 786.4C154.1 787.0 154.7 788.2 154.9 789.2C155.1 790.1 155.2 791.3 154.9 792.1C154.6 793.0 153.9 793.8 153.2 794.3C152.5 794.8 151.5 795.1 150.6 795.1C149.8 795.1 148.8 794.8 148.1 794.3C147.4 793.8 146.7 793.0 146.4 792.1C146.1 791.3 146.2 790.1 146.4 789.2C146.6 788.2 147.2 787.0 147.9 786.4C148.6 785.7 149.7 785.2 150.6 785.2Z" fill="none" stroke="#00BF7D" stroke-width="0.90" stroke-opacity="1.00" stroke-linejoin="round"/>
<rect x="121.8" y="770.5" width="6.7" height="31.9" fill="#3DB04A" fill-opacity="0.60"/>
<path d="M122.7 768.0C122.6 769.4 122.3 770.9 122.3 772.3C122.3 773.8 122.8 775.2 122.8 776.6C122.7 778.1 121.9 779.5 121.9 780.9C121.8 782.4 122.4 783.8 122.4 785.2C122.5 786.7 122.1 788.1 122.2 789.6C122.2 791.0 122.6 792.4 122.6 793.9C122.6 795.3 122.0 796.8 122.0 798.2C122.0 799.6 122.4 801.1 122.7 802.5" fill="none" stroke="#8BC34A" stroke-width="0.60" stroke-opacity="1.00" stroke-linejoin="round"/>
<path d="M124.1 768.0C124.3 769.4 124.5 770.9 124.5 772.3C124.5 773.8 124.2 775.2 124.1 776.6C124.0 778.1 124.0 779.5 124.0 780.9C124.1 782.4 124.3 783.8 124.4 785.2C124.5 786.7 124.7 788.1 124.6 789.6C124.5 791.0 124.0 792.4 124.0 793.9C124.0 795.3 124.5 796.7 124.6 798.2C124.7 799.6 124.5 801.1 124.5 802.5" fill="none" stroke="#8BC34A" stroke-width="0.60" stroke-opacity="1.00" stroke-linejoin="round"/>
<path d="M125.6 768.0C125.7 769.4 125.9 770.9 126.0 772.3C126.1 773.7 126.0 775.2 126.1 776.6C126.2 778.1 126.3 779.5 126.3 780.9C126.3 782.4 126.2 783.8 126.1 785.2C125.9 786.7 125.6 788.1 125.5 789.6C125.5 791.0 125.8 792.4 125.9 793.9C126.0 795.3 125.9 796.8 125.9 798.2C125.9 799.6 125.9 801.1 125.9 802.5" fill="none" stroke="#8BC34A" stroke-width="0.60" stroke-opacity="1.00" stroke-linejoin="round"/>
<path d="M128.2 768.0C128.0 769.4 127.7 770.9 127.5 772.3C127.4 773.7 127.4 775.2 127.4 776.6C127.5 778.1 127.7 779.5 127.7 780.9C127.8 782.4 127.8 783.8 127.8 785.2C127.9 786.7 128.1 788.1 128.1 789.6C128.1 791.0 127.9 792.4 127.8 793.9C127.7 795.3 127.4 796.8 127.5 798.2C127.5 799.6 127.9 801.1 128.1 802.5" fill="none" stroke="#8BC34A" stroke-width="0.60" stroke-opacity="1.00" stroke-linejoin="round"/>
<path d="M160.7 802.5C160.7 768.3 160.6 729.6 160.6 700.0C160.6 677.3 160.6 655.2 160.8 640.0C160.9 630.7 160.9 624.7 161.4 617.6C161.9 611.1 162.1 604.2 163.5 599.1C164.5 595.2 165.7 591.5 167.8 589.2C169.5 587.3 171.8 586.5 174.1 585.7C176.7 584.9 179.8 584.7 182.7 584.7C185.5 584.7 189.4 584.6 191.2 585.7C192.4 586.5 192.8 587.6 193.3 589.2C194.1 591.7 193.8 594.6 194.0 600.0C194.6 616.5 194.2 666.5 194.2 700.0C194.2 734.0 194.2 768.3 194.2 802.5" fill="none" stroke="#00B0F6" stroke-width="1.10" stroke-opacity="1.00" stroke-linejoin="round"/>
<path d="M162.3 802.5C162.3 768.3 162.3 730.7 162.4 700.0C162.4 675.0 162.1 649.6 162.6 631.8C162.9 620.3 162.6 610.5 164.2 603.4C165.2 598.9 166.5 594.4 168.5 592.8C169.7 591.8 171.1 592.2 172.7 592.0C174.8 591.7 177.4 591.2 179.8 591.3C182.2 591.4 184.7 592.4 186.9 592.8C188.7 593.1 190.8 592.4 191.9 593.5C193.5 595.1 192.9 598.4 193.3 603.4C194.4 619.0 193.5 667.3 193.5 700.0C193.5 733.7 193.5 768.3 193.5 802.5" fill="none" stroke="#00B0F6" stroke-width="1.00" stroke-opacity="1.00" stroke-linejoin="round"/>
<path d="M164.6 802.5C164.7 788.3 164.7 771.5 164.9 760.0C165.1 752.1 165.5 747.8 165.6 740.0C165.7 729.0 165.1 714.7 165.0 700.0C164.9 682.0 164.8 657.3 164.9 640.0C165.0 626.8 164.2 612.3 165.5 605.0C166.1 601.5 166.3 598.8 168.0 597.5C169.6 596.2 172.6 597.0 175.0 596.8C177.6 596.6 180.4 596.3 183.0 596.3C185.4 596.3 188.4 595.7 190.0 597.0C191.7 598.4 191.9 600.8 192.6 605.0C194.9 619.2 192.8 667.7 192.8 700.0C192.8 733.5 192.6 768.3 192.5 802.5" fill="none" stroke="#00B0F6" stroke-width="1.00" stroke-opacity="1.00" stroke-linejoin="round"/>
<path d="M183.2 597.0C184.8 597.2 186.2 598.6 187.1 600.1C188.5 602.1 188.8 605.7 189.4 609.0C190.2 613.1 190.7 618.0 191.3 622.9C191.9 628.4 192.7 634.4 193.0 640.4C193.4 646.7 193.4 653.4 193.4 659.9C193.3 666.3 193.0 673.0 192.7 679.3C192.4 685.3 192.3 691.3 191.7 696.8C191.2 701.7 190.7 706.6 189.5 710.7C188.6 714.1 187.7 717.6 186.0 719.6C184.6 721.2 182.8 722.6 181.0 722.7C178.9 722.8 175.8 721.4 174.0 719.6C172.0 717.6 171.1 714.1 170.0 710.7C168.6 706.6 167.3 701.7 166.5 696.8C165.6 691.3 165.3 685.3 165.0 679.3C164.6 673.0 164.5 666.3 164.5 659.9C164.5 653.4 164.6 646.7 165.0 640.4C165.5 634.4 166.1 628.4 167.1 622.9C167.9 618.0 168.9 613.0 170.5 609.0C171.7 605.6 172.9 602.1 175.1 600.1C177.2 598.2 181.1 596.7 183.2 597.0Z" fill="none" stroke="#00B0F6" stroke-width="1.00" stroke-opacity="1.00" stroke-linejoin="round"/>
<path d="M183.2 600.8C184.7 601.0 185.9 602.3 186.9 603.7C188.2 605.6 188.8 608.9 189.5 612.0C190.3 615.9 190.7 620.4 191.1 625.0C191.6 630.2 192.0 635.8 192.2 641.4C192.4 647.3 192.3 653.5 192.4 659.6C192.4 665.7 192.6 671.9 192.4 677.8C192.1 683.4 191.7 689.0 191.1 694.2C190.6 698.8 190.1 703.4 189.0 707.2C188.1 710.3 187.2 713.6 185.5 715.5C184.3 717.0 182.6 718.3 181.0 718.4C179.3 718.5 176.9 717.1 175.4 715.5C173.7 713.6 172.9 710.3 171.9 707.2C170.8 703.4 170.0 698.8 169.4 694.2C168.6 689.0 168.1 683.4 167.8 677.8C167.4 671.9 167.3 665.7 167.3 659.6C167.3 653.5 167.2 647.3 167.6 641.4C167.9 635.8 168.6 630.2 169.5 625.0C170.2 620.4 170.7 615.8 172.1 612.0C173.3 608.8 174.7 605.6 176.8 603.7C178.5 602.1 181.4 600.6 183.2 600.8Z" fill="none" stroke="#00B0F6" stroke-width="1.00" stroke-opacity="1.00" stroke-linejoin="round"/>
<path d="M183.2 604.5C184.6 604.6 185.8 605.8 186.8 607.0C188.0 608.7 188.4 611.7 189.0 614.4C189.8 617.8 190.2 621.9 190.6 625.9C191.0 630.5 191.0 635.5 191.2 640.4C191.4 645.6 191.8 651.1 191.8 656.5C191.9 661.9 191.9 667.4 191.6 672.6C191.4 677.5 190.8 682.5 190.2 687.1C189.7 691.1 189.4 695.2 188.5 698.6C187.8 701.3 187.2 704.3 185.7 706.0C184.5 707.3 182.6 708.5 181.0 708.5C179.5 708.5 177.5 707.3 176.4 706.0C175.0 704.3 174.8 701.3 174.0 698.6C173.1 695.2 172.1 691.1 171.5 687.1C170.9 682.5 170.7 677.5 170.4 672.6C170.2 667.4 170.1 661.9 170.1 656.5C170.1 651.1 170.0 645.6 170.4 640.4C170.7 635.5 171.3 630.5 172.0 625.9C172.7 621.9 173.4 617.8 174.5 614.4C175.4 611.6 176.1 608.7 177.7 607.0C179.1 605.6 181.6 604.4 183.2 604.5Z" fill="none" stroke="#00B0F6" stroke-width="1.00" stroke-opacity="1.00" stroke-linejoin="round"/>
<path d="M183.2 611.9C184.4 612.0 185.6 613.0 186.4 614.1C187.5 615.6 188.1 618.1 188.6 620.5C189.3 623.4 189.2 627.0 189.5 630.5C189.8 634.4 190.4 638.7 190.6 643.0C190.8 647.5 190.7 652.3 190.7 656.9C190.6 661.6 190.6 666.4 190.3 670.9C190.1 675.2 189.9 679.5 189.4 683.4C189.0 687.0 188.4 690.5 187.6 693.4C186.9 695.8 186.4 698.3 185.1 699.8C184.0 701.0 182.2 702.1 181.0 702.0C179.9 701.9 178.9 700.9 178.1 699.8C177.1 698.3 176.4 695.8 175.8 693.4C175.1 690.5 174.8 686.9 174.4 683.4C173.9 679.5 173.5 675.2 173.3 670.9C173.1 666.4 173.1 661.6 173.1 657.0C173.1 652.3 173.2 647.5 173.4 643.0C173.7 638.7 173.9 634.4 174.5 630.5C175.0 626.9 175.6 623.4 176.4 620.5C177.1 618.1 177.4 615.6 178.7 614.1C179.8 612.9 181.9 611.8 183.2 611.9Z" fill="none" stroke="#00B0F6" stroke-width="1.00" stroke-opacity="1.00" stroke-linejoin="round"/>
<path d="M183.2 620.8C184.1 620.8 185.4 621.7 186.0 622.7C186.9 623.9 187.0 626.0 187.3 628.0C187.7 630.5 187.8 633.4 188.1 636.4C188.4 639.7 188.8 643.3 189.0 646.9C189.3 650.7 189.7 654.7 189.7 658.6C189.6 662.5 189.0 666.5 188.8 670.3C188.7 673.9 189.0 677.5 188.6 680.8C188.2 683.8 187.6 686.7 186.8 689.2C186.1 691.2 185.4 693.3 184.3 694.5C183.4 695.5 182.0 696.5 181.0 696.4C180.1 696.3 179.2 695.5 178.7 694.5C177.9 693.3 178.0 691.2 177.7 689.2C177.4 686.7 177.1 683.8 176.9 680.8C176.7 677.5 176.6 673.9 176.4 670.3C176.3 666.5 175.7 662.5 175.8 658.6C175.8 654.7 176.4 650.7 176.7 646.9C176.9 643.3 176.8 639.7 177.1 636.4C177.4 633.4 177.7 630.5 178.4 628.0C178.9 626.0 179.4 623.9 180.4 622.7C181.2 621.7 182.3 620.8 183.2 620.8Z" fill="none" stroke="#00B0F6" stroke-width="1.00" stroke-opacity="1.00" stroke-linejoin="round"/>
<path d="M183.2 637.0C183.8 637.0 184.4 637.7 184.8 638.4C185.5 639.3 186.0 640.8 186.4 642.3C186.8 644.1 186.9 646.3 187.1 648.5C187.4 650.9 187.4 653.6 187.6 656.3C187.8 659.1 188.3 662.0 188.3 664.9C188.3 667.8 188.1 670.7 187.8 673.5C187.6 676.2 187.3 678.9 186.9 681.3C186.5 683.5 186.1 685.7 185.4 687.5C184.9 689.0 184.5 690.5 183.7 691.4C183.0 692.2 181.7 692.9 181.0 692.8C180.5 692.7 180.1 692.1 179.9 691.4C179.5 690.5 179.8 688.9 179.7 687.5C179.5 685.6 179.2 683.5 179.1 681.3C179.1 678.9 179.5 676.2 179.5 673.5C179.5 670.7 179.2 667.8 179.1 664.9C179.0 662.0 179.0 659.1 179.1 656.3C179.3 653.6 179.7 650.9 179.9 648.5C180.1 646.3 180.2 644.1 180.5 642.3C180.7 640.9 180.9 639.3 181.5 638.4C181.9 637.7 182.6 637.0 183.2 637.0Z" fill="none" stroke="#00B0F6" stroke-width="1.00" stroke-opacity="1.00" stroke-linejoin="round"/>
<path d="M183.2 652.0C183.6 651.9 184.5 652.4 184.9 652.9C185.3 653.5 185.4 654.5 185.5 655.4C185.7 656.6 185.6 658.0 185.7 659.4C185.9 661.0 186.4 662.7 186.5 664.4C186.7 666.2 186.6 668.1 186.6 670.0C186.6 671.9 186.8 673.8 186.7 675.6C186.5 677.3 185.9 679.0 185.6 680.6C185.3 682.0 185.2 683.4 184.8 684.6C184.4 685.5 184.0 686.5 183.3 687.1C182.7 687.6 181.1 688.1 181.0 688.0C180.9 687.9 181.5 687.5 181.6 687.1C181.9 686.5 181.8 685.5 181.8 684.6C181.8 683.4 181.8 682.0 181.8 680.6C181.7 679.0 181.5 677.3 181.5 675.6C181.6 673.8 181.9 671.9 182.0 670.0C182.0 668.1 181.7 666.2 181.6 664.4C181.6 662.7 181.8 661.0 181.8 659.4C181.9 658.0 181.8 656.6 181.9 655.4C182.0 654.5 182.1 653.5 182.4 652.9C182.6 652.5 182.9 652.1 183.2 652.0Z" fill="none" stroke="#00B0F6" stroke-width="1.00" stroke-opacity="1.00" stroke-linejoin="round"/>
<path d="M167.5 802.5C167.3 791.7 166.8 779.5 167.0 770.0C167.1 762.5 168.0 756.7 168.0 750.0C168.0 743.3 166.9 735.1 167.3 730.0C167.6 726.7 168.3 724.5 169.0 722.0C169.6 719.8 170.3 718.0 171.0 716.0" fill="none" stroke="#00B0F6" stroke-width="1.00" stroke-opacity="1.00" stroke-linejoin="round"/>
<path d="M191.5 802.5C191.4 791.7 192.2 779.2 191.3 770.0C190.7 763.1 189.3 757.4 188.0 752.0C186.9 747.6 185.3 744.0 184.5 740.0C183.7 736.0 182.7 731.8 183.0 728.0C183.3 724.5 184.7 720.8 186.0 718.0C187.1 715.7 188.7 714.0 190.0 712.0" fill="none" stroke="#00B0F6" stroke-width="1.00" stroke-opacity="1.00" stroke-linejoin="round"/>
<path d="M165.5 801.0C165.4 795.7 165.0 790.0 165.3 785.0C165.6 780.4 166.1 775.8 167.0 772.0C167.8 769.0 168.8 764.3 170.0 764.0C170.9 763.8 172.1 767.2 173.0 767.0C174.2 766.8 174.8 760.2 176.0 760.0C177.1 759.8 178.9 765.2 180.0 765.0C181.2 764.8 182.0 758.0 183.0 758.0C184.0 758.0 184.9 763.9 186.0 764.0C186.9 764.1 188.2 759.8 189.0 760.0C190.1 760.3 190.6 766.3 191.0 770.0C191.5 774.5 191.4 779.9 191.5 785.0C191.6 790.2 191.4 795.7 191.3 801.0" fill="none" stroke="#00B0F6" stroke-width="1.00" stroke-opacity="1.00" stroke-linejoin="round"/>
<path d="M164.2 799.4C162.0 796.8 164.3 789.6 165.0 785.0C165.6 780.5 166.2 774.3 168.0 772.0C169.1 770.7 170.7 770.9 172.0 770.0C173.4 769.0 174.7 766.0 176.0 766.0C177.3 766.0 178.7 770.0 180.0 770.0C181.4 770.0 182.6 765.5 184.0 765.5C185.3 765.5 186.9 767.9 188.0 769.5C189.2 771.3 189.9 773.4 190.5 776.0C191.3 779.7 191.3 785.8 191.2 790.0C191.2 793.4 192.3 797.6 190.5 799.4C188.4 801.5 182.3 800.5 178.0 800.5C173.5 800.5 166.4 801.9 164.2 799.4Z" fill="none" stroke="#00B0F6" stroke-width="1.00" stroke-opacity="1.00" stroke-linejoin="round"/>
<path d="M178.0 776.0C180.6 776.0 183.7 777.1 185.7 778.5C187.6 780.0 189.1 782.4 189.8 784.5C190.4 786.5 190.6 789.0 189.8 790.8C189.0 792.7 187.0 794.4 185.1 795.5C183.1 796.6 180.4 797.2 178.0 797.2C175.7 797.2 173.0 796.6 171.0 795.5C169.1 794.4 167.1 792.7 166.3 790.8C165.5 789.0 165.7 786.5 166.3 784.5C167.0 782.4 168.5 780.0 170.4 778.5C172.4 777.1 175.5 776.0 178.0 776.0Z" fill="none" stroke="#00B0F6" stroke-width="1.00" stroke-opacity="1.00" stroke-linejoin="round"/>
<path d="M179.0 782.3C180.8 782.3 183.1 782.8 184.6 783.7C185.9 784.4 187.1 785.7 187.6 786.9C188.0 787.9 188.1 789.3 187.6 790.3C187.1 791.3 185.6 792.2 184.4 792.8C183.0 793.4 181.1 793.7 179.5 793.7C178.0 793.7 176.3 793.4 175.0 792.8C173.8 792.2 172.5 791.3 172.0 790.3C171.5 789.3 171.6 787.9 172.0 786.9C172.4 785.7 173.4 784.4 174.4 783.7C175.6 782.8 177.4 782.3 179.0 782.3Z" fill="none" stroke="#00B0F6" stroke-width="1.00" stroke-opacity="1.00" stroke-linejoin="round"/>
<path d="M163.0 802.7C173.0 802.7 183.0 802.7 193.0 802.7" fill="none" stroke="#00B0F6" stroke-width="1.00" stroke-opacity="1.00" stroke-linejoin="round"/>
<path d="M161.3 651.0C161.3 667.3 161.3 683.7 161.3 700.0" fill="none" stroke="#00B0F6" stroke-width="3.40" stroke-opacity="1.00" stroke-linejoin="round"/>
<rect x="159.5" y="662.0" width="3.6" height="140.6" fill="#00B0F6" fill-opacity="1.00"/>
<rect x="194.2" y="581.5" width="4.5" height="221.1" fill="#E76BF3" fill-opacity="1.00"/>
<path d="M195.8 590.0C196.0 587.7 195.7 584.5 196.5 583.0C197.1 582.0 198.0 581.2 199.0 581.0C200.1 580.8 201.7 582.0 203.0 582.0C204.2 582.0 205.7 580.6 206.5 581.2C207.8 582.1 206.8 588.2 208.0 590.0C208.7 591.1 210.0 591.9 211.0 592.0C211.9 592.1 212.9 590.7 213.6 591.0C214.6 591.4 215.4 593.8 216.0 596.0C217.0 599.4 217.5 604.1 217.8 610.0C218.3 619.9 216.9 635.9 217.0 650.0C217.1 665.7 218.4 682.6 218.5 700.0C218.6 719.1 217.4 741.7 217.5 760.0C217.6 775.4 218.2 788.3 218.5 802.5" fill="none" stroke="#E76BF3" stroke-width="1.00" stroke-opacity="1.00" stroke-linejoin="round"/>
<path d="M198.5 600.0C199.0 595.3 198.7 587.9 200.0 586.0C200.5 585.2 201.4 584.8 202.0 585.0C202.8 585.2 203.5 586.7 204.0 588.0C204.7 590.0 204.1 594.7 205.0 596.0C205.5 596.7 206.3 596.9 207.0 597.0C207.9 597.1 209.1 595.7 210.0 596.0C211.1 596.4 212.3 598.1 213.0 600.0C214.3 603.3 214.2 608.7 214.5 615.0C215.0 626.0 213.9 643.9 214.0 660.0C214.1 678.6 215.4 698.4 215.5 720.0C215.7 745.3 214.8 775.0 214.5 802.5" fill="none" stroke="#E76BF3" stroke-width="0.90" stroke-opacity="1.00" stroke-linejoin="round"/>
<path d="M200.0 592.0C200.2 600.8 200.5 609.5 200.5 618.3C200.6 627.1 200.5 635.9 200.3 644.6C200.1 653.4 199.4 662.2 199.3 670.9C199.2 679.7 199.2 688.5 199.4 697.2C199.6 706.0 200.6 714.8 200.5 723.6C200.4 732.3 198.9 741.1 198.9 749.9C198.9 758.6 200.1 767.4 200.4 776.2C200.6 785.0 200.3 793.7 200.3 802.5" fill="none" stroke="#E76BF3" stroke-width="0.90" stroke-opacity="1.00" stroke-linejoin="round"/>
<path d="M201.1 592.0C201.0 600.8 200.9 609.5 200.8 618.3C200.8 627.1 200.8 635.9 200.8 644.6C200.8 653.4 200.7 662.2 200.8 670.9C200.8 679.7 201.0 688.5 201.1 697.2C201.2 706.0 201.2 714.8 201.2 723.6C201.2 732.3 201.1 741.1 201.3 749.9C201.4 758.6 202.0 767.4 202.1 776.2C202.2 785.0 201.8 793.7 201.7 802.5" fill="none" stroke="#E76BF3" stroke-width="0.90" stroke-opacity="1.00" stroke-linejoin="round"/>
<path d="M202.8 592.0C203.0 600.8 203.6 609.5 203.5 618.3C203.4 627.1 202.3 635.9 202.1 644.6C201.8 653.4 201.9 662.2 202.0 670.9C202.1 679.7 202.8 688.5 202.8 697.2C202.8 706.0 202.0 714.8 201.8 723.6C201.6 732.3 201.6 741.1 201.8 749.9C201.9 758.6 202.5 767.4 202.6 776.2C202.8 785.0 202.6 793.7 202.5 802.5" fill="none" stroke="#E76BF3" stroke-width="0.90" stroke-opacity="1.00" stroke-linejoin="round"/>
<path d="M204.8 592.0C204.6 600.8 204.4 609.5 204.2 618.3C204.1 627.1 204.1 635.9 204.0 644.6C204.0 653.4 204.1 662.2 204.0 670.9C203.9 679.7 203.7 688.5 203.5 697.2C203.4 706.0 203.1 714.8 203.1 723.6C203.1 732.3 203.2 741.1 203.4 749.9C203.7 758.6 204.3 767.4 204.3 776.2C204.3 785.0 203.8 793.7 203.5 802.5" fill="none" stroke="#E76BF3" stroke-width="0.90" stroke-opacity="1.00" stroke-linejoin="round"/>
<path d="M205.2 592.0C204.9 600.8 204.4 609.5 204.5 618.3C204.6 627.1 205.9 635.9 206.0 644.6C206.0 653.4 204.9 662.2 204.8 670.9C204.6 679.7 204.8 688.5 205.0 697.2C205.2 706.0 206.0 714.8 206.1 723.6C206.2 732.3 205.4 741.1 205.4 749.9C205.4 758.6 206.0 767.4 206.0 776.2C206.1 785.0 205.8 793.7 205.7 802.5" fill="none" stroke="#E76BF3" stroke-width="0.90" stroke-opacity="1.00" stroke-linejoin="round"/>
<path d="M207.3 592.0C206.9 600.8 206.2 609.5 206.2 618.3C206.1 627.1 206.8 635.9 207.0 644.6C207.1 653.4 206.8 662.2 206.9 670.9C207.0 679.7 207.6 688.5 207.6 697.2C207.5 706.0 206.7 714.8 206.7 723.6C206.6 732.3 207.2 741.1 207.1 749.9C207.0 758.6 206.2 767.4 206.1 776.2C206.0 785.0 206.5 793.7 206.7 802.5" fill="none" stroke="#E76BF3" stroke-width="0.90" stroke-opacity="1.00" stroke-linejoin="round"/>
<path d="M208.1 592.0C208.0 600.8 207.6 609.5 207.8 618.3C207.9 627.1 208.9 635.9 209.0 644.6C209.0 653.4 208.1 662.2 208.2 670.9C208.2 679.7 209.2 688.5 209.3 697.2C209.3 706.0 208.7 714.8 208.6 723.6C208.4 732.3 208.6 741.1 208.6 749.9C208.6 758.6 208.6 767.4 208.6 776.2C208.7 785.0 208.7 793.7 208.7 802.5" fill="none" stroke="#E76BF3" stroke-width="0.90" stroke-opacity="1.00" stroke-linejoin="round"/>
<path d="M209.4 592.0C209.5 600.8 209.9 609.5 209.9 618.3C209.9 627.1 209.5 635.9 209.5 644.6C209.5 653.4 209.9 662.2 209.8 670.9C209.8 679.7 209.1 688.5 209.3 697.2C209.4 706.0 210.8 714.8 210.8 723.6C210.9 732.3 209.6 741.1 209.5 749.9C209.4 758.6 210.3 767.4 210.3 776.2C210.3 785.0 209.9 793.7 209.6 802.5" fill="none" stroke="#E76BF3" stroke-width="0.90" stroke-opacity="1.00" stroke-linejoin="round"/>
<path d="M212.4 592.0C212.2 600.8 212.2 609.5 212.0 618.3C211.8 627.1 211.0 635.9 211.0 644.6C211.1 653.4 212.1 662.2 212.3 670.9C212.6 679.7 212.5 688.5 212.5 697.2C212.5 706.0 212.5 714.8 212.4 723.6C212.3 732.3 212.1 741.1 211.8 749.9C211.6 758.6 211.2 767.4 211.1 776.2C210.9 785.0 211.1 793.7 211.1 802.5" fill="none" stroke="#E76BF3" stroke-width="0.90" stroke-opacity="1.00" stroke-linejoin="round"/>
<path d="M214.3 592.0C214.0 600.8 213.8 609.5 213.6 618.3C213.4 627.1 212.8 635.9 212.9 644.6C213.0 653.4 214.1 662.2 214.2 670.9C214.3 679.7 213.8 688.5 213.8 697.2C213.7 706.0 213.7 714.8 213.6 723.6C213.5 732.3 213.3 741.1 213.3 749.9C213.2 758.6 213.4 767.4 213.3 776.2C213.3 785.0 213.1 793.7 213.0 802.5" fill="none" stroke="#E76BF3" stroke-width="0.90" stroke-opacity="1.00" stroke-linejoin="round"/>
</g><g clip-path="url(#cf)">
<path d="M393.0 705 L393.0 620 C393.5 600 396.0 590 403.0 588 L421.2 587 C425.2 587 427.2 590 427.2 598 L427.2 705 C421.2 710 416.1 716 410.1 716 C404.1 716 399.0 710 393.0 705 Z M393.0 803 L393.0 772 C399.0 768 404.1 762 410.1 762 C416.1 762 421.2 768 427.2 772 L427.2 803 Z" fill="#000"/>

<path d="M424.0 726.4L311.5 786.5L395.3 635.3L391.1 771.4L389.4 667.0L411.0 791.6L403.5 615.1L404.8 779.9L408.0 758.6L422.6 633.4L352.0 787.1L312.2 799.2L314.6 749.8L326.1 793.8L415.3 666.3L291.7 773.4L343.2 748.7L356.8 597.0L382.7 791.0L393.8 713.7L384.8 775.5L353.5 775.7L289.5 763.9L300.6 798.9L395.3 782.8L413.4 767.9L395.8 752.5L394.1 736.5L317.8 795.4L337.1 801.2L313.0 754.7L410.2 717.8L409.8 721.3L384.3 794.7L369.3 659.4L425.2 713.6L436.0 670.8L348.5 791.3L386.5 793.4L309.1 793.2L335.8 801.0L400.9 661.7L424.2 752.5L396.3 731.4L381.6 730.1L298.0 792.2L373.5 701.4L398.2 689.1L393.8 786.3L420.4 606.5L407.3 637.9L315.6 789.0L321.2 786.8L387.4 712.8L423.0 734.5L418.3 662.0L301.5 789.7L392.9 799.0L397.8 768.3L372.6 657.4L430.6 644.2L297.6 774.9L336.3 776.0L395.0 775.6L303.2 784.3L382.1 683.2L393.3 725.6L420.3 796.1L422.2 787.7L381.5 582.4L394.8 756.0L393.5 754.1L408.1 645.4L305.2 775.3L392.6 787.1L403.2 591.9L408.8 702.7L377.8 676.0L424.4 720.5L389.4 798.2L409.5 704.7L418.3 761.8L443.6 799.4L426.9 769.9L297.2 762.6L397.1 635.6L432.3 688.7L426.7 626.3L339.0 755.1L418.6 728.1L447.1 799.4L334.7 784.8L303.3 797.9L417.3 716.0L383.0 797.4L358.2 683.5L291.9 797.4L376.2 650.6L302.4 770.0L395.1 731.7L438.1 794.3L313.8 797.0L305.0 778.1L413.8 799.6L347.6 752.8L351.0 798.8L317.3 745.6L382.7 669.2L306.7 783.0L298.6 772.8L388.6 784.5L364.7 793.8L317.8 796.8L390.0 678.3L395.3 763.5L416.1 711.5L303.1 773.2L392.5 755.5L411.6 730.0L373.5 732.8L294.4 790.0L370.7 802.7L414.7 759.4L417.7 685.0L371.0 796.2L429.3 704.9L377.1 779.3L389.8 698.8L298.4 794.7L343.1 784.9L421.1 752.1L379.4 644.9L421.3 744.8L392.8 794.3L439.4 786.8L289.0 802.6L324.9 798.6L313.2 735.2L410.8 726.1L383.5 679.1L373.5 702.1L342.3 792.9L400.6 645.1L388.2 678.4L404.0 747.5L410.3 600.9L379.0 688.9L293.9 783.5L306.3 774.6L398.8 759.0L413.0 714.5L425.6 795.6L343.4 797.4L412.2 708.4L425.0 691.3L302.9 794.8L435.0 666.1L402.5 720.2L302.6 770.6L345.6 797.7L387.4 790.8L385.6 682.2L288.3 798.0L313.7 800.2L292.6 795.6L376.1 800.6L359.9 650.1L324.7 787.3L417.6 800.9L311.1 778.3L397.8 746.6L316.7 789.3L363.6 669.7L327.2 800.2L313.9 771.9L419.4 729.8L367.0 800.2L416.0 787.0L395.2 652.8L409.9 714.2L291.8 783.4L319.1 771.0L394.3 798.3L349.4 742.1L374.5 793.8L427.9 725.2L413.5 733.0L361.3 740.4L415.5 777.8L403.2 785.1L363.9 756.7L399.1 786.7L295.3 756.8L355.1 791.9L320.5 772.8L356.7 787.3L422.4 733.3L293.3 790.4L298.0 788.5L399.8 793.5L343.2 797.5L420.4 729.4L347.2 746.8L368.7 595.4L398.3 718.5L290.6 801.6L323.3 771.7L389.1 683.4L309.1 790.4L382.8 681.9L319.6 791.7L388.4 636.5L355.5 796.1L332.1 752.9L313.4 796.2L410.7 701.7L422.8 763.9L395.4 792.9L405.1 738.3L311.0 798.8L377.9 627.4L440.0 794.7L325.8 724.1L363.6 626.8L317.3 776.9L382.8 792.5L402.1 793.2L392.3 698.1L396.7 688.3L383.3 648.5L308.9 785.2L364.4 726.8L407.7 717.9L358.3 766.4L396.6 785.1L324.9 723.3L395.6 727.1L384.7 756.2L331.2 729.0L323.5 790.8L408.8 590.7L388.1 765.3L297.4 779.5L377.2 627.1L351.9 751.4L308.8 798.1L403.3 744.5L401.0 739.9L398.6 721.4L380.8 613.2L312.6 786.2L426.8 721.9L384.3 773.8L405.5 700.2L394.1 771.4L388.0 622.3L308.3 760.5L379.3 795.8L300.9 793.3L396.1 646.1L412.2 756.5L349.6 604.9L424.7 618.8L405.0 788.1L355.9 689.6L409.7 771.3L360.2 798.2L302.6 769.2L293.3 781.6L403.6 638.4L427.1 730.5L431.9 778.2L390.9 769.7L393.3 661.1L411.4 625.1L302.1 775.6L407.8 762.8L296.0 800.3L295.4 797.9L415.9 766.6L398.7 749.3L394.6 607.2L315.7 792.2L361.8 793.1L310.0 615.0L393.4 655.7L294.6 790.4L437.9 647.7L402.9 740.8L388.3 645.9L430.2 659.8L391.1 635.9L376.0 763.5L308.1 793.4L350.2 784.5L437.4 669.3L357.3 684.1L365.9 695.1L423.3 659.0L385.6 797.3L315.3 752.7L382.1 609.9L356.3 802.8L404.5 733.0L289.8 803.3L357.8 776.9L413.1 760.1L317.6 792.6L425.4 791.3L389.1 684.5L424.3 737.7L312.7 797.4L315.3 793.6L387.9 789.3L299.6 791.4L424.2 799.8L391.8 728.4L337.2 792.8L320.0 781.9L301.7 796.8L373.5 766.0L416.6 800.6L306.9 772.9L357.7 702.0L307.7 784.1L288.2 786.3L294.1 788.8L316.2 796.8L402.4 581.5L413.9 784.1L430.7 784.3L355.3 796.7L429.2 704.5L291.4 771.6L362.9 775.1L414.7 769.9L341.8 791.7L346.0 782.0L390.1 753.9L403.4 737.4L331.6 796.4L301.7 786.7L411.4 786.5L407.3 606.0L417.0 739.1L406.8 727.4L359.7 791.5L349.4 769.4L396.1 803.0L384.4 670.7L300.5 783.0L291.3 787.7L406.8 793.1L396.6 708.8L374.1 709.7L409.8 699.2L331.0 791.3L425.9 580.4L292.0 797.8L294.2 774.4L325.3 768.2L434.8 720.1L386.3 776.1L412.0 648.2L350.0 792.2L291.2 778.7L369.3 796.2L410.7 781.7L391.0 652.3L379.9 796.1L379.8 729.1L427.7 797.4L405.4 692.1L417.1 748.3L300.3 775.5L391.3 756.1L412.6 800.5L434.8 607.6L378.0 803.2L302.9 787.9L340.4 802.6L361.4 787.0L444.4 710.7L405.9 792.9L379.7 782.2L394.7 634.7L337.6 770.8L306.1 772.3L356.2 750.8L290.7 774.4L343.2 795.3L396.7 613.9L308.6 788.6L373.8 791.7L318.8 780.1L366.9 800.7L407.1 729.8L395.1 761.8L373.6 592.0L393.5 747.0L413.9 733.5L394.4 793.2L423.9 722.4L403.7 698.6L334.0 792.9L413.4 725.2L417.6 740.7L406.8 746.5L400.3 778.3L317.9 775.2L304.9 774.7L354.6 776.3L336.7 790.8L392.6 791.9L348.1 782.0L308.8 779.7L413.7 686.5L401.1 771.6L375.4 655.3L338.0 794.0L293.2 740.5L375.6 791.4L368.2 666.5L389.0 737.3L348.7 795.2L309.5 783.5L317.5 773.0L414.6 768.1L374.3 787.1L434.4 593.5L417.6 757.7L310.5 685.3L394.1 645.8L370.5 629.0L340.8 582.7L382.7 781.9L323.9 733.7L441.3 787.4L297.2 789.2L413.9 785.3L419.6 741.3L429.2 784.9L407.7 701.9L439.2 729.4L375.4 802.4L399.9 587.7L390.5 699.8L432.3 797.9L310.8 766.8L290.2 771.1L292.5 791.3L344.7 796.8L434.2 743.2L382.8 784.0L312.4 775.0L309.9 768.4L399.3 730.1L394.4 712.4L393.7 778.2L294.9 786.6L410.3 777.0L375.6 776.8L419.0 612.2L333.0 797.8L312.5 774.9L308.2 795.0L388.7 785.1L343.9 784.8L356.3 793.3L354.6 786.8L371.0 774.5L386.9 788.7L368.2 779.5L416.7 747.6L426.3 754.7L343.2 759.6L309.9 796.1L326.8 790.6L397.7 778.3L409.0 754.8L352.1 786.7L388.6 763.3L303.4 767.4L290.7 781.3L385.0 713.4L316.6 788.6L314.8 800.9L355.9 796.0L386.7 683.7L299.2 781.4L388.7 719.2L389.7 784.3L380.8 796.7L309.2 766.4L299.6 783.8L302.7 800.4L411.1 657.6L333.1 794.7L390.1 695.3L413.0 755.1L313.4 786.7L412.7 756.8L392.2 770.6L414.9 749.4L337.5 783.1L384.6 721.1L356.3 648.9L294.8 738.6L358.5 794.4L381.6 765.8L421.0 750.9L386.1 790.9L354.2 799.9L372.4 800.2L413.5 749.5L419.9 738.4L359.9 601.2L344.0 631.8L297.1 794.5L403.4 587.3L351.7 786.3L422.3 728.7L375.2 634.5L303.8 772.5L370.1 792.2L289.4 796.6L405.8 788.2L290.2 777.6L383.8 654.4L319.1 797.8L406.5 775.5L412.0 769.6L404.4 731.2L393.4 643.1L392.3 657.2L392.9 711.6L414.4 698.2L401.8 583.4L307.6 796.3L407.6 800.9L310.6 796.5L361.5 787.3L409.6 630.0L415.3 728.9L430.1 793.6L342.7 792.0L379.0 638.1L382.1 710.1L434.9 728.0L373.2 774.6L293.9 789.6L383.6 749.5L304.7 793.9L392.6 795.7L294.2 798.3L421.8 722.7L399.3 733.9L431.0 792.1L387.0 628.3L379.7 799.7L371.4 697.1L432.3 793.6L416.9 660.1L355.7 797.1L385.1 669.0L395.7 802.3L361.4 790.1L393.4 644.8L430.6 609.2L346.6 795.1L302.6 777.8L399.8 708.3L305.3 797.1L408.2 787.4L406.4 616.8L372.1 788.5L416.6 764.4L319.0 803.2L399.7 669.9L297.3 773.2L298.8 786.0L423.5 720.8L420.9 680.6L421.1 749.2L410.1 601.4L290.1 781.4L298.7 632.0L372.8 749.5L297.0 787.8L378.7 619.7L369.1 790.4L380.5 688.5L320.6 750.5L352.5 658.3L396.1 648.9L371.7 793.0L393.5 718.8L415.4 654.4L397.5 624.9L395.4 604.8L377.9 801.4L308.8 758.8L396.0 632.3L391.9 724.2L420.3 796.7L309.3 800.1L395.4 731.1L410.4 784.9L391.2 697.8L309.6 790.3L396.0 797.5L396.1 707.9L397.9 724.5L398.0 629.6L373.6 770.1L451.2 667.9L354.8 786.6L306.8 796.4L295.1 772.3L346.4 793.8L307.2 794.1L402.3 764.5L378.8 666.6L349.7 797.1L392.7 647.0L452.3 780.1L299.2 772.7L387.0 656.3L389.8 735.4L376.0 694.9L385.4 661.5L316.7 780.6L292.4 775.3L409.6 752.6L395.1 637.4L370.1 609.9L426.8 689.3L422.4 768.1L387.6 610.8L367.3 733.0L420.9 764.5L397.5 719.7L419.4 803.1L395.5 754.8L317.4 802.0L299.5 769.0L440.7 646.0L380.0 646.3L424.6 614.6L366.0 652.6L424.2 771.7L292.7 786.9L295.1 793.8L397.3 750.3L417.2 708.5L397.9 721.8L431.4 735.8L398.2 738.2L402.7 770.6L311.6 798.2L369.6 702.6L314.4 801.7L429.4 627.1L314.5 790.7L304.6 779.0L345.3 717.3L368.1 645.2L379.6 669.0L385.1 704.9L374.3 723.8L415.9 773.0L307.4 775.6L380.8 793.3L305.3 793.8L309.1 795.2L442.9 792.9L393.1 639.5L403.6 752.6L299.6 800.9L423.2 619.6L316.4 765.4L403.7 716.9L442.3 651.5L422.2 777.6L387.6 692.7L407.6 684.9L354.7 584.9L371.2 669.6L389.5 657.5L393.8 727.9L381.6 785.8L409.4 772.5L379.3 695.0L331.4 794.1L292.4 773.0L342.3 792.2L353.9 728.7L378.5 723.3L373.3 643.0L308.9 793.9L421.1 790.6L304.8 779.1L408.5 721.0L339.7 784.7L387.8 754.3L390.1 741.0L345.4 787.2L344.5 766.3L394.0 642.8L389.0 730.6L305.2 798.8L298.0 788.5L386.3 693.1L399.7 588.2L310.4 782.4L365.6 676.2L403.3 736.4L395.3 795.7L414.1 728.8L425.9 692.0L377.7 772.7L385.8 722.0L314.0 773.0L325.3 801.6L314.2 794.4L314.3 779.5L359.1 782.5L381.4 785.9L382.6 665.6L314.8 783.0L393.3 630.3L450.1 651.5L361.1 799.0L382.1 800.2L425.2 728.2L383.4 733.0L395.8 795.5L323.2 792.5L405.8 669.5L294.8 788.0L316.2 788.5L302.6 778.7L391.7 790.4L396.4 709.3L421.2 742.7L323.1 783.6L395.4 633.9L329.7 786.6L399.6 797.1L440.0 654.8L313.7 789.3L380.3 781.2L319.2 775.7L397.8 746.5L299.5 721.5L381.2 790.6L419.8 709.4L287.2 785.4L405.3 675.6L429.8 781.9L310.6 783.8L390.7 757.1L374.7 717.4L387.2 594.5L393.5 716.6L314.6 788.2L395.0 656.8L391.3 800.6L321.9 759.8L420.7 652.8L421.9 739.9L410.3 725.7L399.7 768.3L376.1 800.9L324.5 771.0L429.4 716.7L356.9 788.0L397.6 706.5L350.0 784.1L402.9 781.6L306.1 777.3L416.2 739.6L403.2 726.3L376.6 667.4L391.0 768.7L390.5 795.8L394.2 775.2L367.4 783.0L446.3 791.0L398.5 795.2L424.7 728.5L308.3 791.2L395.4 791.6L432.8 606.8L371.4 799.8L318.7 789.3L418.9 714.6L423.9 706.5L407.2 714.1L378.2 787.9L397.4 706.2L291.0 792.9L354.0 748.8L400.5 733.6L316.0 802.9L382.1 765.8L415.0 768.3L392.2 639.6L389.5 799.6L318.2 778.4L371.2 706.5L374.2 629.8L403.6 733.1L289.5 793.3L317.1 787.3L401.0 616.4L297.7 770.2L396.1 775.4L395.3 794.1L414.3 776.6L392.9 598.0L311.7 778.2L334.2 787.6L355.2 780.6L316.8 790.3L304.8 776.2L393.2 754.1L394.6 757.2L415.8 644.2L441.3 605.9L404.6 708.1L378.7 787.1L421.3 782.4L384.5 798.9L386.8 750.5L312.9 782.9L314.8 777.3L400.2 749.5L394.8 791.5L452.0 720.3L310.4 774.2L416.1 594.6L404.6 643.7L395.1 583.9L408.9 757.4L361.1 683.3L416.2 748.6L384.7 791.2L394.4 759.8L352.3 790.2L389.4 632.3L307.0 773.3L417.2 729.1L425.1 786.5L305.9 764.5L422.3 626.0L297.2 773.5L341.0 787.6L339.8 757.3L392.4 774.3L393.8 671.4L303.6 801.4L387.9 693.5L295.2 771.8L352.8 740.5L309.1 795.7L390.0 791.4L447.7 643.8L410.2 705.3L319.5 788.6L414.5 790.3L380.3 665.7L345.3 796.0L416.8 723.3L335.2 726.8L390.5 786.5L309.1 774.5L303.9 787.5L289.1 801.0L415.6 606.4L329.8 791.7L369.5 787.7L419.0 739.8L318.5 800.6L350.0 730.9L288.7 781.4L303.6 782.2L391.5 790.9L367.7 630.2L372.0 774.6L406.1 799.0L381.5 615.6L370.8 781.9L418.4 708.9L410.7 712.3L294.3 796.4L376.4 646.9L421.9 767.8L299.1 790.1L425.7 784.2L413.3 802.2L376.1 778.2L437.1 644.9L353.2 776.5L417.5 653.9L372.8 628.2L370.3 664.6L377.5 705.3L419.8 712.4L419.7 706.9L407.5 706.9L310.5 776.3L420.7 792.1L400.3 762.0L426.4 777.2L419.7 800.8L314.1 777.6L379.9 655.4L385.5 801.2L320.8 797.4L420.1 765.4L350.5 793.9L414.9 610.5L376.5 636.3L421.8 775.3L290.7 795.9L378.4 714.5L331.8 781.9L377.6 747.6L317.7 795.9L377.5 765.7L424.5 753.1L427.5 633.6L398.9 757.8L420.8 742.5L314.7 797.0L413.0 710.1L287.5 783.9L407.6 608.9L379.7 709.2L356.0 787.7L307.9 785.3L434.0 611.1L424.4 783.1L382.3 751.9L420.0 724.3L371.3 648.6L311.5 802.8L297.9 802.7L395.4 724.1L419.3 738.8L323.8 799.5L425.1 716.6L332.7 779.6L378.6 797.4L287.3 789.3L430.5 688.5L417.6 712.7L420.2 589.2L403.1 669.0L388.3 707.7L407.4 739.5L356.9 706.6L376.4 784.5L381.4 667.2L402.3 711.3L323.2 638.2L388.6 782.5L383.0 580.5L412.3 666.7L354.6 786.9L370.0 752.6L292.1 660.8L430.4 774.5L384.5 653.9L363.0 799.0L405.3 748.7L432.6 777.5L421.9 633.7L343.2 778.2L359.2 788.5L411.6 693.5L412.7 782.2L371.7 792.1L354.5 772.5L411.0 603.4L296.5 737.7L299.7 788.2L408.7 771.7L420.8 747.2L420.0 756.5L426.5 706.5L398.9 607.6L424.8 793.8L365.2 695.2L415.2 782.4L305.9 792.1L430.4 684.4L400.1 710.0L378.1 746.0L444.1 798.2L385.6 635.6L301.0 769.4L390.6 629.4L318.8 782.8L413.8 786.2L414.4 734.8L383.4 613.2L401.5 792.4L425.2 796.7L292.3 779.0L314.2 773.5L414.5 735.3L384.0 731.0L404.1 685.2L312.6 777.6L394.7 722.7L340.2 784.4L398.4 792.1L308.4 772.3L379.7 731.4L294.3 781.1L304.9 801.3L398.3 665.6L411.3 777.1L317.1 796.9L311.9 773.3L381.5 663.7L376.9 790.7L366.0 793.0L408.3 782.1L314.9 712.6L295.0 778.3L301.2 772.7L390.4 732.6L293.7 782.7L384.1 702.7L422.4 770.4L349.0 743.1L320.0 789.5L383.2 778.7L418.3 785.6L381.3 640.3L372.7 616.6L381.4 796.2L352.5 752.5L349.4 788.8L387.0 803.1L410.1 657.4L418.7 758.1L404.7 707.4L422.9 775.5L398.9 776.4L412.2 787.6L299.1 799.2L421.3 673.8L403.7 706.4L385.1 788.1L427.5 769.2L321.9 711.0L288.8 773.1L311.5 777.5L395.5 709.5L332.2 738.3L388.6 790.4L409.1 793.6L314.4 800.8L365.2 795.9L384.4 659.5L391.2 789.0L395.8 795.9L319.4 781.6L361.5 606.4L316.2 800.5L408.2 744.0L302.5 772.9L362.6 782.4L302.2 771.3L434.8 612.7L368.5 676.8L385.7 800.6L383.8 665.6L399.3 735.4L416.7 735.0L299.0 794.8L387.8 781.2L407.0 785.9L408.2 703.8L386.3 801.9L420.1 749.7L320.4 802.0L307.1 725.3L303.3 771.5L394.5 707.4L413.1 735.3L358.8 606.8L441.0 786.7L395.6 701.3L385.5 642.3L367.0 760.1L299.3 772.1L355.6 671.6L401.9 747.3L310.8 792.6L405.2 740.9L348.2 792.8L411.2 695.8L398.4 794.9L395.9 699.2L312.7 797.4L312.0 800.7L305.6 793.6L434.5 738.3L381.7 772.2L436.2 750.3L307.1 801.0L413.8 580.4L290.2 790.3L293.0 801.6L321.7 786.3L412.9 769.7L418.8 739.1L408.8 740.9L367.4 797.7L398.1 694.5L427.9 605.9L452.8 770.9L315.4 777.7L289.8 796.0L404.7 716.4L311.5 765.1L392.1 594.4L386.7 657.1L394.1 796.0L393.3 739.7L402.2 717.0L324.2 781.0L394.4 723.5L423.0 740.8L298.5 762.5L389.0 770.6L380.8 580.4L413.0 661.1L360.0 707.6L411.6 782.4L372.2 780.4L407.0 763.5L320.7 778.3L293.1 781.5L323.3 790.0L347.3 665.3L394.1 778.1L357.8 681.4L400.4 708.0L428.0 702.2L396.2 639.2L406.0 716.4L362.0 769.1L424.2 714.9L318.7 802.0L354.2 795.5L399.0 725.8L454.7 608.2L407.5 794.1L311.9 793.4L311.7 761.7L391.2 580.4L310.4 795.3L419.2 702.1L379.6 756.8L432.2 659.8L408.9 740.5L319.8 774.8L441.4 738.3L299.9 720.6L399.0 580.4L398.9 686.7L375.3 795.2L391.1 800.7L339.5 715.1L424.4 703.3L413.6 775.4L419.5 586.7L399.6 771.4L306.6 773.7L301.7 767.4L403.7 727.7L442.7 795.1L411.0 766.2L314.8 780.8L383.8 694.0L312.1 787.2L314.1 787.1L417.0 758.9L351.9 790.5L372.0 690.6L398.3 723.9L352.3 654.9L315.9 729.4L318.8 776.8L401.2 801.9L314.1 801.1L403.3 730.9L446.4 789.8L405.1 653.7L384.0 788.7L427.7 663.1L433.3 718.1L418.9 739.2L447.8 799.3L434.2 704.4L355.5 676.9L370.8 794.4L424.9 596.1L314.4 721.4L305.6 781.6L304.0 787.9L393.0 677.5L407.8 775.3L391.9 631.0L414.7 624.9L425.5 743.6L302.4 783.7L381.8 802.3L385.8 723.8L365.8 674.9L291.1 768.0L401.0 728.7L372.5 701.8L328.2 784.7L375.9 651.6L401.7 662.6L424.2 772.6L420.6 719.7L324.7 795.4L398.4 640.7L409.3 625.0L314.0 797.4L400.4 741.1L398.1 592.1L311.7 788.3L355.2 608.1L375.2 666.8L290.8 788.8L387.4 736.5L413.0 703.2L389.0 653.8L401.9 779.8L420.8 772.9L405.1 642.8L387.7 796.0L412.5 715.2L318.1 794.9L431.1 803.0L384.0 694.4L425.2 742.5L361.0 795.2L290.7 794.1L393.6 723.4L431.4 676.8L313.9 779.4L348.5 780.6L398.7 594.3L367.6 789.4L396.3 722.2L405.6 685.4L318.1 785.2L305.3 788.0L319.2 768.5L402.0 663.9L383.0 603.2L297.6 775.8L289.6 799.4L396.8 781.5L363.1 690.7L398.1 603.3L359.1 668.4L379.9 789.9L361.4 797.9L424.9 768.5L416.2 639.3L306.0 762.2L419.0 698.5L354.5 756.0L437.8 747.0L345.4 790.4L307.7 789.6L424.7 785.2L402.3 629.9L394.6 753.3L365.5 793.1L405.0 766.4L422.7 634.0L425.3 597.7L406.6 752.8L322.6 777.0L318.3 787.2L290.5 784.4L389.3 708.4L448.0 655.5L406.6 666.5L374.7 793.5L297.3 798.4L398.0 649.4L340.5 798.3L291.6 794.6L315.4 802.8L318.7 779.9L425.1 635.7L410.6 738.9L292.0 773.7L353.8 785.7L390.5 589.5L303.9 780.9L311.7 773.5L417.5 611.9L425.1 793.4L393.6 713.9L327.2 785.2L322.3 730.5L334.8 762.6L427.5 653.2L408.7 759.3L419.0 784.8L393.7 740.4L383.0 693.6L292.0 792.1L325.1 793.9L382.9 603.2L382.5 796.2L374.1 795.3L298.8 794.3L409.9 734.8L418.5 777.6L380.9 796.3L296.2 776.4L421.1 715.4L425.5 752.8L366.4 750.0L321.8 767.2L308.3 785.5L321.4 784.8L392.7 678.1L386.7 802.5L393.7 760.3L382.9 762.9L422.5 603.7L312.6 799.2L417.4 713.8L424.0 769.5L349.2 790.3L405.1 757.1L427.3 705.4L392.5 767.6L395.9 785.3L375.2 685.7L420.8 704.7L313.9 789.3L435.1 649.3L400.5 643.8L420.5 767.4L314.8 784.9L315.3 759.7L305.8 772.0L332.1 798.8L401.0 603.0L377.9 752.1L425.5 707.4L329.3 792.3L424.6 726.9L400.8 752.2L432.0 790.7L386.2 798.1L314.9 792.0L291.3 792.8L375.8 791.1L397.0 764.5L297.0 785.0L393.5 706.3L395.8 772.0L317.1 790.7L340.6 789.5L389.9 736.5L436.5 784.8L313.6 787.8L410.8 712.3L289.8 783.3L416.0 624.0L389.6 654.8L297.4 778.1L371.9 775.2L385.4 715.7L390.6 626.6L409.2 694.8L298.7 773.1L306.4 794.9L428.2 793.4L290.7 797.3L323.1 668.9L386.2 794.3L399.5 699.8L352.5 757.8L416.2 789.6L401.0 755.7L400.4 716.6L377.3 635.1L304.2 749.0L297.2 800.6L416.2 732.9L415.6 733.1L363.5 642.2L391.2 718.9L418.8 713.7L423.1 589.9L373.3 786.9L307.2 775.0L417.7 711.0L363.4 724.7L383.9 620.3L406.5 674.9L392.5 767.8L423.4 696.4L309.4 792.4L343.5 787.5L393.3 598.7L328.4 778.9L369.9 762.4L320.8 790.7L307.5 782.5L289.3 788.1L293.1 798.2L403.0 786.5L393.4 760.5L318.4 795.2L430.3 603.0L366.2 686.3L301.5 775.9L418.0 727.7L408.9 783.0L437.4 698.8L370.5 784.6L423.5 714.3L393.2 770.7L398.6 801.1L333.3 770.9L299.8 785.4L405.5 693.2L415.5 729.8L317.4 770.4L316.0 776.8L390.1 678.0L327.8 779.4L412.8 745.3L351.0 596.1L412.7 721.9L393.3 630.9L412.7 714.5L389.1 737.7L320.6 782.8L394.2 730.1L398.9 769.8L423.5 655.1L394.9 793.3L351.1 670.8L418.8 694.1L289.0 800.6L387.9 671.4L391.5 696.2L357.0 641.7L380.1 626.3L408.0 689.2L417.4 755.4L421.4 775.6L317.9 803.2L391.6 676.9L368.0 673.7L406.7 710.4L406.3 597.2L408.3 779.7L404.0 610.7L401.5 764.6L316.9 799.0L396.5 792.7L410.7 703.3L389.1 692.6L392.8 783.6L387.9 775.1L300.8 799.1L342.5 783.8L419.6 650.1L337.1 791.3L321.9 785.9L395.4 763.6L394.1 761.6L316.8 685.4L298.0 798.2L378.3 661.1L371.1 647.7L317.3 800.9L403.0 585.7L430.4 789.3L401.3 791.4L387.0 740.9L417.7 801.8L356.1 788.2L370.4 681.2L378.6 786.3L396.5 738.4L418.1 659.2L294.9 781.9L302.9 798.5L398.5 795.6L410.8 765.4L305.7 799.7L395.8 709.8L407.7 729.3L385.2 637.3L319.1 796.9L423.8 589.0L395.1 595.0L397.6 790.8L373.4 753.4L435.9 774.5L363.9 737.0L308.3 781.4L296.2 785.4L408.2 734.1L409.3 754.1L432.4 797.4L420.9 762.2L335.8 614.9L407.9 740.4L362.4 777.3L393.6 758.4L387.8 794.1L367.6 624.4L366.8 781.8L418.8 726.6L423.1 789.6L420.9 766.9L301.4 780.5L415.9 783.3L311.5 801.0L386.1 695.8L399.6 744.0L405.5 713.7L315.8 796.0L304.0 780.7L408.0 751.4L369.5 630.2L423.2 692.5L348.1 792.9L404.5 705.1L389.7 742.6L421.0 766.1L400.4 729.1L306.2 791.8L306.1 782.1L325.1 796.0L367.8 789.1L353.3 791.5L359.8 693.6L415.3 776.3L321.2 778.2L319.8 790.8L383.7 777.1L448.0 800.0L411.2 713.4L298.0 769.2L378.1 670.5L380.3 627.5L402.3 723.7L299.9 688.1L386.0 793.7L426.5 758.7L384.4 687.1L333.1 795.2L422.0 629.9L390.4 659.9L414.8 792.8L398.2 765.6L427.5 728.6L398.0 640.2L421.1 728.1L397.7 614.4L289.5 760.9L435.6 611.0L387.3 771.2L308.0 783.7L415.2 731.6L311.5 786.5L353.7 615.1L410.5 709.4L336.4 792.8L314.2 765.5L390.7 762.4L414.6 790.3L370.6 666.4L412.1 740.4L373.9 646.4L379.5 692.2L405.4 761.1L304.9 803.0L337.3 729.7L307.4 786.8L378.5 694.3L384.7 600.8L400.7 638.5L407.3 592.1L402.1 721.9L331.7 788.7L354.8 796.2L432.7 658.4L359.6 797.1L421.3 636.1L297.4 800.0L403.5 800.2L394.7 756.8L391.0 794.5L423.5 747.0L382.0 798.1L296.7 682.4L339.4 757.7L313.5 799.8L336.7 789.8L405.1 747.8L401.7 764.7L391.9 803.1L415.6 756.1L290.9 791.0L398.2 591.2L413.7 735.2L406.5 752.9L372.6 799.8L406.5 759.6L301.1 766.9L386.0 655.3L347.4 790.0L294.3 772.8L356.0 663.3L393.2 689.9L420.8 790.0L394.7 637.3L293.2 782.2L401.5 751.3L401.5 733.5L354.4 792.8L394.6 702.1L377.8 684.6L414.3 634.1L322.0 757.2L390.7 743.5L387.4 765.5L407.8 710.2L360.5 765.0L397.7 746.2L413.6 725.4L403.3 782.1L353.3 792.1L301.5 798.9L420.8 631.6L384.6 792.6L367.9 593.3L335.7 717.7L395.0 722.2L381.4 726.6L416.4 628.0L305.3 779.9L366.8 782.1L352.6 738.5L388.6 796.5L341.0 791.3L317.2 790.8L413.6 789.9L378.2 586.9L393.5 773.2L436.9 797.8L406.7 770.5L416.4 794.2L346.7 796.5L403.7 768.9L323.9 791.2L308.0 802.8L363.3 778.8L404.6 645.5L410.8 751.3L424.3 592.3L307.8 802.9L412.6 601.5L390.9 766.8L384.1 675.4L374.8 600.8L315.7 799.2L412.3 724.5L393.5 628.6L414.6 661.9L356.2 790.5L412.8 734.9L370.4 787.2L382.8 645.3L310.2 775.5L362.3 796.8L354.7 792.5L298.8 783.8L407.6 738.2L379.4 773.5L405.7 706.7L332.3 785.3L319.1 795.5L387.4 751.6L295.8 796.7L408.3 766.2L400.4 623.8L305.0 796.3L422.1 762.9L400.2 716.8L418.9 588.6L422.4 794.8L398.2 622.9L310.5 791.9L365.8 770.4L316.7 784.6L409.5 766.6L289.7 775.2L398.6 738.2L432.7 784.5L376.9 724.5L413.8 735.6L410.3 580.4L421.2 689.6L423.4 747.9L288.9 778.6L295.4 778.8L325.7 798.1L392.1 705.7L392.3 784.4L408.9 764.3L403.1 756.9L395.4 767.7L372.6 768.8L341.0 722.8L292.3 775.7L302.0 771.9L429.2 668.4L318.9 792.9L407.2 634.0L411.9 709.1L421.1 768.7L435.6 687.8L397.4 737.8L413.3 641.7L371.1 794.1L384.1 696.8L334.7 795.3L328.5 683.1L336.2 791.1L389.5 785.5L312.5 787.8L426.2 699.3L429.5 595.1L387.5 766.6L370.5 756.1L297.1 792.0L424.8 613.3L326.3 793.1L302.4 689.3L337.3 799.4L358.6 796.0L366.6 793.8L420.9 626.2L382.1 799.8L425.4 736.7L360.2 800.6L315.2 786.5L390.6 610.3L408.2 723.9L432.0 793.8L312.2 795.5L406.1 738.8L346.3 766.9L389.7 776.8L298.5 774.9L310.0 794.8L410.7 731.3L385.5 689.4L418.9 706.0L317.4 776.7L348.0 722.4L408.2 802.6L423.1 736.8L302.7 784.2L374.8 798.4L407.7 719.6L414.6 759.0L442.8 784.5L392.8 721.5L357.6 705.7L298.3 721.8L333.7 790.2L340.5 787.7L408.0 778.4L406.7 784.1L408.7 757.8L291.3 777.2L373.1 735.8L294.3 787.2L418.5 733.4L411.8 747.9L396.9 789.6L366.0 791.2L340.0 795.4L380.4 786.2L377.1 797.5L409.1 723.7L371.0 669.5L374.5 802.4L395.9 623.6L421.6 788.2L386.4 700.8L404.3 722.6L366.8 637.7L294.0 798.1L391.9 721.5L297.4 716.1L299.5 780.4L289.0 771.0L382.4 786.8L369.2 653.2L374.6 770.8L419.6 722.6L364.8 708.3L388.9 791.6L429.9 693.0L409.3 776.1L423.3 641.4L333.4 797.6L410.6 628.0L363.3 788.9L423.3 722.0L374.7 798.6L424.9 774.3L422.1 775.0L341.2 787.0L388.3 652.4L336.1 783.5L415.4 730.4L367.4 629.1L410.3 718.8L304.7 788.8L295.6 741.1L368.4 799.6L315.4 800.6L372.3 797.1L295.6 715.1L429.7 649.5L395.6 700.0L334.5 780.8L407.5 752.8L316.2 787.9L308.1 769.6L307.8 782.6L394.4 654.3L293.1 783.0L398.4 619.8L411.4 588.7L320.7 797.9L306.8 770.3L411.2 758.0L448.6 740.4L384.3 793.7L339.0 770.9L343.0 792.0L291.0 781.3L402.3 766.6L387.6 753.3L398.7 663.7L311.9 789.5L382.8 655.8L412.1 772.7L390.4 795.4L299.0 787.3L406.3 717.7L412.2 758.6L335.6 742.0L405.1 599.9L420.0 797.2L401.4 759.3L408.5 740.1L362.6 761.1L305.1 771.8L365.1 719.2L312.2 773.2L400.2 761.1L411.6 765.5L395.2 733.8L392.7 732.2L376.4 802.4L361.4 737.6L402.0 653.3L403.2 798.7L371.1 792.7L316.5 802.9L389.3 788.2L411.6 716.6L421.8 724.1L380.0 722.3L352.9 790.6L412.2 794.5L412.8 678.8L401.3 738.8L371.7 798.4L437.1 799.2L357.4 796.6L444.5 770.7L291.1 775.4L409.2 711.0L295.0 787.2L369.2 802.2L418.1 723.9L412.8 765.8L416.1 789.0L419.9 802.0L389.6 651.1L407.1 766.1L391.7 756.2L383.3 798.6L410.5 681.6L387.2 618.8L434.6 671.5L314.3 759.1L345.1 791.7L390.6 756.2L409.3 704.2L416.8 630.3L402.5 658.9L305.6 792.6L382.2 748.8L354.0 785.9L413.9 747.3L333.9 794.7L294.1 776.4L305.2 724.4L432.8 616.7L352.3 790.1L340.6 635.9L295.9 774.0L404.4 650.0L396.1 773.7L383.9 716.7L409.2 662.6L412.8 743.1L403.8 637.3L417.0 756.5L315.4 792.1L387.1 598.0L384.1 762.3L299.3 782.3L330.7 794.6L383.7 666.6L361.6 764.7L375.9 777.7L379.6 763.4L354.1 782.6L376.0 786.7L364.9 744.4L324.1 792.1L394.8 596.8L312.8 781.3L318.2 784.5L372.9 783.2L398.9 690.2L403.3 707.8L399.7 610.0L306.1 768.9L404.6 641.3L296.9 794.3L305.4 802.4L389.7 802.2L415.1 698.2L396.6 646.1L404.0 765.2L388.6 676.6L405.8 607.1L422.0 634.9L401.2 748.0L367.0 783.5L400.8 745.4L387.3 662.9L301.4 796.1L403.0 764.5L413.8 729.4L382.0 676.9L386.4 688.7L302.2 784.1L394.6 734.2L362.8 694.8L443.0 591.6L414.5 788.3L372.4 693.9L293.7 798.1L390.4 678.3L384.3 753.0L443.4 650.6L440.9 800.0L439.2 778.7L365.8 791.0L333.8 739.4L332.8 787.3L385.3 597.2L338.6 794.3L425.4 594.9L399.6 732.0L421.2 711.8L408.3 648.3L373.6 738.2L405.6 786.0L393.4 615.2L327.6 748.3L310.3 793.0L387.4 757.4L410.1 780.8L399.1 634.5L300.0 777.8L337.7 785.4L362.8 797.4L392.7 776.0L419.6 718.5L402.4 747.8L322.3 755.1L323.2 600.5L315.7 792.9L300.1 791.4L408.5 646.3L377.1 640.9L302.0 769.2L304.2 768.8L297.8 793.1L314.0 754.5L423.6 750.7L398.4 764.9L385.8 689.0L360.1 722.5L306.2 786.8L305.8 769.5L301.5 802.2L357.5 791.8L390.8 786.3L319.6 768.0L323.8 802.6L407.8 661.1L426.4 611.8L415.6 662.7L384.4 694.0L302.8 797.6L346.1 786.5L403.7 631.7L307.1 794.9L293.0 784.9L300.3 791.2L394.8 755.8L388.4 651.9L402.2 742.4L394.8 795.2L390.6 674.6L409.4 780.4L375.1 792.4L426.5 708.0L396.4 580.4L378.8 711.5L300.0 774.9L415.0 768.1L308.0 778.6L384.1 790.6L379.5 693.1L430.4 790.0L319.1 765.5L431.2 622.7L319.8 800.5L310.9 784.9L305.7 778.5L327.8 797.9L298.7 783.2L301.1 802.0L416.0 722.6L358.3 736.9L435.4 772.8L420.4 790.3L395.8 786.3L292.8 776.0L291.5 797.9L331.7 787.6L292.6 795.4L417.3 732.3L312.6 714.6L292.3 785.7L295.6 769.4L409.6 613.5L297.4 793.4L404.4 635.6L369.3 788.8L317.3 767.2L395.8 796.8L318.2 770.8L449.2 729.0L306.6 791.8L298.5 691.2L295.6 785.7L322.2 767.2L434.5 745.5L382.9 742.8L398.7 787.9L302.0 795.2L381.4 762.1L347.0 787.9L421.3 771.0L320.5 787.5L350.5 709.1L384.0 617.6L367.3 640.8L430.0 782.2L381.2 795.5L391.6 627.9L384.1 781.3L357.1 788.8L423.2 711.8L420.5 768.3L450.1 633.9L371.3 759.2L401.1 637.5L293.0 787.3L426.3 746.1L400.6 605.2L303.9 781.5L393.3 596.6L321.2 764.9L424.9 656.3L370.6 765.3L403.9 734.2L412.0 715.0L413.0 758.5L401.1 773.6L373.6 793.2L382.0 659.6L395.6 779.9L336.8 766.8L425.0 637.5L317.8 796.0L395.4 724.2L311.3 797.2L389.6 796.8L394.4 768.0L289.1 800.8L379.0 627.7L416.1 720.5L311.4 792.7L386.7 776.2L395.8 790.0L304.0 796.0L388.3 611.9L402.0 775.2L320.0 785.8L297.6 775.3L381.2 753.5L302.5 795.6L291.8 774.9L312.2 784.0L320.4 787.2L388.6 784.3L393.8 757.3L314.1 792.9L373.9 633.9L376.8 727.6L390.2 641.5L408.5 735.4L418.6 748.2L379.5 619.3L310.2 779.3L406.3 778.4L405.1 742.9L410.8 735.6L389.5 651.6L316.3 763.5L408.3 741.3L316.9 771.3L427.8 706.4L361.4 642.1L350.2 802.5L349.5 797.2L404.1 639.2L356.4 801.4L369.8 652.7L398.7 761.6L299.9 708.4L402.0 750.4L419.0 634.3L389.8 659.4L296.9 780.5L299.7 772.0L315.6 800.6L326.0 716.8L298.0 770.4L393.5 634.0L382.3 639.8L398.9 740.4L402.1 772.5L366.5 711.0L387.0 688.4L382.9 763.8L294.9 799.3L320.0 782.6L308.4 769.2L315.7 790.6L400.1 779.2L316.9 765.1L401.6 623.0L351.7 643.8L387.0 787.1L287.3 777.9L325.7 801.8L404.4 735.8L393.1 761.2L383.4 799.8L407.2 800.4L393.6 786.3L413.8 709.9L292.9 796.2L349.0 711.7L292.2 765.9L373.3 796.6L333.1 749.2L370.1 644.3L394.7 800.1L410.5 725.2L305.8 793.8L390.7 666.0L426.2 749.7L405.5 742.0L301.1 790.6L302.3 780.6L359.6 691.5L304.7 777.8L438.7 696.6L408.8 761.6L291.3 793.0L381.0 799.4L422.2 723.1L395.5 777.2L375.5 773.1L386.4 778.8L393.8 597.1L347.9 742.8L427.3 593.9L337.8 784.7L391.1 786.3L388.4 787.9L416.5 787.1L304.9 787.4L355.6 796.6L295.2 781.3L401.4 757.4L393.6 703.7L292.6 793.6L394.9 762.9L411.9 768.8L318.1 777.8L319.1 802.5L438.7 704.7L293.1 770.2L340.3 776.4L386.3 797.3L446.7 743.0L398.7 622.2L393.6 758.4L420.3 662.0L359.6 762.4L384.2 796.1L335.2 718.6L394.4 669.4L323.1 782.4L445.8 662.2L384.7 745.4L310.2 781.9L288.8 788.7L294.6 756.1L358.9 657.2L392.5 798.6L385.0 599.5L401.4 793.9L425.7 744.7L294.8 783.8L395.2 764.2L392.2 712.3L357.0 788.6L380.5 759.9L401.1 793.4L401.4 727.5L410.6 611.1L392.1 798.8L299.5 779.9L367.6 796.9L375.5 702.5L303.8 775.6L322.3 737.9L311.3 747.6L353.3 800.0L311.7 796.6L392.2 741.7L301.9 782.5L418.7 736.7L404.6 769.1L319.9 791.1L309.6 785.2L297.9 797.8L381.4 795.0L395.7 797.0L399.1 734.8L319.1 791.2L345.2 669.3L382.0 792.3L357.0 801.5L354.8 798.3L395.1 784.5L428.9 724.9L317.4 800.0L406.2 726.4L361.3 727.0L419.0 580.4L366.9 783.1L329.3 711.8L406.5 772.7L396.6 707.3L407.9 736.2L290.3 712.1L289.1 774.0L426.6 712.1L413.4 756.5L349.2 800.9L363.3 713.2L292.0 780.1L386.8 793.7L393.7 666.2L374.3 787.0L351.5 732.5L314.1 778.9L315.0 793.1L396.0 745.4L421.7 763.9L406.6 730.3L374.2 709.0L390.8 791.2L376.8 645.1L332.2 799.7L438.3 796.5L413.6 640.9L409.4 762.4L292.5 776.5L380.8 733.4L302.9 776.9L314.0 771.4L423.5 789.9L308.7 785.9L388.9 780.6L317.2 712.5L379.5 629.4L393.7 727.2L418.4 660.6L380.2 775.8L428.8 631.1L406.0 780.8L400.7 770.1L427.3 594.9L375.9 677.5L410.9 743.6L309.1 779.6L302.7 775.7L419.5 741.3L425.6 775.4L406.3 644.2L315.9 779.0L293.9 802.4L313.8 792.5L317.7 784.0L340.3 799.1L419.6 623.0L309.5 798.3L320.0 780.8L426.6 722.1L389.4 633.9L317.4 779.7L364.9 726.6L370.9 801.9L326.7 762.7L417.3 762.6L312.1 773.1L359.5 793.3L438.0 776.5L323.3 781.9L341.2 775.7L388.8 772.0L417.1 623.3L395.8 685.3L314.4 797.8L303.8 776.1L370.5 794.7L397.2 743.5L304.2 661.4L441.2 771.7L397.9 711.1L300.4 798.3L382.8 787.4L410.4 726.0L316.3 782.2L392.8 785.2L305.4 801.6L439.4 685.4L346.4 685.5L409.7 733.4L419.8 659.2L390.4 720.2L409.5 714.3L346.1 774.7L287.3 779.5L407.2 784.1L387.6 764.0L320.9 792.6L306.8 766.6L410.8 729.1L357.8 712.4L420.1 670.6L423.1 752.2L438.0 664.3L346.8 765.9L410.9 779.4L306.3 783.7L290.0 778.6L406.1 778.5L313.1 801.6L422.8 682.9L411.0 740.2L388.1 731.1L403.9 792.2L399.1 683.7L376.6 739.9L314.8 800.4L388.0 756.2L390.9 662.0L386.8 776.7L393.6 618.6L376.2 622.3L383.2 663.9L317.1 779.0L297.5 790.1L374.5 795.8L389.8 604.2L295.3 778.8L293.4 761.9L397.9 799.1L422.7 701.7L373.6 753.5L409.8 627.3L400.0 796.1L377.5 792.0L336.7 792.6L367.4 792.3L415.5 654.7L372.7 704.2L295.9 775.2L394.3 747.6L409.0 634.6L367.7 772.0L428.0 673.6L417.8 798.0L431.2 628.8L343.0 789.8L421.5 786.2L373.1 796.5L315.7 782.5L347.9 689.7L333.3 795.6L425.7 627.4L383.7 769.4L298.6 782.8L398.1 777.9L344.8 796.8L376.5 737.1L379.6 795.5L382.7 625.1L329.3 802.6L310.7 785.7L390.9 705.7L391.1 776.1L317.2 798.3L366.8 743.6L390.7 795.2L365.3 677.6L308.0 791.4L358.3 779.4L314.7 799.4L405.7 680.2L426.3 753.8L421.6 627.3L394.2 738.1L371.5 788.7L412.0 646.0L385.0 736.0L402.4 737.0L431.5 661.5L404.9 640.8L314.6 791.7L391.7 685.9L388.6 674.9L395.8 659.7L301.9 746.4L381.8 689.6L367.8 797.0L315.1 782.5L312.3 770.0L414.9 717.7L369.0 657.7L418.3 655.3L420.5 713.2L312.8 773.1L448.4 776.9L394.2 589.5L301.4 794.4L420.6 753.9L412.8 737.5L382.2 771.4L383.5 698.6L410.3 779.8L323.6 783.5L362.3 602.8L415.5 720.9L377.8 692.0L318.2 793.1L326.3 790.8L408.6 748.9L406.5 762.3L317.1 714.0L398.1 668.2L335.9 792.1L311.7 794.1L410.8 775.5L315.7 760.6L322.9 793.1L316.0 797.8L317.6 778.1L390.2 766.2L416.6 695.5L315.9 781.5L362.5 795.8L364.5 758.0L403.0 759.9L367.9 792.8L428.1 768.5L315.0 799.6L413.6 761.0L396.0 692.7L311.0 789.6L422.3 767.8L312.8 786.4L305.9 787.9L381.2 684.7L313.4 780.4L350.9 779.1L390.9 653.4L404.5 791.1L388.0 776.2L377.3 731.1L294.4 782.5L381.6 624.3L385.0 646.7L337.2 766.0L378.9 685.3L383.8 797.6L291.6 771.0L421.1 668.6L311.4 782.1L396.1 730.3L407.4 789.9L304.9 801.6L424.5 715.6L328.5 787.6L412.2 712.5L385.3 691.6L331.7 664.3L391.4 637.8L299.2 753.0L341.0 790.5L288.8 776.3L377.9 707.9L426.4 677.2L300.4 772.6L322.5 748.6L315.2 769.4L390.8 772.5L349.1 799.3L299.7 783.7L325.3 793.9L339.9 782.0L388.3 787.3L318.9 777.7L417.3 742.6L356.6 693.7L308.6 795.9L405.5 686.2L394.8 766.7L307.6 799.2L342.3 765.9L388.1 729.4L311.6 782.0L436.2 660.5L441.4 735.6L425.1 711.6L326.2 786.6L297.9 791.8L391.5 738.0L353.2 789.8L380.4 783.4L416.9 745.6L419.6 760.5L386.8 736.4L405.9 661.2L375.6 629.8L387.6 800.0L313.1 773.5L350.9 785.1L409.2 761.5L371.9 789.8L393.9 732.4L366.2 796.1L415.8 730.3L404.5 592.2L422.4 769.4L299.9 747.6L434.7 593.7L374.4 688.0L322.0 725.0L384.9 660.0L420.0 732.2L386.9 786.4L429.9 800.1L439.6 596.2L361.1 677.6L384.6 778.8L354.0 799.3L301.4 783.8L386.8 768.7L300.6 770.7L373.6 633.4L364.2 767.0L396.2 757.7L295.2 798.9L391.3 643.6L393.5 707.1L417.1 681.7L413.4 604.5L398.9 763.3L329.6 791.9L345.3 794.6L367.6 799.6L367.5 790.8L385.6 763.7L335.6 741.6L402.1 619.9L394.2 689.6L442.8 791.5L416.7 745.8L421.6 658.4L392.8 782.4L377.2 711.3L390.2 596.7L368.4 801.0L410.2 800.7L421.6 726.9L395.3 762.5L420.9 746.4L344.6 742.2L314.6 751.6L404.3 775.8L395.7 787.7L396.1 800.2L393.4 711.1L357.0 655.0L292.9 797.9L399.6 746.7L290.3 794.9L294.2 774.5L379.0 799.3L307.4 792.8L291.6 759.5L353.1 800.2L412.3 748.0L390.8 770.1L391.0 791.2L379.1 648.0L386.0 755.4L399.8 769.1L352.0 634.5L307.3 767.1L408.1 599.0L384.9 756.5L305.4 772.6L400.1 793.6L417.4 720.5L305.0 784.0L411.4 726.9L320.9 787.2L393.5 650.0L308.8 781.6L384.0 746.3L420.7 797.4L302.1 797.5L289.0 786.9L308.9 793.6L396.7 750.9L379.2 783.8L373.2 596.9L396.8 649.0L400.4 705.6L406.9 800.9L442.0 794.0L435.9 694.9L425.5 798.0L398.2 602.7L295.9 787.8L406.0 756.6L393.3 661.1L387.8 789.6L424.5 730.8L387.2 786.4L402.1 735.7L416.8 743.4L294.2 765.3L344.5 793.7L393.7 609.3L313.8 793.9L318.3 789.5L415.0 610.6L298.0 785.3L407.4 651.4L308.4 790.7L310.9 787.7L311.1 780.1L419.4 711.5L424.4 648.7L306.9 776.5L399.2 795.3L370.4 791.6L358.8 628.8L298.1 783.6L386.3 782.5L410.8 747.2L389.8 759.0L292.3 776.9L423.5 766.1L398.5 757.1L291.3 798.9L368.2 795.2L375.0 679.1L318.5 778.6L383.5 752.2L435.0 650.7L329.4 791.0L414.2 764.1L381.0 755.1L304.1 772.6L314.1 783.5L384.3 610.6L383.6 708.8L397.0 654.6L419.8 738.5L441.0 788.5L395.7 747.3L405.7 758.8L411.4 693.8L382.2 711.4L372.2 757.8L381.8 779.5L307.0 790.4L419.7 789.2L393.8 791.1L316.6 580.4L378.0 723.7L400.7 716.8L390.9 667.6L294.1 774.0L394.4 751.7L350.3 791.6L415.0 636.6L426.5 789.7L392.1 755.6L302.4 801.6L399.5 790.0L409.4 610.1L347.9 592.9L388.4 768.1L312.2 789.5L392.5 793.7L421.7 668.2L382.8 797.0L415.1 761.6L321.6 789.6L367.2 778.9L405.2 781.4L413.1 786.0L391.3 654.6L408.3 775.6L394.2 788.5L307.6 783.4L370.2 792.8L325.8 776.0L374.0 629.6L415.9 738.7L375.7 619.3L383.4 785.1L298.2 782.3L318.4 785.3L437.0 760.3L293.8 784.1L367.2 671.3L349.8 791.1L423.6 757.6L385.0 757.8L345.1 791.2L427.6 711.6L435.9 670.2L346.0 734.2L411.4 715.1L353.2 776.9L384.1 612.1L412.4 736.0L417.7 633.9L394.1 682.5L303.2 797.1L380.4 650.4L414.0 737.8L415.4 763.6L431.3 796.9L312.8 802.0L372.2 796.3L286.6 788.3L403.3 647.1L390.2 637.3L397.3 736.4L395.9 747.3L297.0 780.1L381.1 632.1L310.0 778.3L379.7 720.6L427.9 774.4L390.7 793.9L408.5 626.5L309.6 791.7L370.5 773.0L406.5 760.2L312.5 790.9L422.5 746.9L436.5 800.7L404.2 675.9L388.0 651.0L368.5 698.3L317.3 775.5L406.8 759.9L393.5 792.1L392.4 791.0L401.2 736.1L307.3 704.0L369.6 659.9L404.4 802.2L401.5 718.2L383.1 637.4L330.9 754.7L423.4 723.3L361.4 774.8L404.2 786.1L387.0 607.6L421.9 779.0L415.6 717.6L395.0 739.3L405.0 748.7L382.5 697.7L411.6 761.6L307.7 770.1L388.9 603.3L312.3 741.2L326.1 670.2L393.7 760.1L397.9 639.0L330.1 791.8L290.7 779.4L436.9 759.8L293.3 775.8L293.6 785.3L327.8 779.9L379.6 739.8L312.9 801.6L318.5 778.7L407.0 757.7L319.9 792.0L370.1 771.5L386.0 580.4L420.1 656.6L294.8 795.5L324.7 764.7L350.1 798.8L404.5 625.6L287.4 793.8L411.7 696.6L296.7 789.3L415.4 700.1L358.3 777.5L375.2 752.5L296.4 779.8L405.5 615.7L387.6 669.3L383.6 680.1L385.9 702.1L345.1 785.7L310.3 780.9L310.6 783.6L379.8 793.5L338.1 800.6L382.2 673.4L401.0 799.4L327.1 662.1L397.2 719.1L362.2 770.8L357.3 749.2L296.3 702.8L301.3 793.6L434.1 798.5L422.5 725.3L287.0 713.4L395.6 622.2L389.9 789.4L404.6 716.7L304.6 793.6L316.3 798.0L289.1 776.6L430.4 789.1L404.5 766.4L406.3 702.2L403.6 764.4L424.5 755.7L295.5 782.8L409.7 727.9L323.7 792.1L397.5 776.9L319.3 770.4L399.1 755.9L427.4 742.8L353.7 803.2L300.8 803.2L320.1 779.9L339.6 781.2L388.7 759.6L366.3 713.4L367.8 754.3L409.3 598.0L289.0 787.4L310.5 785.3L357.1 795.8L298.9 748.6L407.5 747.3L413.4 668.0L418.1 678.1L407.1 681.0L382.4 635.5L291.1 780.0L332.3 743.3L322.0 786.3L365.7 794.7L392.6 783.8L407.0 606.7L361.6 790.7L313.0 779.2L397.2 734.3L411.4 651.7L295.5 779.2L386.1 632.2L393.1 705.9L419.1 789.1L409.5 724.5L365.0 794.1L444.3 696.5L317.3 762.5L302.4 777.9L399.2 643.0L405.5 796.8L358.4 789.1L333.6 793.3L415.3 651.2L397.3 777.3L409.7 624.5L420.4 658.6L299.7 781.8L398.1 609.5L357.0 733.4L403.9 741.5L392.2 687.1L381.7 693.8L357.8 661.4L300.9 776.4L378.3 753.0L355.9 654.5L444.6 698.5L404.1 716.4L313.4 778.6L299.7 801.5L396.8 744.8L397.9 766.0L419.7 760.8L392.9 649.5L368.8 758.7L324.6 792.4L305.0 779.5L436.0 790.5L423.9 785.3L396.3 712.0L425.0 612.5L309.6 779.6L342.0 794.1L391.7 799.7L384.1 728.3L365.2 742.8L393.0 753.8L359.1 758.9L442.4 763.4L374.2 787.7L325.8 759.8L363.6 779.4L356.3 793.7L444.6 769.0L291.1 777.0L373.0 794.4L293.4 780.4L398.4 744.8L292.8 769.1L423.4 652.6L293.1 794.1L295.3 768.1L358.8 688.8L369.4 663.8L368.9 641.4L325.0 794.6L329.1 791.6L343.3 791.0L357.6 793.0L363.6 792.4L390.3 799.7L315.5 775.1L398.8 791.9L306.4 769.8L314.8 774.1L339.8 676.2L445.9 800.1L289.1 786.6L357.2 778.0L396.4 766.4L401.2 748.5L339.5 790.3L425.0 596.8L393.1 666.5L360.4 717.4L311.3 784.2L391.9 784.0L404.9 785.6L346.6 786.6L395.3 615.7L405.2 681.6L319.2 780.0L297.3 747.6L381.5 795.4L381.7 670.2L363.6 774.3L393.3 708.5L385.5 769.7L409.9 760.5L401.0 753.4L406.2 641.3L402.0 725.0L400.9 672.3L313.9 801.1L406.8 580.4L388.6 764.8L386.5 802.0L448.0 773.9L422.4 729.6L397.3 753.3L316.2 671.9L435.4 612.7L324.2 790.5L337.1 794.4L407.1 726.1L363.2 795.1L360.7 792.1L422.6 726.3L409.2 739.3L304.7 761.4L318.2 791.8L392.8 740.6L402.2 690.6L406.1 762.9L418.3 722.1L288.7 773.3L440.6 788.7L449.6 776.6L401.7 768.4L293.5 786.3L337.5 799.4L425.0 698.7L382.7 660.8L394.6 793.9L404.1 711.3L404.6 657.2L385.1 769.5L388.9 681.8L308.3 771.2L417.6 761.9L308.2 795.5L400.8 757.1L425.9 599.3L423.6 787.4L428.0 729.0L320.9 771.9L405.0 692.7L384.7 764.0L405.3 683.4L414.8 629.6L417.1 640.8L353.1 739.2L400.2 689.1L385.2 674.9L299.2 770.5L393.7 719.1L290.1 803.0L295.5 768.7L291.9 759.4L356.6 757.1L445.6 796.3L426.0 713.2L316.8 797.5L357.7 795.7L420.4 709.0L410.4 781.7L344.0 719.1L356.3 785.9L396.9 610.4L316.0 781.8L349.7 796.1L319.7 792.7L376.6 787.2L370.3 762.4L388.7 802.1L406.1 643.5L317.5 761.5L320.7 785.6L323.8 757.2L396.3 662.1L297.4 793.8L373.7 795.8L437.1 756.6L365.2 785.5L379.2 785.1L370.7 786.5L397.0 730.7L296.6 792.7L390.3 680.4L433.1 794.1L318.9 794.4L321.3 793.4L433.6 737.2L307.6 793.2L427.2 742.1L405.8 782.8L372.0 779.3L385.0 797.2L376.0 801.2L398.7 791.2L288.9 781.8L385.4 740.9L317.6 792.5L311.7 789.3L312.9 790.1L359.2 794.1L369.9 792.2L320.2 788.3L396.5 708.0L290.9 775.2L418.7 699.8L415.8 735.8L299.3 771.0L424.8 722.0L314.8 799.9L383.1 733.1L407.2 719.1L360.4 596.3L311.3 795.8L316.0 789.0L368.1 644.1L305.5 748.9L400.0 689.7L317.3 785.2L426.4 694.0L355.6 793.1L415.3 720.0L415.1 710.9L404.4 742.9L397.3 768.0L425.2 624.9L385.0 774.9L413.3 783.6L433.7 797.4L379.6 694.5L391.8 734.0L389.9 648.0L392.0 755.7L386.2 717.2L422.4 720.8L393.8 600.8L400.2 712.1L360.8 725.6L409.8 761.4L318.6 802.0L376.7 786.8L300.2 799.2L387.9 795.5L413.5 735.3L299.1 792.7L356.0 797.2L422.0 783.8L378.2 610.2L389.1 597.0L315.7 784.1L296.7 786.7L431.2 790.7L398.2 767.4L364.1 636.2L353.2 796.3L356.8 723.7L393.4 787.4L398.8 754.4L393.6 598.6L294.8 702.9L401.4 733.8L393.4 635.4L397.2 761.5L354.8 687.2L323.7 636.6L291.6 767.5L379.6 745.7L386.2 802.5L435.4 792.7L423.5 792.9L409.9 767.0L391.8 734.7L396.7 743.5L301.8 803.3L426.1 706.3L402.3 677.7L319.0 665.4L434.8 625.9L384.8 660.0L367.8 790.8L420.0 735.6L381.4 645.7L389.9 680.7L416.4 779.2L415.8 704.3L424.7 748.6L426.1 777.6L343.4 799.3L382.6 608.7L400.4 774.1L409.1 608.6L325.1 740.8L365.5 781.5L417.6 759.9L377.5 802.0L379.7 777.5L411.7 721.3L339.8 738.5L416.7 798.1L400.0 732.4L414.7 712.2L381.7 624.5L339.3 771.2L305.1 793.2L384.7 749.9L393.3 712.3L412.7 732.5L434.1 635.6L348.7 787.7L378.6 801.6L388.8 658.8L427.1 645.7L353.2 657.2L383.3 795.0L395.2 739.2L395.7 698.8L407.9 674.3L408.1 780.1L329.9 794.4L400.7 611.0L437.3 787.8L380.2 789.2L366.6 771.1L333.5 792.8L379.9 721.5L411.1 766.2L394.8 723.9L420.4 629.4L411.7 709.6L396.3 631.1L394.3 653.5L404.3 647.5L307.3 792.1L329.7 793.5L375.1 671.5L394.1 656.0L381.1 775.2L304.8 787.1L300.1 786.3L293.1 773.8L420.5 760.1L428.1 661.9L313.7 784.8L290.9 801.2L414.0 621.0L333.5 802.4L294.3 755.4L361.6 784.3L319.4 791.8L366.7 757.4L446.6 785.6L408.3 724.0L308.0 769.2L314.4 764.4L311.0 786.3L414.0 753.7L397.4 712.9L391.1 619.5L390.2 794.4L309.9 795.9L424.4 644.7L408.7 589.5L409.9 678.8L343.8 749.4L300.4 783.8L411.8 691.1L434.7 778.5L398.7 734.6L305.7 776.3L302.9 790.2L395.8 675.2L408.0 787.8L423.7 733.4L406.2 792.5L308.1 786.4L424.6 649.7L344.8 795.9L290.9 785.7L364.5 619.6L391.9 792.8L389.3 803.1L351.1 730.8L374.7 727.9L393.1 677.7L400.1 725.6L416.4 785.3L422.9 795.5L346.2 792.1L422.9 645.3L398.6 758.5L386.5 800.0L311.0 747.8L375.9 790.1L417.1 703.9L352.9 604.5L367.3 795.4L336.6 799.5L426.1 794.4L358.0 791.1L330.9 790.8L373.3 785.9L393.6 745.5L381.2 785.5L290.5 777.8L326.8 792.4L393.3 800.8L394.2 741.3L403.2 678.7L380.2 676.4L411.6 749.2L391.3 759.7L413.7 797.1L423.4 597.3L406.7 696.1L329.0 791.3L303.2 788.8L395.1 726.8L323.4 733.7L368.9 622.1L391.1 770.0L368.1 780.2L389.6 749.8L384.3 794.7L423.5 709.7L417.1 698.4L404.7 779.1L441.7 790.2L399.9 745.4L343.5 789.6L383.7 630.7L396.3 742.4L397.9 798.6L404.7 760.5L377.2 777.2L339.3 783.9L367.2 800.1L357.0 733.4L433.5 754.1L362.8 789.8L314.9 790.6L390.6 705.1L297.5 799.3L406.8 708.2L306.0 753.0L415.3 737.1L404.5 778.1L423.7 587.4L421.0 693.3L366.0 718.3L413.4 710.4L395.5 767.1L318.8 758.8L376.5 695.9L304.8 776.9L430.4 642.3L329.3 793.6L399.8 727.4L295.6 774.1L404.1 676.5L410.5 671.3L348.6 789.4L406.0 635.8L410.6 773.0L358.6 638.6L300.8 773.9L389.2 637.3L298.2 778.2L423.3 607.8L369.7 744.4L376.8 746.4L392.3 762.7L369.0 786.4L395.9 791.2L402.9 715.0L413.3 744.6L295.7 789.7L362.4 792.9L412.5 647.9L399.3 788.2L314.8 797.4L394.1 730.4L366.2 636.0L336.6 796.3L343.6 793.5L294.0 773.6L389.9 717.6L357.4 716.0L303.5 711.1L420.1 797.0L359.2 705.5L314.3 786.8L449.3 749.1L366.5 787.8L383.2 791.3L408.4 654.1L326.2 783.7L413.6 776.7L362.1 795.8L384.5 668.8L402.3 774.0L333.9 790.7L390.1 692.7L315.7 796.1L300.5 759.6L294.3 791.8L415.9 697.8L401.8 747.6L322.1 791.0L414.0 661.7L390.6 738.7L394.0 698.1L392.3 671.0L315.8 774.2L356.8 793.8L412.3 791.6L396.2 764.6L411.3 641.5L430.4 778.9L408.9 706.2L327.6 799.7L407.6 792.9L327.2 798.6L349.0 791.2L418.0 757.3L308.6 736.2L384.6 613.5L419.3 774.9L376.8 803.2L398.8 727.0L366.9 786.6L332.0 802.1L423.5 744.6L413.0 737.8L405.9 594.4L426.1 739.4L391.9 796.4L409.7 745.2L428.0 790.9L314.3 799.6L394.3 772.3L425.5 710.7L373.7 776.4L413.6 795.4L295.4 779.9L402.3 719.3L339.4 800.6L424.0 729.0L419.1 655.2L374.1 717.6L346.6 794.4L290.0 678.8L321.5 723.3L416.7 669.9L399.2 719.5L299.1 789.7L320.1 763.4L337.2 785.6L342.1 716.6L432.6 591.1L389.2 798.1L344.2 754.4L314.8 800.6L351.2 792.4L407.9 740.7L421.5 737.6L424.0 708.4L420.3 705.3L415.9 724.7L389.6 650.6L449.0 749.7L412.2 801.4L294.1 801.9L315.7 801.9L396.9 666.9L296.1 799.8L411.1 778.4L397.1 787.1L404.1 780.6L422.2 735.1L384.3 580.4L392.2 604.8L371.4 662.2L394.3 664.4L398.3 708.3L352.5 783.1L403.2 702.3L396.7 710.0L387.6 605.6L321.5 701.3L297.4 780.2L372.5 693.8L420.2 709.6L411.1 708.6L318.0 790.3L376.6 795.1L407.1 719.1L404.5 752.2L385.0 618.0L372.5 796.0L409.0 791.2L385.0 667.5L314.6 794.7L415.6 709.8L387.8 745.9L388.6 730.7L292.3 789.4L442.5 784.3L294.3 780.7L410.9 733.9L434.6 792.8L421.1 648.6L307.3 796.3L413.0 732.6L400.6 734.7L308.5 800.6L392.4 747.8L425.2 720.4L379.4 781.6L417.3 739.4L317.5 779.0L316.3 789.9L303.4 798.3L423.3 745.9L439.7 782.5L334.7 797.7L294.6 796.5L358.4 613.4L316.0 794.9L411.7 719.9L385.0 795.1L414.5 720.6L407.1 762.7L394.0 612.5L394.9 724.8L425.2 769.5L349.9 774.5L367.9 706.9L299.9 772.3L384.4 784.6L390.3 791.4L423.3 719.0L351.0 794.5L374.5 798.9L393.4 664.4L434.7 706.4L422.5 768.5L393.9 749.9L362.0 795.9L369.9 657.8L360.3 797.2L412.3 771.0L397.3 733.9L288.8 777.8L388.6 580.4L423.1 627.1L320.2 773.2L413.8 724.5L399.9 771.9L391.3 779.7L408.3 618.3L305.0 777.6L412.1 751.1L315.9 731.8L296.0 797.8L394.1 692.4L301.9 777.3L395.6 736.3L414.4 716.0L448.7 791.0L400.2 763.6L414.7 725.1L435.2 641.8L352.5 787.6L309.4 798.3L311.0 767.8L295.4 774.7L380.8 630.1L392.1 746.9L413.1 737.3L295.6 780.1L383.1 772.8L330.2 792.4L376.9 739.8L403.2 589.4L442.6 712.1L314.3 800.3L359.0 797.5L401.5 748.7L365.7 765.7L374.9 684.8L411.4 612.5L384.0 782.0L306.1 794.1L316.4 793.4L388.0 777.2L308.7 785.5L317.9 793.9L409.2 647.4L422.5 685.4L369.2 803.0L317.7 793.2L393.7 742.7L426.4 727.9L389.8 796.5L411.0 728.8L414.5 607.1L408.7 717.6L406.3 743.4L299.8 776.5L410.7 743.0L380.9 649.0L399.3 758.6L406.5 764.1L397.6 726.3L368.3 637.0L304.0 783.2L397.8 792.2L358.1 734.7L293.5 793.8L394.6 608.5L379.2 771.9L397.5 741.2L303.2 766.5L312.9 772.8L314.8 777.2L420.4 763.0L392.1 798.6L398.2 706.0L391.3 731.6L308.7 790.8L313.3 780.6L437.5 599.9L322.8 793.1L392.2 711.5L411.3 651.2L306.7 766.8L397.0 738.3L389.0 607.2L345.3 777.0L367.2 786.2L420.0 798.4L410.3 666.4L383.5 701.0L300.3 779.3L375.4 754.2L366.8 768.8L412.0 681.3L304.7 773.6L397.0 757.8L366.3 682.0L403.6 647.3L406.4 727.0L432.7 780.1L299.4 795.3L357.6 590.3L320.7 720.1L327.6 790.9L419.6 753.7L406.5 758.8L288.5 789.0L435.8 699.3L318.2 774.3L357.9 781.2L425.8 744.1L425.5 784.3L382.2 696.8L314.3 772.6L405.9 729.8L390.7 625.9L338.2 713.2L353.5 771.2L317.9 789.0L319.7 791.9L379.0 779.6L350.9 793.5L404.1 718.8L417.4 777.9L405.2 745.6L365.7 790.6L387.0 776.2L407.4 773.1L389.1 769.6L422.7 714.4L419.6 690.8L401.5 679.9L409.2 711.6L416.5 770.3L396.6 708.3L393.5 759.8L425.7 738.5L352.3 793.2L379.4 760.7L366.4 607.9L315.9 784.9L413.8 755.8L306.2 797.5L407.6 601.6L418.1 802.1L407.5 727.2L371.8 663.1L374.2 731.1L417.5 614.3L345.8 792.8L417.1 656.4L402.7 656.2L306.6 791.4L308.3 626.4L449.7 790.8L439.0 778.1L391.1 701.0L403.6 770.5L366.7 743.9L395.3 621.4L318.3 801.1L290.0 789.3L407.3 775.6L319.0 775.9L337.6 766.5L310.5 783.9L401.3 725.0L332.1 769.1L306.6 795.3L397.5 627.5L453.9 648.1L394.0 744.6L346.8 797.5L421.2 729.1L309.8 802.8L339.4 746.8L315.3 789.0L387.2 800.6L421.9 645.6L333.8 794.1L375.5 669.3L403.2 734.4L323.9 768.4L405.8 713.3L387.1 787.0L390.3 641.4L396.0 797.4L401.5 634.1L409.7 776.7L404.7 620.6L393.8 615.4L386.7 621.0L425.4 734.4L359.2 713.6L419.4 729.9L412.0 771.1L406.8 698.5L298.1 776.6L355.1 785.3L311.7 789.1L379.5 767.2L306.9 776.9L375.8 653.8L415.1 707.3L390.9 596.9L334.8 796.9L401.9 715.2L388.5 734.9L288.4 787.4L295.5 784.9L365.8 794.4L418.2 745.3L350.9 782.7L392.1 787.7L371.3 619.6L320.7 799.3L389.7 661.7L305.7 798.1L394.0 607.9L399.1 680.6L309.6 717.7L390.0 790.3L361.0 786.6L317.3 773.0L394.1 670.9L409.2 710.1L376.7 687.7L452.7 746.1L293.9 799.1L340.3 793.2L424.5 762.6L287.8 771.2L293.4 740.4L323.4 784.8L423.2 701.5L316.3 787.7L389.6 657.3L405.8 728.0L374.2 797.3L432.2 791.9L319.3 722.0L321.6 769.2L317.1 796.2L407.1 590.8L378.7 739.7L425.2 707.9L368.2 678.0L412.8 745.4L393.1 626.8L402.9 785.7L289.9 763.2L423.9 768.9L416.7 696.6L376.2 615.1L421.8 680.6L312.8 748.5L390.4 789.3L322.0 791.8L425.2 603.0L403.2 766.6L413.0 729.4L374.0 754.8L367.8 701.0L403.3 750.7L380.1 703.6L341.6 793.5L292.4 767.9L345.1 794.0L378.6 789.6L399.2 706.1L373.3 744.9L390.3 712.3L326.3 799.6L375.4 701.0L412.9 789.7L395.9 694.5L295.0 794.6L408.2 753.8L381.4 752.6L372.8 785.7L379.5 624.4L309.4 796.3L419.8 771.7L386.2 720.4L312.2 778.4L409.2 614.4L293.8 772.7L335.1 789.6L333.0 786.7L360.8 800.7L389.9 723.9L412.9 653.5L301.4 753.7L406.4 703.4L309.5 799.7L393.0 580.4L352.3 752.6L307.0 801.2L358.0 787.6L308.0 779.7L404.1 757.6L448.4 752.7L406.1 789.2L445.7 802.3L390.3 617.7L401.1 592.2L333.5 797.1L368.7 691.5L412.3 726.0L303.9 783.4L375.2 685.1L413.0 734.2L298.4 791.4L384.7 737.1L353.8 781.6L400.0 772.9L304.6 777.0L367.4 762.3L398.4 772.7L291.7 789.6L318.7 775.5L416.4 790.1L384.4 707.8L404.1 732.7L388.4 705.1L403.1 655.2L406.8 761.9L307.1 767.1L318.4 800.5L358.7 780.3L396.7 773.5L376.8 702.5L373.7 731.1L323.3 789.6L389.5 706.4L372.5 724.7L296.6 789.1L426.2 737.5L306.6 719.9L358.3 658.3L336.7 793.8L410.0 797.7L423.9 753.6L408.0 706.4L444.2 790.6L391.4 698.4L377.5 731.0L390.1 718.5L351.9 704.7L347.2 796.7L295.9 797.6L418.5 605.5L313.4 775.9L404.2 777.1L415.7 754.9L380.8 790.5L416.9 746.5L394.8 738.0L401.4 721.1L396.4 760.5L414.1 737.2L369.6 691.7L417.7 675.5L417.6 790.1L417.6 738.0L397.8 782.2L373.9 609.4L286.1 795.3L312.8 790.0L399.8 754.6L309.0 788.7L320.9 788.4L418.3 743.2L381.1 797.7L379.1 792.3L347.9 793.0L398.6 779.2L322.8 781.5L378.9 755.4L415.2 718.7L424.0 801.7L422.4 699.5L382.6 793.0L304.1 786.5L302.7 795.2L392.4 794.8L406.7 784.2L367.9 785.2L390.3 734.3L312.6 803.0L428.7 776.2L315.6 781.1L421.5 762.8L413.2 744.9L311.3 766.0L394.2 774.0L358.3 800.4L408.1 708.2L374.4 789.8L384.6 790.7L394.0 738.6L412.5 748.1L316.6 797.8L384.5 783.8L353.6 709.8L373.6 787.4L419.6 753.5L351.6 790.2L385.5 760.7L407.5 751.4L369.8 801.5L310.2 797.6L396.0 759.6L298.7 768.2L414.7 702.9L361.7 698.2L318.3 798.3L309.6 785.4L394.2 591.6L406.7 727.1L310.7 796.0L359.0 740.4L355.6 788.5L371.8 789.1L408.0 756.5L325.8 795.2L387.6 684.4L312.0 763.3L315.5 787.2L428.1 774.6L404.9 739.5L335.4 716.8L316.2 773.2L386.4 694.4L294.5 776.9L425.5 787.2L375.5 737.5L407.3 705.3L293.1 796.7L366.2 638.2L400.1 656.3L374.4 785.0L295.6 764.1L400.2 751.7L397.9 659.7L434.0 619.5L314.9 755.1L410.2 713.4L414.3 778.7L387.3 731.5L446.2 688.0L365.3 768.8L395.5 656.0L405.8 790.0L372.9 789.5L393.8 636.5L398.2 787.4L433.7 715.7L401.0 764.3L364.8 637.3L405.0 747.9L385.0 798.8L330.7 766.7L297.9 784.6L296.4 667.3L385.7 791.5L395.1 696.7L402.0 706.1L411.1 712.8L303.6 784.0L435.8 734.0L385.9 794.1L398.9 740.1L306.5 796.1L287.8 725.5L345.0 794.2L398.1 733.1L356.4 638.5L411.5 735.9L404.5 618.3L414.6 694.7L357.3 632.1L388.6 706.8L409.0 642.9L403.2 788.2L320.8 794.7L380.8 798.5L432.8 730.7L406.4 714.1L369.3 790.7L321.8 789.2L400.4 745.0L426.6 771.0L331.7 758.2L299.1 790.3L411.1 717.0L405.3 768.3L418.7 621.3L319.5 772.9L373.6 728.7L408.8 636.2L424.4 757.4L330.8 742.3L395.3 707.9L318.8 784.4L417.6 591.9L383.9 653.2L404.3 772.4L304.6 788.0L427.0 698.0L437.3 728.0L300.2 793.8L367.7 788.7L352.8 688.9L414.1 662.8L297.6 790.3L397.5 784.5L314.2 729.2L312.8 794.9L357.7 644.3L354.9 761.5L376.9 743.2L415.1 708.8L385.8 611.1L401.9 670.7L316.6 800.8L335.7 779.8L422.8 732.9L363.9 791.7L445.5 794.3L305.3 768.4L365.0 674.9L318.5 798.3L293.0 799.2L322.2 793.3L331.5 783.2L414.9 744.1L392.1 751.5L396.5 794.9L310.7 761.3L299.8 792.3L379.9 659.9L302.8 780.5L342.1 757.6L429.4 665.9L372.4 793.0L318.5 787.5L421.6 722.4L299.0 787.1L389.9 737.4L421.2 757.9L290.2 792.4L287.0 792.9L338.2 793.1L289.9 803.1L398.0 590.4L393.8 797.5L421.0 587.9L387.9 648.2L347.8 788.4L418.4 682.6L344.0 790.1L392.1 675.1L422.5 780.7L302.1 779.5L422.5 777.8L407.8 757.8L316.9 782.6L314.9 761.5L394.4 790.5L376.8 789.5L387.9 745.0L389.2 605.2L351.2 739.1L386.6 626.6L387.8 803.1L288.7 749.7L310.4 777.7L303.7 780.7L400.2 619.7L419.9 716.7L385.9 709.5L288.7 775.6L377.3 580.4L383.1 772.6L449.3 717.5L378.8 793.4L385.6 601.6L394.4 764.8L315.8 785.6L400.0 789.9L321.9 797.9L385.1 795.3L311.0 787.8L369.9 792.4L426.7 752.3L374.5 648.1L344.7 781.0L321.8 771.5L322.9 766.7L410.2 779.0L327.9 760.4L334.4 752.8L348.8 748.5L399.0 736.6L299.7 796.3L437.7 628.1L319.8 774.7L362.5 687.9L423.8 717.7L386.7 794.0L357.3 761.1L360.7 607.6L396.8 716.5L296.2 778.2L291.0 794.5L317.0 769.4L294.5 799.8L388.5 791.2L388.1 760.1L370.9 666.5L313.5 802.7L414.8 624.7L301.3 775.6L391.6 733.5L389.4 760.2L412.2 735.5L363.6 762.6L367.3 654.4L381.2 753.7L408.1 684.3L296.0 785.4L395.1 749.3L414.7 734.7L391.9 719.2L295.7 723.8L407.2 673.4L328.4 786.1L404.3 792.5L337.6 740.5L313.0 795.5L413.7 686.3L394.5 781.3L361.5 664.2L339.4 800.5L291.4 780.1L432.9 598.8L405.4 591.3L425.0 709.2L373.6 625.7L360.8 637.1L345.1 792.0L403.5 770.8L397.9 794.2L422.3 778.5L287.8 749.4L421.2 730.6L396.6 729.0L317.5 797.7L392.4 673.6L422.8 750.7L364.6 742.7L299.3 785.3L420.5 705.1L386.4 743.2L415.3 680.5L403.7 695.8L358.8 722.8L312.1 790.1L396.4 613.3L302.6 803.2L291.6 768.5L393.3 769.1L404.6 742.1L411.8 743.8L404.4 752.4L410.0 769.4L311.0 766.4L402.4 749.0L414.7 793.6L405.0 788.5L444.1 729.1L411.5 715.0L357.4 694.4L367.2 752.0L311.6 776.8L379.0 693.1L388.1 754.3L376.2 670.1L352.3 792.8L424.3 764.8L439.0 689.5L405.0 702.8L417.0 705.5L394.6 661.4L386.8 602.5L416.0 768.2L413.6 774.9L316.3 796.9L370.4 676.3L447.4 796.8L316.0 792.4L425.9 745.2L419.1 797.9L381.8 778.8L415.0 715.0L359.8 722.0L382.5 802.7L291.9 790.3L415.0 770.3L290.8 799.6L310.6 769.0L399.5 642.8L322.7 786.6L437.6 798.3L377.6 792.2L418.6 713.4L395.0 792.4L296.6 775.7L400.7 770.2L369.8 735.7L291.5 790.6L347.5 658.8L311.1 803.2L445.2 775.0L414.3 636.7L367.8 776.1L303.9 786.1L388.8 742.9L371.2 711.0L353.4 786.5L400.4 702.7L445.1 657.3L407.5 730.2L406.3 674.3L425.6 749.4L330.1 778.5L389.4 629.3L380.7 768.1L357.0 670.9L369.6 783.0L322.1 792.3L312.6 782.2L293.7 738.9L309.7 782.7L424.0 742.4L421.1 761.2L424.1 736.1L409.0 629.4L306.8 719.0L371.3 719.4L383.2 797.8L391.4 665.1L386.6 786.4L402.8 725.7L334.0 795.2L292.4 803.3L350.4 796.8L330.6 787.8L398.8 710.5L425.3 750.1L360.3 791.3L319.9 770.4L423.1 729.2L294.3 792.0L442.9 773.8L419.6 605.3L377.2 738.3L399.8 618.5L341.1 777.2L405.5 737.1L306.3 786.7L404.1 660.7L422.8 742.3L418.9 718.0L393.4 787.1L338.6 601.5L380.0 792.4L315.4 802.0L420.8 635.9L394.9 756.5L301.8 770.2L420.9 742.1L414.4 695.7L312.4 798.6L308.7 788.2L408.3 719.6L414.0 720.3L370.0 695.3L412.6 700.0L314.9 769.4L329.5 742.7L302.8 803.4L379.7 715.9L402.6 796.6L387.5 746.5L299.5 780.2L289.0 771.3L325.0 743.5L294.9 785.2L382.5 772.9L396.1 778.5L311.7 787.9L306.0 772.9L389.4 799.1L333.2 781.0L428.2 741.2L447.4 589.5L317.8 802.6L301.4 787.3L356.5 777.0L387.2 771.1L405.9 752.8L397.3 775.9L382.0 767.1L387.9 791.6L409.6 759.1L443.1 630.4L409.7 772.9L308.7 778.7L412.1 772.9L365.9 785.3L404.7 697.5L406.3 795.7L381.9 655.9L306.3 770.2L382.7 718.3L331.2 683.2L426.0 758.5L338.9 792.7L415.3 790.2L403.1 597.4L415.0 732.7L304.4 797.8L407.0 775.4L408.5 775.2L396.8 743.8L314.9 774.2L392.8 737.9L392.4 728.0L316.6 786.2L315.7 771.7L383.2 718.8L395.4 789.3L419.6 703.0L286.7 773.6L416.6 650.3L421.9 788.0L396.0 707.5L423.1 740.3L289.7 777.7L290.6 770.9L384.1 793.3L410.5 692.0L397.0 736.4L356.0 657.2L419.6 619.8L302.2 758.3L412.9 670.1L382.0 674.3L309.6 776.9L398.7 671.1L421.1 663.2L341.2 781.7L304.4 771.0L396.3 751.2L445.6 801.9L314.8 711.9L405.9 766.6L317.3 773.1L418.6 633.9L363.1 791.5L369.1 786.1L391.4 793.3L448.7 630.4L291.4 795.7L415.1 713.8L292.1 772.1L388.8 774.8L387.0 732.7L290.9 767.8L370.6 791.6L417.9 750.6L298.4 776.7L348.2 694.0L354.6 763.9L332.1 714.1L302.0 786.5L400.7 775.4L307.3 770.7L400.5 708.5L371.7 797.0L399.4 709.3L309.8 622.3L411.1 723.3L393.3 611.5L301.5 803.1L422.0 786.8L397.2 636.4L398.3 795.5L290.4 781.4L400.5 753.8L376.6 639.8L450.0 670.7L292.5 784.0L362.2 795.6L396.1 677.8L421.9 788.2L422.1 639.8L295.6 771.0L418.0 744.1L409.3 603.4L289.1 784.4L423.7 749.0L401.7 722.3L433.5 716.3L382.9 625.5L402.4 629.7L367.4 776.0L294.9 787.5L393.8 628.7L407.4 629.8L305.5 787.8L303.7 802.8L318.0 793.7L431.1 682.5L318.0 786.7L397.5 794.8L388.7 762.2L304.6 779.2L306.5 779.2L402.1 709.1L398.7 640.4L392.0 787.0L411.8 712.6L373.8 672.1L374.0 787.4L401.7 710.9L370.9 722.1L381.8 773.9L448.5 781.6L301.9 793.5L417.4 625.9L427.3 695.0L353.7 606.7L327.9 796.7L407.9 758.4L416.8 723.7L394.7 718.6L369.9 782.0L304.7 779.7L360.8 797.4L307.5 776.3L376.4 782.2L350.1 791.9L347.5 711.8L391.1 754.6L382.7 664.6L396.0 711.1L412.7 785.1L441.4 792.3L385.2 628.3L382.9 786.8L295.2 781.7L380.6 615.5L443.6 775.6L391.4 592.9L418.6 764.5L311.5 796.1L306.0 772.8L330.6 770.3L392.1 600.2L415.7 720.4L311.9 784.2L405.0 691.7L311.7 776.1L393.0 724.1L386.3 772.9L350.3 776.9L326.4 790.3L441.9 687.7L376.8 717.2L389.2 783.2L344.8 782.1L317.8 793.3L386.8 790.8L306.8 695.3L346.6 788.6L320.3 776.4L421.6 592.5L400.3 610.0L314.0 784.4L400.8 778.5L391.9 732.2L403.3 612.1L379.5 780.5L395.2 783.1L300.5 788.3L337.5 746.1L393.5 717.5L359.9 697.9L289.0 785.8L396.6 736.2L421.1 637.8L372.7 789.9L389.1 756.9L371.8 797.2L371.8 680.7L397.5 771.9L372.9 636.5L361.2 792.7L424.6 588.2L340.4 744.4L332.8 785.1L399.5 711.5L426.7 661.0L394.3 738.0L331.6 790.1L295.9 674.2L367.6 677.8L402.1 746.3L421.3 790.0L408.0 756.9L305.9 775.9L345.9 771.0L426.3 738.7L324.8 777.1L356.3 795.5L444.7 739.8L309.0 790.9L357.0 782.5L413.8 702.9L383.4 613.5L400.2 716.7L415.2 669.4L377.3 797.7L368.7 794.7L313.3 790.2L392.3 754.0L401.9 716.1L412.7 724.2L412.8 723.9L342.6 797.7L353.2 789.6L303.0 779.8L316.7 778.0L290.6 718.1L293.1 788.2L299.2 798.1L333.4 752.1L423.4 761.3L343.8 729.1L403.7 799.8L401.5 794.1L297.1 792.0L403.1 757.6L320.5 781.6L339.4 797.0L391.4 697.3L410.8 620.0L429.0 784.6L368.2 684.1L317.2 788.1L321.5 795.6L347.7 794.0L295.5 772.6L315.7 769.8L438.3 782.5L317.6 783.7L357.6 663.0L408.8 715.8L388.1 655.0L443.0 794.6L421.8 749.1L391.4 644.0L405.8 773.1L292.8 774.4L289.9 701.3L425.9 726.7L412.4 616.2L344.8 798.9L303.0 776.7L390.7 615.7L305.1 649.9L291.6 802.0L427.7 741.6L393.8 675.5L330.3 798.4L396.6 692.4L414.1 751.5L326.4 786.1L362.5 800.5L358.3 794.7L410.6 623.8L393.6 758.9L385.2 791.7L423.0 781.0L444.6 786.3L439.5 786.0L382.0 767.7L386.7 790.2L302.0 768.3L381.4 740.2L330.2 751.8L384.7 643.8L361.7 580.4L368.3 799.7L430.9 795.2L401.8 757.5L316.0 786.3L415.7 728.8L413.3 705.0L378.1 773.1L394.3 663.8L388.2 602.9L374.8 781.7L289.9 779.6L391.9 724.9L321.1 792.3L314.8 784.2L349.3 782.8L317.2 787.9L406.8 789.0L398.5 667.9L307.7 795.3L317.2 640.9L299.0 785.5L386.7 776.1L335.0 800.8L414.0 663.0L310.8 791.2L391.2 708.7L400.7 612.1L423.2 684.6L413.8 716.3L341.4 788.0L395.8 786.5L443.2 789.2L358.4 737.2L332.3 776.7L431.1 749.8L378.2 631.5L386.3 788.5L368.7 734.8L406.9 776.6L388.6 667.9L379.0 651.9L394.0 799.3L392.8 697.9L417.4 664.2L400.0 758.8L400.5 775.9L297.7 761.0L394.8 769.2L357.5 596.3L352.7 791.6L293.5 780.3L403.6 657.1L384.5 686.5L358.4 782.9L378.2 630.4L409.4 751.3L402.5 747.7L430.8 676.0L298.8 665.6L422.3 786.4L393.9 634.1L390.7 789.4L425.3 696.0L392.4 752.0L393.8 769.4L428.0 660.0L365.5 785.6L377.2 753.8L336.7 745.8L314.8 800.2L422.6 776.6L417.2 801.6L316.5 787.7L428.9 667.0L404.4 740.7L354.9 747.3L392.6 746.2L398.5 789.9L343.8 790.6L370.8 790.4L312.1 800.6L373.4 710.5L340.0 790.9L399.2 722.4L349.7 712.1L298.0 798.6L319.0 799.3L312.4 803.3L307.3 794.1L407.3 749.3L356.1 669.7L290.0 786.6L315.6 788.8L444.5 796.6L391.2 739.7L405.5 658.7L357.3 795.5L320.1 780.3L394.3 698.8L408.2 704.1L422.9 720.9L293.1 785.6L425.2 677.6L422.5 762.1L433.7 777.2L397.7 776.2L378.0 638.8L426.1 792.4L320.8 781.2L440.1 680.4L391.3 795.7L377.2 747.8L400.2 780.4L395.3 791.8L405.4 758.9L302.9 691.1L303.0 801.1L418.6 695.2L374.3 798.1L314.4 772.6L375.8 797.4L406.4 740.8L440.4 790.1L399.5 701.9L379.1 607.7L365.8 799.6L388.8 797.8L303.7 797.4L402.6 678.3L384.4 800.0L370.1 790.8L291.0 789.1L391.6 795.4L371.4 662.0L297.8 792.3L384.5 624.2L350.2 670.2L376.2 673.0L336.4 794.1L320.9 730.4L431.7 791.2L413.9 765.8L396.4 616.5L417.9 710.9L312.9 801.8L384.4 634.2L378.0 772.1L370.8 793.0L393.9 654.3L298.6 647.8L373.2 694.3L376.9 646.9L365.5 785.5L401.1 742.7L422.2 639.9L405.0 715.3L420.2 772.7L405.6 702.7L401.7 778.8L377.7 781.3L432.0 686.0L352.7 739.7L420.8 635.2L396.1 601.5L306.5 772.3L407.4 754.6L311.8 772.1L342.2 786.0L314.8 795.0L307.4 774.4L420.6 663.5L417.7 770.1L388.1 666.0L293.5 799.2L397.2 785.2L401.9 765.8L404.2 758.6L382.3 682.5L397.1 766.2L380.2 766.6L288.6 774.5L425.9 736.7L419.2 729.0L424.8 732.1L357.3 772.9L308.1 797.8L337.0 796.4L401.0 696.1L397.1 723.3L408.3 769.3L376.3 792.6L403.4 794.1L414.0 756.6L397.8 771.0L431.2 580.4L324.0 755.5L345.9 619.7L377.1 737.7L387.0 722.8L393.0 733.7L323.5 791.9L302.7 772.0L383.6 707.2L329.7 800.3L375.8 613.9L419.7 780.0L397.2 751.2L297.0 777.1L314.6 782.3L403.0 655.5L394.3 738.4L383.0 685.0L356.2 776.2L319.9 777.3L395.6 621.4L347.7 794.8L300.1 728.3L389.7 802.4L387.8 795.9L308.7 797.4L356.5 795.6L420.4 744.1L301.0 735.1L423.5 703.1L416.2 743.6L313.9 793.0L409.8 724.0L423.6 619.1L419.6 792.0L382.4 618.5L392.7 761.1L369.0 716.3L303.1 789.6L401.1 741.2L394.7 792.8L316.4 788.7L446.0 604.9L407.2 792.2L404.4 737.7L383.8 780.2L393.4 674.3L414.8 772.1L302.1 778.5L311.1 800.3L320.5 792.8L398.7 720.0L396.8 637.5L356.8 763.3L298.3 794.3L325.7 761.5L287.5 799.0L352.6 792.1L390.7 665.2L322.8 793.0L447.5 611.6L310.6 780.5L312.7 795.6L315.6 771.3L446.5 682.5L296.9 780.7L389.8 802.5L301.8 769.8L397.6 606.0L337.1 783.1L426.0 786.9L345.8 788.8L297.8 789.3L430.6 645.6L384.6 640.9L377.0 794.3L324.4 712.4L419.9 640.2L371.6 650.2L407.0 759.4L386.7 673.2L334.9 796.4L302.3 800.0L390.0 733.5L410.2 662.1L314.3 799.1L392.3 595.7L355.6 771.6L418.7 706.5L294.0 803.0L385.9 803.2L382.7 771.3L308.1 801.0L392.7 670.5L385.9 680.5L317.7 718.7L393.2 788.1L352.0 694.3L413.6 785.6L411.4 718.0L306.1 755.3L409.4 600.9L431.7 780.8L289.3 788.4L310.1 773.5L292.5 785.9L311.7 793.3L299.5 774.0L357.4 801.5L408.0 728.7L391.9 765.3L314.3 776.4L401.4 775.0L401.8 780.7L397.7 722.1L324.3 793.1L402.0 801.7L317.0 774.7L421.9 704.6L405.9 763.0L422.6 634.6L327.9 788.4L362.1 785.6L374.4 756.9L423.1 661.6L392.5 740.8L343.2 612.5L356.7 710.1L381.3 800.4L356.4 789.0L320.9 726.0L327.8 717.0L341.2 777.5L395.3 689.7L446.8 715.7L337.4 751.6L394.9 672.2L344.9 786.0L335.9 797.4L381.7 668.5L317.4 782.8L387.8 781.0L400.8 727.0L436.7 602.7L369.0 786.9L312.5 771.2L398.5 710.9L386.1 765.3L386.4 748.9L322.2 763.1L407.5 738.4L419.6 725.5L294.4 777.5L396.0 676.2L347.7 735.4L410.3 653.4L414.4 724.5L414.7 591.9L374.7 772.0L397.3 718.9L397.9 785.1L353.9 779.3L412.1 757.8L421.0 795.2L393.7 646.1L382.5 638.0L380.8 783.9L391.0 713.8L361.3 800.3L440.3 788.3L390.8 647.3L297.2 741.1L302.1 780.8L383.0 722.0L405.5 646.9L406.6 758.6L391.0 686.4L335.0 791.4L452.1 801.9L381.1 695.7L386.4 765.0L393.0 776.6L381.8 794.9L443.7 752.9L394.2 675.2L425.9 736.1L386.3 792.6L382.1 677.4L394.9 796.3L393.2 788.7L391.2 652.9L404.3 729.3L291.5 786.2L333.6 783.0L445.4 742.4L398.9 750.2L411.7 673.9L407.1 697.5L427.6 608.9L386.0 790.1L370.1 795.1L393.4 711.8L300.4 792.7L402.4 703.5L312.7 799.6L305.8 782.9L289.5 783.2L417.3 712.3L323.5 787.7L372.7 685.7L383.0 797.5L394.0 757.9L293.2 795.7L404.7 740.6L403.2 709.4L290.0 789.6L401.5 709.5L428.4 717.5L397.7 711.1L400.1 786.9L312.3 667.8L392.7 617.9L312.0 794.1L398.8 760.5L427.4 659.7L396.0 748.9L374.9 725.0L363.7 736.5L418.0 704.6L307.3 788.3L375.0 585.5L390.4 744.5L303.0 770.3L392.8 673.7L410.7 701.4L440.0 778.9L424.0 742.1L410.4 726.4L349.8 708.1L418.8 751.4L294.8 774.6L369.4 790.0L314.2 742.1L398.1 741.5L317.4 793.6L297.8 772.2L349.9 764.1L407.7 756.4L396.3 673.3L331.3 795.8L418.7 765.2L398.1 629.0L316.9 795.4L357.1 719.2L394.6 585.7L361.9 766.8L355.4 750.4L293.0 775.2L401.4 695.2L384.4 634.5L360.5 662.0L396.7 632.7L287.9 786.2L385.9 694.2L308.7 796.7L397.4 620.5L303.0 776.8L416.0 727.4L423.4 720.0L308.4 777.8L397.5 711.6L445.8 649.2L398.6 699.4L378.9 795.2L369.6 793.8L374.1 662.5L380.6 795.6L410.5 711.4L320.7 759.9L377.2 664.6L302.1 799.3L420.1 739.2L390.6 685.0L415.1 709.3L376.9 687.1L300.0 788.9L383.0 760.6L384.6 731.3L398.7 709.7L381.9 746.9L418.1 792.8L312.9 796.1L417.5 751.7L295.6 790.0L313.5 791.8L382.7 766.9L411.8 743.6L316.4 789.5L442.6 794.7L410.3 641.6L407.3 773.6L416.6 636.0L388.9 648.7L402.0 779.3L358.8 723.0L413.0 762.7L366.4 775.1L418.2 743.9L413.7 736.9L347.4 789.7L387.7 742.4L419.7 759.6L379.0 671.1L414.1 791.1L299.3 797.0L302.0 793.2L431.3 764.3L350.4 721.5L314.8 790.8L302.4 795.7L393.5 779.0L400.3 707.6L385.3 676.7L320.5 792.5L364.9 790.2L434.5 777.5L418.2 749.0L374.6 624.9L318.9 802.2L340.1 795.1L291.8 786.6L304.0 725.5L417.0 731.8L344.4 767.9L390.6 616.5L357.5 771.6L307.4 772.9L396.8 715.2L379.2 598.1L330.3 796.3L292.6 795.8L334.7 762.4L306.3 747.4L413.9 797.3L427.9 634.8L379.7 626.2L313.7 791.2L394.6 715.3L395.8 746.3L387.8 782.0L397.1 715.2L399.3 758.5L355.4 677.0L315.6 796.3L428.8 800.4L370.1 757.2L451.1 789.5L417.0 778.7L402.4 768.5L330.3 795.9L314.8 790.6L377.0 790.6L350.2 672.8L396.8 721.1L389.6 685.9L361.4 618.7L290.9 782.4L347.2 760.7L306.2 803.4L394.8 702.3L332.7 738.2L402.6 686.9L394.7 796.3L440.3 792.7L374.6 749.5L320.0 777.3L412.5 715.4L377.1 793.0L373.3 781.2L414.5 689.7L421.9 718.6L409.5 590.7L432.0 639.7L314.9 775.6L315.2 791.7L331.7 787.1L296.7 801.0L342.9 731.7L396.4 735.1L417.2 609.1L422.8 727.1L434.4 686.3L316.9 795.6L304.5 771.2L312.5 740.9L353.8 736.1L407.2 784.2L344.2 785.9L437.6 634.6L395.0 709.4L423.5 790.9L396.6 624.2L305.2 786.9L426.5 725.4L383.4 728.1L393.0 657.4L384.4 680.5L376.7 659.9L366.0 795.1L394.8 710.6L307.1 769.1L402.5 795.9L425.7 800.9L418.3 634.3L421.1 803.0L376.8 640.2L415.9 771.4L427.2 769.6L378.6 638.6L385.0 785.3L429.2 657.7L371.5 680.3L424.9 795.6L425.7 699.3L420.5 752.2L394.2 731.2L295.8 790.5L410.2 761.2L416.5 753.9L291.5 759.3L308.1 796.6L370.1 767.2L416.5 802.2L382.9 793.3L396.7 783.8L420.3 761.5L376.1 789.4L299.5 712.2L349.3 672.9L382.9 743.6L297.5 723.9L316.7 796.4L307.3 767.2L357.5 687.1L306.9 762.6L414.2 690.6L430.3 713.2L348.4 727.3L418.8 733.5L320.9 681.5L426.8 713.0L422.2 639.7L316.6 789.9L398.2 606.8L406.0 614.2L396.4 768.5L382.2 682.7L387.7 681.5L367.5 790.6L433.3 786.6L387.1 731.2L410.5 670.4L428.1 763.6L367.4 790.9L310.3 787.5L422.6 791.8L383.5 603.8L374.6 791.7L378.9 646.2L376.7 793.7L370.5 656.2L439.6 787.7L380.7 763.2L431.2 779.5L388.3 698.4L379.7 780.0L320.9 784.1L444.1 711.8L370.4 761.2L345.8 734.6L408.6 788.5L290.4 788.3L316.0 790.2L408.6 664.6L307.5 798.8L392.3 634.2L428.1 719.2L323.6 745.6L416.3 728.7L414.0 607.2L415.2 741.1L437.2 764.8L418.9 723.2L399.9 747.7L422.8 785.6L386.9 712.1L438.4 722.4L377.5 648.9L404.1 741.9L407.0 693.3L398.6 734.6L315.1 768.8L300.8 774.3L401.7 745.1L369.4 767.2L379.9 608.1L398.5 710.4L335.3 714.9L395.1 749.1L317.9 796.3L405.0 740.5L424.6 616.3L331.4 712.6L341.1 791.1L423.2 722.2L312.3 791.1L383.0 729.1L362.3 695.1L403.3 727.2L318.7 785.2L392.7 661.1L312.9 788.5L412.5 750.1L372.0 786.5L393.4 774.5L353.2 784.2L437.9 714.5L314.7 786.0L394.0 710.2L420.1 743.7L307.9 768.8L406.6 741.8L372.1 792.1L382.4 783.3L377.8 697.9L403.1 729.0L393.8 666.5L403.8 682.6L367.1 787.8L395.8 712.5L423.7 691.0L384.2 662.9L319.3 776.1L377.2 771.2L377.3 597.3L379.0 685.9L399.6 693.7L388.5 657.0L423.2 681.4L303.2 792.9L392.8 789.6L408.9 731.7L324.9 702.9L307.4 794.3L362.3 784.5L353.1 802.8L358.1 794.8L317.5 798.3L393.4 669.8L367.5 664.3L314.4 774.2L326.4 729.1L402.7 703.8L344.5 716.6L426.3 753.2L348.9 796.5L368.3 746.8L320.4 792.5L369.8 797.3L312.5 798.1L323.4 771.4L380.0 632.3L387.5 692.0L419.1 703.4L312.1 791.4L397.5 742.8L406.5 710.6L373.9 780.0L388.2 745.0L299.2 713.1L412.7 642.5L398.7 760.0L373.1 800.3L402.7 736.4L418.3 628.9L420.8 712.2L379.2 795.7L330.1 711.8L396.8 676.3L319.6 784.1L401.9 729.7L323.5 790.5L396.8 692.3L295.2 777.3L403.4 580.4L398.8 605.6L427.1 694.7L372.5 793.6L315.3 756.4L295.0 791.3L366.2 734.5L424.7 706.3L415.6 649.9L315.1 802.9L386.1 748.7L402.2 775.7L399.4 730.0L384.7 705.0L393.9 669.2L398.4 664.5L409.1 758.3L416.4 753.3L395.9 643.7L388.2 739.7L419.2 769.0L426.5 800.2L302.2 799.1L417.2 731.2L311.1 787.8L404.9 756.5L315.2 790.6L358.1 692.4L321.2 793.0L417.5 636.7L315.2 789.8L299.8 775.0L318.5 794.5L410.6 748.4L382.0 640.5L408.5 767.8L409.8 761.5L406.0 767.7L424.6 631.6L413.3 709.5L391.7 802.2L343.5 785.6L399.7 720.7L423.3 798.0L313.6 787.2L373.4 791.6L435.9 798.1L391.0 742.7L346.8 796.8L400.4 632.3L389.0 680.9L407.7 793.4L396.4 669.2L294.6 803.4L352.7 794.8L290.3 730.1L341.1 797.3L357.4 798.6L419.6 735.8L339.9 784.7L353.2 744.9L378.4 688.4L392.8 714.3L387.5 777.4L322.9 791.5L403.7 722.2L378.3 794.6L349.9 791.2L407.6 753.0L329.7 776.4L421.5 720.5L425.0 754.6L302.2 766.1L298.0 796.9L438.9 790.2L358.8 790.5L309.9 785.0L382.6 641.5L409.7 621.9L386.1 653.0L290.3 799.1L323.4 738.9L417.7 603.8L392.9 699.0L402.9 622.9L289.6 778.6L368.6 734.3L397.9 727.3L297.8 787.8L302.8 771.3L407.3 754.6L428.9 738.8L445.9 767.3L381.8 791.1L427.7 726.1L289.8 712.8L413.2 656.7L395.3 751.6L390.6 778.4L291.9 789.0L407.5 757.1L417.8 797.0L403.7 773.2L297.4 736.0L323.2 777.9L360.3 676.8L364.6 781.5L401.5 758.8L355.7 795.8L314.1 791.4L377.4 767.5L411.0 790.2L404.3 789.2L403.4 705.9L367.5 665.9L364.3 788.5L444.4 776.9L296.8 740.7L393.2 765.5L386.4 686.6L403.9 771.5L365.3 668.8L383.7 771.4L378.7 714.2L402.8 737.3L424.9 701.1L381.3 705.6L399.0 626.4L388.7 797.3L372.4 716.3L421.1 740.6L363.4 765.0L422.2 766.1L401.0 721.9L299.8 771.0L381.6 800.6L368.7 746.0L307.9 794.8L405.5 729.6L289.5 798.5L342.1 619.7L364.9 801.9L290.4 802.4L405.0 691.5L380.0 785.8L359.2 783.1L387.4 622.7L387.1 619.8L301.3 784.6L417.3 772.7L348.5 753.7L395.4 750.6L414.2 704.6L315.7 744.6L309.1 799.9L421.3 717.8L296.5 778.5L436.6 792.9L374.6 786.0L401.3 737.6L370.0 650.7L408.2 754.4L359.1 790.3L333.3 774.0L407.0 755.4L329.8 790.6L397.4 739.9L299.3 753.4L381.7 704.8L323.1 783.1L313.3 789.5L414.0 761.8L404.0 765.4L318.3 768.3L403.7 802.1L424.5 725.1L328.5 778.6L398.0 721.8L302.2 786.2L433.9 590.9L405.4 717.1L340.7 742.7L296.1 802.4L321.7 800.8L338.4 793.5L419.1 755.6L363.0 698.6L419.1 731.4L412.4 734.9L343.1 793.5L422.5 580.4L312.0 797.6L293.3 786.5L362.1 657.1L301.3 798.5L378.4 770.8L419.0 675.3L320.3 783.0L305.6 772.9L288.3 711.1L392.3 638.0L397.9 746.0L381.1 681.5L327.6 795.1L394.3 741.7L408.0 583.4L439.2 643.7L377.4 636.4L302.7 774.1L394.5 793.7L384.2 778.0L443.0 609.7L318.2 798.3L381.2 754.7L418.6 790.4L430.2 603.6L303.9 792.8L418.1 701.1L387.6 754.7L312.6 716.5L384.3 738.8L299.8 772.6L358.2 757.7L289.0 785.6L391.3 747.1L327.6 610.7L437.0 618.8L357.9 694.8L421.2 780.7L394.1 674.6L360.2 799.9L393.1 767.6L417.4 770.0L398.6 708.4L337.8 768.9L415.6 716.4L299.2 780.8L395.9 719.3L313.4 793.2L355.2 791.1L415.9 585.9L410.7 642.2L448.2 785.1L397.2 597.0L289.5 777.8L394.5 665.3L364.9 784.7L318.7 774.8L417.6 762.6L423.2 733.2L310.0 799.5L359.9 703.4L365.1 642.7L421.4 654.3L388.7 715.5L418.7 794.4L417.1 602.2L376.4 655.5L300.3 786.5L425.5 760.1L427.2 707.1L400.7 712.2L401.7 757.3L360.9 663.3L311.9 797.9L339.9 638.4L331.9 737.2L351.2 799.1L429.3 798.2L400.6 695.7L375.2 795.1L390.6 753.7L328.8 719.9L330.1 754.0L305.6 714.3L433.5 712.4L385.0 693.0L290.2 773.2L408.7 756.0L289.3 775.6L427.3 700.8L302.6 785.3L306.7 762.4L345.6 790.3L369.8 802.1L393.4 771.7L397.1 761.2L433.4 784.1L402.8 601.0L436.3 768.6L374.0 703.9L420.8 608.6L411.2 797.9L377.1 763.8L387.5 608.9L423.1 709.8L319.3 788.9L297.9 793.9L404.0 710.0L334.2 791.8L427.9 684.9L398.7 730.7L399.0 751.8L393.9 719.0L323.4 787.1L420.7 705.9L371.8 736.8L378.1 742.3L312.9 759.9L417.8 778.1L405.2 733.0L405.8 756.4L373.7 603.2L339.2 794.0L304.9 782.1L357.8 651.6L312.6 793.5L444.4 735.6L296.5 796.7L407.8 735.6L442.0 793.9L368.9 648.3L298.8 788.3L393.6 630.4L423.7 733.9L307.4 773.2L403.6 787.7L321.3 743.1L454.5 645.8L362.0 797.2L308.4 784.7L349.6 790.2L406.4 728.3L336.5 787.9L290.6 770.4L403.0 752.6L450.5 785.8L401.9 762.1L418.8 750.3L293.8 770.9L353.7 766.9L421.3 697.3L311.7 766.8L301.4 773.3L405.8 704.2L313.5 784.2L293.3 775.2L445.4 688.2L424.8 739.2L399.9 700.6L385.3 662.5L306.7 772.5L427.6 780.2L355.0 752.3L368.9 769.0L423.7 601.0L305.9 787.9L395.2 707.8L407.3 724.9L310.8 792.7L416.7 785.0L306.8 794.3L392.8 607.0L445.3 786.8L427.1 722.5L419.4 680.6L360.9 688.4L374.6 761.9L302.1 790.8L370.1 788.8L446.4 689.4L323.5 790.8L436.6 784.1L342.4 740.3L314.6 792.9L359.5 773.6L422.0 800.0L366.4 796.6L399.8 597.7L395.5 745.8L308.0 790.0L406.2 702.5L418.5 751.1L339.2 770.9L409.5 701.7L414.0 778.0L404.1 698.9L394.6 715.9L417.5 717.4L373.7 655.8L405.4 661.9L301.2 782.9L307.5 746.0L304.3 795.0L424.7 766.1L380.1 654.8L407.0 585.8L388.8 790.6L413.8 701.1L313.8 803.3L335.8 791.4L409.4 721.9L392.3 746.1L342.6 790.7L424.1 738.8L429.0 635.7L304.6 799.2L424.2 712.9L357.5 774.5L412.5 792.6L427.2 597.5L415.8 791.3L293.5 777.8L360.4 641.8L356.3 664.5L416.9 717.1L310.2 795.0L421.4 657.9L421.2 801.8L323.1 791.5L419.4 718.6L434.7 682.9L332.5 791.2L301.2 776.9L312.5 779.4L289.3 783.0L312.3 790.8L384.4 784.6L398.6 704.5L396.9 719.6L421.5 799.3L324.4 792.0L369.4 790.1L393.5 607.0L335.1 784.2L313.1 580.4L316.7 787.2L408.9 682.0L328.8 619.0L396.7 793.7L310.3 794.7L425.7 750.3L372.8 760.4L366.6 653.4L321.8 788.9L385.4 679.6L423.3 752.6L435.6 783.6L347.1 787.8L380.2 772.6L289.8 776.6L425.2 724.0L319.6 797.1L333.1 795.4L375.8 785.9L431.4 626.1L410.7 794.3L385.1 791.0L417.8 682.9L296.5 776.8L413.6 790.8L291.2 783.8L287.0 788.6L426.7 708.0L376.6 785.1L323.9 800.9L377.0 661.1L305.0 763.7L308.9 796.0L350.3 794.0L431.2 605.2L450.1 801.3L315.2 762.3L289.2 780.8L300.6 791.5L420.4 788.3L347.9 792.2L381.3 654.7L343.0 799.6L430.8 628.9L415.4 598.3L343.5 728.5L415.6 708.2L299.2 777.4L387.3 777.4L430.7 621.8L376.0 711.8L432.6 745.5L381.5 764.7L303.3 779.8L296.5 796.2L439.0 779.9L405.9 724.2L386.1 761.7L451.2 795.3L438.0 729.4L395.7 679.2L340.8 779.1L407.9 732.1L388.8 710.5L316.9 790.2L400.8 776.4L399.9 737.8L441.8 796.5L398.8 785.6L310.6 788.2L394.0 697.7L313.3 798.0L342.3 799.0L386.5 618.1L293.7 793.4L341.4 796.8L385.2 616.3L366.3 735.4L317.2 794.2L426.0 764.3L333.2 734.6L362.5 775.3L418.3 650.2L374.5 757.4L305.6 762.1L421.2 709.3L292.2 774.0L327.0 701.0L393.3 646.6L365.8 752.5L414.5 645.3L383.9 679.6L379.6 647.5L394.9 731.0L434.8 790.4L296.7 776.0L357.7 650.5L403.9 689.3L399.7 681.6L303.2 792.7L390.2 641.6L411.6 787.3L426.9 785.7L290.0 787.4L394.3 697.1L406.9 798.3L394.3 776.7L342.5 791.5L318.4 788.1L390.7 606.8L400.4 743.2L377.9 793.0L387.9 646.5L401.4 771.3L394.2 754.3L353.7 802.3L417.0 671.9L317.2 771.4L380.8 782.8L365.5 627.3L388.5 647.3L380.3 759.2L400.4 656.1L305.6 793.5L411.2 792.2L363.6 739.9L398.1 769.5L435.6 769.8L415.8 715.1L306.9 763.9L386.0 630.8L316.1 792.0L416.3 721.6L376.2 784.4L311.4 802.0L386.1 736.2L407.1 791.3L394.1 791.5L308.1 770.5L302.7 775.1L324.1 787.5L390.2 793.6L287.8 783.2L366.4 691.6L424.4 792.1L314.1 801.9L379.6 605.3L407.2 615.8L302.5 769.5L313.0 760.3L408.4 679.6L395.8 610.7L311.6 770.7L331.4 715.6L412.4 713.0L422.7 617.1L380.3 628.1L350.4 619.6L416.6 796.7L308.8 798.2L301.4 789.7L390.4 744.8L362.7 790.6L384.4 662.0L329.0 798.4L314.2 775.1L291.4 764.3L385.9 801.9L365.1 793.8L414.7 796.6L290.5 769.5L320.4 774.0L389.0 658.5L295.7 762.1L404.2 724.2L372.3 788.5L390.1 680.4L318.4 778.0L375.2 659.0L393.6 744.0L314.1 782.7L340.3 763.3L325.7 758.6L411.8 723.8L286.8 770.7L373.5 790.0L404.7 757.8L395.3 644.8L310.5 739.0L393.3 679.6L406.1 611.7L297.1 758.9L420.3 705.0L404.8 790.1L312.7 788.1L389.5 662.1L399.1 638.2L393.6 683.2L320.6 776.9L288.8 798.3L385.2 767.4L391.0 789.9L328.7 727.3L354.6 618.3L379.9 801.6L425.2 756.2L422.0 786.2L390.4 798.3L408.3 761.5L385.3 735.1L364.5 778.8L346.0 713.1L431.5 610.4L384.8 753.6L423.6 777.1L370.6 717.9L408.9 660.9L297.3 777.6L415.2 682.3L398.3 793.0L388.4 779.9L393.4 733.7L302.7 772.4L291.7 793.2L422.3 660.6L386.1 746.5L397.1 745.0L334.7 793.7L424.5 715.9L348.2 602.6L358.5 791.3L420.5 743.7L359.3 713.0L383.0 792.6L441.6 667.3L403.6 609.1L397.1 630.9L395.3 624.3L380.4 615.5L390.9 625.4L394.7 682.5L349.1 778.9L437.0 795.9L393.0 757.4L413.8 712.2L392.9 796.2L358.3 703.4L394.1 781.5L416.4 746.0L422.9 791.1L425.7 674.0L308.5 777.1L314.9 778.6L308.6 788.3L450.6 803.3L367.8 708.9L328.2 797.9L304.6 781.8L425.0 594.5L420.0 743.3L320.9 799.6L384.9 670.3L334.6 802.6L322.7 779.1L322.1 791.7L310.4 797.0L392.5 777.1L345.5 735.7L306.7 793.9L337.8 795.5L393.5 754.2L411.3 691.4L430.2 791.7L419.5 746.2L307.8 772.7L373.4 692.4L372.7 785.9L420.0 714.8L384.0 795.0L412.8 769.6L424.0 616.8L408.2 763.3L380.3 800.5L389.5 723.6L301.4 754.0L420.9 763.6L391.4 754.0L410.0 652.9L404.5 675.9L391.0 639.1L396.6 801.2L329.9 722.8L405.9 713.3L425.4 755.7L358.1 793.1L441.6 778.2L393.2 648.4L305.0 791.8L448.8 655.3L405.5 664.7L412.6 672.9L388.0 648.6L372.8 732.6L287.3 784.9L408.2 669.8L367.0 741.9L358.6 738.8L318.6 771.0L377.7 766.4L404.3 764.0L367.9 613.4L359.6 795.8L406.3 589.0L298.9 755.9L421.6 592.7L385.8 798.0L395.4 760.5L306.0 797.4L379.3 782.3L303.1 771.2L400.1 712.0L306.1 800.0L408.9 780.9L291.5 783.8L320.9 786.7L401.5 686.9L290.6 794.9L391.2 790.9L402.0 681.5L397.4 632.7L320.2 787.0L368.2 792.8L382.1 719.8L402.6 786.1L397.3 711.8L396.9 779.5L387.8 688.9L306.7 762.3L369.4 641.7L406.1 598.3L379.4 720.1L369.1 789.6L376.2 792.3L391.9 667.9L288.3 784.7L349.5 777.4L301.7 783.8L326.0 760.0L379.9 723.4L402.5 745.9L338.4 791.9L402.9 736.0L309.2 785.9L410.7 799.7L399.9 628.0L307.1 783.6L319.0 785.4L385.2 793.9L420.1 723.1L401.4 677.6L417.5 704.3L406.7 707.1L404.6 662.6L380.2 781.3L298.9 791.6L393.7 735.6L293.5 786.9L295.0 794.4L311.8 800.0L422.2 756.7L292.4 766.8L362.1 797.7L414.5 777.3L393.3 752.9L335.5 790.2L381.4 609.7L385.2 732.5L360.9 702.8L299.1 780.4L377.4 618.5L315.8 752.8L299.5 775.9L320.6 787.2L395.4 590.6L318.9 781.6L361.7 786.5L316.8 791.8L300.7 636.6L302.8 793.0L323.3 788.5L426.5 764.7L424.8 768.2L375.0 783.6L293.5 771.7L364.8 722.7L419.0 621.3L378.2 613.5L387.8 704.4L359.4 764.3L362.0 790.2L446.5 791.8L362.7 693.8L422.5 678.6L307.4 801.8L298.7 793.8L414.0 697.3L387.9 784.8L384.5 800.0L295.3 792.0L394.7 735.1L385.5 740.4L325.6 797.9L388.4 641.5L408.4 712.8L400.6 732.0L297.2 802.4L393.4 798.1L435.7 652.1L307.8 797.2L413.4 765.9L382.8 783.4L305.5 776.8L410.3 796.3L365.1 708.9L439.7 790.5L389.0 800.5L290.3 763.7L413.8 789.7L366.5 767.4L406.6 623.4L382.9 696.2L392.1 779.9L399.5 689.2L314.0 795.0L386.7 654.2L339.2 782.1L295.4 788.9L416.6 781.8L395.1 676.4L371.6 719.3L358.6 786.4L313.4 786.1L317.5 794.3L381.4 799.5L396.2 710.2L381.6 688.0L374.6 668.2L392.2 731.9L308.9 786.3L379.7 783.2L450.5 792.1L312.8 785.8L359.0 793.8L358.8 801.8L422.8 800.7L301.1 778.4L444.8 779.1L421.2 774.9L299.1 772.2L392.1 654.4L402.1 722.9L397.3 720.5L424.9 773.1L418.0 734.7L420.7 709.0L375.2 733.3L361.4 794.4L296.6 771.5L406.3 615.0L415.5 743.3L393.2 732.7L338.4 794.0L400.2 608.3L382.8 639.0L314.7 786.5L318.3 794.2L392.0 607.1L425.0 757.8L402.9 774.3L372.8 694.0L445.8 800.9L293.1 778.4L405.6 710.8L414.8 749.6L420.4 750.3L386.1 665.0L394.7 745.3L425.8 727.0L413.1 746.7L304.9 790.3L419.7 713.5L419.5 778.2L433.6 623.9L420.5 610.6L390.0 793.2L315.4 782.1L291.4 767.3L402.7 750.8L322.1 709.2L398.9 631.9L438.1 787.0L395.6 789.3L309.7 777.7L386.3 768.1L393.4 794.6L287.2 775.4L390.6 761.6L406.5 699.1L289.2 773.8L389.8 674.3L366.1 607.6L399.3 757.6L411.8 782.9L361.2 789.6L426.2 733.1L303.7 764.1L393.3 777.6L415.5 781.8L404.6 788.3L360.1 648.2L398.7 691.6L361.6 789.6L296.0 785.3L358.7 788.2L406.1 735.2L319.1 781.1L368.7 769.5L292.1 799.5L358.6 644.6L345.4 800.4L392.3 622.2L398.4 666.9L399.4 794.1L399.2 618.3L348.8 756.9L427.7 580.4L348.9 710.5L372.0 626.0L295.2 784.1L319.5 669.9L415.3 749.1L419.1 761.5L385.2 731.5L327.3 787.8L382.0 758.5L316.8 800.6L316.4 797.0L442.5 691.8L314.7 790.4L396.8 730.0L438.5 654.0L308.0 785.2L403.2 735.0L426.4 629.0L308.9 790.5L346.4 759.9L391.9 710.0L409.1 708.2L342.2 690.3L318.0 755.2L410.6 738.9L402.4 704.4L409.3 772.8L395.1 702.0L357.1 795.7L404.1 755.1L409.9 793.1L313.7 771.6L424.4 703.6L331.7 780.6L372.2 641.2L366.1 686.4L441.5 790.3L290.1 785.3L407.7 647.9L397.2 598.4L298.3 792.1L416.1 619.0L398.0 756.4L384.8 801.8L318.5 784.4L354.6 793.9L398.3 747.9L395.7 637.1L313.2 771.2L389.2 788.0L395.8 797.2L407.3 722.5L431.6 647.6L369.6 731.6L377.3 802.8L394.3 606.7L428.7 640.3L315.9 802.4L400.2 760.4L338.5 765.1L303.3 801.1L379.8 761.9L350.6 742.4L390.6 795.4L299.9 769.6L306.3 801.6L403.2 765.8L394.0 672.6L377.2 791.1L351.0 750.8L369.0 789.1L398.5 614.7L417.2 730.6L338.3 718.7L293.0 749.0L393.6 790.5L411.9 740.3L371.0 700.5L416.2 752.8L296.1 793.4L317.5 793.7L418.1 781.9L377.5 737.6L424.1 726.3L299.4 717.3L397.1 718.7L389.7 596.6L303.2 774.5L350.8 756.5L316.5 777.3L421.4 615.2L303.0 772.0L402.5 726.7L439.5 613.9L422.7 745.1L370.5 627.7L325.6 790.7L393.6 726.2L301.4 702.6L292.6 739.2L425.3 759.4L318.9 791.7L409.7 708.7L409.6 733.9L361.8 799.9L419.2 746.1L405.0 787.4L309.6 799.3L300.9 794.6L379.0 766.8L300.9 775.6L404.0 793.2L390.0 607.9L411.4 746.3L337.8 792.5L297.4 766.1L307.2 790.7L397.0 753.2L356.3 687.9L338.5 791.0L320.4 802.5L387.3 699.7L289.9 779.0L430.3 720.0L410.5 789.4L309.5 776.1L437.2 754.4L393.7 765.1L389.7 787.9L332.3 785.5L307.4 785.0L381.1 792.4L393.1 791.4L387.4 740.7L349.0 791.9L299.6 781.0L396.8 691.4L359.6 639.0L319.8 800.0L429.3 798.4L289.2 737.2L394.0 639.7L375.1 744.9L365.6 598.4L387.8 775.4L404.1 720.5L433.3 795.7L387.2 786.2L407.3 771.0L348.9 741.7L390.8 768.6L291.1 788.6L334.9 787.8L411.4 709.5L394.5 766.8L403.6 787.3L395.2 658.2L312.8 796.1L308.8 790.5L381.8 655.9L340.5 789.8L290.2 779.3L292.7 779.5L442.3 776.8L391.6 700.3L392.5 691.3L382.0 737.9L363.4 802.0L392.1 682.9L325.3 792.6L300.3 797.8L381.3 663.9L382.4 635.3L436.5 776.1L300.0 786.3L300.2 773.4L311.7 775.2L289.5 784.5L345.1 762.8L424.5 763.4L422.0 690.8L406.9 778.2L346.1 580.4L354.8 786.6L306.0 775.7L389.9 790.7L324.4 798.6L315.6 774.9L361.4 761.9L344.8 706.8L385.4 726.0L409.2 726.5L312.7 780.0L408.3 729.8L315.1 801.4L392.8 643.7L307.4 793.6L390.6 779.1L394.1 751.8L299.5 777.2L313.5 778.2L410.4 695.9L402.4 735.3L349.0 796.0L311.8 802.9L300.8 800.6L417.0 691.3L422.4 766.3L321.1 775.1L447.7 779.1L412.3 720.1L403.4 751.0L400.9 771.7L360.2 785.8L445.1 797.4L309.4 799.0L429.3 793.0L343.0 781.1L311.0 768.7L295.8 799.2L367.5 663.4L414.8 765.9L360.1 794.6L413.0 706.6L437.4 681.7L355.8 741.8L303.6 762.6L418.3 764.6L412.9 726.3L405.5 800.1L385.2 591.0L396.9 736.6L303.4 797.1L312.2 796.5L333.5 784.4L412.7 594.2L375.1 758.5L410.4 777.5L437.0 686.0L380.0 791.2L370.0 729.1L402.8 764.2L394.6 722.6L353.1 791.4L408.4 754.5L349.2 785.0L350.0 792.1L393.0 676.0L423.5 720.6L311.0 795.8L374.8 719.5L404.0 762.4L300.0 714.8L374.1 785.1L428.0 676.0L378.7 732.6L376.1 684.8L418.7 699.8L369.5 668.0L448.4 776.0L379.6 683.4L407.1 714.2L427.8 795.2L299.1 791.2L330.5 790.4L423.2 795.1L401.1 717.1L423.9 605.3L300.7 718.8L304.9 761.5L311.8 791.6L311.7 788.3L322.5 791.3L395.6 742.1L393.0 749.3L415.2 673.3L400.2 744.8L300.4 769.9L392.5 792.9L353.5 794.3L422.0 741.8L393.1 729.0L442.6 700.6L312.3 780.5L415.6 784.2L402.3 762.1L304.8 768.1L400.7 664.9L340.4 784.5L353.7 757.3L436.2 801.1L424.2 759.5L388.0 708.2L418.5 745.2L304.7 777.3L337.7 793.5L419.6 601.8L289.8 768.0L310.7 793.4L369.9 694.2L382.7 632.9L392.9 681.5L323.1 695.7L397.8 768.6L422.6 706.7L397.8 791.4L401.7 725.3L384.9 790.2L391.8 690.8L386.5 757.7L338.5 794.1L296.8 769.4L315.6 792.4L300.7 768.9L363.1 728.0L389.9 608.1L291.0 731.4L372.3 708.5L423.8 795.8L379.9 630.7L389.8 771.4L430.3 701.8L385.2 785.3L416.3 673.0" fill="none" stroke="none" marker-start="url(#pt)" marker-mid="url(#pt)" marker-end="url(#pt)"/>
<ellipse cx="295.5" cy="795" rx="3.6" ry="4.6" transform="rotate(15 295.5 795)" fill="#F8766D"/>
<ellipse cx="295.5" cy="795" rx="3.6" ry="4.6" transform="rotate(15 295.5 795)" fill="none" stroke="#E0605A" stroke-width="0.8"/>
<path d="M320.9 802.5C321.1 798.3 321.2 794.2 321.5 790.0C321.8 785.9 322.2 782.3 322.7 777.6C323.4 771.5 324.1 762.9 325.3 756.6C326.3 751.4 327.0 747.0 328.8 742.6C330.5 738.2 333.3 734.0 335.8 730.3C338.0 727.0 341.3 724.9 342.8 721.5C344.3 717.9 343.0 712.1 344.6 709.3C345.8 707.2 348.1 706.2 350.0 705.0C351.9 703.9 354.7 701.7 356.0 702.3C357.2 702.8 357.4 705.4 357.7 707.5C358.2 710.7 357.5 715.7 357.5 720.0C357.5 724.5 359.5 731.4 357.7 733.8C356.5 735.4 352.9 734.3 351.6 735.5C350.4 736.7 349.6 738.9 349.8 740.8C350.1 743.4 353.9 746.2 355.1 749.6C356.5 753.6 356.4 758.7 356.8 763.6C357.2 768.8 357.3 774.1 357.5 780.0C357.7 786.9 357.6 795.0 357.7 802.5" fill="none" stroke="#A3A500" stroke-width="1.10" stroke-opacity="1.00" stroke-linejoin="round"/>
<path d="M322.5 802.5C322.8 796.7 322.7 790.6 323.5 785.0C324.3 779.8 325.7 774.2 327.0 770.0C327.9 766.9 328.4 763.5 330.0 762.0C331.3 760.8 333.3 760.7 335.0 760.5C336.7 760.3 338.4 760.6 340.0 761.0C341.7 761.4 343.3 762.3 345.0 763.0C346.7 763.7 348.4 764.2 350.0 765.0C351.7 765.8 353.8 766.5 355.0 768.0C356.3 769.7 356.5 771.9 357.0 775.0C357.9 781.1 357.2 793.3 357.3 802.5" fill="none" stroke="#A3A500" stroke-width="1.00" stroke-opacity="1.00" stroke-linejoin="round"/>
<path d="M325.0 786.9C324.9 782.3 324.6 775.4 326.5 773.3C327.7 772.0 330.1 772.3 332.0 772.3C334.2 772.3 336.7 773.5 339.0 773.5C341.3 773.5 343.5 772.4 346.0 772.3C348.7 772.2 352.7 771.5 354.5 773.3C356.8 775.5 356.5 782.3 356.5 786.9C356.5 791.7 357.3 799.0 354.5 801.5C351.7 804.0 344.7 801.8 340.0 801.8C335.5 801.8 329.5 803.8 327.0 801.5C324.3 799.1 325.1 791.7 325.0 786.9Z" fill="none" stroke="#A3A500" stroke-width="0.90" stroke-opacity="1.00" stroke-linejoin="round"/>
<path d="M325.8 788.0C325.7 784.2 325.6 778.6 327.3 776.8C328.5 775.5 330.9 775.8 332.8 775.8C335.0 775.8 337.5 777.0 339.8 777.0C342.1 777.0 344.4 775.8 346.8 775.8C349.2 775.8 352.5 775.3 354.1 776.8C356.1 778.7 356.1 784.2 356.1 788.0C356.1 792.0 356.5 798.2 354.1 800.3C351.6 802.5 345.2 800.6 340.8 800.6C336.4 800.6 330.3 802.5 327.8 800.3C325.4 798.2 325.9 792.1 325.8 788.0Z" fill="none" stroke="#A3A500" stroke-width="0.90" stroke-opacity="1.00" stroke-linejoin="round"/>
<path d="M326.6 789.2C326.6 786.2 326.6 781.8 328.1 780.3C329.3 779.1 331.7 779.3 333.6 779.3C335.8 779.3 338.3 780.5 340.6 780.5C342.9 780.5 345.3 779.3 347.6 779.3C349.7 779.3 352.3 779.0 353.7 780.3C355.4 781.9 355.7 786.2 355.7 789.2C355.7 792.4 355.8 797.3 353.7 799.1C351.4 801.0 345.7 799.4 341.6 799.4C337.3 799.4 331.0 801.1 328.6 799.1C326.5 797.3 326.7 792.4 326.6 789.2Z" fill="none" stroke="#A3A500" stroke-width="0.90" stroke-opacity="1.00" stroke-linejoin="round"/>
<path d="M327.4 790.4C327.4 788.2 327.6 785.1 328.9 783.9C330.1 782.8 332.5 782.9 334.4 782.9C336.6 782.9 339.1 784.1 341.4 784.1C343.7 784.1 346.3 782.9 348.4 782.9C350.2 782.9 352.2 782.9 353.3 783.9C354.6 785.1 355.3 788.1 355.3 790.4C355.3 792.8 355.1 796.5 353.3 797.9C351.2 799.6 346.2 798.2 342.4 798.2C338.3 798.2 331.8 799.8 329.4 797.9C327.6 796.5 327.4 792.8 327.4 790.4Z" fill="none" stroke="#A3A500" stroke-width="0.90" stroke-opacity="1.00" stroke-linejoin="round"/>
<path d="M328.2 791.5C328.2 790.1 328.7 788.3 329.7 787.4C330.9 786.4 333.3 786.4 335.2 786.4C337.4 786.4 339.9 787.6 342.2 787.6C344.5 787.6 347.2 786.3 349.2 786.4C350.6 786.5 352.0 786.6 352.9 787.4C353.9 788.3 354.8 790.1 354.9 791.5C355.0 793.2 354.3 795.7 352.9 796.7C351.0 798.0 346.7 797.0 343.2 797.0C339.2 797.0 332.5 798.3 330.2 796.7C328.7 795.6 328.2 793.2 328.2 791.5Z" fill="none" stroke="#A3A500" stroke-width="0.90" stroke-opacity="1.00" stroke-linejoin="round"/>
<path d="M330.5 788.5C331.3 788.5 332.2 789.1 332.8 789.7C333.4 790.4 333.8 791.5 334.0 792.5C334.2 793.5 334.3 794.6 334.0 795.5C333.8 796.3 333.2 797.2 332.6 797.7C332.0 798.2 331.2 798.5 330.5 798.5C329.8 798.5 329.0 798.2 328.4 797.7C327.8 797.2 327.2 796.3 327.0 795.5C326.7 794.6 326.8 793.5 327.0 792.5C327.2 791.5 327.6 790.4 328.2 789.7C328.8 789.1 329.7 788.5 330.5 788.5Z" fill="none" stroke="#A3A500" stroke-width="0.90" stroke-opacity="1.00" stroke-linejoin="round"/>
<path d="M341.0 788.5C341.9 788.5 343.1 789.0 343.9 789.7C344.6 790.4 345.1 791.5 345.4 792.5C345.6 793.5 345.7 794.6 345.4 795.5C345.1 796.3 344.4 797.2 343.6 797.7C342.9 798.2 341.9 798.5 341.0 798.5C340.1 798.5 339.1 798.2 338.4 797.7C337.7 797.2 337.0 796.3 336.7 795.5C336.4 794.6 336.5 793.5 336.7 792.5C336.9 791.5 337.5 790.4 338.2 789.7C338.9 789.0 340.1 788.5 341.0 788.5Z" fill="none" stroke="#A3A500" stroke-width="0.90" stroke-opacity="1.00" stroke-linejoin="round"/>
<path d="M351.2 788.5C352.1 788.5 353.1 789.1 353.7 789.7C354.4 790.4 354.9 791.5 355.1 792.5C355.3 793.5 355.4 794.6 355.1 795.5C354.8 796.3 354.2 797.2 353.5 797.7C352.9 798.2 352.0 798.5 351.2 798.5C350.4 798.5 349.5 798.2 348.8 797.7C348.1 797.2 347.5 796.3 347.2 795.5C346.9 794.6 347.0 793.5 347.2 792.5C347.4 791.5 347.9 790.4 348.6 789.7C349.3 789.1 350.3 788.5 351.2 788.5Z" fill="none" stroke="#A3A500" stroke-width="0.90" stroke-opacity="1.00" stroke-linejoin="round"/>
<rect x="320.4" y="779.0" width="5.3" height="23.6" fill="#A3A500" fill-opacity="0.38"/>
<path d="M320.9 772.0C320.9 773.3 320.9 774.5 320.9 775.8C320.9 777.1 321.0 778.4 320.9 779.6C320.8 780.9 320.4 782.2 320.2 783.4C320.1 784.7 319.9 786.0 320.0 787.2C320.1 788.5 320.9 789.8 321.0 791.1C321.1 792.3 320.8 793.6 320.6 794.9C320.4 796.1 319.8 797.4 319.9 798.7C320.0 800.0 320.6 801.2 321.0 802.5" fill="none" stroke="#A3A500" stroke-width="0.70" stroke-opacity="1.00" stroke-linejoin="round"/>
<path d="M322.3 772.0C322.0 773.3 321.5 774.5 321.4 775.8C321.4 777.1 322.1 778.4 322.1 779.6C322.0 780.9 321.3 782.2 321.2 783.4C321.1 784.7 321.5 786.0 321.6 787.2C321.8 788.5 322.1 789.8 322.1 791.1C322.1 792.3 321.7 793.6 321.6 794.9C321.5 796.1 321.8 797.4 321.7 798.7C321.7 800.0 321.4 801.2 321.2 802.5" fill="none" stroke="#A3A500" stroke-width="0.70" stroke-opacity="1.00" stroke-linejoin="round"/>
<path d="M323.3 772.0C323.2 773.3 323.0 774.5 322.9 775.8C322.8 777.1 322.5 778.4 322.6 779.6C322.7 780.9 323.1 782.2 323.2 783.4C323.4 784.7 323.5 786.0 323.5 787.2C323.4 788.5 323.0 789.8 322.9 791.1C322.9 792.3 323.1 793.6 323.2 794.9C323.3 796.1 323.6 797.4 323.5 798.7C323.4 800.0 322.7 801.2 322.3 802.5" fill="none" stroke="#A3A500" stroke-width="0.70" stroke-opacity="1.00" stroke-linejoin="round"/>
<path d="M324.2 772.0C324.4 773.3 324.8 774.6 324.7 775.8C324.6 777.1 323.8 778.3 323.6 779.6C323.5 780.9 323.7 782.2 323.8 783.4C323.9 784.7 324.1 786.0 324.2 787.2C324.3 788.5 324.4 789.8 324.4 791.1C324.4 792.3 324.2 793.6 324.2 794.9C324.1 796.1 324.3 797.4 324.2 798.7C324.1 800.0 323.8 801.2 323.6 802.5" fill="none" stroke="#A3A500" stroke-width="0.70" stroke-opacity="1.00" stroke-linejoin="round"/>
<path d="M325.6 772.0C325.4 773.3 325.2 774.5 325.1 775.8C325.0 777.1 324.7 778.4 324.8 779.6C324.9 780.9 325.7 782.2 325.9 783.4C326.0 784.7 325.6 786.0 325.5 787.2C325.4 788.5 325.2 789.8 325.2 791.1C325.3 792.3 325.6 793.6 325.6 794.9C325.6 796.1 325.4 797.4 325.3 798.7C325.2 800.0 325.0 801.2 324.8 802.5" fill="none" stroke="#A3A500" stroke-width="0.70" stroke-opacity="1.00" stroke-linejoin="round"/>
<path d="M361.0 802.5C361.2 788.3 361.3 771.5 361.5 760.0C361.6 752.1 361.8 747.8 362.0 740.0C362.3 729.0 362.5 708.9 363.0 700.0C363.2 695.6 363.5 693.3 363.8 690.0C364.1 686.7 364.6 683.3 364.9 680.0C365.2 676.7 365.2 672.9 365.6 670.0C365.9 667.7 366.2 665.8 367.0 663.8C367.8 661.8 369.4 660.0 370.6 658.0C372.0 655.8 373.4 653.0 374.8 651.0C376.0 649.3 377.5 648.7 378.4 646.7C379.8 643.7 379.9 639.0 380.5 634.0C381.4 626.7 381.5 612.1 382.6 607.0C383.0 604.9 383.4 602.8 384.1 602.7C384.7 602.6 385.7 604.6 386.5 606.0C387.8 608.3 389.6 611.5 390.5 615.5C391.9 621.7 391.2 631.8 391.5 640.0" fill="none" stroke="#00BF7D" stroke-width="1.10" stroke-opacity="1.00" stroke-linejoin="round"/>
<path d="M365.0 802.5C365.3 793.3 365.0 783.4 366.0 775.0C366.8 767.8 368.5 761.6 370.0 755.0C371.5 748.3 373.8 742.1 375.0 735.0C376.4 727.2 376.9 717.9 377.5 710.0C378.0 703.0 378.1 696.7 378.4 690.0C378.7 683.2 378.6 675.9 379.1 669.4C379.6 663.5 380.4 657.5 381.2 652.4C381.9 648.2 382.4 644.6 383.4 641.0C384.3 637.5 385.7 631.1 386.9 631.0C387.7 630.9 388.8 633.1 389.5 635.0C390.7 638.3 390.5 645.0 391.0 650.0" fill="none" stroke="#00BF7D" stroke-width="1.00" stroke-opacity="1.00" stroke-linejoin="round"/>
<path d="M389.0 649.5C389.8 649.6 390.1 653.5 390.4 656.2C391.0 660.2 391.1 666.4 391.2 671.7C391.3 677.2 391.5 683.2 391.2 688.4C391.0 692.7 390.7 697.5 389.9 700.6C389.4 702.5 388.8 704.9 388.0 705.0C387.2 705.1 386.0 702.5 385.2 700.6C384.1 697.6 383.7 692.7 383.4 688.4C383.0 683.2 383.1 677.1 383.4 671.7C383.7 666.4 384.1 660.2 385.4 656.2C386.3 653.4 388.2 649.4 389.0 649.5Z" fill="none" stroke="#00BF7D" stroke-width="1.00" stroke-opacity="1.00" stroke-linejoin="round"/>
<path d="M389.7 659.5C390.2 659.5 390.4 662.2 390.7 664.1C391.0 667.0 391.1 671.2 391.2 674.9C391.3 678.7 391.4 682.9 391.2 686.5C391.0 689.5 390.9 692.8 390.3 694.9C390.0 696.2 389.4 698.0 389.0 698.0C388.6 698.0 388.1 696.2 387.7 694.9C387.2 692.8 387.1 689.5 386.9 686.5C386.7 682.9 386.7 678.7 386.9 674.9C387.1 671.2 387.2 666.9 387.9 664.1C388.3 662.2 389.2 659.5 389.7 659.5Z" fill="none" stroke="#00BF7D" stroke-width="1.00" stroke-opacity="1.00" stroke-linejoin="round"/>
<path d="M362.5 802.5C362.6 788.8 361.4 769.6 362.8 761.3C363.4 757.5 363.8 755.0 365.5 753.3C366.9 751.9 369.5 751.4 371.5 751.3C373.5 751.2 375.2 752.6 377.5 752.8C380.4 753.0 385.3 750.9 387.5 751.8C389.0 752.4 389.7 753.2 390.5 755.3C392.9 761.9 390.5 786.8 390.5 802.5" fill="none" stroke="#00BF7D" stroke-width="0.90" stroke-opacity="1.00" stroke-linejoin="round"/>
<path d="M364.7 802.5C364.8 791.7 363.8 777.1 365.0 770.0C365.6 766.4 366.0 763.7 367.7 762.0C369.1 760.6 371.7 760.1 373.7 760.0C375.7 759.9 377.6 761.4 379.7 761.5C382.1 761.6 385.6 759.8 387.5 760.5C388.9 761.1 389.8 762.0 390.5 764.0C392.6 769.8 390.5 789.7 390.5 802.5" fill="none" stroke="#00BF7D" stroke-width="0.90" stroke-opacity="1.00" stroke-linejoin="round"/>
<path d="M366.9 802.5C367.0 794.6 366.2 784.6 367.2 778.8C367.8 775.4 368.2 772.5 369.9 770.8C371.3 769.4 373.9 768.9 375.9 768.8C377.9 768.7 379.9 770.2 381.9 770.3C383.8 770.4 386.0 768.8 387.5 769.3C388.8 769.8 389.8 770.9 390.5 772.8C392.3 777.7 390.5 792.6 390.5 802.5" fill="none" stroke="#00BF7D" stroke-width="0.90" stroke-opacity="1.00" stroke-linejoin="round"/>
<path d="M369.1 802.5C369.2 797.5 368.7 791.8 369.4 787.6C369.9 784.5 370.4 781.3 372.1 779.6C373.5 778.2 376.1 777.7 378.1 777.6C380.1 777.5 382.4 779.1 384.1 779.1C385.4 779.1 386.5 777.8 387.5 778.1C388.7 778.4 389.8 779.8 390.5 781.6C391.9 785.5 390.5 795.5 390.5 802.5" fill="none" stroke="#00BF7D" stroke-width="0.90" stroke-opacity="1.00" stroke-linejoin="round"/>
<path d="M371.3 802.5C371.4 799.9 371.1 797.2 371.6 794.6C372.1 791.9 372.6 788.3 374.3 786.6C375.7 785.2 378.3 784.7 380.3 784.6C382.3 784.5 385.1 786.4 386.3 786.1C386.9 786.0 387.0 785.1 387.5 785.1C388.3 785.2 389.9 786.9 390.5 788.6C391.6 791.6 390.5 797.9 390.5 802.5" fill="none" stroke="#00BF7D" stroke-width="0.90" stroke-opacity="1.00" stroke-linejoin="round"/>
<path d="M381.0 786.4C382.9 786.4 385.3 787.0 386.9 788.0C388.2 788.9 389.5 790.5 390.0 791.8C390.5 793.1 390.5 794.8 390.0 795.9C389.4 797.2 387.8 798.2 386.4 798.9C384.9 799.6 382.8 800.0 381.0 800.0C379.3 800.0 377.4 799.6 376.0 798.9C374.6 798.2 373.1 797.1 372.6 795.9C372.1 794.8 372.2 793.1 372.6 791.8C373.1 790.5 374.2 788.9 375.5 788.0C377.0 787.1 379.1 786.4 381.0 786.4Z" fill="none" stroke="#00BF7D" stroke-width="0.90" stroke-opacity="1.00" stroke-linejoin="round"/>
<rect x="355.8" y="776.0" width="5.5" height="26.6" fill="#3DB04A" fill-opacity="0.60"/>
<path d="M356.6 772.0C356.5 773.3 356.2 774.5 356.2 775.8C356.1 777.1 356.4 778.4 356.5 779.6C356.6 780.9 356.7 782.2 356.7 783.4C356.6 784.7 356.5 786.0 356.4 787.2C356.4 788.5 356.3 789.8 356.3 791.1C356.4 792.3 356.5 793.6 356.6 794.9C356.6 796.1 356.6 797.4 356.5 798.7C356.5 800.0 356.4 801.2 356.3 802.5" fill="none" stroke="#8BC34A" stroke-width="0.60" stroke-opacity="1.00" stroke-linejoin="round"/>
<path d="M358.2 772.0C358.2 773.3 358.4 774.5 358.3 775.8C358.3 777.1 357.7 778.4 357.7 779.6C357.6 780.9 358.1 782.2 358.2 783.4C358.4 784.7 358.4 786.0 358.3 787.2C358.3 788.5 358.0 789.8 358.0 791.1C358.0 792.3 358.1 793.6 358.1 794.9C358.1 796.1 357.8 797.4 357.8 798.7C357.9 800.0 358.1 801.2 358.3 802.5" fill="none" stroke="#8BC34A" stroke-width="0.60" stroke-opacity="1.00" stroke-linejoin="round"/>
<path d="M360.4 772.0C360.1 773.3 359.8 774.5 359.7 775.8C359.6 777.1 359.8 778.4 359.9 779.6C360.0 780.9 360.3 782.2 360.3 783.4C360.3 784.7 360.0 786.0 360.0 787.2C359.9 788.5 359.8 789.8 359.8 791.1C359.8 792.3 360.1 793.6 360.1 794.9C360.0 796.1 359.5 797.4 359.4 798.7C359.3 800.0 359.5 801.2 359.6 802.5" fill="none" stroke="#8BC34A" stroke-width="0.60" stroke-opacity="1.00" stroke-linejoin="round"/>
<path d="M393.5 802.5C393.5 768.3 393.4 733.1 393.5 700.0C393.6 669.0 392.6 628.5 393.8 610.0C394.3 601.7 394.7 596.4 396.0 592.0C396.8 589.2 397.6 586.6 399.2 585.5C400.7 584.5 402.8 585.0 405.0 584.9C407.9 584.8 411.8 585.0 415.0 585.0C417.9 585.0 421.8 583.7 423.4 584.9C424.7 585.8 424.6 587.6 425.0 590.0C425.9 595.8 425.2 605.8 425.3 620.0C425.5 655.1 425.4 741.7 425.5 802.5" fill="none" stroke="#00B0F6" stroke-width="1.10" stroke-opacity="1.00" stroke-linejoin="round"/>
<path d="M395.2 802.5C395.2 768.3 395.2 732.1 395.2 700.0C395.2 671.7 394.7 637.8 395.4 620.0C395.8 611.1 395.3 604.3 397.0 600.0C398.0 597.6 399.4 595.4 401.0 595.0C402.5 594.6 404.4 597.2 406.0 597.0C407.7 596.7 409.3 593.1 411.0 593.0C412.6 592.9 414.5 596.1 416.0 596.0C417.4 595.9 418.6 593.0 420.0 592.7C421.3 592.5 423.1 592.8 424.0 594.0C425.8 596.4 424.6 601.7 424.8 610.0C425.5 638.7 424.9 738.3 425.0 802.5" fill="none" stroke="#00B0F6" stroke-width="1.00" stroke-opacity="1.00" stroke-linejoin="round"/>
<path d="M396.6 802.5C396.7 768.3 396.7 731.5 396.8 700.0C396.9 673.1 396.1 642.0 397.0 625.0C397.5 616.2 397.1 609.0 399.0 605.0C400.0 602.9 401.4 601.8 403.0 601.0C404.7 600.2 407.0 600.4 409.0 600.5C411.0 600.6 413.1 601.5 415.0 601.5C416.7 601.5 418.5 600.2 420.0 600.5C421.3 600.8 422.7 601.5 423.5 603.0C425.1 606.0 423.9 611.3 424.0 620.0C424.4 648.4 424.1 741.7 424.2 802.5" fill="none" stroke="#00B0F6" stroke-width="1.00" stroke-opacity="1.00" stroke-linejoin="round"/>
<path d="M398.5 770.0C398.5 746.7 398.5 722.4 398.5 700.0C398.5 679.2 398.1 655.7 398.6 640.0C398.9 629.9 398.1 620.9 400.0 615.0C401.1 611.4 402.7 608.6 405.0 607.0C407.2 605.5 410.8 605.4 413.4 605.5C415.7 605.6 418.3 605.9 420.0 607.0C421.6 608.1 422.7 609.4 423.5 612.0C425.6 618.6 423.8 635.4 423.8 650.0C423.8 669.8 423.6 695.7 423.5 720.0C423.4 746.4 423.2 775.0 423.0 802.5" fill="none" stroke="#00B0F6" stroke-width="1.00" stroke-opacity="1.00" stroke-linejoin="round"/>
<path d="M400.6 765.0C400.6 743.3 400.6 720.8 400.6 700.0C400.6 680.9 400.4 658.8 400.8 645.0C401.1 636.7 400.8 630.6 402.0 625.0C402.9 620.7 403.8 616.4 406.0 614.0C407.8 612.0 410.7 610.8 413.0 610.5C415.0 610.3 417.5 610.7 419.0 612.0C420.8 613.5 421.7 616.0 422.5 620.0C424.7 630.6 422.7 660.0 422.5 680.0C422.3 700.0 421.7 719.8 421.5 740.0C421.3 760.6 421.5 781.7 421.5 802.5" fill="none" stroke="#00B0F6" stroke-width="1.00" stroke-opacity="1.00" stroke-linejoin="round"/>
<path d="M412.0 612.0C413.4 612.0 415.0 614.4 416.1 616.5C417.7 619.5 418.4 624.5 419.1 629.3C420.0 635.1 419.9 642.1 420.4 649.0C420.9 656.6 421.9 665.0 422.2 673.2C422.6 681.6 422.7 690.4 422.6 698.8C422.5 707.0 422.4 715.4 421.7 723.0C421.0 729.9 419.8 736.9 418.5 742.7C417.4 747.5 416.6 752.5 414.8 755.5C413.5 757.6 411.5 760.1 410.0 760.0C408.6 759.9 407.1 757.6 406.2 755.5C404.8 752.5 404.9 747.4 404.3 742.7C403.6 736.8 402.6 729.9 402.2 723.0C401.8 715.4 402.1 707.0 402.2 698.8C402.2 690.4 402.6 681.6 402.6 673.2C402.7 665.0 402.2 656.6 402.6 649.0C402.9 642.1 403.5 635.1 404.6 629.3C405.4 624.5 406.2 619.5 407.9 616.5C409.0 614.4 410.6 612.0 412.0 612.0Z" fill="none" stroke="#00B0F6" stroke-width="1.00" stroke-opacity="1.00" stroke-linejoin="round"/>
<path d="M412.0 615.5C413.6 615.5 415.9 617.6 416.9 619.6C418.4 622.4 417.4 627.1 418.0 631.5C418.6 636.9 420.2 643.2 420.8 649.6C421.4 656.7 421.2 664.4 421.3 671.9C421.5 679.7 422.0 687.8 421.7 695.6C421.4 703.2 420.3 710.8 419.5 717.9C418.9 724.2 418.5 730.7 417.5 736.0C416.7 740.4 416.3 745.1 414.6 747.9C413.4 749.9 411.2 752.2 410.0 752.0C409.0 751.8 408.4 749.7 407.7 747.9C406.5 745.0 405.2 740.4 404.5 736.0C403.7 730.7 403.9 724.2 403.7 717.9C403.6 710.8 403.8 703.1 403.8 695.6C403.7 687.8 403.4 679.7 403.3 671.9C403.2 664.4 402.8 656.7 403.2 649.6C403.5 643.3 404.4 636.9 405.2 631.5C405.8 627.1 405.6 622.4 407.1 619.6C408.3 617.6 410.4 615.5 412.0 615.5Z" fill="none" stroke="#00B0F6" stroke-width="1.00" stroke-opacity="1.00" stroke-linejoin="round"/>
<path d="M412.3 619.0C413.4 619.0 414.6 621.1 415.5 622.8C416.9 625.5 417.8 629.8 418.5 633.9C419.4 638.9 419.4 644.8 419.8 650.8C420.1 657.3 420.2 664.5 420.5 671.5C420.7 678.7 421.1 686.3 421.1 693.5C421.2 700.5 421.2 707.7 420.7 714.2C420.3 720.2 419.9 726.2 418.9 731.1C418.0 735.3 417.3 739.6 415.5 742.2C414.2 744.1 411.8 746.2 410.5 746.0C409.4 745.8 408.8 743.8 408.2 742.2C407.1 739.5 406.4 735.2 405.7 731.1C405.0 726.1 404.6 720.2 404.3 714.2C404.0 707.7 404.1 700.5 404.1 693.5C404.0 686.3 403.9 678.7 404.2 671.5C404.4 664.5 405.1 657.3 405.5 650.8C405.7 644.8 405.4 638.9 406.0 633.9C406.6 629.8 407.2 625.4 408.6 622.8C409.6 621.0 411.1 619.0 412.3 619.0Z" fill="none" stroke="#00B0F6" stroke-width="1.00" stroke-opacity="1.00" stroke-linejoin="round"/>
<path d="M412.5 622.6C413.6 622.6 415.0 624.5 415.9 626.2C417.2 628.6 417.5 632.7 418.2 636.6C419.0 641.3 419.9 646.9 420.2 652.5C420.5 658.6 419.7 665.3 419.8 671.9C419.8 678.7 420.5 685.9 420.4 692.7C420.2 699.3 419.5 706.0 419.1 712.1C418.8 717.7 419.0 723.3 418.2 728.0C417.5 731.9 416.8 736.0 415.3 738.4C414.1 740.1 412.3 742.1 411.0 742.0C409.8 741.9 408.5 740.1 407.8 738.4C406.7 736.0 407.1 731.9 406.7 728.0C406.2 723.3 405.5 717.7 405.1 712.2C404.6 706.0 404.3 699.3 404.2 692.7C404.0 685.9 404.1 678.7 404.3 671.9C404.5 665.3 405.0 658.6 405.4 652.5C405.6 646.9 405.2 641.2 406.1 636.6C406.8 632.7 408.2 628.7 409.6 626.2C410.5 624.6 411.5 622.6 412.5 622.6Z" fill="none" stroke="#00B0F6" stroke-width="1.00" stroke-opacity="1.00" stroke-linejoin="round"/>
<path d="M413.0 631.0C413.7 631.0 414.4 632.7 415.0 634.1C416.1 636.2 417.7 639.6 418.4 642.9C419.1 646.9 418.2 651.8 418.4 656.5C418.7 661.8 419.6 667.5 419.8 673.1C420.0 679.0 419.6 685.0 419.5 690.9C419.4 696.5 419.6 702.2 419.3 707.5C419.1 712.3 418.7 717.0 418.0 721.1C417.5 724.4 417.3 727.9 415.9 729.9C414.8 731.5 412.6 733.2 411.5 733.0C410.6 732.8 409.8 731.3 409.4 729.9C408.6 727.8 409.1 724.3 408.9 721.1C408.6 717.0 408.2 712.3 407.9 707.5C407.5 702.2 407.1 696.5 407.0 690.9C406.9 685.0 407.2 679.0 407.1 673.1C407.1 667.5 406.3 661.7 406.6 656.5C407.0 651.7 408.2 647.0 409.0 642.9C409.7 639.7 410.1 636.2 411.0 634.1C411.6 632.7 412.3 631.0 413.0 631.0Z" fill="none" stroke="#00B0F6" stroke-width="1.00" stroke-opacity="1.00" stroke-linejoin="round"/>
<path d="M413.4 641.0C414.2 641.1 415.0 642.4 415.6 643.5C416.5 645.3 416.8 648.1 417.3 650.8C418.0 654.1 418.8 658.1 419.2 662.0C419.6 666.3 419.9 671.1 419.7 675.7C419.6 680.5 418.6 685.5 418.2 690.3C417.8 694.9 417.6 699.7 417.4 704.0C417.2 707.9 417.3 711.9 417.0 715.2C416.7 717.9 417.0 720.8 415.9 722.5C415.0 723.8 412.8 725.3 412.0 725.0C411.4 724.8 411.2 723.6 411.0 722.5C410.5 720.7 410.4 717.9 410.2 715.2C409.9 711.8 409.7 707.9 409.4 704.0C409.0 699.7 407.9 694.9 407.8 690.3C407.8 685.5 409.2 680.5 409.3 675.7C409.4 671.1 408.7 666.3 408.6 662.0C408.6 658.1 408.5 654.1 408.9 650.8C409.2 648.1 409.3 645.2 410.3 643.5C411.1 642.3 412.5 640.9 413.4 641.0Z" fill="none" stroke="#00B0F6" stroke-width="1.00" stroke-opacity="1.00" stroke-linejoin="round"/>
<path d="M406.5 655.0C407.2 655.0 408.2 656.9 408.7 658.3C409.5 660.6 409.4 664.2 409.5 667.5C409.6 671.3 409.1 675.8 409.1 680.0C409.1 684.2 409.6 688.7 409.5 692.5C409.4 695.8 409.4 699.4 408.6 701.7C408.1 703.1 407.2 705.0 406.5 705.0C405.8 705.0 405.0 703.1 404.6 701.7C403.9 699.4 404.0 695.8 403.8 692.5C403.6 688.7 403.6 684.2 403.6 680.0C403.6 675.8 403.4 671.3 403.6 667.5C403.9 664.2 404.2 660.6 404.8 658.3C405.3 656.9 405.9 655.0 406.5 655.0Z" fill="none" stroke="#00B0F6" stroke-width="1.00" stroke-opacity="1.00" stroke-linejoin="round"/>
<path d="M414.5 648.0C415.2 648.0 416.2 650.4 416.7 652.3C417.5 655.2 417.2 659.8 417.4 664.0C417.7 668.9 418.1 674.7 418.2 680.0C418.2 685.3 418.1 691.1 417.7 696.0C417.3 700.2 416.8 704.8 416.1 707.7C415.6 709.5 415.0 712.0 414.5 712.0C414.0 712.0 413.5 709.5 413.2 707.7C412.6 704.8 412.3 700.2 412.1 696.0C411.8 691.1 411.9 685.3 411.8 680.0C411.7 674.7 411.2 668.9 411.4 664.0C411.6 659.8 411.9 655.2 412.7 652.3C413.1 650.5 413.8 648.0 414.5 648.0Z" fill="none" stroke="#00B0F6" stroke-width="1.00" stroke-opacity="1.00" stroke-linejoin="round"/>
<path d="M414.5 662.0C414.9 662.0 415.6 664.1 415.9 665.6C416.3 668.0 416.0 671.8 416.1 675.1C416.1 678.8 416.1 683.2 416.0 686.9C416.0 690.2 416.5 694.0 416.0 696.4C415.7 697.9 414.9 700.0 414.5 700.0C414.1 700.0 413.7 697.9 413.4 696.4C413.0 694.0 412.8 690.2 412.7 686.9C412.6 683.2 412.9 678.8 413.0 675.1C413.1 671.8 412.8 668.0 413.2 665.6C413.5 664.1 414.1 662.0 414.5 662.0Z" fill="none" stroke="#00B0F6" stroke-width="1.00" stroke-opacity="1.00" stroke-linejoin="round"/>
<path d="M418.0 802.5C417.9 791.7 417.4 779.5 417.7 770.0C417.9 762.5 419.2 756.2 419.0 750.0C418.8 744.6 417.5 740.0 417.0 735.0C416.5 730.0 416.3 725.0 416.0 720.0" fill="none" stroke="#00B0F6" stroke-width="1.00" stroke-opacity="1.00" stroke-linejoin="round"/>
<path d="M420.0 802.5C419.9 793.3 419.6 783.4 419.8 775.0C420.0 767.8 421.0 761.2 421.0 755.0C421.0 749.6 420.3 745.0 420.0 740.0" fill="none" stroke="#00B0F6" stroke-width="1.00" stroke-opacity="1.00" stroke-linejoin="round"/>
<path d="M397.8 802.5C397.9 796.7 397.8 790.8 398.0 785.0C398.2 779.3 398.0 772.6 399.0 768.0C399.7 764.8 400.5 760.8 402.0 760.0C403.1 759.4 404.8 761.3 406.0 761.0C407.5 760.6 408.8 756.9 410.0 757.0C411.3 757.1 412.6 759.7 413.4 762.0C414.8 766.0 414.4 773.7 414.5 780.0C414.6 787.1 414.2 795.0 414.0 802.5" fill="none" stroke="#00B0F6" stroke-width="1.00" stroke-opacity="1.00" stroke-linejoin="round"/>
<path d="M405.0 766.0C406.8 766.0 409.1 768.1 410.5 770.0C412.1 772.2 412.9 776.0 413.4 779.2C413.9 782.4 414.1 786.1 413.4 789.1C412.8 791.8 411.6 794.7 410.0 796.4C408.7 797.8 406.6 799.0 405.0 799.0C403.4 799.0 401.7 797.7 400.5 796.4C399.0 794.7 398.0 791.8 397.5 789.1C396.9 786.1 397.1 782.4 397.5 779.2C397.9 776.0 398.6 772.2 400.1 770.0C401.3 768.1 403.3 766.0 405.0 766.0Z" fill="none" stroke="#00B0F6" stroke-width="1.00" stroke-opacity="1.00" stroke-linejoin="round"/>
<path d="M403.0 772.0C404.4 771.8 406.6 773.4 407.9 774.9C409.3 776.5 410.1 779.3 410.5 781.6C410.9 783.9 411.0 786.6 410.5 788.8C410.0 790.8 409.1 792.9 407.9 794.1C406.9 795.1 405.2 796.0 404.0 796.0C402.8 796.0 401.6 795.1 400.7 794.1C399.6 792.9 398.9 790.7 398.5 788.8C398.1 786.6 398.2 783.9 398.5 781.6C398.8 779.3 399.1 776.6 400.1 774.9C400.8 773.6 401.8 772.1 403.0 772.0Z" fill="none" stroke="#00B0F6" stroke-width="1.00" stroke-opacity="1.00" stroke-linejoin="round"/>
<path d="M402.5 778.0C403.4 777.9 405.0 778.8 405.9 779.7C406.8 780.7 407.4 782.3 407.7 783.7C408.0 785.1 408.1 786.7 407.7 788.0C407.4 789.2 406.7 790.4 405.8 791.2C405.1 791.8 403.9 792.3 403.0 792.3C402.2 792.3 401.5 791.8 400.9 791.2C400.2 790.4 399.7 789.2 399.5 788.0C399.2 786.7 399.3 785.1 399.5 783.7C399.7 782.4 399.9 780.7 400.6 779.7C401.0 778.9 401.7 778.1 402.5 778.0Z" fill="none" stroke="#00B0F6" stroke-width="1.00" stroke-opacity="1.00" stroke-linejoin="round"/>
<path d="M396.0 802.7C405.7 802.7 415.3 802.7 425.0 802.7" fill="none" stroke="#00B0F6" stroke-width="1.00" stroke-opacity="1.00" stroke-linejoin="round"/>
<path d="M393.9 638.0C393.9 655.3 393.9 672.7 393.9 690.0" fill="none" stroke="#00B0F6" stroke-width="3.40" stroke-opacity="1.00" stroke-linejoin="round"/>
<rect x="391.6" y="650.0" width="4.7" height="152.6" fill="#00B0F6" fill-opacity="1.00"/>
<rect x="425.7" y="580.7" width="4.3" height="221.9" fill="#E76BF3" fill-opacity="1.00"/>
<path d="M430.0 590.0C431.0 587.3 431.4 583.4 433.0 582.0C434.3 580.9 436.3 581.1 438.0 580.9C439.8 580.7 441.8 580.3 443.4 580.7C444.8 581.1 446.0 581.9 447.0 583.0C448.2 584.3 449.1 585.8 449.8 588.5C451.3 594.6 450.0 607.1 450.0 620.0C449.9 640.6 450.0 677.9 449.0 700.0C448.3 715.6 446.1 727.1 446.0 740.0C445.9 752.1 447.5 764.0 448.0 775.0C448.5 784.7 448.7 793.3 449.0 802.5" fill="none" stroke="#E76BF3" stroke-width="1.00" stroke-opacity="1.00" stroke-linejoin="round"/>
<path d="M431.0 598.0C432.0 594.7 432.4 589.9 434.0 588.0C435.1 586.7 436.7 585.9 438.0 586.0C439.4 586.1 440.9 587.6 442.0 589.0C443.4 590.7 444.3 592.9 445.0 596.0C446.3 601.5 446.2 609.7 446.5 620.0C447.0 638.9 446.9 677.9 446.0 700.0C445.4 715.6 443.0 726.7 443.0 740.0C443.0 753.3 445.3 768.6 446.0 780.0C446.5 788.6 446.7 795.0 447.0 802.5" fill="none" stroke="#E76BF3" stroke-width="0.90" stroke-opacity="1.00" stroke-linejoin="round"/>
<path d="M430.7 610.0C431.0 616.7 431.4 621.8 431.5 630.0C431.8 642.9 431.3 662.7 431.2 680.0C431.1 698.6 430.9 720.8 430.8 738.0C430.8 751.7 430.8 763.6 430.9 775.0C430.9 784.8 431.0 793.3 431.0 802.5" fill="none" stroke="#E76BF3" stroke-width="0.90" stroke-opacity="1.00" stroke-linejoin="round"/>
<path d="M432.7 607.5C432.8 615.0 432.8 621.0 432.9 630.0C433.1 643.4 433.6 662.7 433.5 680.0C433.3 698.6 432.0 720.8 432.0 738.0C432.0 751.7 432.8 763.6 432.9 775.0C433.0 784.8 432.8 793.3 432.8 802.5" fill="none" stroke="#E76BF3" stroke-width="0.90" stroke-opacity="1.00" stroke-linejoin="round"/>
<path d="M434.7 605.0C434.9 613.3 435.3 620.2 435.4 630.0C435.6 643.8 435.4 662.7 435.0 680.0C434.6 698.6 433.0 720.8 433.1 738.0C433.2 751.7 434.5 763.6 434.7 775.0C434.9 784.8 434.6 793.3 434.6 802.5" fill="none" stroke="#E76BF3" stroke-width="0.90" stroke-opacity="1.00" stroke-linejoin="round"/>
<path d="M436.7 602.5C436.7 611.7 436.6 619.5 436.8 630.0C437.0 644.2 438.5 662.7 438.2 680.0C437.9 698.6 435.1 720.8 434.8 738.0C434.6 751.7 435.7 763.6 435.9 775.0C436.2 784.8 436.2 793.3 436.4 802.5" fill="none" stroke="#E76BF3" stroke-width="0.90" stroke-opacity="1.00" stroke-linejoin="round"/>
<path d="M438.7 600.0C438.9 610.0 439.1 618.7 439.3 630.0C439.5 644.5 440.3 662.7 439.7 680.0C439.1 698.6 435.5 720.8 435.4 738.0C435.4 751.7 437.4 763.6 437.9 775.0C438.3 784.8 438.1 793.3 438.2 802.5" fill="none" stroke="#E76BF3" stroke-width="0.90" stroke-opacity="1.00" stroke-linejoin="round"/>
<path d="M440.7 602.5C440.8 611.7 440.8 619.5 440.9 630.0C441.0 644.2 442.1 662.7 441.6 680.0C441.0 698.6 437.1 720.8 437.1 738.0C437.1 751.7 439.5 763.6 440.0 775.0C440.3 784.8 440.0 793.3 440.0 802.5" fill="none" stroke="#E76BF3" stroke-width="0.90" stroke-opacity="1.00" stroke-linejoin="round"/>
<path d="M442.7 605.0C443.0 613.3 443.4 620.2 443.6 630.0C443.9 643.8 444.8 662.7 444.0 680.0C443.1 698.6 438.3 720.8 438.2 738.0C438.1 751.7 440.9 763.6 441.5 775.0C442.0 784.8 441.7 793.3 441.8 802.5" fill="none" stroke="#E76BF3" stroke-width="0.90" stroke-opacity="1.00" stroke-linejoin="round"/>
<path d="M444.7 607.5C444.8 615.0 444.9 621.0 445.1 630.0C445.3 643.4 446.8 662.7 446.0 680.0C445.2 698.6 439.3 720.8 439.4 738.0C439.5 751.7 443.5 763.6 444.1 775.0C444.6 784.8 443.8 793.3 443.6 802.5" fill="none" stroke="#E76BF3" stroke-width="0.90" stroke-opacity="1.00" stroke-linejoin="round"/>
<path d="M446.7 610.0C446.9 616.7 447.1 621.8 447.3 630.0C447.5 642.9 448.2 662.7 447.3 680.0C446.3 698.6 440.8 720.8 440.9 738.0C441.0 751.7 444.9 763.6 445.6 775.0C446.1 784.8 445.5 793.3 445.4 802.5" fill="none" stroke="#E76BF3" stroke-width="0.90" stroke-opacity="1.00" stroke-linejoin="round"/>
</g>
<rect x="45.00" y="569.40" width="186.00" height="244.60" fill="none" stroke="#333" stroke-width="1.1"/>
<line x1="42.60" y1="803.40" x2="45.00" y2="803.40" stroke="#333333" stroke-width="1"/>
<text x="40.90" y="807.10" font-family="Liberation Sans, sans-serif" font-size="10.3" fill="#4D4D4D" text-anchor="end">0.00</text>
<line x1="42.60" y1="747.65" x2="45.00" y2="747.65" stroke="#333333" stroke-width="1"/>
<text x="40.90" y="751.35" font-family="Liberation Sans, sans-serif" font-size="10.3" fill="#4D4D4D" text-anchor="end">0.25</text>
<line x1="42.60" y1="691.90" x2="45.00" y2="691.90" stroke="#333333" stroke-width="1"/>
<text x="40.90" y="695.60" font-family="Liberation Sans, sans-serif" font-size="10.3" fill="#4D4D4D" text-anchor="end">0.50</text>
<line x1="42.60" y1="636.15" x2="45.00" y2="636.15" stroke="#333333" stroke-width="1"/>
<text x="40.90" y="639.85" font-family="Liberation Sans, sans-serif" font-size="10.3" fill="#4D4D4D" text-anchor="end">0.75</text>
<line x1="42.60" y1="580.40" x2="45.00" y2="580.40" stroke="#333333" stroke-width="1"/>
<text x="40.90" y="584.10" font-family="Liberation Sans, sans-serif" font-size="10.3" fill="#4D4D4D" text-anchor="end">1.00</text>
<line x1="53.00" y1="814.00" x2="53.00" y2="816.40" stroke="#333333" stroke-width="1"/>
<text x="53.00" y="825.20" font-family="Liberation Sans, sans-serif" font-size="10.3" fill="#4D4D4D" text-anchor="middle">0.00</text>
<line x1="98.00" y1="814.00" x2="98.00" y2="816.40" stroke="#333333" stroke-width="1"/>
<text x="98.00" y="825.20" font-family="Liberation Sans, sans-serif" font-size="10.3" fill="#4D4D4D" text-anchor="middle">0.25</text>
<line x1="143.00" y1="814.00" x2="143.00" y2="816.40" stroke="#333333" stroke-width="1"/>
<text x="143.00" y="825.20" font-family="Liberation Sans, sans-serif" font-size="10.3" fill="#4D4D4D" text-anchor="middle">0.50</text>
<line x1="188.00" y1="814.00" x2="188.00" y2="816.40" stroke="#333333" stroke-width="1"/>
<text x="188.00" y="825.20" font-family="Liberation Sans, sans-serif" font-size="10.3" fill="#4D4D4D" text-anchor="middle">0.75</text>
<text x="4.0" y="577.3" font-family="Liberation Serif, serif" font-size="11" font-weight="bold">e</text>
<text transform="translate(14.00 692.70) rotate(-90)" font-family="Liberation Serif, serif" font-size="13.4" text-anchor="middle" textLength="166.0" lengthAdjust="spacing">Promoter Methylation Level</text>
<text x="138.00" y="840.40" font-family="Liberation Serif, serif" font-size="13.4" text-anchor="middle" textLength="183.0" lengthAdjust="spacing">Gene Body Methylation Level</text>
<rect x="280.40" y="569.40" width="186.20" height="244.60" fill="none" stroke="#333" stroke-width="1.1"/>
<line x1="278.00" y1="803.40" x2="280.40" y2="803.40" stroke="#333333" stroke-width="1"/>
<text x="276.30" y="807.10" font-family="Liberation Sans, sans-serif" font-size="10.3" fill="#4D4D4D" text-anchor="end">0.00</text>
<line x1="278.00" y1="747.65" x2="280.40" y2="747.65" stroke="#333333" stroke-width="1"/>
<text x="276.30" y="751.35" font-family="Liberation Sans, sans-serif" font-size="10.3" fill="#4D4D4D" text-anchor="end">0.25</text>
<line x1="278.00" y1="691.90" x2="280.40" y2="691.90" stroke="#333333" stroke-width="1"/>
<text x="276.30" y="695.60" font-family="Liberation Sans, sans-serif" font-size="10.3" fill="#4D4D4D" text-anchor="end">0.50</text>
<line x1="278.00" y1="636.15" x2="280.40" y2="636.15" stroke="#333333" stroke-width="1"/>
<text x="276.30" y="639.85" font-family="Liberation Sans, sans-serif" font-size="10.3" fill="#4D4D4D" text-anchor="end">0.75</text>
<line x1="278.00" y1="580.40" x2="280.40" y2="580.40" stroke="#333333" stroke-width="1"/>
<text x="276.30" y="584.10" font-family="Liberation Sans, sans-serif" font-size="10.3" fill="#4D4D4D" text-anchor="end">1.00</text>
<line x1="288.80" y1="814.00" x2="288.80" y2="816.40" stroke="#333333" stroke-width="1"/>
<text x="288.80" y="825.20" font-family="Liberation Sans, sans-serif" font-size="10.3" fill="#4D4D4D" text-anchor="middle">0.00</text>
<line x1="332.20" y1="814.00" x2="332.20" y2="816.40" stroke="#333333" stroke-width="1"/>
<text x="332.20" y="825.20" font-family="Liberation Sans, sans-serif" font-size="10.3" fill="#4D4D4D" text-anchor="middle">0.25</text>
<line x1="375.60" y1="814.00" x2="375.60" y2="816.40" stroke="#333333" stroke-width="1"/>
<text x="375.60" y="825.20" font-family="Liberation Sans, sans-serif" font-size="10.3" fill="#4D4D4D" text-anchor="middle">0.50</text>
<line x1="419.00" y1="814.00" x2="419.00" y2="816.40" stroke="#333333" stroke-width="1"/>
<text x="419.00" y="825.20" font-family="Liberation Sans, sans-serif" font-size="10.3" fill="#4D4D4D" text-anchor="middle">0.75</text>
<line x1="462.40" y1="814.00" x2="462.40" y2="816.40" stroke="#333333" stroke-width="1"/>
<text x="462.40" y="825.20" font-family="Liberation Sans, sans-serif" font-size="10.3" fill="#4D4D4D" text-anchor="middle">1.00</text>
<text x="238.5" y="577.3" font-family="Liberation Serif, serif" font-size="11" font-weight="bold">f</text>
<text transform="translate(249.60 692.70) rotate(-90)" font-family="Liberation Serif, serif" font-size="13.4" text-anchor="middle" textLength="166.0" lengthAdjust="spacing">Promoter Methylation Level</text>
<text x="373.50" y="840.40" font-family="Liberation Serif, serif" font-size="13.4" text-anchor="middle" textLength="183.0" lengthAdjust="spacing">Gene Body Methylation Level</text>
</svg>
</div></body></html>
